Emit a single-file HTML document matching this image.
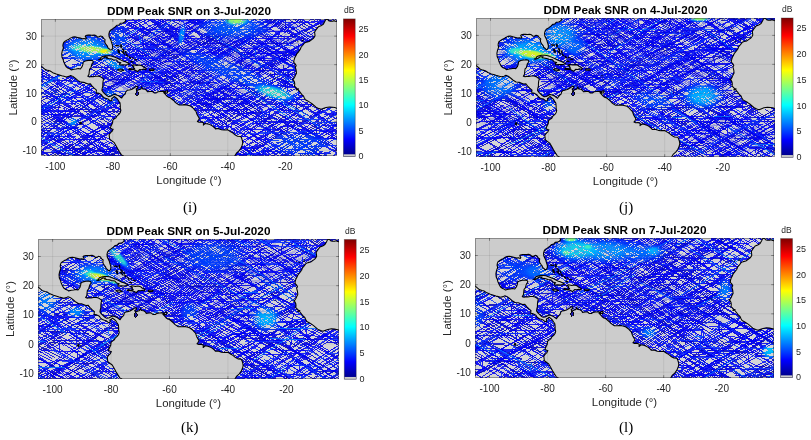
<!DOCTYPE html>
<html><head><meta charset="utf-8"><title>DDM Peak SNR</title>
<style>html,body{margin:0;padding:0;background:#fff;width:811px;height:440px;overflow:hidden}
svg{display:block;font-family:"Liberation Sans",sans-serif}</style></head>
<body><svg width="811" height="440" viewBox="0 0 811 440">
<defs><linearGradient id="jet" x1="0" y1="0" x2="0" y2="1"><stop offset="0.0000" stop-color="#800000"/><stop offset="0.0156" stop-color="#8f0000"/><stop offset="0.0312" stop-color="#9f0000"/><stop offset="0.0469" stop-color="#af0000"/><stop offset="0.0625" stop-color="#bf0000"/><stop offset="0.0781" stop-color="#cf0000"/><stop offset="0.0938" stop-color="#df0000"/><stop offset="0.1094" stop-color="#ef0000"/><stop offset="0.1250" stop-color="#ff0000"/><stop offset="0.1406" stop-color="#ff1000"/><stop offset="0.1562" stop-color="#ff2000"/><stop offset="0.1719" stop-color="#ff3000"/><stop offset="0.1875" stop-color="#ff4000"/><stop offset="0.2031" stop-color="#ff5000"/><stop offset="0.2188" stop-color="#ff6000"/><stop offset="0.2344" stop-color="#ff7000"/><stop offset="0.2500" stop-color="#ff8000"/><stop offset="0.2656" stop-color="#ff8f00"/><stop offset="0.2812" stop-color="#ff9f00"/><stop offset="0.2969" stop-color="#ffaf00"/><stop offset="0.3125" stop-color="#ffbf00"/><stop offset="0.3281" stop-color="#ffcf00"/><stop offset="0.3438" stop-color="#ffdf00"/><stop offset="0.3594" stop-color="#ffef00"/><stop offset="0.3750" stop-color="#ffff00"/><stop offset="0.3906" stop-color="#efff10"/><stop offset="0.4062" stop-color="#dfff20"/><stop offset="0.4219" stop-color="#cfff30"/><stop offset="0.4375" stop-color="#bfff40"/><stop offset="0.4531" stop-color="#afff50"/><stop offset="0.4688" stop-color="#9fff60"/><stop offset="0.4844" stop-color="#8fff70"/><stop offset="0.5000" stop-color="#80ff80"/><stop offset="0.5156" stop-color="#70ff8f"/><stop offset="0.5312" stop-color="#60ff9f"/><stop offset="0.5469" stop-color="#50ffaf"/><stop offset="0.5625" stop-color="#40ffbf"/><stop offset="0.5781" stop-color="#30ffcf"/><stop offset="0.5938" stop-color="#20ffdf"/><stop offset="0.6094" stop-color="#10ffef"/><stop offset="0.6250" stop-color="#00ffff"/><stop offset="0.6406" stop-color="#00efff"/><stop offset="0.6562" stop-color="#00dfff"/><stop offset="0.6719" stop-color="#00cfff"/><stop offset="0.6875" stop-color="#00bfff"/><stop offset="0.7031" stop-color="#00afff"/><stop offset="0.7188" stop-color="#009fff"/><stop offset="0.7344" stop-color="#008fff"/><stop offset="0.7500" stop-color="#0080ff"/><stop offset="0.7656" stop-color="#0070ff"/><stop offset="0.7812" stop-color="#0060ff"/><stop offset="0.7969" stop-color="#0050ff"/><stop offset="0.8125" stop-color="#0040ff"/><stop offset="0.8281" stop-color="#0030ff"/><stop offset="0.8438" stop-color="#0020ff"/><stop offset="0.8594" stop-color="#0010ff"/><stop offset="0.8750" stop-color="#0000ff"/><stop offset="0.8906" stop-color="#0000ef"/><stop offset="0.9062" stop-color="#0000df"/><stop offset="0.9219" stop-color="#0000cf"/><stop offset="0.9375" stop-color="#0000bf"/><stop offset="0.9531" stop-color="#0000af"/><stop offset="0.9688" stop-color="#00009f"/><stop offset="0.9844" stop-color="#00008f"/><stop offset="1.0000" stop-color="#000080"/></linearGradient></defs>
<clipPath id="cp0"><rect x="41" y="19" width="296" height="137"/></clipPath>
<defs>
<path id="p0a" d="M88.54 -8.54L104.87 1.66M98.74 -2.63L107.11 1.73M89.2 -6L102.69 1.72M103.69 2.29L124.95 14.45M81.88 -7.97L106.81 7.9M75.32 -11.37L101.87 3.12M76 -9.96L92.21 1.92M85.97 -1.34L93.2 3.88M78.94 -4.79L99.75 9.35M66.82 -11.58L101.76 7.19M61.57 -12.92L83.28 0.72M86.54 2.77L112.67 19.19M75.82 -3.32L86.43 3.37M72.34 -4.31L92.3 8.28M99.16 12.61L118.53 24.83M60.13 -11.55L88.31 6.31M101.8 14.86L124.65 29.33M74.74 3.99L95.52 17.64M78.65 6.86L88.87 12.75M87.69 16.02L121.94 37.82M35.38 -11.7L56.31 -0.81M61.01 2.21L97.72 21.88M98.88 22.51L111.95 29.51M54.37 0.54L66.56 6.51M66.53 8.64L85.88 20.14M45.7 -3.85L78.33 17.44M83.64 20.9L97.36 29.85M36.82 -8.79L53.91 2.1M51.06 2.64L70.08 12.36M37.93 -3.31L72.16 13.74M103.05 38.25L134.08 59.73M40.75 -4.35L48.45 1.04M56.08 7.89L93.29 26.17M66.51 15.35L103.34 37.91M38.11 0.61L51.43 7.69M67.23 17.81L101.85 39.26M35.23 -1.34L49.03 8.11M53.49 11.17L77.79 27.82M56.51 13.74L79.59 29.76M86.26 34.39L97.28 42.04M47.18 9.26L61.28 16.82M17.77 -5.69L37.17 4.88M64.87 19.97L77.22 26.7M42.08 8.09L49.7 12.25M79.98 28.77L95.73 37.36M90.29 35.07L105.03 43.17M90.8 41.91L104.39 51.57M31.47 -0.22L49.92 13.33M54.18 16.45L80.47 35.75M83.01 37.62L99.66 49.84M35.67 7.05L53.17 16.82M82.12 32.97L97.57 41.59M38.31 8.75L57.46 19.85M81.49 33.77L99.95 44.47M52.33 18.41L85.84 40.58M89.78 42.99L117.47 60.51M69.63 29.01L101.03 44.6M70.04 31.6L102.34 50.86M24.54 4.39L42.87 15.7M55.7 24.53L88.7 45.03M12.34 -4.07L35.12 11.98M50.55 23.63L69.83 34.2M34.76 16.81L69.11 37.3M9.25 1.48L43.77 22.55M50.21 26.48L78.15 43.53M2.62 -5.05L27.9 12.15M-16.62 -12.26L12.19 5.23M2.16 0.5L21.58 12.54M21.04 12.82L31.61 19.36M8.63 2.39L22.62 12.28M43.73 27.19L64.14 41.62M-11.1 -10.1L24.83 14.7M13.83 10.92L37.98 25.59M32.26 22.94L55.74 36.47M-3.67 2.25L24.21 19.24M43.09 30.74L67.62 45.68M24.14 20.09L43.21 31.74M9.75 12.92L27.12 23.11M-2.6 10.87L22.22 23.37M-19.17 3.37L12.06 18.93M15.09 20.44L22.92 24.35M28.14 26.95L45.01 35.35M32.02 29.58L51.07 39.36M18.5 23.05L27.97 27.95M63.59 46.4L80.86 55.34M49.7 39.89L70.02 51.56M17.87 22.58L55.48 44.44M56.59 45.08L91.32 65.25M35.53 33.6L53.14 43.94M-0.09 13.1L12.39 20.48M43.49 38.86L57.96 47.42M31.52 34.02L54.59 48.98M45.64 43.66L78.61 65.06M-27.41 3.47L3.49 20.44M27.35 33.55L55.53 49.02M1.92 15.58L11.04 21.95M17.76 26.65L49.47 48.79M35.37 41.25L73.12 60.77M-1.97 19.03L21.07 33.73M-1.95 20.17L35.89 44.34M40.73 47.43L71.36 67M-13.34 18.53L24.78 39.12M27.03 46.23L45.04 55.96M20.6 43.33L46.15 58.22M-27.71 15.8L7.49 36.88M27.6 48.93L54.15 64.83M-26.29 17.38L9.65 38.98M-5.69 27.08L22.55 47.4M2.72 41.39L34.83 58.02M-0.25 38.58L23.93 52.79M-11.86 29.81L21.38 51.26M3.97 44.98L12.69 50.61M-3.77 40.34L27.48 60.62M-36.09 28.85L0.83 47.64M-18.35 39.36L21.05 59.08M-1.46 46.09L30.25 66.47M-33.04 27.3L1 48.53M-14.86 42.88L18.5 62.21M-19.36 39.61L16.31 61.15M-8.73 3.04L14.55 -7.95M-26.59 19.85L3.5 1.89M-7.16 8.19L10.21 -1.73M-31.5 23.26L1.69 3.99M-9.34 12.89L26.31 -8.9M4.48 4.42L32.45 -9.2M-29.62 28.44L9.06 6.8M-19.92 23.49L6.78 8.65M-27.68 28.53L9.12 7.94M14.24 5.07L33.12 -5.5M0.95 12.31L11.13 6.82M16.25 4.06L37.67 -7.48M15.86 4.86L26.82 -0.57M17 7.62L30.87 0.39M-27.8 33.71L7.51 14.98M-2.72 21.05L21.32 8.37M25.82 5.99L58.72 -11.37M39.35 0.1L65.83 -15.99M-26.31 38.27L2.13 22.16M42.46 -0.68L80.65 -22.3M13.23 16.1L23.1 10.64M31.61 7.92L68.38 -14.66M-23.48 44.05L9.49 22.81M28.42 10.19L38.36 4.63M41.13 3.08L64.43 -9.96M-25.07 49.17L1.18 31.08M2.76 29.98L11.91 23.68M33.18 10.6L47.96 1.46M-4.99 30.41L5.99 24.7M-20.53 43.79L8.36 26.78M13.51 23.75L23.67 17.77M-18.45 43.38L13.75 24.61M34.01 13.17L45.48 6.61M30.25 16.64L42.48 9.94M38.44 13.81L70.81 -8.23M-0.31 41.23L35.4 16.52M-5.8 45.17L6.22 36.95M9.3 34.84L24.67 24.33M26.34 23.19L48.96 7.72M55.42 3.3L64.9 -3.18M32.46 17.63L49.42 9.64M8.65 32.71L29.39 20.96M34.37 18.13L49.14 9.76M48.99 10.32L72.18 -3.02M-22.6 51.71L9.95 33.28M49 11.17L61.76 3.94M70.09 -0.77L93.42 -13.98M41.43 15.53L73.48 0.51M40.7 16.48L76.33 -0.67M-3.62 45.77L26.1 26.98M49.23 12.36L84.41 -9.87M55.15 9.57L89.29 -12.22M1.48 43.8L27.51 28.18M68.13 6.17L83.95 -2.13M76.22 3.3L101.82 -10.24M41.28 22.87L58.29 13.29M64.67 9.7L98.77 -9.5M-14.15 60.87L22.15 36.75M24.38 35.27L47.89 19.64M53.52 15.9L66.94 6.98M61.08 12.95L78.2 3.75M20.47 35.46L51.59 18.59M19.44 39.71L55.58 16.75M-15.21 63.64L17.01 42.95M9.77 48.71L40.91 28.22M81.52 1.48L110.63 -17.68M-0.95 55.96L26.99 37.72M64.8 13.03L88.07 -2.15M-19.04 60.08L8.96 45.25M35.2 31.36L60.71 17.85M67.78 15.3L79.55 9.59M18.17 40.22L29.24 34.76M24.58 41.14L46.15 27.65M51.44 24.35L71.07 12.08M-12.96 55.13L17.31 41M76.04 12.67L103.94 -1.99M35.12 38.95L43.05 33.29M29.2 40.52L58.99 23.91M-9.7 58.58L18.52 44.89M71.11 19.79L92.56 9.23M35.27 39.8L49.76 31.74M26.68 45.41L36.55 39.79M73.25 18.87L109.49 -1.78M15.43 52.7L41.69 37.84M7.09 57.94L36.4 41.33M69.86 22.36L98.35 6.21M23.56 46.21L63.8 27.34M72.15 23.42L86.15 16.85M99.51 4.97L126.68 -12.01M63.07 30.62L89.49 16.68M56.49 37.59L80.22 22.32M82.14 22.52L117.24 0.27M94.95 14.95L110.42 5.11M50.91 43.19L87.04 21.63M94.71 17.05L130.67 -4.41M62.79 37.28L100.75 15.19M55.58 42.34L88 20.58M89.05 19.88L126 -4.92M80.73 28.67L94.7 21.12M23.64 61.8L57.8 41.77M26.93 61.24L65.75 39.16M39.73 61.2L70.82 40.27M72.75 38.97L101.85 19.38M27.4 70.15L61.22 47.28M89.36 32.84L111.9 20.88M74.21 40.84L92.87 29.11M97.3 30.9L118.02 20.4M66.56 46.95L86.16 36.79M95.87 32.62L132.58 12.61M64.6 50.41L98.55 31.83M48.98 59.59L83.73 40.43M64.79 52.08L85.04 39.39M92.59 38.84L105.17 31.51M47.57 67.68L79.48 47.8M81.81 46.34L115.06 25.62M75.13 51.25L103.65 34.05M64.25 58.5L86.68 44.32M87.77 43.63L97.84 37.25M73.94 53.46L109.23 35.23M93.67 45.47L130.95 21.16M71.03 61.17L108.59 36.4M60.68 68.52L98.32 43.91M81.73 55.36L111.91 35.65M102.83 45.03L135.64 24.99M-7.24 0.63L1.28 0.64M55.55 3.12L67.77 3.01M11.3 3.68L27.03 3.66M63.79 3.59L79.78 3.56M95.31 3.53L111.07 3.5M-3.79 4.1L1.47 4.12M17.77 4.18L28.63 4.22M40.08 4.27L55.49 4.33M25.61 6.41L31.69 6.37M58.11 6.23L62.43 6.2M92.49 6.03L99.94 5.99M-5.76 6.58L-0.57 6.6M57.59 8.74L63.37 8.72M71.72 8.69L87.52 8.64M28.36 10.83L39.53 10.7M9.79 12.84L25.06 12.54M6.15 13.4L9.55 13.33M55.26 13.93L63.42 13.93M-0.67 15.53L6.36 15.45M76.47 14.63L81.88 14.57M103.72 14.31L112.79 14.21M32.25 16.51L36.31 16.6M-2.84 16.54L3.88 16.65M17.66 16.87L27.73 17.03M58.04 17.52L67.7 17.68M66.55 18.04L81.07 18.16M4.14 17.63L17.01 18.08M34.63 20.48L47.86 20.2M-8.13 20.01L6.03 20.47M17.31 20.84L30.91 21.28M51.91 21.97L61.35 22.28M50.98 22.37L58.97 22.59M89.42 23.46L95.53 23.64M2.33 21.53L17.89 21.93M4.99 26.59L9.16 26.6M55.53 27.9L71.29 28.09M101.64 28.45L110.72 28.55M37.63 28.3L46.98 28.26M85.85 28.12L92.16 28.1M54.56 29.47L58.34 29.51M62.75 29.56L72.74 29.67M100.93 29.97L114 30.12M25.85 29.67L41.42 29.79M55.85 29.91L60.65 29.94M74.17 30.05L81.73 30.1M-3.68 30.81L7.01 30.94M9.56 31.74L19.73 31.81M28.87 31.87L35.41 31.92M53.03 32.04L68.92 32.15M87.84 32.27L90.87 32.3M15.45 32.28L29.36 32.39M71.37 32.72L76.89 32.76M77.34 34.9L82.2 35M5.06 33.89L19.45 34.33M45.69 36.28L53.19 36.22M19.46 38.2L32.74 38.08M8.72 37.83L13.31 37.89M58.59 38.47L62.7 38.53M-4.98 40.16L1.04 40.12M40.83 39.88L45.17 39.86M60.93 39.76L67.54 39.72M92.37 41.35L98.49 41.38M80.74 41.96L86.47 42.02M-6.17 46.16L1.01 45.88M10.91 45.48L17.47 45.22M98.42 41.98L102.49 41.82M24.67 45.38L35.92 44.94M81.77 43.16L92.92 42.73M18.3 45.98L28.74 45.77M20.51 46.52L25.99 46.39M-6.85 46.89L6.72 46.73M45.86 46.29L60.03 46.13M14.1 47.8L25.73 47.58M58.39 46.95L67.7 46.77M101.87 46.11L107.38 46M-1.85 48.2L2.36 48.14M45.32 47.63L49.59 47.58M89.3 47.1L100.75 46.96M5.51 47.15L13.24 47.44M53.56 48.92L64.92 49.34M6.52 31.01L6.39 27.54M5.33 -0.85L5.2 -4.3M9.55 51.1L9.4 48.54M7.21 13.17L7.05 10.47M10.76 19.74L10.86 17.33M29.46 16.76L29.34 14.21M34.57 40.05L34.62 37.69M34.86 24.43L34.9 22.25M35.64 11.18L35.72 7.79M48.05 16.71L48.12 14.57M48.88 37.8L48.8 34.57M48.95 25.09L48.91 23.43M55.2 23.14L55.4 21.34M59.81 28.61L60.21 25.1M61.52 29.74L61.57 26.04M64.92 40.35L64.58 36.59M63.84 28.39L63.53 24.96M61.84 6.25L61.49 2.37M69.46 20.15L68.97 16.42M69.65 17.05L69.41 15.12M73.95 46.71L73.65 44.39M70.05 16.54L69.54 12.6M76.8 35.29L76.63 33.49M73.99 6.12L73.7 3.1M76.22 20.74L76.06 19.04M77.37 46.82L77.35 45.14M77.11 18.51L77.09 16.41M80.11 24.6L80.45 21.34M79.4 34.68L79.78 31.41M84.49 19.12L84.36 16.12M87.43 50.34L87.31 47.44M86.25 21.23L86.14 18.46M88.86 31.75L88.88 29.72M89.71 12.62L89.78 8.67M90.26 49.2L90.45 46.84M93.44 9.57L93.66 6.87M95.77 40.86L95.72 38.33M95.19 50.26L95.26 48.57M97.12 22.24L97.19 20.17"/>
<path id="p0b" d="M74.32 -19.5L108.15 0.24M93.44 -8L124.98 10.07M86.84 -9.22L103.26 2.72M77.72 -14.15L98.24 -0.27M89.8 -4.33L126.72 18.91M66.55 -18.4L96.27 0.6M102.45 4.56L137.71 27.1M90.78 -0.1L104.22 8.44M100.07 8.83L110.79 16.56M71.37 -10.72L95.08 2.72M55.32 -17.42L85.93 -0.94M100.98 11.24L137.71 35.16M78.08 -3.02L109.48 17.73M91.16 6.35L104.12 14.52M78.02 -1.3L111.61 19.87M90.6 7.76L100.67 14.14M63.99 -8.61L85.17 4.85M91.83 9.08L113.16 22.64M41.98 -18.56L78.47 0.25M85.77 4.02L121.19 22.27M42.27 -17.67L78.73 1.44M86.63 5.58L118.86 22.47M58.67 -9.27L86.41 7.5M91.66 10.66L110.84 22.26M84.43 9.39L107.89 26.47M81.72 7.87L100.87 21.61M47.68 -13.78L73.03 2.88M97.88 19.2L120.9 34.31M66.19 -1.06L101.67 19.54M58.86 -4.55L74.47 4.45M93.96 15.69L103.66 21.28M58.3 -4.35L69.1 1.81M76.29 5.91L107.95 23.96M56.94 -4.65L66.3 1.26M71.44 4.5L99.65 22.29M102.78 24.26L111.92 30.03M75.91 8.53L95.81 22.32M61.19 -0.84L85.51 14.63M49.53 -5.56L86.34 13.08M87.91 13.88L99.8 19.9M57.63 -0.76L82.69 11.47M89.42 14.76L127.03 33.12M60.56 1.4L91.98 17.76M100.78 22.33L113.38 28.89M47.41 -5.09L56.49 -0.22M48.11 -4.03L73.08 9.25M53.16 -0.64L60.68 3.11M65.38 5.46L98.92 22.17M73.68 10L108.17 26.88M32.71 -12.69L68.68 8.83M70.24 9.76L83.73 17.83M88.78 20.85L100.65 27.95M51.12 -1.16L88.62 21.42M95.87 25.79L103.12 30.15M39.32 -7.53L63.36 6.76M91.9 23.72L105.13 31.59M83.29 20.82L114.68 40.82M56.8 4.86L81.42 18.78M103.04 31L126.63 44.34M40.69 -4.95L67.29 13.48M70.39 15.63L99.4 35.72M54.22 5.08L89.87 30M95.11 33.67L114.15 46.97M26.29 -6.74L50.94 5.37M96.78 27.89L128.05 43.25M29.02 -4.66L51.09 6.07M56.06 8.48L64.98 12.82M71.5 16L86.66 23.37M32.89 -5.24L64.71 14.25M27.04 -8.27L62.24 13.22M65.46 15.19L101.78 37.36M-3.95 -21.77L35.63 -0.72M59.31 11.88L69.84 17.48M76.49 21.02L112.96 40.43M31.87 -4.1L63.53 15.52M36.07 -1.17L51.67 8.83M54.41 10.59L63.87 16.64M66.87 18.57L81.26 27.79M12.21 -16.06L39.01 1.16M42.58 3.45L73.68 23.43M78.44 26.48L111.49 47.71M82.32 30.92L107.14 47.93M17.44 -13.38L37.44 0.5M40.2 2.42L48.98 8.51M100.4 44.21L116.53 55.4M33.99 2.19L43.04 7.04M99.79 37.48L111.56 43.78M35.05 0.57L48.81 9.7M91.19 37.84L116.69 54.76M44.23 8.73L62.54 18.7M79.7 28.06L101.92 40.17M8.86 -10.04L38.33 6.05M52.02 13.52L71.81 24.31M99.46 39.4L136.9 59.83M26.06 -0.22L61.69 19.36M65.13 21.25L88.98 34.35M25.56 -1.87L37.03 5.16M39.45 6.64L68.76 24.61M72.72 27.04L106.85 47.96M19.69 -8.59L53.94 15.73M7.19 -8.83L30.19 4M56.04 18.42L74.24 28.58M65.41 24.45L76.68 30.98M21.73 -0.21L44.47 12.93M50.4 16.36L77.33 31.92M82.56 34.94L120.53 56.88M23.88 1.8L52.87 18.38M61.27 23.19L73.34 30.09M79.06 33.37L104.11 47.7M14.39 -6.69L24.55 0.03M87.08 41.4L109.41 56.18M21.72 -0.07L50.58 18.2M56.17 21.73L87.98 41.86M16.07 2.44L56.01 22.26M57.3 22.9L68.39 28.4M44.57 16.41L63.82 27.89M6.52 -6.75L21.95 2.78M45.71 17.45L54.54 22.91M62.23 27.65L71.5 33.38M13.28 -1.82L47.25 19.28M14.1 0.65L46.31 19.48M52.89 23.32L85.45 42.35M5.49 -2.93L24.34 7.75M30.35 11.15L49.06 21.74M54.92 25.07L70.87 34.1M78.83 38.6L88.83 44.26M92.32 46.24L106.09 54.03M42.95 17.49L76.12 40.86M79.3 43.09L89.12 50.01M-10.41 -9.78L7.06 -0.21M9.38 1.07L48.5 22.51M13.91 -1.32L27.45 8.13M32.7 11.8L54.89 27.29M55.95 28.03L76.07 42.07M81.27 45.7L116.09 70.01M54.01 27.22L64.49 34.37M72.68 39.95L86.46 49.33M36.05 17.25L49.2 24.98M52.24 26.76L61.48 32.19M66.65 35.23L89.2 48.48M-10.66 -10.3L21.53 8.91M23.56 10.12L33.62 16.12M76.41 41.66L89.06 49.2M82.31 46.07L99.86 56.79M31.38 14.52L68.43 39.73M74.4 43.8L92.04 55.8M6.81 1.21L22.59 10.93M30.13 15.57L63.87 36.33M69.91 40.05L106.14 62.36M39.94 22.08L54.74 31.06M58.83 33.55L91.62 53.46M13.14 3.57L48.54 28.22M49.53 28.91L70.34 43.4M73.83 45.83L90 57.09M27.45 16.18L65.37 39.7M67.82 41.22L79.11 48.22M-17.73 -11.18L14.6 8.83M77.97 48.06L85.53 52.74M26.48 15.01L39.59 24.27M28.72 17.39L39.98 25.16M46.87 29.91L75.15 49.44M-12.39 -7.12L4.65 3.65M9.22 6.54L43.71 28.35M51.75 33.44L74.18 47.62M-20.76 -10.1L12.5 10.11M41.91 27.98L51.88 34.04M55.59 36.3L77.73 49.76M3.11 6.15L28.94 21.03M62.49 40.36L72.39 46.07M-21.85 -7.57L16.67 14.54M24.03 18.76L41.15 28.59M48.42 32.76L75.97 48.57M-22.59 -7.56L14.31 13.66M21.05 17.54L28.17 21.63M72.06 46.87L81.4 52.24M-16.64 -4.83L19.49 17.25M50.05 35.92L80.31 54.41M33.4 26.79L48.64 35.73M55.17 39.56L70.28 48.42M-24.45 0.07L7.72 15.94M9.44 16.79L44.74 34.2M45.92 34.78L71.94 47.62M66.02 45.42L103.7 64.39M47.94 36.81L71.15 48.39M-22.07 1.81L6.77 16.62M58.27 43.05L80.29 54.35M-0.63 13.15L10.1 18.7M-18.63 0.65L5.03 14.24M6.5 15.08L19.36 22.47M24.34 25.33L47.29 38.5M-20.44 0.32L16.33 21.69M-9.81 6.96L28.2 29.29M56.69 46.03L88.16 64.51M14.41 21.67L36.55 34.76M-18.03 -0.2L5.5 14.95M6.93 15.88L21.26 25.1M23.75 26.71L61.27 50.86M-25.7 2.88L0.67 17.09M7.43 20.73L41.12 38.89M-3.18 11.75L24.79 29.44M32.34 34.22L68.79 57.28M-11.25 6.29L1.14 14.33M2.91 15.47L26.4 30.7M-22.97 -0.88L1.38 14.93M4.44 16.92L41.33 40.87M6.03 21.84L20.17 29.6M49.78 46.62L85.21 66.5M-3.08 17.53L26.1 33.83M29.71 35.84L52.75 48.71M-4.34 16.88L9.39 25.03M16.71 29.37L54.72 51.93M-5.14 14.31L3.33 19.93M10.67 24.8L41.56 45.28M-8.36 11.87L5.24 21.15M10.93 25.03L38.75 44.02M43.42 47.2L58.36 57.41M25.61 36.63L59.26 58.1M7.05 24.69L33.49 42.12M32.69 43.4L42.04 48.45M-26.7 12.22L0.44 26.74M1.69 27.41L12.94 33.43M14.26 34.13L21.86 38.2M-1.52 20.88L32.18 43.92M34.91 45.79L63.15 65.09M1.89 25.07L36.47 47.52M1.29 25.42L15.04 34.27M21.71 38.57L58.93 62.53M-8.48 18.34L23.28 39.89M30.35 44.68L55.04 61.44M-30.1 10.79L0.05 28.35M8.3 33.16L33.35 47.74M-0.96 27.85L22.78 41.92M31.32 46.98L68.55 69.05M-10.75 23.06L13.36 37.07M14.41 37.68L42.35 53.92M6.67 35.22L20.58 42.74M-8.59 25.83L9.23 36.21M13.52 38.71L46.89 58.16M4.28 33.81L13.2 39.01M-4.09 29.24L24.09 45.79M-12.82 21.4L8.38 35.31M13.06 38.39L47.19 60.79M10.08 38.43L26.5 48.27M16.95 43.36L31.64 52.19M-1.14 29.47L22.26 46.27M-5.67 27.33L11.09 39.08M16.16 42.64L23.25 47.61M-5.98 29.9L26.05 51.21M4.11 36.98L32.25 55.92M-35.76 14.44L2.02 37.7M0.47 35.11L10.42 42.08M12.72 43.69L24.36 51.85M11.72 45.58L49.45 70.04M-10.17 32.32L16.27 49.62M-13.36 32.02L23.73 55.26M0.31 39.08L18.22 51.45M6.2 46.7L22.45 55.79M-22.79 31.03L6.21 47.28M-7.57 37.35L3.83 44.63M7.88 47.21L38.44 66.72M-20.54 37.6L11.7 53.82M-6.28 42.08L11.54 53.24M-33.21 25.2L2.32 47.76M-9.97 47.48L7.42 56.2M-9.41 47.55L22.88 64.45M-31.51 10.36L1.07 -5.69M-3.87 1.16L31.73 -18.19M4.04 0L25.09 -13.63M4.59 1.08L26.24 -13.48M6.97 0.93L37.3 -16.68M-15.35 16.16L14.27 -2.06M-33.55 22.97L3.33 3.48M9.52 0.2L43.03 -17.51M5.77 6.13L30.89 -10.2M-6.66 14.75L12.29 2.43M15.2 0.53L24.92 -5.79M-8.25 8.82L16.96 -2.87M-30.67 21.54L2.31 5.48M-38.65 25.32L0.36 6.97M2.3 6.06L27.18 -5.64M0 8.27L18.21 -0.45M14.56 3.72L26.82 -3.13M14.53 4.34L44.22 -12.17M-11.74 22.44L10.38 9.1M13.41 7.28L23.1 1.44M-23.74 24.47L10.07 7.73M-10.52 18.64L25.38 0.77M-1.58 14.74L24.59 2.1M26.02 1.41L35.89 -3.36M-0.38 17.14L26.47 2.53M10.06 12.48L28.39 2.68M-32.44 35.69L-0.75 18.75M2.3 17.12L39.78 -2.92M14.12 11.48L22.09 7.25M25.89 5.23L60.63 -13.19M-0.35 23.54L13.32 15.29M19.83 11.36L57.54 -11.43M7.39 19.18L36.08 2.93M30.74 6.41L69.38 -14.97M0.88 22.66L33.8 5.08M39.44 2.07L77.66 -18.33M-2.56 27.73L23.35 12.12M26.29 10.35L48.14 -2.82M-21.32 40.42L-0.67 27.75M3.25 25.34L26.56 11.03M10.48 22.17L17.6 17.58M18.85 16.78L40.84 2.61M-7.58 30.34L25.4 11.88M16.76 20.34L31.37 10.27M-23.75 45.76L7.38 26.53M8.28 25.98L31.2 11.82M51.9 -0.97L77.51 -16.8M24.69 14.96L43.86 4.98M44.84 4.47L73.69 -10.56M-14.66 39.29L9.04 25.54M14.55 22.35L41.83 6.53M47.08 3.48L67.16 -8.16M29.66 14.25L56.08 -1.3M18.7 20.91L40.05 8.69M44.41 6.2L61.43 -3.55M16.78 22.84L51.84 2.4M53.23 1.58L90.15 -19.94M-2.31 33.94L30.88 14.96M48.35 4.96L73.95 -9.68M-3.51 35.57L22.56 20.38M30.86 15.55L39.26 10.66M47.47 5.88L60.96 -1.97M21.66 20.64L48.55 6.21M54.65 2.94L91 -16.57M-25.42 47.17L5.33 30.31M7.44 29.15L26.73 18.57M46.51 7.73L79.34 -10.28M-0.94 40.62L24.7 23.16M25.58 22.56L34.47 16.51M13.94 26.16L52.45 7.65M61.46 3.32L93.11 -11.89M-9.76 37.5L1.26 32.32M8.37 28.97L25.19 21.05M-21.89 50.02L6.15 34.13M55.61 6.09L77.91 -6.55M5.35 35.44L13.1 30.98M14.86 30.5L41.62 15.35M7.74 31.32L36.73 17.73M-24.75 47.98L9.05 31.71M15 28.85L24.71 24.18M28.57 22.32L39.48 17.06M-17.28 55.8L9.34 38.81M-16.53 52.84L4.41 40.66M6.96 39.18L25.47 28.41M32.05 24.58L49.22 14.59M50.52 13.84L81.54 -4.2M-8.06 49.53L0.4 44.45M32.55 25.15L57.2 10.36M62.09 7.42L76.03 -0.94M21.54 30.63L60.93 9.95M-15.79 51.24L8.62 38.22M40.47 21.22L59.94 10.83M66.98 7.07L105.64 -13.56M19.42 33.34L43.85 20.42M45.46 19.57L69.11 7.06M-3 45.61L34.27 25.92M36.9 24.53L63.11 10.69M67.17 8.55L78.84 2.38M-19.5 57.08L2.26 44.84M3.24 44.28L12.46 39.09M14.42 37.99L38.73 24.3M0.74 45.38L10.54 40.11M29.57 29.88L41.39 23.53M49.93 18.95L57.16 15.06M79.61 2.99L87.23 -1.1M-18.08 56.36L13.44 39.27M55.25 16.61L75.91 5.41M77.69 4.44L92.91 -3.81M-12.97 60.3L14.41 42.9M58.71 14.76L81.11 0.53M-12.43 59.6L9.13 46.23M10.83 45.17L48.25 21.97M49.8 21.01L75.89 4.84M24.85 37.91L46.69 23.89M33.97 33.17L56.58 18.4M17.42 40.77L30.66 33.76M66.84 14.6L80.43 7.41M85.97 4.47L96.02 -0.85M4.75 45.91L24.09 36.52M83.99 7.43L109.84 -5.12M1.96 48.19L11.03 43.73M35.15 31.86L59.94 19.66M61.59 18.84L83.71 7.95M89.01 5.35L126.96 -13.33M-12.64 64.4L20.39 43.76M77.44 8.1L98.48 -5.05M25.45 37.2L39 30.88M85.38 9.22L93.21 5.57M94.34 5.04L115.96 -5.05M2.42 51.36L42.07 30.52M2.52 61.78L37.89 36.49M71.94 12.14L87.41 1.08M19.95 49.76L31.74 41.35M46.8 30.62L82.5 5.17M89.31 0.32L97.68 -5.65M13.65 48.17L23.25 42.93M70.39 17.16L88.96 7.01M96.08 3.12L121.51 -10.78M-9.75 62.24L27.79 41.31M61.57 22.47L97.43 2.47M26.58 40.98L47.36 30.89M91.85 9.29L127.44 -7.98M8.55 50.61L19.22 45.35M27.39 41.32L42.65 33.81M44.21 33.04L62.56 24.01M94.73 8.16L124.75 -6.62M11.84 52.1L32.87 40.55M36.08 38.79L46.19 33.23M51.45 30.34L69.6 20.37M76.23 16.73L103.44 1.78M16.97 49.97L32.75 41.2M51.44 30.81L78.64 15.69M86.46 11.35L112.52 -3.13M-6.66 64.41L20.89 48.71M40 37.82L67.26 22.29M47.7 34.45L66.26 23.94M74.84 19.09L90.77 10.07M99.47 5.15L128.85 -11.48M37.96 40.44L61.24 27.25M57.45 30.6L81.93 14.76M82.96 14.09L116.74 -7.76M29.24 48.89L65.42 26.27M69.57 23.69L76.74 19.2M80.03 17.15L93.64 8.64M30.15 49L67.99 25.28M75.49 20.58L105.45 1.8M29.38 47.23L41.94 40.85M95.74 13.49L106.86 7.84M23.88 51.31L54.63 35.08M93.67 14.48L128.2 -3.75M18.56 53.71L38.18 43.81M42.18 41.79L77.69 23.87M80.51 22.45L99.46 12.89M60.26 33.08L88.88 14.99M92.54 12.68L114.99 -1.52M63.42 32.59L96.35 15.82M35.75 47.06L48.37 40.71M50.71 39.53L74.9 27.35M79.09 25.24L99.78 14.83M88.42 17.05L109.6 3.43M46.92 44.46L60.61 35.52M62.01 34.61L96.92 11.82M20.67 61.46L44.75 46.2M53.05 40.94L76.8 25.9M40.27 49.72L62.02 35.89M65.8 33.48L93.38 15.95M20.89 61.11L48.45 44.66M41.15 49.57L64.28 35.78M69.91 32.43L99.69 14.68M41.94 49.41L58.1 40.01M102.81 14L130.01 -1.83M31.02 58.83L47.65 47.67M48.29 46.21L73.99 32.31M103.05 16.61L119.97 7.46M65.96 36.99L87.5 24.35M31.67 57.26L54.48 44.12M62.04 39.76L82.22 28.13M88.61 24.45L99.15 18.38M22.59 59.49L55.19 44.02M61.44 41.05L75.3 34.47M78.13 33.13L99.56 22.96M69.06 37.28L79.45 31.37M51.56 48.3L88.39 26.33M89.37 25.75L106.03 15.81M44.57 52.87L68.98 38.45M73.77 35.62L98.71 20.89M31.47 63.04L54.48 48.41M58.57 45.81L74.16 35.89M82.9 30.13L99.21 19.02M102.06 17.08L117.59 6.5M34.64 63.3L61.02 45.58M64.54 43.21L79.62 33.08M84.49 29.81L117.12 7.9M34.2 64.07L64.85 43.76M70.22 40.2L97.18 22.34M99.98 20.48L106.91 15.89M67.4 43.1L102.78 19.17M56.11 49.91L89.18 32.84M92.99 30.87L127.24 13.19M25.06 66.96L63.2 46.72M71.87 42.12L83.21 36.1M59.74 49.94L73.23 41.45M100.43 24.35L138.06 0.7M30.97 64.51L70.9 44.28M73.82 42.8L92.26 33.45M95.03 32.2L130.04 14.05M66.51 47.53L88.27 33.44M90.02 32.31L120.12 12.82M59.15 52.65L89.49 36.1M89.96 36.99L127.5 16.29M69.91 48.57L78.43 43.81M93.44 34.12L106.12 26.17M85.55 41.44L102.88 31.95M55.89 58.26L92.41 38.23M101.09 33.47L126.63 19.46M70.15 51.04L91.86 39.41M58.03 58.97L91.36 39.56M58.5 59.56L90.71 41.29M103.4 33.74L115.7 25.96M76.7 51.83L84.3 47.29M75.8 52.86L93.86 42.13M101.82 37.4L124.48 23.94M53.75 67.14L92.1 43.87M100.58 38.73L130.16 20.78M81.07 51.37L96.12 42.27M100.74 39.48L110.92 33.32M74.98 55.84L111.81 30.46M81.85 51.52L117.82 26.52M89.8 50.41L98.24 46.24M58.17 69.23L92.67 46.35M95.85 44.23L126.95 23.61M85.71 56.03L106.33 45.69M101.63 49.25L110.15 44.83M95.72 52.52L118.99 40.24M25.1 0.67L34.87 0.68M43.32 0.68L54.01 0.69M64.4 0.7L73.32 0.71M93.85 0.73L105.86 0.74M-7 0.86L7.52 0.93M23.56 1.02L33.61 1.07M50.48 1.16L63.87 1.23M69.83 1.27L81.01 1.33M85.32 1.35L100.22 1.43M3.08 3.55L13.19 3.47M24.45 3.37L36.67 3.27M75.41 2.95L79.98 2.91M84.58 2.87L88.59 2.84M100.58 2.74L109.3 2.67M34.15 3.64L49.76 3.61M71.66 4.39L86.36 4.45M101.61 4.51L114.65 4.56M15.5 6.46L18.85 6.44M42 6.32L53.69 6.25M78.65 6.11L88.86 6.05M11.91 6.65L15.03 6.66M23.46 6.69L29.82 6.72M46.32 6.79L57.23 6.83M71.44 6.89L86.55 6.95M100.22 7.01L110.45 7.05M-0.82 8.92L11.74 8.88M31.79 8.82L43.92 8.78M91.01 8.63L96.65 8.61M-4.33 11.36L11.46 11.02M49.12 10.59L54.55 10.52M69.17 10.35L75.06 10.28M92.19 10.08L102.64 9.95M29.77 12.44L33.41 12.37M49.24 12.05L60.35 11.83M69.52 11.65L73.75 11.57M80.67 11.43L86.64 11.31M24.43 13.04L37.24 12.78M41.94 12.69L54.98 12.43M76.69 12L89.86 11.74M98.52 11.57L108.56 11.37M14.28 14.2L27.68 13.77M68.98 12.42L84.66 11.91M94.08 11.6L102.08 11.34M-0.18 13.92L12.85 13.92M17.97 13.92L29.16 13.92M33.66 13.92L45.65 13.92M69.31 13.93L84.55 13.93M99.65 13.93L113.12 13.93M26.68 15.21L31.63 15.15M43.13 15.02L56.44 14.86M-8.52 15.67L3.81 15.93M10.75 16.07L13.82 16.13M22.93 16.32L27.4 16.41M57.09 17.03L64.86 17.19M69.07 17.27L74.53 17.39M78.98 17.48L93.84 17.78M35.58 17.16L40.05 17.23M83.23 17.93L88.68 18.02M99.43 18.19L111.94 18.39M1.33 17.52L13.57 17.62M26.68 17.72L33.22 17.78M51.13 17.92L60.83 18M84.65 18.18L94.7 18.26M31.85 18.59L41.98 18.94M63.74 19.69L70.61 19.93M90.79 20.63L105.91 21.15M65.11 19.84L75.5 19.61M79.67 19.53L92.91 19.24M99.91 19.09L104.08 19.01M40.13 21.58L43.18 21.68M75.41 22.73L78.45 22.83M98.29 23.48L110.69 23.88M13.92 21.31L19.93 21.48M70.78 22.93L84.8 23.33M103 23.85L110.6 24.07M37.15 22.43L50.31 22.78M68.29 23.24L78.81 23.52M83.84 23.65L94.39 23.92M42.7 25.07L58.38 24.64M61.56 24.55L76.96 24.13M85.85 23.89L90.82 23.75M24.3 26.63L33.43 26.65M40.44 26.67L46.32 26.68M53.58 26.7L58.14 26.71M65.93 26.72L70.25 26.73M89.33 26.78L95.09 26.79M0.39 27.25L14.6 27.42M23.14 27.52L36.34 27.67M78.28 28.17L87.97 28.28M56.66 28.23L66.8 28.19M10.59 28.99L15.2 29.04M23.32 29.13L34.59 29.25M81.89 29.77L96.7 29.93M8.3 29.54L12.06 29.57M102.94 30.27L108.6 30.31M23.13 31.14L34.57 31.28M53.22 31.51L59.72 31.59M67.52 31.69L72.08 31.75M79.09 31.83L91.05 31.98M-5.68 31.64L-0.81 31.67M-2.2 32.14L11.73 32.25M96.18 32.91L109 33.01M1.62 32.38L11.82 32.5M30.67 32.72L45.63 32.9M66.81 33.14L77.33 33.26M98.49 33.51L114.38 33.7M2.69 33.47L15.22 33.71M32.95 34.05L40.36 34.19M54.44 34.46L63.58 34.64M-4.36 33.21L10.92 33.66M16.87 33.84L26.29 34.11M35.64 34.39L39.98 34.52M52.58 34.89L60.38 35.11M82.07 35.75L89.78 35.98M99.73 36.27L103.96 36.4M27.77 34.58L40.91 34.98M49.66 35.25L52.67 35.34M79.11 36.14L93.79 36.59M102.69 36.86L110.1 37.09M23.12 36.46L28.33 36.42M73.61 36.06L83.35 35.98M8.62 37L14.4 36.96M29.8 36.84L42.5 36.74M48.89 36.69L52.08 36.67M73.53 36.5L79.72 36.45M1.61 38.37L12.74 38.26M53.43 37.89L66.56 37.77M83.06 37.61L87.98 37.57M97.64 37.48L103.29 37.43M25.22 38.05L37.09 38.2M69.41 38.61L83.92 38.8M88.5 38.86L101.51 39.03M21.45 40L29.67 39.95M96.63 39.55L108.55 39.48M29.1 40.27L39.97 40.27M46.85 40.27L51.97 40.27M88.33 40.28L97 40.28M15.29 40.98L18.62 40.99M36.92 41.08L49.17 41.14M65.99 41.22L71.68 41.25M-2.69 41.04L12.12 41.2M15.63 41.24L20.19 41.29M40.56 41.51L45.55 41.57M57.51 41.7L68.57 41.82M6.71 42.19L21.85 42.16M39.95 42.13L48.56 42.12M55.48 42.11L63.52 42.09M75.28 42.07L80.57 42.07M94.78 42.04L102.32 42.03M23.95 44.96L34.17 44.55M4.44 46.16L14.84 45.76M56.77 44.13L65.22 43.81M39.15 45.56L46.99 45.4M64.19 45.04L75.26 44.82M-9.29 47.25L2.56 46.96M36.05 46.14L49.82 45.81M66.2 45.41L76.33 45.16M93.32 44.75L98.66 44.62M14.7 46.64L23.32 46.54M31.71 46.45L37.93 46.38M76.56 45.94L81.38 45.89M85.36 45.84L96.86 45.71M103.02 45.64L117.09 45.48M38.01 47.34L47.34 47.16M75.29 46.62L88.03 46.37M22.19 47.91L36.32 47.74M64.49 47.4L76.18 47.26M22.69 48.69L34.52 48.42M39.59 48.3L53.09 47.99M64.84 47.72L79.17 47.39M90.22 47.14L100.63 46.9M-4.06 46.8L-0.72 46.92M29.43 48.03L33.24 48.17M-0.19 37.72L-0.07 34.32M0.42 21.57L0.55 17.92M6.46 42.86L6.39 40.73M6.1 32.6L6.02 30.32M5.79 23.47L5.65 19.59M7.25 50.53L7.12 47M5.68 8.6L5.59 6.15M8.51 34.11L8.29 30.66M6.42 0.36L6.31 -1.44M11.23 8.32L11.37 4.77M14.39 51.38L14.65 48.14M16.02 30.85L16.32 27.06M18.42 0.5L18.61 -1.86M23.29 24.87L23.39 23.31M29.73 33.37L29.63 30.64M28.76 5.96L28.64 2.37M30.46 38.12L30.35 35.67M35.15 8.82L35.18 6.8M35.18 29.52L35.25 26.9M35.89 1.17L35.96 -1.56M35.61 22.38L35.35 18.89M43.09 42.23L42.82 38.56M47.3 37.93L47.37 35.83M48.81 49.17L48.72 45.89M48.2 26.45L48.15 24.63M47.93 0.41L47.86 -2.63M49.22 40.38L49.17 37.27M49.08 32.53L49.05 30.73M52.87 44.18L53.3 40.24M54.45 29.86L54.71 27.57M58.49 40.26L58.8 37.49M61.34 15.05L61.62 12.63M62.1 8.37L62.54 4.51M61.74 13.49L61.79 10.24M71.8 34.79L71.48 32.17M67.87 2.41L67.67 0.76M78.03 48.11L77.71 44.71M78.31 43.47L77.95 40.23M73.87 3.87L73.55 1.08M79.1 50.71L78.8 47.55M78.17 41.55L78.07 37.88M77.44 14.52L77.39 12.88M82.55 1.37L82.9 -1.94M78.53 42.16L78.94 38.66M81 20.96L81.26 18.7M82.72 6.25L82.91 4.57M85.21 35.37L85.14 33.73M85.97 40.38L85.81 37.29M85.11 24.04L85.01 22.26M86.11 32.88L86.05 30.76M85.9 25.47L85.81 22.69M85.23 2.81L85.16 0.48M88.95 24.55L88.98 21.74M89.44 27.04L89.49 24.07M92.64 19.61L92.81 17.38M95.47 25.19L95.42 22.78M95.16 9.58L95.13 7.9M96.82 7.81L96.97 3.84M95.86 47.04L95.94 44.74M96.41 30.43L96.51 27.42M97.07 10.6L97.14 8.53M97.35 2.19L97.45 -0.63M96.37 43.2L96.46 40.62M96.64 35.55L96.76 32.31M101.33 41.75L101.28 38.21M101.12 25.97L101.07 22M101.7 28.74L101.95 25.98M103.17 12.42L103.51 8.67"/>
<path id="p0c" d="M97.85 6.06L117.16 20.21M100.77 5.94L120.39 17.06M93.47 3.12L131.32 23.51M63.95 -12.88L98.58 9.67M57.01 -10.58L79.93 6.11M55.6 -10.86L80.48 6.98M76.45 3.17L113.96 24.08M33.63 -20.78L68.14 3.14M102.57 27.01L118.8 38.26M80.46 13.17L96.03 21.45M103.97 25.67L122.21 35.36M99.38 31.17L118.69 43.76M37.86 -5.85L49.92 0.97M74.68 14.71L113.89 34.73M77.9 16.6L112.37 33.77M90.03 25.01L105.08 32.33M51.54 11.51L65.65 20.88M56.34 17.44L82.97 36.35M103.69 45.01L125.84 57.37M15.22 -4.62L30.98 4.51M28.77 2.82L50.27 17.05M73.75 34.77L111.95 58.36M92.75 46.62L131.15 69.06M75.79 37.47L102.8 52.27M13.33 -0.49L50.19 24.62M9.65 1.74L31.03 14.3M18.22 8.89L38.07 20.94M36.04 22.1L69.89 43.06M75.22 47.7L107.66 66.39M34.79 25.43L63.52 41.95M29.28 22.33L39.85 28.77M28.02 26.29L60.44 42.62M15.02 20.85L30.69 28.9M1.34 11.84L38.08 33.67M46.49 38.67L82.8 60.26M42.11 39.43L61.55 49.9M1.74 19.66L23.57 31.91M27.06 33.87L41.56 42.01M-3.53 21.13L29.6 38.26M-15.39 9.89L2.26 21.53M37.43 44.73L51.38 53.93M23.32 38.98L45.66 50.93M5.72 39.98L17.21 47.05M-28.07 19.8L6.52 42.22M-14.25 6.26L7.54 -4.06M-4.3 15.86L35.06 -3.46M-12.58 23.04L12.84 9.78M33.39 -0.92L41.42 -5.11M-31.64 34.75L3.79 15.82M-1.09 31.38L23.2 15.97M26.2 14.07L46.5 1.2M8.65 23.31L16.56 19.2M-13.5 39.52L17.59 22.83M38.8 14.16L61.66 -1.65M0.07 32.82L12.43 26.88M53.52 7.71L62.78 3.35M63.99 2.79L100.63 -14.46M17.62 28.38L42.41 14.11M-18.31 43.53L3.11 33.49M16.16 34.46L52.25 11.42M-16.85 50.78L16.42 33.31M12.21 36.3L20.98 31.62M-21.82 55.16L11.04 37.77M72.3 3.42L79.81 -1.58M11.88 39.39L21.74 34.09M81.42 1.4L104.15 -12.69M54.27 19.02L79.27 2.96M49.09 22.83L75.13 5.69M31.85 32.75L59.48 19.33M42.46 29.26L77.67 12.82M48.65 27.06L67.36 17.23M44.52 31.75L70.96 12.85M31.35 38.5L43.99 31.59M51.31 27.59L62.55 21.45M50.63 29.3L82.92 13.63M94.21 13.06L106.44 7.33M32.42 46.79L52.28 33.94M44.07 39.76L71.75 25.69M73.93 24.58L88.16 17.34M33.85 49.78L52.73 37.85M35.62 46.75L58.92 34.89M28.75 55.43L53.65 39.42M20.19 61.91L44.06 46.33M93.53 20.81L130.57 -0.91M82.2 29.81L112.94 12.33M81.88 30.99L114.49 10.25M54.45 49.5L81.37 31.17M101.7 30.1L114.52 23.08M81.51 42.09L113.52 24.18M43.28 64.57L81.17 43.83M95.62 37.4L108.45 30.53M92.99 40L101.28 35.3M85.66 46.48L119.43 26.31M101.97 47.44L111.87 42.49M69.94 65.12L100.74 46.3M81.54 58.42L114.55 37.68M80.84 61.18L103.21 48.52M92.59 58.24L116.2 46.21M12.16 0.65L20.72 0.66M4.29 6.52L8.88 6.5M33.01 10.56L46.96 10.27M52.95 10.14L66.64 9.85M73.44 9.71L87.01 9.42M91.81 11.21L107.59 10.89M32.77 13.6L42.22 13.29M60.22 12.71L65.78 12.52M-4.26 21.31L6.64 21.08M10.68 21L15.04 20.9M-9.89 26.52L5.21 26.1M15.35 25.83L29.93 25.42M-6.41 28.46L0.07 28.43M12.8 28.39L18.84 28.37M82.4 32.81L86.94 32.84M89.23 35.13L98.97 35.32M66.74 35.77L72.45 35.94M1.05 36.64L6.74 36.59M94.16 36.34L104.4 36.26M76.49 39.67L92.47 39.57M-5.78 40.27L7.54 40.27M71.3 40.28L79.19 40.28M101.48 40.28L109.96 40.28M90.64 42.06L100.25 42.17M45.45 44.1L57.86 43.6M78.5 42.78L82.93 42.6M101.25 42.41L107.22 42.18M3.35 46.29L7.32 46.21M96.31 44.39L103 44.25M9.81 43.09L9.97 39.22M30.14 31.35L30.01 28.44M40.7 8.91L40.49 5.93M48.32 15.8L48.27 13.69M73.01 47.21L72.54 43.64M77.35 34.96L77.05 32.24M75.89 21.95L75.63 19.62M77.68 47.75L77.92 45.46M89.17 6.78L89.19 4.75M96.08 27.16L96.19 24.15M102.48 20.09L102.63 18.36"/>
<path id="p0l" d="M94.79 -8.04L123.82 8.99M44.01 -14.92L75.18 2.46M57.88 4.63L77.13 16.9M85.05 20.83L96.58 27.35M84.22 29.69L96.76 37.73M69.86 21.42L92.87 33.76M69.95 23.73L87.83 35.61M11.3 -3.43L37.8 12.37M71.21 46.62L103.43 69.39M-20.37 -4.75L5.16 10.23M36.06 32.15L61.74 45.44M-7.5 37.64L14.09 49.34M-34.84 23.74L0.01 43.23M-5.89 9.59L23.56 -4.37M-3.21 25.95L34.68 2.93M-4.22 25.76L8.28 18.84M37.87 5.78L48.95 -1.85M-20.76 43.49L12.17 24.65M32.74 22.78L41.89 17M22.74 30.68L39.53 21.72M3.78 11.12L12.14 11.02M34.97 21.91L42.64 22.13M36.1 32.44L49.56 32.55M34.56 8.41L34.34 5.55M48.61 6.57L48.57 4.6M74.68 13.28L74.44 10.73"/>
<path id="p0e" d="M96.87 -4.09L122.03 13.76M96.72 -2.3L107.24 5.22M90.86 -3.05L107.66 7.57M103.39 6.31L129.28 19.63M60.93 -15.21L94.56 5.18M79.29 -3.03L107.13 12.88M80.51 -0.75L91.68 5.23M78.6 -1.4L98.87 9.26M67.59 -4.15L92.74 11.77M94.97 13.18L118.53 28.09M63.97 -5.85L78.42 3.34M101.75 18.18L134.5 39.01M64.47 -4.45L84.65 9.03M92.33 14.16L120.82 33.19M65.49 -2.66L74.56 3.4M78.16 5.8L100.9 21M84.04 10.91L93.17 17.17M65.28 -0.63L79.12 7.09M86.21 11.05L100.73 19.15M102.09 19.91L124.2 32.25M52.57 -7.75L73.9 7.22M63.43 0.94L88.09 15.54M101.11 24.96L115.72 34.04M47.66 -6.57L78.01 13.57M83.24 17.05L97.12 26.26M101.18 28.96L124.45 44.4M101.18 29.49L121.49 43M48.75 -2.13L77.1 12.35M89.47 21.78L114.39 35.96M37.57 -7.85L58.43 6.11M61.27 10.98L69.28 14.98M29.3 -4.76L40.54 0.99M12.62 -11.44L41.73 2.52M29.05 -9.59L64.03 15.16M28.68 -7.42L42.37 2.14M30.18 -6.18L54.18 10.85M88.88 35.49L105.89 47.56M18.49 -5.96L44.51 7.76M87.49 30.43L109.91 42.25M28.37 -0.19L54.73 13.66M14.88 -7.33L43.28 7.97M64 21.47L85.83 36.89M74.02 29.86L84.37 36.9M-6.56 -18.53L24.26 0.24M28.78 3L65.24 25.21M54.28 19.18L75.62 32.38M8.97 -5.26L28.04 5.31M79.85 34.02L106.56 48.82M36.21 9.03L67.96 30.38M58.16 25.38L65.4 30.47M77.56 36.77L97.34 47.17M-10.3 -17.43L24.11 6.29M29.61 10.08L41.33 18.16M24.55 7.23L61.09 32.29M63.89 34.21L71.69 39.56M27.04 11.91L36.76 17.82M29.25 13.03L63.54 36.99M8.68 0.89L43.15 24.35M36.99 20.64L47.22 27.73M13.02 10.36L33.34 23M35.43 24.3L65.25 42.87M-20.8 -0.7L10.04 14.72M12.12 15.76L44.94 32.17M51.85 37.85L70.11 49.95M-5.98 0.01L16.14 15.07M-20.08 -8.62L7.86 10.23M11.82 12.9L19.6 18.14M41.4 35.61L64.44 48.4M32.14 31.2L40.72 35.74M-20.93 4.13L1.17 15.66M11.22 20.9L24.51 27.83M50.72 43.43L64.33 50.48M17.98 24.63L30.74 33.49M4.25 16.07L19 26.6M24.15 30.28L53.58 51.29M-24.87 10.79L10.28 29.27M-24.51 2.61L7.76 25.09M10.59 27.07L33.98 43.36M34.87 43.98L70.03 68.47M0.34 20.17L11.61 28.15M-23.6 7.98L-0.86 22.55M8.9 33.5L34.69 46.89M15.88 41.43L39.76 55.51M5.57 40.34L21.37 48.8M2.84 41.26L26.06 52.53M-4.75 38.31L24.89 52.55M-23.01 18.26L11.05 42.73M1.19 38.87L29.24 57.8M4.61 43.57L19.35 53.69M-19.73 34.94L5.04 50.02M-12.4 4.22L10.04 -6.47M-37.19 21.26L2.11 0.34M-19.77 19.54L9.94 2.15M-1.45 17.33L30.73 -3.16M-15.7 21.24L19.02 3.27M1.41 21.91L32.19 1.35M8.82 17.47L38.15 -2.1M-25.95 41.43L1.53 23.68M7.73 19.67L33.56 2.99M-21.06 39.46L12.07 17.73M-9.52 32.97L21.08 17.71M26.46 15.02L50.17 3.2M39.37 9.03L48.6 4.46M-18.26 50.53L13.37 29.79M-17.89 45.13L19.24 24.59M59.26 2.45L92.91 -16.16M13.56 28.53L50.39 9.19M54.16 7.21L67.43 0.24M-17.33 49.24L16.51 29.97M17.93 29.17L45.82 13.28M-14.59 52.79L2.21 42.08M4.36 40.71L22.4 29.22M24.82 27.68L42.62 16.34M-15.11 49.4L17.31 32.15M63.25 8.44L99.78 -11.09M50.54 17.89L63.36 10.87M65.99 9.44L78.41 2.64M46.65 20.55L68.59 9.04M30.58 33.97L45.52 24.22M25.84 37.75L42.52 26.71M46.72 23.93L68.71 9.39M-12.51 55.84L5.96 45.95M-20.09 58.15L18.89 39.09M50.82 23.48L59.29 19.34M68.25 14.96L87.67 5.46M16.93 41.71L43.87 27.94M-5.97 52.01L4.52 46.98M27.17 41.12L53.15 24.25M56.16 22.29L82.35 5.27M-14.12 69.87L19.3 48.22M46.59 30.53L65.52 18.27M92.87 7.86L119.23 -4.62M65.63 20.18L99.99 -1.63M52.12 29.79L59.8 26.1M82.04 15.41L115.61 -0.73M13.27 48.97L25.01 43.36M70.32 21.92L88.1 12.99M95.11 9.46L109.02 2.48M33.02 40.95L51.66 32.35M94.36 12.67L124.44 -1.2M27.1 52.87L41.87 42.78M9.95 65.55L41.52 43.75M42.99 42.74L61.43 30.01M26.59 50.91L46.76 40.33M35.55 49.88L43.05 44.99M49.77 40.6L58.71 34.77M47.98 43.7L67.24 30.63M32.41 52.61L60.37 36.99M24.34 54.67L60.87 37.88M67.32 34.92L77.62 30.18M49.96 43.5L71.72 33.21M40.12 52.58L67.87 39.36M76.71 35.15L102.31 22.96M68.5 39.65L88.5 30.07M96.18 26.39L132.88 8.8M45.14 51.92L59.02 45.24M64.61 44.97L96.87 27.98M49.02 58.18L68.2 46.4M92.96 31.19L100.05 26.83M49.09 58.8L75.75 42.39M78.75 40.54L100.81 26.96M34.14 71.46L69.74 47.09M94.06 30.86L100.65 26.32M82.47 47.14L92.39 41.98M67.64 55.44L97.76 38.86M80.97 50.75L93.58 43.58M96.09 42.15L114.96 31.41M75.51 54.92L103.96 38.67M96.49 45.41L115.18 34.48M68.88 63.43L104.98 42.15M100.97 46.68L135.09 27.12M78.8 65.41L112.41 43.64M-0.73 2.05L14.15 1.59M70.31 1.3L82.92 1.43M99.37 1.6L115.24 1.76M-4.65 -0.17L8.98 0.23M74.96 2.13L90.57 2.59M78.55 3.93L89.51 4.14M79.71 7.48L83.84 7.55M60.9 7.65L76.27 8.11M88.01 8.46L95.71 8.68M43.4 10.9L51.4 10.7M47.67 12.6L53.83 12.56M-14.29 13.98L0.54 13.77M99.39 12.42L112.5 12.24M-10.47 15.56L2.22 15.27M31.74 14.57L45.85 14.24M97.2 13.03L111.23 12.7M67.07 14.15L79.4 13.76M5.6 16.52L17.94 16.16M41.22 15.47L46.02 15.33M62.82 14.83L73.61 14.51M94.57 13.89L109.04 13.47M45.4 15.93L55.27 15.99M72.18 16.11L87.45 16.21M59.24 17.14L68.21 17.46M86.28 18.11L99.88 18.59M33.24 16.9L42.64 17.09M79.95 17.81L87.29 17.96M30.08 17.22L44.89 17.52M40.22 19.25L44.47 19.21M103.01 18.65L115.25 18.53M-4.44 19.76L8.1 19.71M12.11 19.69L22.8 19.65M26.75 19.63L31.92 19.61M48.05 19.55L55.6 19.52M78.06 19.43L91.9 19.38M51.55 21.9L60.96 21.67M83.04 21.13L89.64 20.97M50.07 22.4L54.45 22.34M-3.37 25.11L12.6 24.5M58.83 22.72L66.58 22.42M79.38 21.93L82.41 21.81M12.45 24.71L19.66 24.48M51.85 23.48L56.35 23.34M47.33 25.07L52.79 25.06M10.67 25.62L19.88 25.6M79.8 25.42L92.41 25.38M13.71 27.14L25.85 26.78M5.21 27.63L12.83 27.45M91.76 25.5L99.53 25.31M0.35 27.94L4.9 27.85M91.89 26.2L101.71 26.01M0.25 29.78L13.5 29.92M22.02 33.41L31.95 33.14M46.71 33.88L50.23 33.79M-5.02 36.61L4.59 36.2M-1.32 36.03L13.34 36.5M38.64 37.29L49.64 37.64M103.89 39.35L116.98 39.77M12.76 40.44L19.56 40.52M50.86 44L63.43 43.64M31.12 45L46.51 44.61M56.4 46.8L66.9 46.69M13.54 40.27L13.76 36.77M14.06 31.92L14.18 29.97M15.76 4.54L15.94 1.69M30.83 7.55L31.06 4.07M41.01 48.46L41.04 46.37M61.26 48.18L61.16 46.37M60.81 39.39L60.7 37.13M59.78 5.9L59.72 4.32M63.62 19.99L63.91 16.75M62.53 43.25L62.8 40.63M65.67 13.22L65.93 10.72M68.12 38.55L67.83 35.69M67.99 31.82L67.63 28.48M71.32 18.37L71.64 15.66M79.85 46.68L79.87 44.43M80.6 15.12L80.64 11.63M87.75 20.44L87.51 18.22M89.79 34.93L89.39 31.19M86.95 8.69L86.7 6.37M96.95 -0.04L106.49 6.89M94.24 -2.43L126.6 19.3M90.13 -3.75L98.38 1.6M80.88 -8.68L113.53 12.76M87.75 -4.95L103.02 2.74M70.46 -12.22L93.58 3.76M99.72 8.01L108.27 13.92M90.65 -0.25L99.77 4.44M98.48 7.56L128.84 25.97M92.8 4.43L116.27 18.22M76.18 -3.58L105.92 12.81M93.19 6.04L104.23 11.96M72.18 -3.15L90.78 6.86M97.79 10.63L106.05 15.08M86.02 8.17L97.73 15.62M42.1 -17.85L77.44 6.38M95.59 18.83L108.68 27.81M65.74 0.15L102.2 20.18M92.21 17.98L100.92 23.13M56.2 -2.04L76.8 11.95M83.49 16.49L107.4 32.72M53.11 -2.48L74.2 11.55M76.06 12.79L99.58 28.42M80.01 13.83L90.11 18.99M94.02 20.99L119.07 33.78M26.32 -14.15L50.41 -0.45M54.58 1.93L83.16 18.19M30.22 -10.11L50.6 0.61M52.07 1.39L91.17 21.95M94.27 23.59L124.8 39.65M37.18 -7.34L50.43 1.42M52.54 2.82L85.48 24.61M92.04 28.95L117.6 45.86M43.29 -2.74L71.84 16.18M100.38 35.1L112.57 43.17M20.43 -10.26L45.55 2.45M50.98 5.19L82 20.88M87 23.42L121.22 40.73M75.02 17.85L115.14 37.91M48.91 5.26L87.42 24.95M93.32 27.96L121.12 42.17M43.84 3.53L82.63 22.12M68.97 18.65L81.42 27.46M84.72 29.79L113.82 50.38M79.65 23.07L116.48 42.91M84.77 31.73L104.95 45.82M55.85 12.04L70.11 22.16M48.19 9.7L84.73 28.97M-8.42 -19.52L27.08 -0.87M60.38 16.63L97 35.87M100.67 37.8L126.64 51.45M49.76 11.46L64.66 19.49M66.48 20.47L97.82 37.36M91.78 41.1L124.98 64.55M8.86 -12.33L36.16 4.59M42.16 8.32L68.06 24.37M70.25 25.72L77.76 30.38M79.18 31.26L99.69 43.97M6.62 -16L29.49 -0.44M63.83 22.92L73.06 29.21M91.71 41.9L126.83 65.8M26.56 -1.29L56.25 18.23M63.87 23.23L89.49 40.08M94.46 43.34L124.49 63.08M69.26 27.66L107.14 50.74M12.79 -6.5L37.38 8.72M38.45 9.38L52.54 18.1M33.53 8.35L63.03 24.7M2.51 -13.61L30.73 5.35M69.31 31.28L87.57 43.56M95.44 48.85L125.31 68.92M-11.74 -23.78L21.67 -0.29M28.85 4.76L51.71 20.84M87.05 45.69L101.95 56.17M11.98 -7.44L20.98 -0.89M23.97 1.29L40.01 12.96M42.78 14.97L65.49 31.5M67.61 33.04L96.39 53.99M-10.12 -9.34L7.08 -0.29M13.88 3.28L41.85 17.99M45.77 20.05L70.58 33.1M100.17 48.65L117.32 57.67M26.61 10.66L49.44 23.39M55.85 26.97L81.19 41.1M88.61 45.24L114.99 59.95M47.68 22.54L83.88 47.5M-8.04 -15.11L21.5 5.14M37.67 18.37L63.06 33.82M71.09 38.7L109.34 61.96M-10.78 -14.94L24.92 10.01M64.75 37.84L86.84 53.27M-11.98 -14.65L10.42 0.78M13.97 3.22L44.54 24.27M65.93 38.99L80.88 49.29M44.38 25.18L69.67 42.39M-15.52 -15.77L8.2 0.67M51.97 31.02L84.29 53.43M7.62 6.46L16.85 11.88M22.8 15.38L45.22 28.56M47.01 29.61L85.3 52.11M-14.69 -6.9L10.63 8.87M70.83 46.34L90.53 58.61M50.02 34.71L69.61 44.51M75.08 47.24L94.84 57.12M5.99 7.46L29.14 22.8M30.44 23.66L37.97 28.65M39.1 29.4L47.01 34.65M18.91 16.96L39.33 30.86M40.88 31.91L58.94 44.21M61.56 45.99L79.31 58.07M25.51 22.13L58.06 44.09M65.1 48.84L79.35 58.45M-23.64 -0.59L6.47 15.9M10.32 18.01L47.28 38.26M-10.41 6.86L1.81 13.64M0.46 14.42L29.9 30.01M49.22 40.24L68.63 50.52M26.09 28.66L64.77 48.83M-20.13 5.21L1.2 16.29M5.94 18.75L30.46 31.49M34.71 33.7L58.31 45.96M60.83 47.27L70.63 52.35M-23.42 -0.29L13.62 21.42M18.45 24.25L38.79 36.17M40.32 37.07L78.95 59.71M-14.54 9.61L1.7 18.03M8.58 21.59L44.58 40.25M-5.46 14.3L22.63 29.15M30.34 33.22L45.32 41.14M51.02 44.15L74.15 56.37M7.71 23.36L47.58 42.75M53.35 45.56L67.98 52.67M-21.06 -2.47L10.1 19.16M31.65 34.13L50.75 47.38M12.2 30.28L40.08 44.94M-11.08 18.09L6.37 27.42M8.52 28.58L39.9 45.36M44.48 47.81L65.96 59.3M-21.24 4.06L11.06 26.68M17.15 30.94L52.01 55.36M14.99 30.54L28.34 39.99M36.05 45.45L67.54 67.74M2.38 24.63L15.78 33.21M22.28 37.38L40.32 48.94M-31.68 12.43L1.59 29.7M-24.28 14.03L4.08 30.66M30.05 45.88L55.14 60.6M-31.06 7.3L5.8 31.13M11.24 34.65L37.15 51.39M-13.35 25.37L7.07 36.3M15.27 40.69L31.76 49.52M-26.23 16.59L-0.56 31.73M3.96 34.4L12.8 39.61M-28.23 19.25L10.16 40.65M-33.13 19.63L3.37 39.16M-7.88 35.61L28.22 53.05M-26.34 16.22L8.51 40.67M15.08 45.28L49.67 69.55M17 47L47.54 68.95M-8.08 33.57L25.57 55.85M-8.95 37.29L4.65 45.21M-36.19 15.57L-0.88 39.8M-11.7 33.04L0.65 41.47M6.23 45.28L38.54 67.35M-31.18 24.75L2.42 45.6M-10.26 42.48L9.54 52.86M-36.35 24.95L-0.26 46.5M1.4 47.49L15.79 56.08M-1.22 47.21L14.71 56.71M-34.77 27.11L2.62 49.68M-35.36 27.56L0.6 49.16M-8.86 44.27L11.28 56.28M-13.13 42.29L10.82 57.03M-15.75 43.36L1.59 53.41M-12.07 5.39L21.95 -15.59M-12.89 8.21L16.86 -9.52M-5 4.51L29.5 -13.7M-1.81 4.23L9.62 -1.79M-6.07 6.7L19.84 -6.79M-11.55 16.07L10.71 2.11M-10.52 14.75L22.38 -4.53M-28.47 31.36L5.63 8.62M10.84 5.14L20.4 -1.24M-37.65 28.12L-0.07 8.56M3.96 6.46L29.47 -6.81M-20.32 20.59L6.56 6.08M-6.99 18.12L12.97 5.92M20.64 2.43L29.52 -2.17M-3.26 14.94L19.8 3.26M23.64 1.31L52.28 -13.19M-2.43 17.19L18.75 5.79M23.67 3.14L37.01 -4.03M0.64 16.24L33.22 -1.4M-26.98 40.88L-0.08 22.9M-26.98 41.36L4.72 20.21M-10.01 26.11L9.52 15.02M16.53 14.8L43.17 -2.68M-25.79 42.17L2.56 24.01M7.6 20.78L23.52 10.58M27.22 8.21L40.2 -0.1M-22.84 45.91L10.91 22.18M15.9 18.67L49.63 -5.04M-26.17 47.99L7.44 24.76M12.45 21.3L34.64 5.96M39.35 2.71L58.58 -10.58M-9.65 33.87L15.13 18.99M19.73 16.23L47.34 -0.36M-15.19 33.06L7.96 21.68M-11.91 32.88L16.58 18.39M23.3 14.97L60.72 -4.06M10.52 26.4L38.61 8.62M43.35 5.62L62.64 -6.58M-7.53 32.22L32.35 12.5M54.16 1.71L71.82 -7.02M2.53 27.97L23.55 17.44M24.49 16.96L55.44 1.44M0.09 37.12L33.01 14.92M0.29 37.83L22.12 23.45M43.12 10.28L59.32 -0.35M-0.39 40.46L20.9 26.02M57.68 1.07L76.63 -11.78M23.2 22.4L32.5 17.25M39.04 13.63L53.27 5.77M-24.65 48.59L7.41 31.76M-22.55 50.68L8.46 33.27M15.83 29.14L36.44 17.57M39.3 15.96L61.73 3.37M68.06 -0.19L93.34 -14.38M-19.51 49.66L10.06 32.97M47.74 11.71L68.31 0.1M48.73 11.63L83.1 -7.94M-15.26 53.32L6.49 39.26M8.29 38.1L41.39 16.71M43.81 15.58L53.2 9.6M59.04 5.88L89.26 -13.37M-19.54 49.64L7.69 35.66M13.98 32.44L48.69 14.62M56.55 10.58L90.92 -7.06M20.55 30.42L37.84 21.22M42.94 18.51L54.26 12.48M61.29 8.74L80.56 -1.51M-18.65 52.24L7.39 38.32M16.18 33.62L42.29 19.65M49.91 15.58L60.75 9.78M-21.23 54.22L10.28 37.34M18.16 33.12L28.27 27.7M29.92 26.82L66.25 7.36M68.89 5.94L97.75 -9.51M-15.68 53.2L8.06 40.35M16.29 35.89L52.87 16.09M57.83 13.41L73.74 4.8M6 42.25L25.52 31.57M83.39 -0.08L114.12 -16.89M-8.17 49.31L17.26 35.97M21.57 33.71L42.01 22.98M70.36 8.11L94.4 -4.5M-12.69 64.8L23.52 39.37M24.51 38.67L52.71 18.86M54.63 17.52L65.21 10.09M66.83 8.95L80.63 -0.74M-16.25 64.52L8.27 48.52M52.66 19.56L79.59 1.99M72.94 6.59L109.37 -17.5M7.59 45.08L31.99 32M59.26 17.39L88.31 1.83M-2.7 51.52L17.83 40.38M23.17 37.48L56.49 19.41M64.29 15.18L100.57 -4.51M95.51 1.63L118.54 -9.63M-12.54 56.77L13.02 43.71M50.42 24.6L75.95 11.55M81.36 8.79L110.04 -5.87M67.83 16.65L105.52 -1.41M-9.59 65.01L23.34 43.61M31.82 38.98L41.93 32.27M48.39 27.98L62.44 18.65M67.68 15.17L87.31 2.14M91.59 -0.7L116.01 -16.92M13.37 51.16L44.26 31.17M45.55 30.34L52.57 25.8M57.33 22.72L66.63 16.7M67.56 16.1L89.99 1.59M20.26 47.6L30.51 40.96M32 39.99L45.72 31.1M73.05 13.39L90.27 2.24M-15.87 59.35L21.53 41.64M26.34 39.36L57.27 24.71M77.96 14.92L90.15 9.15M-8.83 66.14L21.27 47.44M23.33 46.15L47.76 30.98M49.13 30.13L84.3 8.27M87.84 6.07L112.74 -9.4M13.07 53.53L38.08 37.66M44.4 33.65L57.4 25.4M14.54 47.86L23.69 43.46M25.3 42.68L48.77 31.4M62.28 24.91L79.92 16.43M72.89 20.45L98.14 8.38M-11.84 63.17L26.3 44.02M33.9 40.2L62 26.1M-8.61 60.14L29.16 42.72M58.49 29.21L70.39 23.72M73.2 22.42L93.15 13.23M79.39 14.71L90.42 7.14M93.92 4.74L111.73 -7.47M16.83 53.5L29.36 46.67M77.43 20.48L97.56 9.52M45.99 39.97L75.7 19.67M79.7 16.94L116.68 -8.33M92.39 8.63L119.9 -10.36M102.82 10.93L112.15 6.04M18.71 56.11L48.52 40M53.07 37.54L73.89 26.29M77.84 24.15L97.75 13.39M61.32 33.07L77.13 22.76M80.43 20.61L99.85 7.94M73.96 26.07L93.87 12.55M67.83 32.82L99.65 15.04M86.49 26.1L109.38 15.59M27.46 54.15L46.76 45.01M80.19 29.19L100.79 19.45M40.04 53.41L56.96 42.44M73.72 31.56L86.08 23.54M92.97 19.07L105.42 10.99M34.67 58.85L60.18 41.45M67.45 36.49L99.62 14.54M48.27 50.55L76.25 30.79M79.79 28.29L102.05 12.58M45.57 50.64L64.8 41.42M62.02 43.8L72.19 38.9M31.2 58.7L59.12 45.7M64.41 43.23L102.97 25.28M32.21 62.04L62.01 46.34M103.07 24.71L140.67 4.91M53.17 54.58L88.61 30.43M95.04 26.05L130.42 1.94M69.14 47.08L96.76 30.01M74.09 44.11L109.5 19.87M39.6 68.41L68.48 48.5M74.9 44.07L93.1 31.52M90.43 37.15L114.08 23.84M68.09 51.66L100.9 31.88M102.84 30.71L131.65 13.34M78.64 45.79L109.22 27.35M75.7 49.74L109.19 33.4M48.53 64.09L82.41 46.64M85 45.3L120.38 27.08M99.95 38.05L109.62 33.03M81.44 48.38L99.89 36.76M87.44 48.78L101.09 41.06M65.04 63.45L94.35 46.32M99.53 43.29L116.68 33.27M70.76 62.93L104.76 42.1M102.05 46.03L127.52 30.99M90.16 56.26L111.27 41.81M26.96 1.19L38.54 0.83M55.32 0.31L69.43 -0.13M84.94 -0.61L92.75 -0.85M-7.69 0.49L-0.5 0.57M3.67 0.61L17.26 0.75M23.15 0.81L33.72 0.92M43.49 1.02L55.34 1.14M26.37 0.73L34.63 0.97M52.28 1.48L68.2 1.94M9.31 2.63L18.36 2.8M40.08 3.21L54.13 3.47M61.85 3.62L73.98 3.84M101.26 4.36L108.68 4.49M-3.87 6.01L3.63 6.14M22.15 6.47L36.13 6.71M45.19 6.87L58.25 7.1M1.85 5.9L14.63 6.28M26.58 6.63L40.27 7.04M46.22 7.21L49.84 7.32M4.51 11.87L16.06 11.58M20.35 11.48L23.57 11.39M73.22 10.15L80.46 9.96M-0.51 12.08L6.83 12.08M25.96 12.07L40.85 12.07M43.87 12.07L51.41 12.07M56.29 12.07L69.67 12.07M79.54 12.06L83.29 12.06M99.36 12.06L105.91 12.06M-3.42 12.97L2.28 12.92M18.48 12.81L34.32 12.7M61.5 12.5L67.2 12.46M8.45 13.67L23.04 13.47M48.45 13.12L52.56 13.06M63.78 12.91L67.03 12.87M75.52 12.75L85.09 12.62M8.46 15.12L12.19 15.03M52.09 14.09L57.79 13.96M71.24 13.64L78.83 13.47M87.33 13.51L101.37 13.07M24.27 15.97L29.51 15.81M54.46 15.08L58.99 14.94M1.68 15.64L14.1 15.72M30.49 15.83L39.45 15.89M93.2 16.24L100.79 16.29M14.13 16.15L22.76 16.23M35.9 16.35L48.18 16.47M67.77 16.65L78.06 16.75M91.81 16.87L106.37 17.01M44.12 16.6L50.92 16.84M24.68 16.74L27.69 16.8M93.65 18.08L107.45 18.35M7.86 16.78L21.53 17.05M58.28 17.79L65.85 17.95M74.16 18.11L86.36 18.36M103.75 18.71L113.1 18.9M-8.06 19.39L4.48 19.25M24.79 19.04L31.51 18.97M42.47 18.85L57.78 18.69M70.13 18.56L79.44 18.46M84.2 18.41L93.2 18.31M59.39 19.07L65.67 19.01M75.74 18.91L84.58 18.83M39.94 19.58L42.97 19.57M62.68 19.49L69.75 19.46M97.35 19.36L100.69 19.34M8.94 22.94L12.97 22.84M30.97 22.4L46.66 22.02M66.88 21.52L79.7 21.21M5.2 23.01L14.89 22.88M20.1 22.81L28.15 22.7M33.34 22.63L41.62 22.51M74.36 22.06L82.31 21.95M31.87 23.76L45.91 23.22M88.62 21.58L104.3 20.97M-4.02 25.23L2.52 25.02M67.54 22.99L76.41 22.71M81.66 22.54L97.41 22.05M62.71 25.05L71.22 25.05M91.03 25.03L97.31 25.02M34.32 25.55L38.12 25.54M42.12 25.53L45.8 25.52M66.51 25.46L73.41 25.44M5.91 27.37L9.26 27.27M30.77 26.63L36.8 26.45M81.23 25.13L91.59 24.83M96.75 24.67L105.05 24.43M27.27 27.09L32.96 26.95M44.79 26.66L52.35 26.47M73.33 25.95L84.9 25.67M25.83 27.46L40.9 27.17M81.94 26.39L87.4 26.28M12.35 29.32L24.79 29.48M54.96 29.88L60.59 29.96M63.96 30L77.72 30.18M97.07 30.44L101.31 30.49M41.44 30.2L55.77 30.35M71.3 30.5L75.09 30.54M88.76 30.68L97.7 30.77M5.22 30.17L19.77 30.36M31.13 30.51L44.16 30.67M52.72 30.79L60.35 30.88M75.97 31.09L87.03 31.23M3.26 33.92L18.4 33.51M49.16 32.68L53.05 32.57M71.9 32.06L86.25 31.67M102.72 31.23L117.31 30.84M8.07 34.68L20.6 34.29M48.65 33.41L55.04 33.22M65.75 32.88L68.97 32.78M85.32 32.27L99.52 31.83M6.38 34.91L16.08 34.66M29.71 34.31L34.43 34.19M65.6 33.39L78.02 33.08M38.6 34.74L53.67 34.09M64.24 33.64L76.17 33.12M93.82 32.36L100.63 32.07M67.82 38.21L74.87 38.44M82.87 38.69L93.55 39.03M38.36 40.73L46.4 40.82M84.48 41.26L94.67 41.38M5.9 45.28L21.76 44.83M35.48 44.44L40.41 44.3M68.99 43.48L81.1 43.14M93.15 42.8L99.36 42.62M-1.53 45.84L12.54 45.48M67.31 44.07L75.56 43.86M2.95 47.35L17.74 47.2M21.48 47.16L27.5 47.09M74.75 46.61L86.6 46.48M94.58 46.4L106.21 46.28M7.74 47.44L14.85 47.41M24.26 47.37L27.35 47.35M48.21 47.26L54.88 47.22M62.81 47.19L74.5 47.13M5.89 47.6L6.07 45.58M8.42 19.8L8.72 16.44M14.36 36.56L14.19 33.25M12.66 3.77L12.52 1.14M18.17 40.06L18.33 37.22M20.06 7.63L20.21 5.05M42.31 42.94L41.91 39.27M41.37 25.69L41.42 22.56M41.74 2.72L41.8 -0.78M52.2 23.83L51.76 19.87M50.29 6.55L49.91 3.04M54.81 42.05L54.52 39.69M51.96 18.49L51.75 16.73M54.24 34.94L54.04 33.1M51.77 12.43L51.59 10.74M59.41 21.01L59.31 18.9M59.3 9.24L59.13 5.99M60.77 29.39L60.66 26.75M61.55 39.51L61.68 37.83M62.38 29.24L62.64 25.95M62.14 36.34L62.38 33.69M64.74 7.53L64.92 5.52M64.43 25.03L64.79 21.59M66.44 21.68L66.29 20.12M65.61 13.31L65.4 11.2M64.71 4.27L64.32 0.31M68.99 41.12L68.73 38.72M64.51 -0.42L64.23 -3.1M70.23 48.36L69.89 45.16M67.29 20.9L66.99 18.18M67.34 47.64L67.56 45.63M69.4 28.51L69.65 26.24M71.73 6.91L71.92 5.16M68.36 42.26L68.72 38.82M70.24 24.34L70.52 21.58M72.45 3.16L72.64 1.33M68.24 44.4L68.64 41M73.04 3.82L73.5 -0.05M80.04 26.88L80.08 23.18M80.14 16.16L80.18 12.19M80.41 29.5L80.44 27.43M84.09 48.45L84.26 46.01M85.62 26.37L85.87 22.71M90.95 48.93L90.59 45.72M90.83 36.41L90.35 32.59M89.7 27.35L89.27 23.91M87.93 13.25L87.59 10.52M94.38 45.5L94.49 42.74M95.21 23.81L95.3 21.67M95.59 14.08L95.67 12.02M96.07 1.37L96.14 -0.3M95.34 33.37L95.44 30.96M95.62 26.62L95.68 25.1M96.08 15.23L96.2 12.18M96.72 -0.34L96.78 -1.98M96.46 16.82L96.52 14.65M103.64 2.92L103.54 -0.61M70.99 -21.35L105.55 3.54M60.97 -14.27L88.72 2.03M64.51 -3.88L100.99 20.68M60.95 0L96.29 21.96M98.11 32.67L130.84 54.58M74.25 17.78L94.2 31M31.34 -3.99L59.53 10.11M89.37 25.36L119.22 39.67M24.84 -6.44L60.67 12.85M61.64 13.37L77.12 21.71M44.85 3.87L77.22 26.46M76.85 26.95L85.35 32.98M30.6 -2.12L59.84 18.53M35.83 3.88L57.32 18.5M76.68 33.04L105.06 50.59M67.07 26.94L76.4 32.11M67.79 32.15L85.83 44.83M-14.29 -12.14L19.3 6.58M73.78 40.99L86.78 49.9M-11.18 -11.34L23.32 9.64M49.78 27.87L62.65 36.73M-9.46 -11.45L7.74 0.26M71.03 43.31L105.29 66.62M15.32 5.61L34.37 18.82M-14.1 -6.31L0.28 2.14M-4.33 0.62L3.19 5.6M53.59 41.71L87.76 60.43M3.04 14.33L34.39 31.72M2.26 16.23L10.1 20.32M-3.48 12.2L32.82 38.1M38.28 42L68.15 63.32M46.79 48.46L83.53 67.77M5.43 31.45L23.91 42.29M17.16 44.56L28.13 50.67M-38.47 21.19L1.13 40.42M7.46 46.85L30.33 60.18M7.86 5.38L18.43 -0.33M15.24 11.77L44.97 -5.13M0.6 30.39L24.51 13.63M31.63 8.64L47.75 -2.67M-21.54 46.68L7.81 28.11M40.07 10.16L62.32 -4.84M59.1 -0.9L88.08 -19.99M18.29 26.56L41.93 11.06M24.71 23.43L55.23 2.74M12.54 31.57L39.23 16.51M48.23 12.29L65.34 1.23M79.73 1.56L111.32 -15.54M31.1 28.52L49.61 18.4M-11.93 62.73L21.02 40.93M35.76 29.98L53.26 20.61M26.97 35.14L48.64 24.55M9.03 44.82L48.59 25.86M53.85 23.35L66.26 17.4M61.8 22.57L73.72 16.93M33.32 39.38L64.55 24.44M46.7 37.12L77.6 15.93M32.96 44.71L72.25 23.3M65.31 27.33L85.26 13.55M58.33 41.54L66.78 36.06M73.76 38.14L108.74 21.3M76.57 41.26L85.65 35.67M64.92 51.51L83.1 41.28M72.49 64.94L105.83 48.89M95.9 53.03L104.06 48.48M67.55 71.32L102.09 47M100.51 9.46L113.58 9.13M86.44 12.32L97 12.25M-3.26 16.36L0.56 16.24M10.88 15.91L19.58 15.64M33.81 15.19L49.2 14.71M12.42 15.47L27.49 16M5.14 16.36L15.1 16.55M18.37 19.46L22.94 19.42M33.02 24.07L41.36 23.8M1.75 25.11L13.45 25.1M24.32 25.09L34.78 25.08M99.31 25.36L106.63 25.34M49.33 26.08L64.54 25.63M54.4 26.91L62.02 26.77M35.41 29.62L41.01 29.7M27.62 30.06L35.27 30.14M41.1 33.65L45.41 33.52M85.98 32.87L90.98 32.75M14.39 35.78L28.37 35.18M17.23 36.62L21.96 36.77M52.58 40.89L62.97 41.01M88.6 43.53L99.21 43.26M84.31 47.09L97.26 47.03M28.96 35.63L29.18 32.35M43.35 52.49L42.95 48.86M38.98 12.42L38.71 10M53.87 39.04L53.7 37.49M60.53 46.78L60.38 43.34M58.91 9.78L58.76 6.25M60.3 18.14L60.16 14.98M64.39 4.18L64.63 1.26M94.81 46.45L94.9 44.24M95.93 34.07L96.05 30.15M81.2 12.35L108.96 31.85M61.74 8.33L89.94 27.2M-22.37 8.73L1.6 20.39M16.05 4.04L28.59 -3.63M12.51 19.44L23.26 14.15M30.4 10.64L57.62 -2.75M25.08 21.5L55.11 1.72M11.22 46.6L28.22 35.5M81.84 0.52L107.03 -15.91M83.46 4.55L98.19 -5.02M8.03 54.78L30.37 39.95M14.96 58.89L40.19 41.59M55.55 35.72L94.65 15.22M95.29 11.59L116.23 -2.63M87.35 7.62L102.88 7.89M26.87 13.41L40.73 13.22M59.06 17.41L71.19 17.64M90.94 21.84L101.73 21.69M-0.17 29.15L6.68 29.24M36.86 47L44.79 46.92M15.15 14.27L15.33 11.51M54.83 47.76L54.65 46.07"/>
<mask id="dp0" maskUnits="userSpaceOnUse" x="-5" y="-5" width="115" height="60">
<rect x="-5" y="-5" width="115" height="60" fill="#000"/>
<radialGradient id="p0d0"><stop offset="0" stop-color="#fff" stop-opacity="0.55"/><stop offset="0.5" stop-color="#fff" stop-opacity="0.44"/><stop offset="1" stop-color="#fff" stop-opacity="0"/></radialGradient>
<ellipse cx="63" cy="9" rx="40" ry="12" transform="rotate(0 63 9)" fill="url(#p0d0)"/>
<radialGradient id="p0d1"><stop offset="0" stop-color="#fff" stop-opacity="0.99"/><stop offset="0.5" stop-color="#fff" stop-opacity="0.79"/><stop offset="1" stop-color="#fff" stop-opacity="0"/></radialGradient>
<ellipse cx="17" cy="11" rx="10" ry="5" transform="rotate(0 17 11)" fill="url(#p0d1)"/>
<radialGradient id="p0d2"><stop offset="0" stop-color="#fff" stop-opacity="0.33"/><stop offset="0.5" stop-color="#fff" stop-opacity="0.26"/><stop offset="1" stop-color="#fff" stop-opacity="0"/></radialGradient>
<ellipse cx="55" cy="23" rx="30" ry="7" transform="rotate(15 55 23)" fill="url(#p0d2)"/>
<radialGradient id="p0d3"><stop offset="0" stop-color="#fff" stop-opacity="0.72"/><stop offset="0.5" stop-color="#fff" stop-opacity="0.57"/><stop offset="1" stop-color="#fff" stop-opacity="0"/></radialGradient>
<ellipse cx="33" cy="21" rx="14" ry="5" transform="rotate(0 33 21)" fill="url(#p0d3)"/>
</mask>
<mask id="mp0_0" maskUnits="userSpaceOnUse" x="-5" y="-5" width="115" height="60">
<rect x="-5" y="-5" width="115" height="60" fill="#000"/>
<radialGradient id="p0g0_0"><stop offset="0" stop-color="#fff" stop-opacity="1.00"/><stop offset="0.55" stop-color="#fff" stop-opacity="0.80"/><stop offset="1" stop-color="#fff" stop-opacity="0"/></radialGradient>
<ellipse cx="13" cy="10" rx="5" ry="1.88" transform="rotate(0 13 10)" fill="url(#p0g0_0)"/>
<radialGradient id="p0g0_1"><stop offset="0" stop-color="#fff" stop-opacity="1.00"/><stop offset="0.55" stop-color="#fff" stop-opacity="0.80"/><stop offset="1" stop-color="#fff" stop-opacity="0"/></radialGradient>
<ellipse cx="18" cy="10.7" rx="10" ry="2.25" transform="rotate(5 18 10.7)" fill="url(#p0g0_1)"/>
<radialGradient id="p0g0_2"><stop offset="0" stop-color="#fff" stop-opacity="1.00"/><stop offset="0.55" stop-color="#fff" stop-opacity="0.80"/><stop offset="1" stop-color="#fff" stop-opacity="0"/></radialGradient>
<ellipse cx="22.5" cy="11.4" rx="3.75" ry="1.75" transform="rotate(0 22.5 11.4)" fill="url(#p0g0_2)"/>
<radialGradient id="p0g0_3"><stop offset="0" stop-color="#fff" stop-opacity="1.00"/><stop offset="0.55" stop-color="#fff" stop-opacity="0.80"/><stop offset="1" stop-color="#fff" stop-opacity="0"/></radialGradient>
<ellipse cx="16" cy="10.5" rx="11.25" ry="6.25" transform="rotate(0 16 10.5)" fill="url(#p0g0_3)"/>
<radialGradient id="p0g0_4"><stop offset="0" stop-color="#fff" stop-opacity="1.00"/><stop offset="0.55" stop-color="#fff" stop-opacity="0.80"/><stop offset="1" stop-color="#fff" stop-opacity="0"/></radialGradient>
<ellipse cx="25.5" cy="16" rx="6.25" ry="1.88" transform="rotate(30 25.5 16)" fill="url(#p0g0_4)"/>
<radialGradient id="p0g0_5"><stop offset="0" stop-color="#fff" stop-opacity="0.88"/><stop offset="0.55" stop-color="#fff" stop-opacity="0.70"/><stop offset="1" stop-color="#fff" stop-opacity="0"/></radialGradient>
<ellipse cx="27" cy="8" rx="3.75" ry="6.25" transform="rotate(0 27 8)" fill="url(#p0g0_5)"/>
<radialGradient id="p0g0_6"><stop offset="0" stop-color="#fff" stop-opacity="1.00"/><stop offset="0.55" stop-color="#fff" stop-opacity="0.80"/><stop offset="1" stop-color="#fff" stop-opacity="0"/></radialGradient>
<ellipse cx="68" cy="0.5" rx="6.25" ry="2.75" transform="rotate(0 68 0.5)" fill="url(#p0g0_6)"/>
<radialGradient id="p0g0_7"><stop offset="0" stop-color="#fff" stop-opacity="1.00"/><stop offset="0.55" stop-color="#fff" stop-opacity="0.80"/><stop offset="1" stop-color="#fff" stop-opacity="0"/></radialGradient>
<ellipse cx="67" cy="3" rx="13.75" ry="5" transform="rotate(0 67 3)" fill="url(#p0g0_7)"/>
<radialGradient id="p0g0_8"><stop offset="0" stop-color="#fff" stop-opacity="1.00"/><stop offset="0.55" stop-color="#fff" stop-opacity="0.80"/><stop offset="1" stop-color="#fff" stop-opacity="0"/></radialGradient>
<ellipse cx="81" cy="25.7" rx="10" ry="3.12" transform="rotate(15 81 25.7)" fill="url(#p0g0_8)"/>
<radialGradient id="p0g0_9"><stop offset="0" stop-color="#fff" stop-opacity="0.88"/><stop offset="0.55" stop-color="#fff" stop-opacity="0.70"/><stop offset="1" stop-color="#fff" stop-opacity="0"/></radialGradient>
<ellipse cx="65" cy="18" rx="20" ry="3.75" transform="rotate(22 65 18)" fill="url(#p0g0_9)"/>
<radialGradient id="p0g0_10"><stop offset="0" stop-color="#fff" stop-opacity="1.00"/><stop offset="0.55" stop-color="#fff" stop-opacity="0.80"/><stop offset="1" stop-color="#fff" stop-opacity="0"/></radialGradient>
<ellipse cx="49" cy="5.5" rx="1.5" ry="5" transform="rotate(10 49 5.5)" fill="url(#p0g0_10)"/>
<radialGradient id="p0g0_11"><stop offset="0" stop-color="#fff" stop-opacity="1.00"/><stop offset="0.55" stop-color="#fff" stop-opacity="0.80"/><stop offset="1" stop-color="#fff" stop-opacity="0"/></radialGradient>
<ellipse cx="11" cy="36" rx="2.5" ry="1.88" transform="rotate(0 11 36)" fill="url(#p0g0_11)"/>
<radialGradient id="p0g0_12"><stop offset="0" stop-color="#fff" stop-opacity="1.00"/><stop offset="0.55" stop-color="#fff" stop-opacity="0.80"/><stop offset="1" stop-color="#fff" stop-opacity="0"/></radialGradient>
<ellipse cx="24" cy="27" rx="3.75" ry="2.5" transform="rotate(0 24 27)" fill="url(#p0g0_12)"/>
<radialGradient id="p0g0_13"><stop offset="0" stop-color="#fff" stop-opacity="0.75"/><stop offset="0.55" stop-color="#fff" stop-opacity="0.60"/><stop offset="1" stop-color="#fff" stop-opacity="0"/></radialGradient>
<ellipse cx="90" cy="44" rx="12.5" ry="5" transform="rotate(0 90 44)" fill="url(#p0g0_13)"/>
</mask>
<mask id="mp0_1" maskUnits="userSpaceOnUse" x="-5" y="-5" width="115" height="60">
<rect x="-5" y="-5" width="115" height="60" fill="#000"/>
<radialGradient id="p0g1_0"><stop offset="0" stop-color="#fff" stop-opacity="1.00"/><stop offset="0.55" stop-color="#fff" stop-opacity="0.80"/><stop offset="1" stop-color="#fff" stop-opacity="0"/></radialGradient>
<ellipse cx="13" cy="10" rx="3.75" ry="1.41" transform="rotate(0 13 10)" fill="url(#p0g1_0)"/>
<radialGradient id="p0g1_1"><stop offset="0" stop-color="#fff" stop-opacity="1.00"/><stop offset="0.55" stop-color="#fff" stop-opacity="0.80"/><stop offset="1" stop-color="#fff" stop-opacity="0"/></radialGradient>
<ellipse cx="18" cy="10.7" rx="7.63" ry="1.72" transform="rotate(5 18 10.7)" fill="url(#p0g1_1)"/>
<radialGradient id="p0g1_2"><stop offset="0" stop-color="#fff" stop-opacity="1.00"/><stop offset="0.55" stop-color="#fff" stop-opacity="0.80"/><stop offset="1" stop-color="#fff" stop-opacity="0"/></radialGradient>
<ellipse cx="22.5" cy="11.4" rx="2.88" ry="1.34" transform="rotate(0 22.5 11.4)" fill="url(#p0g1_2)"/>
<radialGradient id="p0g1_3"><stop offset="0" stop-color="#fff" stop-opacity="0.62"/><stop offset="0.55" stop-color="#fff" stop-opacity="0.50"/><stop offset="1" stop-color="#fff" stop-opacity="0"/></radialGradient>
<ellipse cx="16" cy="10.5" rx="7.89" ry="4.38" transform="rotate(0 16 10.5)" fill="url(#p0g1_3)"/>
<radialGradient id="p0g1_4"><stop offset="0" stop-color="#fff" stop-opacity="0.62"/><stop offset="0.55" stop-color="#fff" stop-opacity="0.50"/><stop offset="1" stop-color="#fff" stop-opacity="0"/></radialGradient>
<ellipse cx="25.5" cy="16" rx="4.38" ry="1.32" transform="rotate(30 25.5 16)" fill="url(#p0g1_4)"/>
<radialGradient id="p0g1_6"><stop offset="0" stop-color="#fff" stop-opacity="1.00"/><stop offset="0.55" stop-color="#fff" stop-opacity="0.80"/><stop offset="1" stop-color="#fff" stop-opacity="0"/></radialGradient>
<ellipse cx="68" cy="0.5" rx="4.75" ry="2.09" transform="rotate(0 68 0.5)" fill="url(#p0g1_6)"/>
<radialGradient id="p0g1_7"><stop offset="0" stop-color="#fff" stop-opacity="0.13"/><stop offset="0.55" stop-color="#fff" stop-opacity="0.10"/><stop offset="1" stop-color="#fff" stop-opacity="0"/></radialGradient>
<ellipse cx="67" cy="3" rx="8.05" ry="2.93" transform="rotate(0 67 3)" fill="url(#p0g1_7)"/>
<radialGradient id="p0g1_8"><stop offset="0" stop-color="#fff" stop-opacity="1.00"/><stop offset="0.55" stop-color="#fff" stop-opacity="0.80"/><stop offset="1" stop-color="#fff" stop-opacity="0"/></radialGradient>
<ellipse cx="81" cy="25.7" rx="7.47" ry="2.33" transform="rotate(15 81 25.7)" fill="url(#p0g1_8)"/>
<radialGradient id="p0g1_10"><stop offset="0" stop-color="#fff" stop-opacity="0.50"/><stop offset="0.55" stop-color="#fff" stop-opacity="0.40"/><stop offset="1" stop-color="#fff" stop-opacity="0"/></radialGradient>
<ellipse cx="49" cy="5.5" rx="1.03" ry="3.44" transform="rotate(10 49 5.5)" fill="url(#p0g1_10)"/>
<radialGradient id="p0g1_11"><stop offset="0" stop-color="#fff" stop-opacity="0.62"/><stop offset="0.55" stop-color="#fff" stop-opacity="0.50"/><stop offset="1" stop-color="#fff" stop-opacity="0"/></radialGradient>
<ellipse cx="11" cy="36" rx="1.75" ry="1.32" transform="rotate(0 11 36)" fill="url(#p0g1_11)"/>
<radialGradient id="p0g1_12"><stop offset="0" stop-color="#fff" stop-opacity="0.25"/><stop offset="0.55" stop-color="#fff" stop-opacity="0.20"/><stop offset="1" stop-color="#fff" stop-opacity="0"/></radialGradient>
<ellipse cx="24" cy="27" rx="2.39" ry="1.6" transform="rotate(0 24 27)" fill="url(#p0g1_12)"/>
</mask>
<mask id="mp0_2" maskUnits="userSpaceOnUse" x="-5" y="-5" width="115" height="60">
<rect x="-5" y="-5" width="115" height="60" fill="#000"/>
<radialGradient id="p0g2_0"><stop offset="0" stop-color="#fff" stop-opacity="0.62"/><stop offset="0.55" stop-color="#fff" stop-opacity="0.50"/><stop offset="1" stop-color="#fff" stop-opacity="0"/></radialGradient>
<ellipse cx="13" cy="10" rx="3.09" ry="1.16" transform="rotate(0 13 10)" fill="url(#p0g2_0)"/>
<radialGradient id="p0g2_1"><stop offset="0" stop-color="#fff" stop-opacity="1.00"/><stop offset="0.55" stop-color="#fff" stop-opacity="0.80"/><stop offset="1" stop-color="#fff" stop-opacity="0"/></radialGradient>
<ellipse cx="18" cy="10.7" rx="6.68" ry="1.5" transform="rotate(5 18 10.7)" fill="url(#p0g2_1)"/>
<radialGradient id="p0g2_2"><stop offset="0" stop-color="#fff" stop-opacity="1.00"/><stop offset="0.55" stop-color="#fff" stop-opacity="0.80"/><stop offset="1" stop-color="#fff" stop-opacity="0"/></radialGradient>
<ellipse cx="22.5" cy="11.4" rx="2.56" ry="1.19" transform="rotate(0 22.5 11.4)" fill="url(#p0g2_2)"/>
<radialGradient id="p0g2_6"><stop offset="0" stop-color="#fff" stop-opacity="1.00"/><stop offset="0.55" stop-color="#fff" stop-opacity="0.80"/><stop offset="1" stop-color="#fff" stop-opacity="0"/></radialGradient>
<ellipse cx="68" cy="0.5" rx="4.1" ry="1.8" transform="rotate(0 68 0.5)" fill="url(#p0g2_6)"/>
<radialGradient id="p0g2_8"><stop offset="0" stop-color="#fff" stop-opacity="0.50"/><stop offset="0.55" stop-color="#fff" stop-opacity="0.40"/><stop offset="1" stop-color="#fff" stop-opacity="0"/></radialGradient>
<ellipse cx="81" cy="25.7" rx="6.02" ry="1.88" transform="rotate(15 81 25.7)" fill="url(#p0g2_8)"/>
</mask>
<mask id="mp0_3" maskUnits="userSpaceOnUse" x="-5" y="-5" width="115" height="60">
<rect x="-5" y="-5" width="115" height="60" fill="#000"/>
<radialGradient id="p0g3_1"><stop offset="0" stop-color="#fff" stop-opacity="0.62"/><stop offset="0.55" stop-color="#fff" stop-opacity="0.50"/><stop offset="1" stop-color="#fff" stop-opacity="0"/></radialGradient>
<ellipse cx="18" cy="10.7" rx="5.62" ry="1.27" transform="rotate(5 18 10.7)" fill="url(#p0g3_1)"/>
<radialGradient id="p0g3_2"><stop offset="0" stop-color="#fff" stop-opacity="1.00"/><stop offset="0.55" stop-color="#fff" stop-opacity="0.80"/><stop offset="1" stop-color="#fff" stop-opacity="0"/></radialGradient>
<ellipse cx="22.5" cy="11.4" rx="2.23" ry="1.04" transform="rotate(0 22.5 11.4)" fill="url(#p0g3_2)"/>
<radialGradient id="p0g3_6"><stop offset="0" stop-color="#fff" stop-opacity="0.37"/><stop offset="0.55" stop-color="#fff" stop-opacity="0.30"/><stop offset="1" stop-color="#fff" stop-opacity="0"/></radialGradient>
<ellipse cx="68" cy="0.5" rx="3.29" ry="1.45" transform="rotate(0 68 0.5)" fill="url(#p0g3_6)"/>
</mask>
</defs>
<g clip-path="url(#cp0)">
<rect x="41" y="19" width="296" height="137" fill="#d5d5d5"/>
<g transform="translate(41 19) scale(2.87379 2.85417)" fill="none" stroke-width="0.296" shape-rendering="crispEdges">
<use href="#p0a" stroke="#0000c0"/><use href="#p0b" stroke="#0000f4"/><use href="#p0c" stroke="#0a30ff"/><use href="#p0l" stroke="#0070ff"/>
<use href="#p0e" stroke="#0000f0" mask="url(#dp0)"/>
<g stroke="#0050ff" mask="url(#mp0_0)"><use href="#p0a"/><use href="#p0b"/><use href="#p0c"/><use href="#p0l"/><use href="#p0e" mask="url(#dp0)"/></g>
<g stroke="#00d8ff" mask="url(#mp0_1)"><use href="#p0a"/><use href="#p0b"/><use href="#p0c"/><use href="#p0l"/><use href="#p0e" mask="url(#dp0)"/></g>
<g stroke="#70ff8f" mask="url(#mp0_2)"><use href="#p0a"/><use href="#p0b"/><use href="#p0c"/><use href="#p0l"/><use href="#p0e" mask="url(#dp0)"/></g>
<g stroke="#ffee00" mask="url(#mp0_3)"><use href="#p0a"/><use href="#p0b"/><use href="#p0c"/><use href="#p0l"/><use href="#p0e" mask="url(#dp0)"/></g>
<path d="M-5 -9 31 -9 29.1 -1 29.3 0 29.5 0.7 29 1.1 28.5 1.4 27.6 1.5 27.1 2.1 26.4 2.2 25.8 2.8 25 3.4 24.2 3.9 23.8 4.5 23.6 5.3 23.7 6.2 24.1 7 24.4 7.6 24.5 8.1 24.8 9 24.95 9.7 24.85 10.3 24.6 10.8 24.1 10.85 23.8 10.5 23.3 10.1 23.1 9.5 22.7 9 22.3 8.4 22.2 7.8 22.3 7.2 21.8 6.8 21.3 6.1 20.7 5.95 20.1 6.3 19.6 6.3 19.1 5.8 18.5 5.6 17.7 5.7 17 5.65 16.4 5.65 15.6 5.8 15.4 6.1 15.8 6.7 15.6 7 15 6.8 14.4 6.9 13.7 6.7 12.7 6.45 11.8 6.25 11 6.35 10.2 6.7 9.7 7.1 9 7.4 8.4 7.8 7.9 8.2 7.7 8.7 7.6 9.4 7.8 10.1 7.4 11.2 7.2 12.2 7.3 13.4 7.7 14.2 7.9 15 8.4 16.1 8.8 16.8 9.3 17.2 10 17.45 10.5 17.85 11.4 17.6 12.2 17.5 13 17.35 13.7 17.5 14.3 16.7 14.55 16 14.7 15.1 15.4 14.7 16.4 14.5 17.4 14.45 18 14.6 18.2 15.1 17.7 15.8 17.5 16.5 17.3 17.2 16.9 17.6 16.8 18.4 16.7 19.4 16.3 20.1 16.9 20.3 17.5 20.15 18.2 20.2 19 20.05 20 20.05 20.7 20.25 21.4 20.7 21.8 21.05 21.6 21.8 21.5 22.7 21.5 23.5 21.3 24.3 21.2 25 21.6 25.6 22.2 26.2 22.8 26.8 23.5 27.2 24.2 27.1 25 26.65 25.5 26.4 26.2 26.6 27 26.9 27.6 27.4 28.1 27.7 28.3 27.3 28.8 26.7 29.3 26.3 29.5 25.5 30 25 30.7 24.9 31.5 24.7 32.5 24.1 33.1 23.6 33.7 23.7 33.6 24.2 33.1 24.5 33.4 25.1 34 24.8 34.8 24.5 35 23.8 35.4 24.5 36.2 24.6 36.8 25.1 37 25.5 38 25.4 38.8 25.4 39.4 25.9 40.1 25.9 40.7 25.5 41.5 25.4 42.5 25.3 43 25.4 42.7 25.8 43.1 26.2 43.8 27 44.3 27.4 45 27.6 45.7 28.2 46.4 28.8 46.7 29.2 47.4 29.7 48 30.1 49 30.1 50 30 51 30.2 52 30.5 52.8 31.1 53.4 31.8 53.9 32.3 54.3 33.5 54.7 34.2 55.1 34.9 54.8 35.4 54.4 35.9 55 36.2 55.8 36.1 56.6 36.4 56.5 37.2 57.2 36.6 58.1 36.8 58.8 37 59.7 37.5 60.4 38.1 60.7 38.5 61.6 38.4 62.8 38.8 63.7 38.9 65 38.85 66 39.5 66.7 39.9 67.5 40.6 68.4 41.1 69.5 41.2 69.8 41.7 70.1 42.7 70.2 43.5 69.9 44.5 69.5 45.4 68.8 46.3 68 47 67.4 48 66.8 49 66.5 50 28.4 50 28.5 49 28.7 48 28 47.6 27.3 46.5 26.7 45.5 26 44.2 25.4 43.2 24.7 42.7 23.9 42.1 23.8 41.3 23.7 40.5 24.4 39.6 24.7 39.4 25.1 38.6 24.7 38.5 24.1 38.2 24.5 37.2 24.9 36.4 25 35.4 25.5 35 26.1 34.6 26.4 34 27.1 33.4 27.6 32.7 27.8 32 27.6 31.2 27.6 30.4 27.5 29.4 27.1 28.8 26.6 28 26.1 27.6 25.5 27.1 25 27.6 24.6 27.8 24.7 28.5 24.1 28.7 23.3 28 22.5 27.8 22 27.6 21.4 27.1 21 26.5 20.3 26.1 19.8 25.9 19.3 26 19.2 25.4 19.3 24.9 18.5 24.2 17.8 23.5 17.4 23 17.2 22.7 16.4 22.8 15.7 22.5 14.9 22.2 13.8 22.1 12.8 21.5 12 20.8 11.1 20.1 10.3 19.8 9.7 20.1 8.8 20.3 8 20.1 7.2 19.9 6.4 19.6 5.3 19.3 4.1 18.8 3.2 18.2 2.4 18 1.5 17.7 0.7 17 0 16.4 -0.6 15.6 -0.3 15 -0.7 13.6 -1.5 12.8 -5 12ZM20.05 14.15 20.6 14 21 13.3 21.8 13.05 22.7 12.85 23.6 12.85 24.4 12.95 25.3 13.25 26.2 13.6 27.1 14 27.9 14.4 28.7 14.8 29.4 15 30.1 15.35 30.85 15.75 30.3 15.95 29.5 16.1 28.5 16.05 27.5 16.15 27.3 15.7 27.8 15.35 26.9 15.1 26.3 14.4 25.1 14.25 24.4 13.95 23.6 13.85 22.8 13.7 23.1 13.35 22.2 13.35 21.5 13.8 21 14.1 20.5 14.25ZM30.55 17.65 31.6 17.75 32.5 17.8 33.3 18.2 33.6 18.4 34.3 17.7 35 17.75 35.7 17.55 36.3 17.8 36.65 17.4 36.1 17.05 35.6 16.8 35.1 16.35 34.2 16.1 33.3 16.25 32.2 16.05 31.6 16.35 32.3 16.6 32.2 17 32.6 17.35 32 17.55 30.8 17.35ZM26.65 17.75 27.4 17.5 28.1 17.6 28.8 18 28.2 18.1 27.8 18.3 27.2 18.1 26.8 17.8ZM37.75 17.6 39 17.55 39.4 17.75 39.2 18 37.8 18.05ZM110 2 104 0.9 102.8 0.9 102.1 0.7 102.05 0.55 101.5 0.8 100.7 0.8 100.1 0.6 99.7 0.1 99.1 0.2 98.7 1 98.2 1.9 97.4 2.4 96.5 2.75 96 3.4 95.7 3.8 95.2 4.6 95.3 5.4 95.35 5.9 95.1 6.4 94.7 6.9 94 7.4 93.3 7.9 92.4 8.1 91.7 8.4 91.1 9.2 90.5 9.9 90.2 10.7 89.7 11.4 89 12.2 88.7 12.9 88.3 13.6 88 14.6 87.95 15.2 88.5 15.8 88.8 16.4 88.5 16.9 88.8 18 88.9 19 88.5 19.8 88.2 20.5 87.8 21.1 87.5 21.3 87.9 21.5 88.2 22.1 88.3 22.8 88.2 23.5 88.5 23.8 88.9 24.2 89.4 24.7 89.8 25.2 90.2 25.7 90.7 26.4 91.3 26.9 91.6 27.6 92 28.3 92.8 28.7 93.6 29.2 94.3 29.7 95 30.3 95.7 30.9 96.7 31.4 97.5 31.65 98.4 31.3 99.2 31 100.4 30.8 101.5 30.9 102.2 31 103 31.25 104 31 105 30.5 110 30ZM97 -1.5 98 -1.2 98.7 -0.6 99 -0.2 99.4 0 100 -0.4 100.6 -0.7 102 -0.75 103 -0.8 105 -2 105 -4 97 -4ZM43.1 25.9 43.4 25.25 44.1 25.15 44 25.9Z" fill="#cccccc" stroke="none"/>
<path d="M33.4 25.05 33.6 25.4 34 25.7 33.9 26.4 33.5 26.9 33.1 26.7 33 26.1 33.2 25.5Z" fill="#1a1ab0" stroke="#000" stroke-width="0.313"/>
</g>
<path d="M55.37 19V156M112.84 19V156M170.32 19V156M227.8 19V156M285.27 19V156M41 36.12H337M41 64.67H337M41 93.21H337M41 121.75H337M41 150.29H337" stroke="#000" stroke-opacity="0.07" stroke-width="1" fill="none"/>
<g transform="translate(41 19) scale(2.87379 2.85417)"><path d="M-5 -9 31 -9 29.1 -1 29.3 0 29.5 0.7 29 1.1 28.5 1.4 27.6 1.5 27.1 2.1 26.4 2.2 25.8 2.8 25 3.4 24.2 3.9 23.8 4.5 23.6 5.3 23.7 6.2 24.1 7 24.4 7.6 24.5 8.1 24.8 9 24.95 9.7 24.85 10.3 24.6 10.8 24.1 10.85 23.8 10.5 23.3 10.1 23.1 9.5 22.7 9 22.3 8.4 22.2 7.8 22.3 7.2 21.8 6.8 21.3 6.1 20.7 5.95 20.1 6.3 19.6 6.3 19.1 5.8 18.5 5.6 17.7 5.7 17 5.65 16.4 5.65 15.6 5.8 15.4 6.1 15.8 6.7 15.6 7 15 6.8 14.4 6.9 13.7 6.7 12.7 6.45 11.8 6.25 11 6.35 10.2 6.7 9.7 7.1 9 7.4 8.4 7.8 7.9 8.2 7.7 8.7 7.6 9.4 7.8 10.1 7.4 11.2 7.2 12.2 7.3 13.4 7.7 14.2 7.9 15 8.4 16.1 8.8 16.8 9.3 17.2 10 17.45 10.5 17.85 11.4 17.6 12.2 17.5 13 17.35 13.7 17.5 14.3 16.7 14.55 16 14.7 15.1 15.4 14.7 16.4 14.5 17.4 14.45 18 14.6 18.2 15.1 17.7 15.8 17.5 16.5 17.3 17.2 16.9 17.6 16.8 18.4 16.7 19.4 16.3 20.1 16.9 20.3 17.5 20.15 18.2 20.2 19 20.05 20 20.05 20.7 20.25 21.4 20.7 21.8 21.05 21.6 21.8 21.5 22.7 21.5 23.5 21.3 24.3 21.2 25 21.6 25.6 22.2 26.2 22.8 26.8 23.5 27.2 24.2 27.1 25 26.65 25.5 26.4 26.2 26.6 27 26.9 27.6 27.4 28.1 27.7 28.3 27.3 28.8 26.7 29.3 26.3 29.5 25.5 30 25 30.7 24.9 31.5 24.7 32.5 24.1 33.1 23.6 33.7 23.7 33.6 24.2 33.1 24.5 33.4 25.1 34 24.8 34.8 24.5 35 23.8 35.4 24.5 36.2 24.6 36.8 25.1 37 25.5 38 25.4 38.8 25.4 39.4 25.9 40.1 25.9 40.7 25.5 41.5 25.4 42.5 25.3 43 25.4 42.7 25.8 43.1 26.2 43.8 27 44.3 27.4 45 27.6 45.7 28.2 46.4 28.8 46.7 29.2 47.4 29.7 48 30.1 49 30.1 50 30 51 30.2 52 30.5 52.8 31.1 53.4 31.8 53.9 32.3 54.3 33.5 54.7 34.2 55.1 34.9 54.8 35.4 54.4 35.9 55 36.2 55.8 36.1 56.6 36.4 56.5 37.2 57.2 36.6 58.1 36.8 58.8 37 59.7 37.5 60.4 38.1 60.7 38.5 61.6 38.4 62.8 38.8 63.7 38.9 65 38.85 66 39.5 66.7 39.9 67.5 40.6 68.4 41.1 69.5 41.2 69.8 41.7 70.1 42.7 70.2 43.5 69.9 44.5 69.5 45.4 68.8 46.3 68 47 67.4 48 66.8 49 66.5 50 28.4 50 28.5 49 28.7 48 28 47.6 27.3 46.5 26.7 45.5 26 44.2 25.4 43.2 24.7 42.7 23.9 42.1 23.8 41.3 23.7 40.5 24.4 39.6 24.7 39.4 25.1 38.6 24.7 38.5 24.1 38.2 24.5 37.2 24.9 36.4 25 35.4 25.5 35 26.1 34.6 26.4 34 27.1 33.4 27.6 32.7 27.8 32 27.6 31.2 27.6 30.4 27.5 29.4 27.1 28.8 26.6 28 26.1 27.6 25.5 27.1 25 27.6 24.6 27.8 24.7 28.5 24.1 28.7 23.3 28 22.5 27.8 22 27.6 21.4 27.1 21 26.5 20.3 26.1 19.8 25.9 19.3 26 19.2 25.4 19.3 24.9 18.5 24.2 17.8 23.5 17.4 23 17.2 22.7 16.4 22.8 15.7 22.5 14.9 22.2 13.8 22.1 12.8 21.5 12 20.8 11.1 20.1 10.3 19.8 9.7 20.1 8.8 20.3 8 20.1 7.2 19.9 6.4 19.6 5.3 19.3 4.1 18.8 3.2 18.2 2.4 18 1.5 17.7 0.7 17 0 16.4 -0.6 15.6 -0.3 15 -0.7 13.6 -1.5 12.8 -5 12ZM20.05 14.15 20.6 14 21 13.3 21.8 13.05 22.7 12.85 23.6 12.85 24.4 12.95 25.3 13.25 26.2 13.6 27.1 14 27.9 14.4 28.7 14.8 29.4 15 30.1 15.35 30.85 15.75 30.3 15.95 29.5 16.1 28.5 16.05 27.5 16.15 27.3 15.7 27.8 15.35 26.9 15.1 26.3 14.4 25.1 14.25 24.4 13.95 23.6 13.85 22.8 13.7 23.1 13.35 22.2 13.35 21.5 13.8 21 14.1 20.5 14.25ZM30.55 17.65 31.6 17.75 32.5 17.8 33.3 18.2 33.6 18.4 34.3 17.7 35 17.75 35.7 17.55 36.3 17.8 36.65 17.4 36.1 17.05 35.6 16.8 35.1 16.35 34.2 16.1 33.3 16.25 32.2 16.05 31.6 16.35 32.3 16.6 32.2 17 32.6 17.35 32 17.55 30.8 17.35ZM26.65 17.75 27.4 17.5 28.1 17.6 28.8 18 28.2 18.1 27.8 18.3 27.2 18.1 26.8 17.8ZM37.75 17.6 39 17.55 39.4 17.75 39.2 18 37.8 18.05ZM110 2 104 0.9 102.8 0.9 102.1 0.7 102.05 0.55 101.5 0.8 100.7 0.8 100.1 0.6 99.7 0.1 99.1 0.2 98.7 1 98.2 1.9 97.4 2.4 96.5 2.75 96 3.4 95.7 3.8 95.2 4.6 95.3 5.4 95.35 5.9 95.1 6.4 94.7 6.9 94 7.4 93.3 7.9 92.4 8.1 91.7 8.4 91.1 9.2 90.5 9.9 90.2 10.7 89.7 11.4 89 12.2 88.7 12.9 88.3 13.6 88 14.6 87.95 15.2 88.5 15.8 88.8 16.4 88.5 16.9 88.8 18 88.9 19 88.5 19.8 88.2 20.5 87.8 21.1 87.5 21.3 87.9 21.5 88.2 22.1 88.3 22.8 88.2 23.5 88.5 23.8 88.9 24.2 89.4 24.7 89.8 25.2 90.2 25.7 90.7 26.4 91.3 26.9 91.6 27.6 92 28.3 92.8 28.7 93.6 29.2 94.3 29.7 95 30.3 95.7 30.9 96.7 31.4 97.5 31.65 98.4 31.3 99.2 31 100.4 30.8 101.5 30.9 102.2 31 103 31.25 104 31 105 30.5 110 30ZM97 -1.5 98 -1.2 98.7 -0.6 99 -0.2 99.4 0 100 -0.4 100.6 -0.7 102 -0.75 103 -0.8 105 -2 105 -4 97 -4ZM43.1 25.9 43.4 25.25 44.1 25.15 44 25.9Z" fill="#111" fill-opacity="0" stroke="#000" stroke-width="0.365" stroke-linejoin="round"/><path d="M26.65 11.5a0.35 0.45 0 1 0 0.7 0a0.35 0.45 0 1 0 -0.7 0ZM26 9.35a0.6 0.15 0 1 0 1.2 0a0.6 0.15 0 1 0 -1.2 0ZM27.6 9.6a0.2 0.5 0 1 0 0.4 0a0.2 0.5 0 1 0 -0.4 0ZM28.55 10.9a0.15 0.45 0 1 0 0.3 0a0.15 0.45 0 1 0 -0.3 0ZM29.28 11.7a0.12 0.3 0 1 0 0.24 0a0.12 0.3 0 1 0 -0.24 0ZM29.78 12.7a0.12 0.35 0 1 0 0.24 0a0.12 0.35 0 1 0 -0.24 0ZM31.2 15a0.3 0.15 0 1 0 0.6 0a0.3 0.15 0 1 0 -0.6 0ZM32.6 14.2a0.4 0.12 0 1 0 0.8 0a0.4 0.12 0 1 0 -0.8 0ZM30.85 13.6a0.25 0.2 0 1 0 0.5 0a0.25 0.2 0 1 0 -0.5 0ZM43.15 19.8a0.25 0.2 0 1 0 0.5 0a0.25 0.2 0 1 0 -0.5 0ZM43.85 21.35a0.15 0.25 0 1 0 0.3 0a0.15 0.25 0 1 0 -0.3 0ZM45.33 22.85a0.12 0.15 0 1 0 0.24 0a0.12 0.15 0 1 0 -0.24 0ZM43.55 20.6a0.1 0.15 0 1 0 0.2 0a0.1 0.15 0 1 0 -0.2 0ZM43.7 22.75a0.1 0.15 0 1 0 0.2 0a0.1 0.15 0 1 0 -0.2 0ZM43.15 23.9a0.1 0.1 0 1 0 0.2 0a0.1 0.1 0 1 0 -0.2 0ZM42.1 18.7a0.1 0.1 0 1 0 0.2 0a0.1 0.1 0 1 0 -0.2 0ZM43.08 18.9a0.12 0.1 0 1 0 0.24 0a0.12 0.1 0 1 0 -0.24 0ZM35.8 23.8a0.2 0.1 0 1 0 0.4 0a0.2 0.1 0 1 0 -0.4 0ZM36.55 23.8a0.15 0.1 0 1 0 0.3 0a0.15 0.1 0 1 0 -0.3 0ZM34.88 23.5a0.12 0.1 0 1 0 0.24 0a0.12 0.1 0 1 0 -0.24 0ZM40.18 17.7a0.12 0.06 0 1 0 0.24 0a0.12 0.06 0 1 0 -0.24 0ZM23.55 16.7a0.15 0.08 0 1 0 0.3 0a0.15 0.08 0 1 0 -0.3 0ZM13.35 36.5a0.45 0.5 0 1 0 0.9 0a0.45 0.5 0 1 0 -0.9 0ZM14.4 36.7a0.2 0.2 0 1 0 0.4 0a0.2 0.2 0 1 0 -0.4 0ZM15.35 36.85a0.15 0.1 0 1 0 0.3 0a0.15 0.1 0 1 0 -0.3 0ZM88.25 7.7a0.25 0.15 0 1 0 0.5 0a0.25 0.15 0 1 0 -0.5 0ZM89.15 8a0.25 0.2 0 1 0 0.5 0a0.25 0.2 0 1 0 -0.5 0ZM90.6 7.6a0.4 0.2 0 1 0 0.8 0a0.4 0.2 0 1 0 -0.8 0ZM91 7a0.3 0.15 0 1 0 0.6 0a0.3 0.15 0 1 0 -0.6 0ZM87 7.3a0.1 0.15 0 1 0 0.2 0a0.1 0.15 0 1 0 -0.2 0ZM87.68 7.9a0.12 0.1 0 1 0 0.24 0a0.12 0.1 0 1 0 -0.24 0ZM87.85 3.25a0.25 0.1 0 1 0 0.5 0a0.25 0.1 0 1 0 -0.5 0ZM80.35 21.05a0.15 0.12 0 1 0 0.3 0a0.15 0.12 0 1 0 -0.3 0ZM81.2 20.9a0.2 0.25 0 1 0 0.4 0a0.2 0.25 0 1 0 -0.4 0ZM82.05 19.9a0.15 0.15 0 1 0 0.3 0a0.15 0.15 0 1 0 -0.3 0ZM82 19.3a0.1 0.1 0 1 0 0.2 0a0.1 0.1 0 1 0 -0.2 0ZM79.65 19a0.25 0.15 0 1 0 0.5 0a0.25 0.15 0 1 0 -0.5 0ZM80.55 19.4a0.15 0.1 0 1 0 0.3 0a0.15 0.1 0 1 0 -0.3 0ZM72.52 39.85a0.08 0.06 0 1 0 0.16 0a0.08 0.06 0 1 0 -0.16 0ZM17.87 30.45a0.08 0.06 0 1 0 0.16 0a0.08 0.06 0 1 0 -0.16 0ZM23.25 23.45a0.05 0.05 0 1 0 0.1 0a0.05 0.05 0 1 0 -0.1 0ZM88.6 24.8a0.4 0.25 0 1 0 0.8 0a0.4 0.25 0 1 0 -0.8 0ZM89.2 24.5a0.3 0.2 0 1 0 0.6 0a0.3 0.2 0 1 0 -0.6 0Z" fill="#000"/><path d="M26 9.3 27.1 9.4M27.8 9 28 9.6 27.9 10M26.7 10.9 27.1 11.4 27.3 12M27 10.8 27.3 11.7M28.3 10.5 28.8 11 28.8 11.4M28.2 11.4 29.1 12.4M29.4 11.4 29.6 11.9M29.7 12.4 30.1 13M30.7 13.2 31.1 13.8M31.8 13.6 32.1 13.7M31.3 14.9 32 15M32.6 14.2 33.3 14.3" fill="none" stroke="#000" stroke-width="0.452" stroke-linecap="round"/></g>
</g>
<rect x="41.5" y="19.5" width="295" height="136" fill="none" stroke="#262626" stroke-opacity="0.4" stroke-width="1"/>
<path d="M55.37 19v2.8M55.37 156v-2.8M112.84 19v2.8M112.84 156v-2.8M170.32 19v2.8M170.32 156v-2.8M227.8 19v2.8M227.8 156v-2.8M285.27 19v2.8M285.27 156v-2.8M41 36.12h2.8M337 36.12h-2.8M41 64.67h2.8M337 64.67h-2.8M41 93.21h2.8M337 93.21h-2.8M41 121.75h2.8M337 121.75h-2.8M41 150.29h2.8M337 150.29h-2.8" stroke="#262626" stroke-opacity="0.45" stroke-width="1" fill="none"/>
<g opacity="0.999">
<text x="189" y="14.9" text-anchor="middle" font-weight="bold" font-size="11.75" fill="#000">DDM Peak SNR on 3-Jul-2020</text>
<text x="36.9" y="39.73" text-anchor="end" font-size="10" fill="#262626">30</text>
<text x="36.9" y="68.27" text-anchor="end" font-size="10" fill="#262626">20</text>
<text x="36.9" y="96.81" text-anchor="end" font-size="10" fill="#262626">10</text>
<text x="36.9" y="125.35" text-anchor="end" font-size="10" fill="#262626">0</text>
<text x="36.9" y="153.89" text-anchor="end" font-size="10" fill="#262626">-10</text>
<text x="55.37" y="169.7" text-anchor="middle" font-size="10" fill="#262626">-100</text>
<text x="112.84" y="169.7" text-anchor="middle" font-size="10" fill="#262626">-80</text>
<text x="170.32" y="169.7" text-anchor="middle" font-size="10" fill="#262626">-60</text>
<text x="227.8" y="169.7" text-anchor="middle" font-size="10" fill="#262626">-40</text>
<text x="285.27" y="169.7" text-anchor="middle" font-size="10" fill="#262626">-20</text>
<text x="189" y="184" text-anchor="middle" font-size="11.4" fill="#262626">Longitude (°)</text>
<text x="0" y="0" transform="translate(13.4 87.5) rotate(-90)" text-anchor="middle" font-size="11.4" dominant-baseline="central" fill="#262626">Latitude (°)</text>
<rect x="343.4" y="18.9" width="11.8" height="137.6" fill="url(#jet)"/>
<rect x="343.4" y="154.3" width="11.8" height="2.2" fill="#cccccc"/>
<rect x="343.4" y="18.9" width="11.8" height="137.6" fill="none" stroke="#262626" stroke-opacity="0.45" stroke-width="0.8"/>
<text x="358.6" y="159.2" font-size="9" fill="#262626">0</text>
<text x="358.6" y="133.81" font-size="9" fill="#262626">5</text>
<text x="358.6" y="108.43" font-size="9" fill="#262626">10</text>
<text x="358.6" y="83.04" font-size="9" fill="#262626">15</text>
<text x="358.6" y="57.65" font-size="9" fill="#262626">20</text>
<text x="358.6" y="32.26" font-size="9" fill="#262626">25</text>
<text x="349.3" y="13.3" text-anchor="middle" font-size="8.5" fill="#262626">dB</text>
<text x="190" y="212.2" text-anchor="middle" font-family="Liberation Serif" font-size="15" fill="#000">(i)</text>
</g>
<clipPath id="cp1"><rect x="476" y="18" width="299" height="139"/></clipPath>
<defs>
<path id="p1a" d="M83.83 -11.36L111.62 6.27M100.05 -0.7L131.82 19.12M90.4 -3.66L124.39 17.35M62.58 -18.33L96.63 -0.28M84.49 -5.98L100.73 2.69M103.51 4.17L140.8 24.05M82.81 -3.4L120.01 17.77M81.77 -3.49L94.5 3.76M58.79 -14.6L86.22 -0.85M93.49 2.79L109.99 11.05M101.93 7.16L133.46 22.59M45.69 -23.16L80.55 -0.32M97.15 10.55L132.68 33.83M70.15 -6.72L81.26 0.11M86.05 3.05L102.99 13.46M79.85 -0.14L111.67 19.95M97.67 13.47L112.29 23.71M101.99 15.59L116.04 24.62M95.23 11.03L120.26 25.86M64.34 -6.3L77.25 0.76M79.79 2.15L103.77 15.26M81.05 5.85L104.48 22.06M61.54 -6.87L91.44 12.48M64.5 -4.43L88.41 11.47M33.73 -19.78L69.42 0.36M83.15 10.61L114.83 26.9M51.56 -5.06L66.66 2.75M56.83 -1.33L93.99 17.05M44.56 -7.23L59.67 0.55M84.39 13.6L101.37 22.15M99.8 28.26L108.96 34.24M83.29 19.7L93.17 26.85M99.71 31.59L115.04 42.69M99.48 29.55L115.71 40.04M63.86 8.46L77.12 15.76M61.92 8.4L98.06 27.71M9.4 -18.65L47.61 1.89M53.21 4.9L71.86 14.92M73.8 15.96L93.25 26.42M65.95 12.76L100.42 34.49M50.18 3.26L76.66 20.15M82.31 23.75L90.75 29.13M93.66 30.99L110.06 41.44M45.07 2.58L69.9 20.23M75.68 24.34L111.1 49.51M35.62 -4.11L66.06 18.26M23.97 -7.38L51.2 10.22M54.9 13.46L70.16 22.79M9.38 -14.23L31.87 -0.24M36.47 2.62L48.73 10.24M99.95 43.19L124.26 58.55M96.62 44.78L108.99 53.49M44.85 8.64L58.49 18.59M63.82 22.49L89.72 41.38M96.63 46.42L110.65 56.66M13.95 -6.12L23.68 -0.68M61.5 21L86.75 34.93M87.83 35.52L116.67 51.43M14.17 -4.15L38 8.78M70.74 26.54L107.77 46.63M13.57 -6.19L35.02 6.63M-12.85 -18.21L23.16 1.72M98.37 43.34L136.32 64.35M40.79 12.01L67.71 27.08M69.76 28.23L76.82 32.18M80.19 34.07L106.38 48.73M25.98 4.81L33.92 9.68M66.42 29.59L84.11 40.44M28.98 7.84L62.3 27.73M68.17 31.23L76.6 36.26M82.75 40.2L94.24 46.81M77.19 37.26L106.1 53.52M44.78 20.04L61.98 28.48M-11.08 -19.51L20.88 2.75M66 33.42L84.47 43.19M30.38 14.98L44.53 22.52M30.4 12.23L54.7 29.32M81.67 48.29L101.08 61.95M5.75 -3.63L42.13 21.2M-1.68 1.07L34.09 19.49M-13.3 -9.29L6.58 2.73M-14.27 -11.67L6.89 1.93M12.2 5.34L48.03 28.38M55.41 33.12L88.89 54.64M10.16 2.93L41.11 24.15M10.98 6.05L35.3 21.49M42 25.75L49.77 30.68M68.7 42.71L89.56 55.96M25.62 18.39L33.89 22.86M37.61 24.87L60.54 37.28M37 24.82L60.73 38.01M67.73 41.9L102.18 61.04M17.07 11.4L44.49 29.64M70.33 46.84L90.87 60.5M20.16 13.95L44.49 30.23M-16.51 -13.48L15.66 10.02M15.46 10.64L41.97 29.81M16.98 12.45L48.5 35.06M23.28 17.73L48.98 35.9M23.08 19.6L50.27 37.57M41.23 32.17L54.85 41.62M0.63 4.46L10.71 11.48M67.5 47.48L83.75 55.64M12.99 19.18L25.89 26.62M54.72 43.25L81.09 58.47M-5.39 9.33L13.37 20.08M19.7 24.86L43.33 38.13M43.38 39.28L59.67 50.27M-11.58 14.05L27.28 34.6M2.3 24.98L32.12 39.57M43.05 45.82L53.31 50.86M-23 6.72L5.57 24.39M43.5 47.84L68.73 63.44M7.01 26.15L30.78 40.56M-2.83 18.14L22.38 34.9M26.65 37.74L53.86 55.84M-7.98 14.92L20.28 34.4M-1.37 26.42L35.27 46.99M-0.08 24.43L30.7 44.78M28.23 43.42L44.75 55.45M-4.95 26.07L32.93 48.17M10.87 33.86L27.31 45.11M29.38 46.52L47.66 59.02M-6.01 23.66L11.13 35.22M-2.29 28.5L9.81 36.49M12.72 38.41L31.2 50.6M7.74 35.67L40.9 57.58M15 41.87L29.56 51.39M-28.2 11.92L3.29 34.57M5.71 36.31L13.61 42M-14.28 22.56L15.93 44.26M-17.83 29.82L1.43 41.11M3.5 42.33L19.36 52.06M5.83 44.51L21.81 54.22M-35.6 24.12L0.44 46.12M2.67 47.83L34.25 67.38M-9.39 39.99L27.34 63.98M-6.03 42.39L7.04 51.07M-13.69 7.13L19.72 -11.95M-6.93 8.29L21.38 -10.84M-7.74 7.63L22.32 -10.13M0.76 3.88L21.34 -7.56M-37.88 22.58L1.37 3.09M-13.21 18.48L11.45 2.17M15.03 -0.2L44.73 -19.86M-33.03 32.53L1.34 9.58M0.86 10.7L14.14 1.72M8.05 6.1L26.63 -6.27M3.03 6.2L41.14 -14.33M-1.06 9.11L6.8 4.82M-28.98 27.85L2.41 9.4M0.69 14.73L22.73 -0.17M-5.84 14.62L29.31 -2.8M-29.24 27.21L7.14 8.93M12.6 6.18L29.15 -2.13M-1.07 21.35L17.96 8.43M9.39 12.9L21.12 6.42M23.45 7.68L34.89 0.49M20.91 10.41L37.62 -0.62M33.39 2.75L59.4 -14.08M-27.08 42.67L7.92 19.86M11.05 17.82L33.88 2.93M-12.66 36.41L21.48 12.33M10.85 18.1L43.47 -1.38M19.55 13.72L41.26 0.98M22.94 13.22L59.98 -9.94M-28.32 41.58L10.12 20.22M-25.55 49.84L5.09 28.88M5.1 28.84L13.97 22.94M-24.79 48.74L7.55 27.74M12.28 25.25L40.95 6.57M-11.44 41.05L11.18 26.38M-6.43 31.25L5.17 25.51M20.25 20.48L51.92 2.75M57.93 -0.61L82.25 -14.23M30.96 15.09L54.54 3.79M-9.25 35.07L2.38 29.45M10.95 25.32L50.79 6.08M4.78 36.13L15.04 29.5M53.24 4.8L86.46 -16.67M13.47 28.06L27.84 20.41M36.04 16.04L63.35 1.51M-13.8 54.49L-0.44 45.37M20.06 31.37L42.14 16.29M-0.04 38.72L9.76 33.59M18.45 32.19L44.44 17.9M-10.47 57.18L14.33 40.1M22.79 30.55L45.94 18.67M-16.19 50.14L16.56 33.81M23.49 30.36L56.62 13.83M21.13 32.34L36.7 24.37M80.78 1.82L116.33 -16.36M57.31 14.23L93.09 -4.27M-19.5 51.2L15.15 34.9M40.98 22.75L78.31 5.19M-9.82 60.03L9.09 47.07M32.26 31.19L57.01 14.23M64.93 8.81L74.65 2.14M21.79 38.39L29.67 33.13M34.79 29.71L55.53 15.87M88.58 1.6L112.6 -10.01M81.38 5.97L93.63 0.14M-20.36 54.84L17.35 36.89M38.38 30.08L57.47 20.94M-12.89 54.72L27.16 35.71M93.41 4.28L106.05 -1.72M-12.63 55.92L25.82 37.5M34.52 33.34L63.79 19.31M90.34 1.32L104.11 -7.38M-5.96 68.53L26.31 46.3M45.78 32.88L63.73 20.51M67.34 18.02L94.6 -0.76M64.88 22.64L103.63 4.14M83.73 13.91L109.78 1.3M19.63 51.79L30.46 44.7M81.6 13.58L114.1 -8.16M68.96 22.54L78.76 16.01M53.06 33.19L80.97 19.78M42.63 40.56L56.96 32.56M85.43 16.68L104.11 6.26M45.12 39.87L55.59 33.91M44.32 40.85L62.63 30.22M63.75 29.57L73.41 23.97M36.18 45.9L62.04 31.14M-8.22 67.04L30.67 48.3M45.83 42.83L72.14 28.4M21.84 55.84L44.91 44.07M87.77 22.2L98.88 16.53M48.16 44.47L61.93 36.57M64.47 35.11L93.16 18.66M72.23 31.3L105.09 12.66M62.22 37.69L78.6 28.73M100.16 16.93L110.14 11.47M47.92 48.37L55.65 43.14M63.59 37.76L82.9 24.69M97 15.14L103.99 10.41M95.04 19.47L131.15 -2.36M25.57 60.35L62.54 40.11M65.7 38.38L97.46 21M96.99 21.83L126.89 5.46M67.32 38.98L100.74 21.76M51.32 48.9L75.5 33.9M80.6 30.73L92.77 23.19M99.94 18.74L128.53 1M28.9 61.2L61.78 44.05M92.59 29.81L116.76 15.49M44.64 59.81L65.1 46.62M71.93 42.22L101.07 23.45M102.26 30.08L128.32 17.2M60.23 52.15L69.14 47.22M54.07 58.04L87.1 37.29M93.06 33.56L105.1 25.99M57.88 55.35L79.55 44.03M96.93 34.96L127.78 18.85M77.58 46.83L92.22 37.99M97 35.11L110.71 26.83M78.72 46.75L112.23 26.98M41.68 67.06L78.58 48.02M70.07 53.94L104.88 34.36M74.83 52.53L104.29 37.57M79.75 55.13L93.15 48.32M91.97 49.26L118.28 35.44M78.88 57.36L114.36 39.17M103.35 45.45L129.06 32.28M96.18 56.66L130.99 39.32M81.57 -0.76L97.23 -0.6M9.75 -0.86L20.01 -0.79M34.29 -0.68L37.91 -0.65M72.53 -0.39L85.75 -0.29M84.24 0.74L90.63 0.62M-4.86 3.96L4.24 3.92M17.73 3.86L27.9 3.82M72.17 4.41L75.94 4.38M82.86 4.33L89.24 4.28M20.12 5.44L30.47 5.32M61.35 4.97L69.99 4.88M78.77 4.78L85.68 4.7M36.4 5.68L44.58 5.61M88.59 6.66L101.93 6.55M77.28 10.18L92.29 10.83M7.33 8.31L22.23 8.73M40.42 9.24L49.27 9.48M1.04 10.71L16.48 10.75M30.11 10.79L33.31 10.8M96.24 10.97L100.75 10.89M67.38 11.97L73.41 11.84M83.99 11.61L87.6 11.53M31.81 15.53L45.67 14.96M73.67 13.82L83.92 13.4M31.15 16.1L35.68 16.07M29.01 16.67L38.43 16.55M53.07 16.36L59.53 16.28M0.11 21.63L7.8 21.28M16.25 20.9L24.85 20.52M89.72 17.61L104.12 16.96M100.04 20.82L112.06 20.85M-2.36 21.54L8.29 21.48M-0.17 24.6L10.67 24.32M82.76 22.48L92.32 22.23M39.06 25.23L50.19 25.22M20.93 28.07L26.87 27.9M88.87 26.21L99.47 25.92M6.54 28.53L12.82 28.45M-1.16 28.4L14.02 28.76M29.74 31.81L36.4 31.66M58.48 31.17L74.29 30.82M82.86 30.63L96.03 30.34M55.7 31.74L70.75 31.35M76.43 31.2L91.88 30.8M32.82 33.55L36.56 33.59M18.4 34.19L32.93 34.23M79.68 34.33L88.61 34.35M92.56 34.36L100.99 34.38M-10.33 34.26L4.22 34.39M19.93 34.52L31.65 34.62M36.03 34.66L49.06 34.77M99.08 35.2L106.73 35.27M45.47 35.32L56.09 35.15M61.46 35.06L67.35 34.97M41.93 35.73L46.68 35.73M5.87 36.35L21.47 36.27M40.2 36.17L49.31 36.12M101.56 35.85L113.18 35.79M101.15 39.37L106.38 39.49M19.81 38.74L27.58 38.88M12.65 38.37L27.24 38.88M93.97 41.21L108.67 41.73M8.05 41.42L23.27 41.49M27.47 41.5L36.12 41.54M63.55 41.65L70 41.68M88.91 41.76L97.47 41.79M28.92 42.14L35.09 42.27M67.26 42.93L80.44 43.2M93.87 44.71L106.31 45.2M69.94 44.25L78.59 43.93M96.45 43.28L101.65 43.09M19.88 45.97L28.8 45.79M52.27 46.98L62.32 47.06M84.32 48.39L92.71 48.61M31.39 47.66L47.14 47.98M83.85 48.73L87.16 48.8M3.8 47.64L18.02 47.92M2.08 11.62L1.73 8.14M8.87 28.82L8.85 26.89M12.23 12.5L12.17 9.99M19.08 23.78L19.07 21.59M27.21 2.98L27.32 1.4M30.73 33.95L30.59 31.01M39.27 29.5L38.87 25.61M45.1 40.26L45.13 38.69M45.72 -0.68L45.76 -3.26M49.17 39.04L49.61 35.16M64.05 36.15L63.67 32.8M61.13 10.34L60.7 6.55M64.36 34.03L63.94 30.46M65.37 38.17L65.1 35.92M68.09 27.3L67.96 23.69M67.2 2.63L67.11 0.14M69.36 36.78L69.26 33.29M69.06 26.73L68.98 24.21M73.86 28.31L74.18 24.63M81.03 41.43L80.86 39.73M86.08 36.23L85.84 33.03M90.21 9.08L90.65 5.41M92.42 8.54L92.03 4.93M91.5 -0.09L91.2 -2.9M102.49 16.14L102.46 12.6"/>
<path id="p1b" d="M78.05 -17.45L113.7 7.49M86.36 -10.31L121.9 12.5M75.3 -14.86L111.79 7.67M77.42 -12.82L98.59 1.19M100.99 2.77L130.34 22.19M83.62 -7.8L122.53 12.47M76.29 -8.89L98.36 6.08M99.7 6.99L117.98 19.39M90.85 -0.14L127.38 20.49M80.08 -4.58L104.62 11.76M102.08 8.09L112.98 14.31M70.38 -8.27L98.54 5.51M77.33 -4.25L114.15 14.38M91.86 7.13L113.23 21.6M58.21 -14.17L90.51 8.45M71.52 -4L93.59 10.19M76.78 -0.31L100.96 14.18M56.92 -11.66L86.98 6.14M64.71 -5.46L76.9 2.97M96.28 15.61L117.79 29.53M101.42 20.12L121 33.14M41.06 -15.32L74.07 1.58M78.96 4.09L110.4 20.19M69.78 -0.05L80.21 5.77M84.43 8.12L105.29 19.75M77.87 5.13L100.39 17.84M102.18 18.85L121.91 29.99M53.39 -8.87L79.64 7.76M86.82 12.31L120.38 33.58M57.92 -5.34L89.81 14.13M91 14.86L118.21 31.47M31.82 -21.52L64.76 -0.32M66.94 1.08L97.06 20.47M42.28 -11.18L78.7 7.79M83.81 10.45L97.64 17.65M49.02 -6.95L78.52 8.22M70.77 4.86L98.95 19.42M24.85 -16.36L56.21 -0.58M58.87 0.76L66.77 4.73M70.26 6.49L81.97 12.39M102.31 22.63L116.1 29.57M35.95 -13.8L72.63 9.9M41.64 -9.74L67.49 7.15M69.44 8.43L92.69 23.62M49.31 -4.89L63.17 5.14M65.42 6.77L76.65 14.9M32.64 -13.65L55.54 1.15M61.97 5.31L97.77 28.45M62.37 6.21L83.6 19.67M88.97 23.07L124.7 45.72M37.73 -7L64.74 8.45M72.03 12.62L81.67 18.13M87.57 21.51L101.98 29.75M45.32 -1.75L62.51 7.72M82.07 18.49L117.56 38.03M35.91 -6.89L71.95 13.74M79.18 17.89L90.09 24.14M96.36 27.72L129.56 46.74M32.02 -7.57L58.16 6.39M35.49 -5.36L63.19 9.69M91.23 24.93L126.55 44.12M96.44 28.14L119.64 40.6M34.75 -6.91L61.43 9.91M16.31 -18.33L45.64 0.37M33.92 -6.62L67.79 15.13M71.85 17.73L107.49 40.62M39.27 -2.62L52.03 5.59M83.07 25.59L111.4 43.84M51.8 6.24L72.6 20.13M43.89 1.19L71.84 20.42M74.1 21.98L83.21 28.24M87.05 30.88L111.96 48.02M37.16 -3.04L43.89 1.74M73.63 23.82L106.83 48.22M31.68 -6.27L40.25 -0.03M80.44 29.25L108.77 49.89M74.89 23.72L99.95 38.44M59.03 15.28L77.76 27.38M18.14 -12.88L38.07 1.1M41.03 3.18L61.52 17.54M88.57 36.51L124.41 61.64M34.38 0.91L47.78 9.1M74.5 25.44L101.35 41.87M67.77 22.09L93.36 38M95.95 39.61L132.75 62.49M33.95 1.47L68.72 23.45M74.11 26.85L96.19 40.81M28.17 -3.44L55.08 15.52M25.44 -5.53L36.83 2.79M27.07 1.21L52.26 15.28M54.01 16.26L66.38 23.17M72.54 26.61L89.6 36.14M-7.32 -16.97L26.77 1.84M34.2 5.93L54.66 17.22M39.53 9.61L66.51 24.25M75.76 30.98L83.22 35.43M31.06 6.09L54.64 19.14M62.35 23.41L80.23 33.3M84.93 35.91L92.32 39.99M8.92 -5.83L35.28 8.92M-5.52 -21.52L28.49 2.23M73.97 33.99L108.36 58.01M13.55 -8L33.94 6.44M38.02 9.32L62.41 26.58M68.84 31.13L99.35 52.73M11.69 -8.45L45.05 14.93M8.03 -6.19L21.25 1.91M39.53 13.11L59.17 25.15M86.01 41.6L118.37 61.43M-13.14 -17.3L24.89 5.4M77.96 37.07L108.43 55.26M3.16 -4.38L17.83 3.87M19.9 5.03L39.05 15.81M45.22 19.28L70.87 33.71M-14.68 -9.1L6.66 1.36M8.06 2.04L37.88 16.66M67.02 30.95L88.58 41.52M92.88 43.62L103.18 48.67M50.08 23.08L85.47 47.73M14.02 -1.06L21.63 4.16M52.3 25.21L78.69 43.32M81.81 45.47L114.2 67.7M-14.61 -19.85L18.41 2.67M20.82 4.32L31.07 11.31M75.04 41.31L97.93 56.93M-12.07 -7.9L7.86 2.65M14.23 6.02L34.14 16.56M36.67 17.89L46.34 23.01M87.31 44.7L95.53 49.05M-11.75 -7.49L3.51 0.65M46.73 23.69L59.98 30.76M63.58 32.68L77.86 40.29M80.56 41.73L113.99 59.56M3.2 -6.91L27.45 10.15M61.18 33.88L73.91 42.84M48.75 25.72L77.82 45.56M-14.39 -6.13L4.12 3.43M12.1 7.55L48.52 26.35M76.47 40.79L87.77 46.62M89.31 47.41L100.9 53.4M35.09 20L46.53 25.89M82.89 44.61L96.88 51.82M-16.63 -6.42L13.24 9.08M14.56 9.76L34.91 20.33M42.37 24.2L63.85 35.35M67.9 37.45L99.18 53.68M12.38 6.23L45.52 26.27M52.06 30.22L62.28 36.4M63.14 36.93L77.84 45.81M78.99 46.51L115.3 68.47M44.12 26.22L51.93 31.58M57.68 35.52L94.44 60.73M-13.1 -9.25L5.42 2.51M52.27 32.27L63.56 39.45M-16.07 -4.94L1.8 4.82M4.03 6.04L20.43 15M27 18.59L45.32 28.6M-2.31 3.28L22.91 16.92M68.58 41.63L82.46 49.14M-15.76 -4.49L17 13.71M17.78 11.15L25.57 16.37M28.89 18.58L53.58 35.12M60.54 39.78L95.95 63.49M48.43 32.27L65.85 43.86M1.97 1.78L17.17 11.95M-1.71 -1.78L13.12 8.95M46.3 32.95L82.12 58.86M2.22 1.86L12.49 9.23M52.63 38.02L64.38 46.46M66.13 47.71L98.54 70.96M-18.23 -7.7L17.32 15.8M57.31 42.22L93.55 66.17M6.75 8.26L35.11 27.93M61.81 46.45L97.5 71.19M-19.6 -9.62L-0.5 3.68M13.2 13.21L35.2 28.53M36.27 29.27L62.9 47.82M-8.92 9.11L18.19 22.72M24.55 25.91L64.25 45.84M-18.34 4.13L2.45 14.84M11.31 19.4L48.21 38.41M51.97 40.35L89.1 59.48M-25.38 -2.97L11.2 18.14M19.93 23.84L58.45 45.9M59.98 46.77L83.13 60.03M44.63 38.86L58.68 46.74M-19.46 0.62L18.98 23.94M57.83 47.51L88.16 65.91M-16.62 -1.24L6.67 14.49M-21.34 -0.6L2.42 14.26M7.6 17.5L14.88 22.05M16.32 22.96L25.5 28.7M32.15 32.86L45.48 41.2M50.47 44.32L68.09 55.34M0.82 15.63L19.98 26.85M37.12 36.9L57.53 48.86M-29.4 5.62L4.11 22.05M52.63 45.85L87.84 63.13M21.85 31.07L58.57 49.41M-22.94 -5.01L-0.19 11.41M5.08 15.22L16.19 23.24M18.92 25.21L41.14 41.26M47.98 46.19L74.91 65.64M34.2 38.26L49.95 46.6M-5 12.88L10.35 22.87M11.74 23.78L34.58 38.64M41.86 43.38L68.8 60.92M-5.5 19.71L13.98 29.61M15.11 30.18L41.6 43.64M44.99 45.36L80.89 63.61M-10.7 18.62L-0.03 23.84M33.05 40.02L66.77 56.52M12.78 26.62L48.57 49.37M-7.6 20.95L12.29 30.71M20.35 34.68L39.13 43.9M4.48 23.77L25.16 36.22M28.86 38.45L61.48 58.11M7.7 25.71L35.16 42.68M37.53 44.66L71.99 65.55M-5.74 14.64L9.85 25.83M12.04 27.41L37.79 45.9M25.56 38.03L61.03 62.47M13.1 31.32L25.71 39.4M32.48 43.74L49.33 54.55M-0.73 25.71L9.05 31.34M13.15 33.71L36.59 47.2M37.76 47.88L75.57 69.65M-27.47 10.97L10.3 32.95M14.58 35.44L48.65 55.27M-21.31 7.35L8.01 28.7M-3.45 28.16L13.8 37.94M21.44 42.27L52.01 59.6M-28.18 7.17L8.71 32.39M20.47 41.04L48.95 60.07M15.52 38.18L47.11 59.49M-7.52 23.18L16.61 39.48M23.86 44.38L48.23 60.84M3.96 31.94L26.47 46.87M-6.63 26.18L1.2 31.35M-25.56 14.69L0.61 31.7M8.98 37.14L25.13 47.64M-9.68 25.72L12.75 40.39M-27.43 15.67L2.21 34.59M9.93 39.51L30.83 52.85M-7.51 27.56L1.97 33.99M17.02 44.45L42.72 62.93M21.11 47.98L41.89 62.91M-5.06 29.7L25.49 51.7M4.22 37.93L31.11 56.37M-7.28 33.65L29.36 56.02M-32.15 23.35L2.36 42.13M8.33 45.38L29.53 56.92M8.49 45.24L32.58 59.35M-13.08 37.21L25.17 57.4M-1.83 43.53L21.61 55.94M-2.2 38.47L10.34 47.36M-34.22 29.26L-0.07 46.7M3.02 48.28L11.72 52.72M-8.25 42.87L23 59.02M2.41 47.32L19.33 57.65M-9.12 41.33L-0.56 46.92M1.14 48.03L21.17 61.1M-11.98 43.06L12.25 57.22M-33.35 17.63L3.64 -2.77M-32.39 26.54L1.75 3.15M7.35 -0.69L25.69 -13.26M-22.91 10.82L14.87 -7.92M-2.82 5.21L30.41 -14.28M-34.29 24.79L2.3 3.27M4.33 2.08L15.95 -4.76M-11.73 9.35L1.89 2.5M6.37 0.25L42.18 -17.77M8.12 -0.26L27.31 -9.79M2.33 8.92L14.52 0.78M-27.25 29.59L2.89 9.53M10.23 2.95L20.79 -2.82M10.26 4.79L26.97 -5.03M1.52 10.72L25.82 -3.75M-14.95 20.95L20.14 0.03M4.1 8.79L14.94 3.11M18.89 1.04L29.98 -4.78M-1.95 13.04L21.34 0.69M23.92 -0.68L43.99 -11.33M3.4 10.43L23.5 -0.03M13.05 6.45L49.3 -11.66M3.16 18.52L28.83 0.7M18.91 7.79L49.56 -13.01M-10.84 25.66L27.01 2.28M-25.58 32.63L1.5 17.28M4.63 15.51L39 -3.98M-30.68 35.04L7.64 13.87M25.45 4.03L56.83 -13.3M14.28 13.35L23.02 7.66M27.36 4.84L49.39 -9.49M-12.69 30.41L21.98 8.61M-3.1 26.37L25.02 8.17M24.56 10.16L61.31 -15.75M-11.42 30.52L25.18 8.91M31.32 5.29L61.8 -12.71M-21.45 37.77L11.4 18.5M-27.86 44.96L4.78 24.57M5.77 23.94L15.24 18.03M16.94 16.43L30.04 9.15M-8.38 30.75L24.98 12.36M32.88 8.01L42.9 2.49M44.89 1.39L59.05 -6.42M7.66 27.13L38.14 6.29M45.61 1.18L82.13 -23.8M-19.77 46.17L2.02 31.61M6.3 28.75L12.97 24.29M17.7 21.13L36.44 8.6M41.77 5.04L55.21 -3.94M15.35 22.68L44.29 3.89M0.56 32.89L8.92 27.44M46.38 3.02L63.02 -7.82M17.19 22.49L49 1.86M-11.71 39.1L22.77 18.36M25.36 16.8L40.98 7.39M47.77 3.31L84.67 -18.9M8.81 23.71L46.81 4.91M49.32 3.66L59.82 -1.53M-18.54 45.19L8.33 29.08M13.48 25.99L38.02 11.28M-27.66 43.17L7.53 26.31M8.86 25.67L28.58 16.22M57.3 2.47L65.51 -1.47M54.42 4.33L90.72 -13.2M10.71 25.94L20 21.46M21.96 20.51L49.04 7.45M54.74 4.7L86.39 -10.56M22.76 24.5L48.81 7.67M-25.44 48.77L9.5 30.17M-0.31 36.64L33.54 18.09M36.11 16.68L50.51 8.79M51.47 8.26L75.97 -5.16M1.18 40.5L37.44 17.31M-20.13 54.04L7.84 36.52M14.48 32.37L45.34 13.05M48.44 11.11L74.18 -5.01M1.94 43.74L17.67 33M43.16 15.59L64.02 1.35M-15.68 55.31L17.51 33.12M21.52 30.43L58.61 5.63M64.09 1.97L93.15 -17.46M17.37 29.61L51.51 11.75M59.28 7.68L94.32 -10.65M-22.68 50.09L3.51 36.73M5.19 35.88L31.03 22.7M37.31 19.49L71.7 1.96M-18.68 48.56L14.58 31.57M20.86 28.35L29.5 23.94M31.07 23.14L60.5 8.09M68.58 3.96L99.95 -12.07M16.4 31.77L52.09 12.88M58.97 9.24L94.02 -9.32M-19.45 53.02L0.17 42.24M49.23 15.27L64.15 7.07M68.35 4.76L101.68 -13.56M-3.49 46.32L14.99 35.54M20.57 32.29L46.83 16.98M53.61 13.03L76.04 -0.05M44.03 19.67L70.94 1.15M-21.07 53.06L14 35.06M79.37 1.52L97.87 -7.98M57.58 13.35L84.13 0.11M43.26 21.02L52.25 16.41M56.45 14.27L79.53 2.46M11.12 38.12L23.89 31.52M26.78 30.02L38.1 24.17M39.3 23.55L55.57 15.13M23.33 31.05L36.61 24.81M84.43 2.31L101.28 -5.61M14.46 43.4L30.35 32.5M77.17 0.42L100.86 -15.82M-13.98 62.27L17.3 41.39M61.02 12.2L95.34 -10.71M-15.15 51.74L7.6 40.75M10.75 39.22L39.04 25.55M41.87 24.18L56.01 17.34M62.75 14.08L80.46 5.52M5.97 41.89L33.26 28.89M19.58 35.83L44.21 24.11M49.79 21.45L60.91 16.16M-15.15 56.13L-0.25 48.39M8.3 43.94L32.23 31.49M75.68 8.9L107.5 -7.65M-14.71 61.26L6.86 48.45M43.35 26.79L68.22 12.03M75.25 7.85L84.66 2.26M4.07 50.76L27.66 36.68M32.87 33.57L54.75 20.51M55.98 19.78L83.79 3.18M84.79 2.59L96.7 -4.52M-18.3 56.34L6 44.84M13.56 41.27L34.49 31.37M37.43 29.97L60.74 18.95M86.01 6.99L100.68 0.06M-16.55 56.36L6.67 45.25M13.2 42.12L35.51 31.45M62.84 18.37L76.37 11.89M81.09 9.63L110.28 -4.34M32.22 33.31L41.97 28.69M44.89 27.3L85 8.27M53.29 23.83L93.9 4.55M95.51 3.78L124.46 -9.97M68.55 17.03L95.83 3.97M103.06 0.51L133.34 -14M-14.26 67.36L15.48 48.59M19.82 45.85L48.49 27.74M55.89 23.07L83.65 5.55M39.84 33.91L49.62 27.65M54.12 24.76L80.33 7.96M86.08 4.28L107.09 -9.19M-11.46 58.51L14.65 45.46M21.19 42.19L52.2 26.7M56.28 24.66L71.64 16.99M74.66 15.48L105.58 0.03M-11.19 61.71L25.42 41.92M32.69 37.99L44.55 31.59M51.27 27.95L59.77 23.36M66.75 19.59L83.4 10.59M85.01 9.72L115.42 -6.72M34.41 40.71L43.44 34.49M4.72 51.37L29.94 39.33M31.95 38.36L52.06 28.76M6.66 51.24L33.86 38.07M42.54 33.86L78.63 16.39M33.59 42.66L70.1 18.78M78.33 13.4L112.37 -8.87M-6.21 70.83L27.41 47.99M32.58 44.48L62.67 24.04M64.86 22.55L99.13 -0.73M9.46 53.63L44.5 35.56M47.84 33.84L73.39 20.67M76.19 19.22L100.04 6.93M17.32 55.99L28.54 48.52M30.58 47.16L42.01 39.55M44.41 37.95L54.47 31.24M62.74 25.73L89.29 8.05M90.77 7.06L118.93 -11.7M52.03 33.36L60.12 27.95M62.47 26.37L73.59 18.94M36.32 44.3L65.82 24.63M86.36 10.95L105.84 -2.04M31.56 43.52L47.76 35.74M84.59 18.04L100.44 10.43M20.47 49.21L36.03 41.78M84.26 18.74L97.73 12.3M24.35 48.13L44.49 38.31M46.06 37.55L63.23 29.17M71.64 25.07L87.61 17.28M89.49 16.37L110.19 6.27M24.29 50.79L41.62 41.12M65.28 27.92L80.61 19.37M57.32 32.93L71.43 24.9M80.05 19.99L105.97 5.25M70.28 26.43L81.47 20.04M85.24 17.88L104.84 6.69M27.95 49.13L57.53 34.39M65.57 30.38L92.98 16.72M97.1 14.67L117.6 4.45M33.65 46.86L56.78 35.72M62.9 32.77L89.22 20.09M96.47 16.59L130.2 0.34M23.54 55.05L41.88 45M29.73 52.08L53.19 39.3M56.8 37.33L94.64 16.73M96.3 15.83L109.07 8.87M51.34 40.79L79.44 26.45M45.97 45.38L82.44 23.88M31.3 54.13L44.35 46.65M42.88 47.95L65.1 35.34M32.05 54.21L54.5 41.92M87.22 24.02L98.16 18.02M79.13 26.74L108.33 7.14M31.19 58.07L64.8 37.75M52.42 46.24L89.3 26.04M42.32 51.87L61.25 42.12M84.74 31.16L109.29 18.67M41.63 53.87L56.03 46.42M59.59 44.58L81.85 33.06M65.64 42.04L105.51 21.24M28.51 63L66.4 42.58M69.76 40.78L96.12 26.57M101 23.94L112.57 17.71M51.87 51.16L77.2 37.4M80.74 35.48L100.74 24.61M103.81 22.95L122.92 12.56M54.61 50.41L85.29 33.25M92.11 29.43L109.9 19.49M52.3 52.59L69.98 42.04M76.59 38.09L89.59 30.32M91.5 29.19L111.87 17.02M33.24 64.22L66.1 44.95M74.42 40.07L84.79 33.98M92.06 29.72L104.66 22.33M64.43 46.49L84.74 34.46M102.94 22.24L118.28 12.36M59.99 50.55L82.04 37.85M85.91 35.63L122.99 14.29M36.22 62.72L64.29 48.85M71.63 45.22L97.06 32.65M74.53 44.24L89.57 35.92M90.91 35.18L112.11 23.46M64.03 50.69L86 36.95M92.97 32.6L113.14 19.99M59.99 53.79L73.53 45.25M80.54 40.83L110.82 21.72M68.29 51.06L89.5 40M81.22 46.65L117.32 28.02M67.07 54.5L87.77 44.42M91.76 42.48L112.63 32.32M70.03 55.56L109.24 35.72M49.81 68.86L87.53 45.86M95.32 41.11L113.81 29.84M84.57 48.03L114.2 29.51M73.12 55.79L99.01 40M102.16 38.08L132.45 19.6M73.34 56.86L99.29 40.26M65.15 62.59L97.69 42.08M96.73 46.5L125.5 31.88M81.02 54.84L113.98 34.58M64.76 65.22L101.87 46.21M87.43 55.59L111.7 44.27M93.8 52.94L124.89 38.26M75.39 62.84L98.56 48.28M66.39 69.16L102.02 46.09M84.84 59.11L109.5 46.7M103.3 48.66L121.98 37.78M81.79 61.28L114.95 38.79M46.39 -1.13L60.51 -0.98M97.35 -0.2L105.78 -0.14M5.95 2.26L17.36 2.04M62.67 1.16L66.31 1.09M26.67 2.47L35.35 2.23M71.63 1.23L77.34 1.08M96.35 0.56L100.65 0.44M38.67 3.77L51.51 3.72M99 3.52L105.46 3.5M5.79 4.11L20.1 4.1M96.8 4.06L100.85 4.06M7.08 4.93L16.23 4.86M55.39 4.55L64.9 4.47M-10.44 5.78L5.31 5.6M12.24 5.52L15.54 5.49M33.8 5.28L40.3 5.21M100.99 4.53L115.83 4.36M3.08 5.94L11.08 5.88M20.98 5.8L25.78 5.76M2.48 7.34L17.86 7.22M27.3 7.15L33.32 7.1M53.14 6.94L62.93 6.86M67.72 6.82L73.71 6.77M26.57 7.93L41.7 8.34M62.39 8.89L71.52 9.13M79.12 9.34L93.68 9.73M26.1 7.98L39.45 8.55M49.37 8.98L62.39 9.54M60.76 9.8L72.1 10.12M78.54 10.3L90.74 10.64M41.42 10.82L53.82 10.85M75.65 10.91L88.56 10.94M103.36 10.98L117.83 11.01M3.88 12.71L15.89 12.49M29.79 12.23L36.21 12.1M56.03 11.73L59.8 11.66M68.76 11.49L83.01 11.22M1.34 13.38L9.15 13.21M23.71 12.9L36.43 12.63M45.74 12.43L51.02 12.32M102.62 11.21L116.99 10.91M-7.07 15.14L-0.11 14.96M15.21 14.56L26.84 14.26M35.21 14.04L48.72 13.69M75.34 13L78.62 12.92M95.96 12.47L102.59 12.29M10.39 16.4L15.69 16.19M-3.92 16.32L9.5 16.24M65.99 15.88L70.03 15.85M77.53 15.8L88.05 15.74M6.86 16.96L22.22 16.76M77.44 16.05L87.39 15.92M2.98 17L17.74 17.19M28.11 17.32L40.46 17.48M47.4 17.57L52.83 17.64M74.1 17.9L86.71 18.06M101.57 18.25L112.52 18.39M-8.42 17.48L6.63 17.61M20.27 17.73L35.48 17.86M51.61 18L62.01 18.09M77.2 18.22L80.36 18.25M101.19 18.43L116.75 18.57M38.03 19.93L51.27 19.33M61.96 18.85L74.89 18.27M-4.62 20.55L0.84 20.57M13.84 20.6L24.2 20.63M38 20.66L52.05 20.7M79.03 20.77L87.23 20.79M17.81 21.42L24.33 21.38M86.75 21L93.86 20.96M100.73 20.91L111.75 20.85M-2.85 21.96L3.84 21.94M22.25 21.86L35.35 21.8M49.63 21.74L64.51 21.67M80.04 21.6L88.4 21.57M28.66 23.86L32.59 23.76M50.89 23.29L66.75 22.89M102.68 21.97L111.78 21.73M-7.08 24.98L-0.31 24.88M15.43 24.67L19.95 24.61M54.21 24.13L67.68 23.95M73.18 23.87L84.96 23.71M-2.8 25.46L1.12 25.4M12.09 25.25L20.43 25.13M41.9 24.83L55.28 24.64M72.67 24.4L82.74 24.25M93.44 24.1L104.46 23.95M-7.68 25.29L1.67 25.28M17.84 25.26L31.44 25.24M70.4 25.2L76.26 25.19M83.09 25.18L88.02 25.17M-9.3 24.32L5.95 24.7M12.2 24.86L28.01 25.26M47.05 25.74L61.25 26.1M77.08 26.5L86.28 26.73M99.28 27.06L107.72 27.27M-5.53 28.79L0.75 28.62M40.65 27.53L56.11 27.1M102.93 25.82L113.86 25.52M64.73 27.77L72.03 27.68M91.91 27.42L101.08 27.3M16.09 29.44L29.32 29.04M33.36 28.91L45.5 28.55M84.43 27.37L95.26 27.04M18.99 28.88L25.14 29.03M37.73 29.33L47.23 29.55M59.83 29.85L74.66 30.2M78.71 30.3L90.31 30.57M102.57 30.86L106.08 30.95M-3.81 32.55L9.83 32.25M39.66 31.59L50.68 31.34M103.41 30.17L119.12 29.83M-4.72 33.3L10.65 32.91M29.45 32.42L42.07 32.09M5.96 33.28L14.29 33.37M18.4 33.41L29.55 33.52M68.35 33.92L78.59 34.02M-2.33 34.15L9.02 34.17M36.71 34.24L50.87 34.27M57.79 34.28L62.56 34.29M56.81 34.84L72 34.97M82.4 35.06L94.7 35.16M-5.08 36.12L1.49 36.02M74.75 34.85L86.29 34.67M96.65 34.51L112.01 34.26M1.19 35.75L10.58 35.75M14.68 35.74L24.08 35.74M66.42 35.71L81.01 35.7M87.63 35.7L102.86 35.69M78.34 35.97L94.11 35.89M38.28 36.44L42.69 36.46M65.38 36.56L69.55 36.58M88.88 36.66L98.91 36.7M8.44 37.17L12.92 37.28M70.42 38.64L83.32 38.94M-7.36 38.26L6.98 38.52M43.94 39.17L48.83 39.26M67.07 39.59L80.15 39.82M97.06 40.12L109.51 40.34M31.02 39.01L45.73 39.53M67.05 40.27L76.01 40.59M45 41.58L55.95 41.62M-3.14 41.48L8.77 41.73M41.92 42.41L56.97 42.72M0.75 41.04L13.36 41.54M23.5 41.94L26.71 42.06M54.17 43.14L61.78 43.44M69.2 43.74L75.43 43.98M0.57 46.8L12.07 46.38M32.77 45.62L40.17 45.34M49.06 45.02L55.87 44.77M3.42 46.29L12.56 46.11M45.16 45.47L53.87 45.3M59.64 45.19L71.17 44.97M42 45.94L50.4 45.79M94 45.03L100.63 44.92M15.89 46.66L30.72 46.79M78.87 47.21L91.53 47.32M0.09 46.23L14.03 46.59M28.87 46.97L42.57 47.32M62.06 47.82L67.59 47.96M61.18 48.26L71.46 48.47M26.78 48.09L31.59 48.19M70.85 48.97L84.98 49.25M6.03 50.3L5.68 46.9M2.76 18.3L2.54 16.12M4.6 32.72L4.45 31.05M7.99 34.04L7.85 32.51M12.96 41.94L12.86 38.12M18.53 34.46L18.16 31.17M17.52 25.57L17.33 23.85M19.19 40.53L19.17 37.48M20.09 34.52L20.03 31.23M19.94 26.59L19.92 25.06M25.06 33.54L25.21 31.5M26.11 18.71L26.24 16.87M28.11 13.75L27.85 11.08M31.42 48.62L31.32 46.43M29.79 13.98L29.64 10.93M36.49 43.09L36.17 39.64M33.65 11.76L33.31 7.99M39.61 42.97L39.17 39.18M35.79 10.08L35.39 6.63M39.65 41.46L39.39 38.97M37.68 21.97L37.39 19.1M36.21 -0.53L35.94 -3.14M41.08 42.22L40.76 39.12M39.92 30.93L39.53 27.16M36.92 1.73L36.59 -1.52M40.16 23.08L40.22 21.55M40.93 5.59L41.1 1.82M44.22 48.85L44.32 45.09M44.44 40.31L44.51 37.43M45.25 8.06L45.33 4.86M45.42 19.22L45.46 16.71M46.88 52.15L47.28 48.93M50.43 23.84L50.66 21.99M58.45 44.06L58.32 41.74M57.01 18.44L56.92 16.82M56.2 4.11L56.01 0.71M62.77 20.62L62.31 16.73M63.75 24.7L63.46 22.26M66.88 4.35L66.77 0.71M68.47 7.49L68.42 5.74M70.05 40.36L69.99 38.85M69.32 20.69L69.23 18.35M73.62 24.98L73.98 21.17M72.85 40.01L73.1 37.2M75.21 12.58L75.43 9.96M80.04 39.2L79.87 37.61M77.17 11.74L76.9 9.21M76.12 1.69L75.75 -1.84M81.51 48.37L81.27 46.16M80.56 39.59L80.32 37.38M77.85 14.6L77.61 12.45M81.85 49.7L81.62 47.43M80.15 32.64L79.91 30.19M79.46 25.7L79.21 23.24M77.03 1.31L76.74 -1.6M83.93 42.23L83.68 38.6M82.14 16.64L81.93 13.76M84 8.74L83.84 6.62M86.25 30.02L86 27.26M84.17 7.34L83.85 3.87M86.53 40.44L86.93 37.03M91.84 31.65L91.94 28.49M92.67 4.43L92.73 2.59M95.46 40.45L95.13 37.56M92.61 15.3L92.35 12.98M96.58 47.65L96.23 44.41M95.77 40.02L95.48 37.29M94.86 31.45L94.46 27.76M97.43 37.57L97.53 35.29M98.87 6.06L98.94 4.52M97.18 50.55L97.28 48.57M98.68 20.1L98.79 17.92M102.74 39.95L102.7 36.37M102.33 0.26L102.3 -2.09"/>
<path id="p1c" d="M79.99 -9.9L106.45 9.2M98.29 0.61L111.19 7.45M68.14 -15.01L91 1.21M98.26 6.36L116.09 19.01M93.24 0.58L120.52 15.89M72.73 -7.81L108.19 15.19M62.46 -12.78L89.23 5.34M82.89 1.21L94.41 8.75M42.61 -21.58L75.25 1.44M90.98 13.18L98.3 18.05M95.3 17.69L125.61 32.68M64.14 2.85L76.44 9.18M78.37 10.17L95.74 19.11M79.25 14.18L106.15 31.56M48.31 -2.7L55.58 1.91M65.32 10.84L83.86 20.92M54.69 7.31L77.08 21.73M42.23 -0.15L48.9 4.31M73.53 20.75L100.4 38.69M43.09 2.04L73.54 24.22M35.47 0.56L71.49 21.72M80.74 29.31L108.19 47.05M66.6 21.11L82.73 32.42M50.44 11.31L61.95 18.47M61.01 19.69L93.18 42.35M91.57 37.25L104.79 44.63M39.78 9.47L74.79 30.4M48.24 17.17L60.48 25.75M61.83 26.69L90.7 46.93M-9.94 -13.07L24.93 6.97M27.6 8.5L65.46 30.26M28.72 8.21L48.4 21.92M23.63 5.54L50.09 23.69M37.76 15.88L69.01 37.2M50.32 25.12L63.42 32.05M55.83 30.13L74.53 39.78M54.13 29.81L78 42.1M-11.78 -12.12L6.38 0.33M23.72 17.45L33.8 23.04M-18.96 -12.58L12.34 8.25M47.53 32.27L66.2 44.76M44.75 31.26L79.95 56.98M-12.52 -7.57L3.85 4M7.41 6.52L19.33 14.95M51.55 37.72L82.8 59.81M-20.53 -10.65L2.61 5.4M28.55 28.16L52.89 42.2M-25.79 -0.67L12.1 20.6M22.11 25.84L53.76 45.04M13.43 19.05L39.6 36.73M24.54 29.53L33.18 34.59M11.37 25.62L44.4 41.82M-11.37 14.48L18.64 29.47M-20.56 5.43L5.04 21.7M-27.63 5.15L3.07 23.76M-6.65 22.93L14.05 36.75M7.6 37.81L24.24 49.11M-20.95 36.94L1.38 48.45M-6.94 44.36L17.36 60.07M-14.31 9.2L3.63 -2.07M-2.15 1.25L12.73 -6.25M-10.42 18.18L7.12 9.42M18.61 7.95L40.65 -5.58M-25.58 39.28L9.01 16.78M-8.44 29.76L18.79 11.8M-13.88 39.95L20.66 16.23M21.51 15.64L58.05 -9.46M33.04 7.48L63.18 -9.27M21.54 17.91L44.16 2.85M-24.88 43.11L5.61 28.4M-22.94 52.6L8.42 36M7.14 38.41L17.3 32.82M18.08 37.53L25.08 32.71M27.83 30.82L37.78 23.97M47.28 17.98L74.41 4.06M-16.31 51.49L15.16 35.39M-4.3 46.1L6.85 40.33M40.48 25.45L79.14 7.04M66.11 13.69L106.22 -5.4M35.21 29.94L67.93 12.93M31.15 34.03L39.52 29.06M89.31 -0.5L110.39 -13.01M62.88 17.94L82.92 8.46M101.89 -0.52L134.19 -15.8M10.3 52.85L33.1 38.24M52.99 28.32L62 24.02M41.01 39.4L76.83 22.29M28.69 49.22L41.03 42.2M16.83 56.8L41.38 42.55M80.61 19.79L104.39 5.99M73.51 27.65L111.29 6.93M89.07 19.97L123.83 -0.53M100.95 14.2L125.73 -0.01M47.88 47.72L76.15 28.74M84.05 23.91L94.47 16.85M73.33 32.6L90.03 22.5M42.69 52.55L54.11 46.74M60.78 43.35L80.03 33.55M89.71 28.99L102.58 22.33M80.51 43.53L95.88 35.5M68.21 50.53L106.17 30.92M92.83 38.27L114.07 27.2M68.47 51.87L98.3 34.03M77.92 53.84L95.87 43.38M99 41.56L117 31.07M72.6 64.09L106.83 42.23M93.9 55.16L119.25 42.62M90.5 57.65L107.41 47.78M33.96 1.72L44.06 1.52M8.18 2.97L15.52 2.77M44.7 1.97L51.97 1.77M70.28 3.64L79.03 3.61M37.68 4.09L40.7 4.09M71.32 4.07L84.76 4.06M31.4 4.74L45.34 4.63M59.97 5.49L75.46 5.37M1.17 7.25L14.68 7.61M63.41 13.31L70.69 13.12M51.06 14.74L55.81 14.55M59.19 14.41L70.62 13.94M98.94 12.78L108.82 12.38M46.08 16L60.07 15.91M99.67 15.66L106.68 15.62M62.24 20.73L70.43 20.75M39.99 21.28L51.99 21.21M68.5 21.11L79.48 21.04M23.24 24.56L33.06 24.42M102.01 23.48L113.74 23.31M62.53 26.93L75.51 26.57M32.3 28.19L46.82 28.01M48.66 33.72L62.83 33.86M17.01 35.77L31.87 35.53M62.73 36.05L68.86 36.02M4.9 36.3L18.26 36.36M47.53 36.48L55.51 36.52M34.02 37.78L49.45 38.14M43.64 42.73L50.1 42.98M81.01 44.77L84.68 44.7M91.8 44.56L102.36 44.36M21.85 46.29L31.67 46.12M62.84 45.58L76.29 45.34M-0.19 46.52L7.36 46.59M11.01 47.24L25.88 47.54M50.18 48.56L53.41 48.62M3.83 24.12L3.48 20.22M5.76 9.92L5.61 8.29M19.49 27.04L19.49 25.48M24.01 48.43L24.13 46.73M31.18 45.64L30.98 43.56M38.9 51.49L39.04 48.27M52.96 5.97L53.27 3.33M84.87 20.25L84.72 18.32"/>
<path id="p1l" d="M92.46 -4.74L115.67 9.8M94.66 -2.3L124.45 13.63M78.51 3.74L107.38 24.11M46.06 -13.26L68.54 -0.73M87.03 37.71L113.31 53.42M35.36 7.03L68.18 29.95M67.67 31.53L76.03 36.34M10.16 4.19L22.18 10.6M53.95 33.31L78.77 46.87M-17.74 -12.63L16.61 10.36M21.3 14.14L37.22 25.77M-26.91 5.66L7.26 27.57M32.13 45.72L64.53 67.15M11.11 30.95L22.4 39.18M-20.08 36.81L10.05 56.1M-9.15 24.99L16.02 9.54M-9.43 30.22L9.98 18.63M45.87 1.71L61.6 -8.76M-20.92 43.53L12.28 24.94M46.11 6.42L58.47 -0.99M45.27 12.3L76.93 -7.95M15.33 43.42L24.23 38.14M-13.75 55.67L6.47 46.06M11.43 43.71L48.85 25.94M7.02 63.47L29.75 48.26M35.91 44.14L50.45 34.41M-13.56 65.2L25.48 46.44M26.5 51.43L33.77 47.28M43.5 -0.61L53.16 -0.54M49.4 4.08L62.5 4.08M94.76 5.21L110.19 5.09M13.9 7.45L18.35 7.64M91.72 15.86L101.52 15.73M-4.45 28.67L2.58 28.58M57.43 28.18L63.49 28M82.14 34.06L87.61 34.11M67.74 34.3L71.03 34.31M94.34 43.49L108.38 43.78M-0.84 46.68L2.23 46.63M19.55 5.4L19.51 3.3M67.55 27.69L67.48 25.23"/>
<path id="p1e" d="M89.55 -12.26L124.43 5.24M79.35 -14.77L99.6 -0.26M102.5 1.82L109.39 6.75M98.52 -0.25L108.35 6.5M102.99 -0.28L119.27 8.48M98.63 2.12L115.64 14.07M74.23 -12.15L103.01 6.1M76.76 -8.6L115.62 11.62M79.92 -4.66L112.66 14.24M80.06 -1.47L92.73 7.01M81.55 0.81L116.91 24.1M71.87 -5.09L100.94 14.21M68.17 -2.8L90.64 12.67M94.25 15.16L122.83 34.84M97.44 19.97L115.82 31.98M102.42 23.69L134.38 44.57M72.11 6.52L106.48 25.56M75.97 10.18L85.07 15.29M88.29 17.1L119.4 34.56M74.78 13.77L103.5 31.48M26.81 -14.91L56.31 2.98M66.24 9.49L89.7 23.48M91.29 24.43L109.02 35M48.81 -1.43L60.46 6.36M50.06 0.61L65.42 10.63M44.21 -0.62L57.27 7.3M60.27 9.12L81.5 22.01M32.66 -6.54L46.25 1.4M49.92 3.54L79.73 20.94M63.99 12.21L93.48 29.51M31.69 -2.85L65.03 14M33.43 -1.08L47.94 6.09M49.07 6.65L78.03 20.96M75.2 22.81L89.1 31.72M95.03 35.52L106.22 42.69M67.2 18.1L89.15 32.19M93.98 35.29L123.83 54.45M97.54 38.76L104.62 43.32M52.6 11.66L76.01 23.9M28.3 -3.58L48.91 9.78M70.87 24.03L97.49 41.29M31.39 1.69L62.51 19.38M63.6 20L84.95 32.13M11.27 -11.06L32.42 2.23M96.92 41.13L105.47 46.06M21.39 -1.45L51.59 15.55M-9.06 -17.41L21.38 -0.58M27.82 2.98L63.93 22.95M65.96 24.07L86.47 35.42M9.23 -7.92L35.54 8.72M42.06 12.85L58.46 23.22M-7.5 -15.89L21.44 1.77M67.85 30.49L92.05 45.04M1.81 -3.76L36.63 14.47M42.65 17.62L80.69 37.53M85.43 40L118.87 57.5M-16.69 -11.79L6.62 0.26M11.22 -3.25L26.92 7.62M85.41 48.15L103.75 59.92M86.89 44.4L110.28 56.01M20.31 11.38L40.53 22.16M2.21 2.13L40.92 22.86M47.51 26.39L65.87 36.22M14.46 10.99L44.56 27.94M36.04 23.56L57.96 36.29M-16.11 -0.2L8.27 13.34M22.56 21.28L37.13 29.37M63.61 44.07L97.41 62.85M-15.4 -2.47L-0.13 6.98M58.71 43.6L96.12 65.86M12.26 14.03L45.91 38.11M50.51 41.4L74.04 58.23M-20.47 -7.53L2.54 8.45M-15.85 -1.07L17.77 21.54M35.76 35.52L59.07 49.91M9.75 19.11L19.64 25.48M37.31 41.29L65.81 57.99M-27.64 4.82L5.7 23.82M-21.03 5.47L11.76 28.09M15.44 30.63L27.92 39.23M34.68 43.89L50.76 54.98M21.71 39.49L33.24 45.34M-29.44 11.59L6.25 31.9M-19.72 15.43L1.1 28.66M19.23 40.19L37.27 51.66M0.85 29.17L27.29 45.91M-17.84 27.33L1.36 36.78M21.21 46.55L35 53.34M-3.47 33.46L25.84 49.39M-15.13 23.85L0.96 33.84M6.48 37.28L36.25 55.77M-30.02 18.1L7.51 40.51M-9.63 30.54L10.18 42.46M19.58 48.05L41.18 61.87M8.97 42.33L25.29 53.63M-17.52 25L-0.6 37.5M-28.46 32.56L0.92 47.27M-14.26 2.66L19.27 -13.85M-16.86 10.32L0.57 0.31M-20.53 15.27L12.47 -3.08M13.79 -0.57L43.05 -16.69M-5.82 17.63L14.46 4.28M17.6 2.22L50.22 -19.26M-17.75 26.53L3.51 12.31M-30.69 31.54L6.22 11.59M-3.48 19.27L24.26 4M28.32 1.77L53.9 -12.32M-26.82 45.07L8.23 21.57M-22.93 45.21L-0.73 29.98M37.96 3.42L66.45 -16.14M1.2 28.73L25.15 12.88M45.12 -0.33L56.23 -7.68M15.97 19.42L33.67 7.79M6.88 21.45L18.71 15.61M30.15 10.64L60 -4.48M-25.55 39.11L13.81 19.34M-3 34.01L6.77 27.85M-21.99 46.82L-0.77 33.35M40.16 7.37L64.02 -7.77M51.19 0.92L70.82 -11.54M-10.47 45.21L4.83 34.88M27.77 19.38L58.1 -1.1M4.84 35.83L23.82 23.91M28.76 20.8L54.2 4.83M55.97 4.47L79.73 -11.94M11.37 29.73L51.94 10.51M7.35 32.42L29.89 21.54M-19.42 60.63L4.34 46.34M29.32 34.22L45.59 23.6M4.98 51.28L34.47 32.05M19.79 38.2L37.97 29.61M62.31 18.12L75.79 11.76M77.47 10.96L106.74 -2.86M49.83 25.79L72.04 13.05M94.43 -0.51L118.47 -15.01M-13.22 60.95L19.1 43.77M43.91 33L65.02 19.31M48.27 29.92L68.66 20.44M2.38 57.32L22.7 46.04M39.74 36.58L59.75 25.47M18.31 51.7L27.52 46.13M62.69 26.37L91.07 7.75M45.81 39.05L75.14 19.52M99.05 3.6L115.4 -7.29M29.03 52.75L54.37 35.14M89.88 10.46L109.27 -3.01M5.77 69.07L35.48 48.64M59.94 31.82L85.2 14.45M88.15 12.43L117.58 -7.81M63.75 29.78L97.87 6.53M102.03 3.7L110.5 -2.07M35.46 47.37L60.66 33.53M38.65 50.03L70.92 30.67M41.6 48.93L56.43 39.92M98.16 14.56L108.44 8.31M61.04 38.6L70.63 33.34M73.72 31.65L94.06 20.51M42.66 51.62L82.5 31.71M88.19 28.87L102.75 21.6M41.72 57.68L76.8 36.88M90.51 29L127.28 6.73M53.06 52.81L69.28 44.08M66.14 46.13L74.65 40.88M63.25 48.95L88.58 33.2M64.21 49.76L96.05 30.36M90.55 32.07L103.74 22.72M98.68 27.52L105.39 22.92M38.25 65.5L72.75 47.36M74.81 46.28L91.5 37.51M56.12 58.2L85.77 43.34M79.34 48.25L117.31 29.35M64.52 56.44L89.45 44.51M72.22 53.02L95.08 40.11M95.02 38.9L112.92 27.61M88.36 48.26L108.14 38.56M88.78 47.91L103.53 38.33M92.68 50.14L130.14 30.84M88.08 53.04L117.59 37.96M98.77 47.22L108.01 40.94M99.41 54.2L119.35 43.67M-5.65 0.1L9.61 -0.08M24.72 -0.27L35.95 -0.4M70.18 0.55L85 0.35M78.43 3.15L90.23 3.09M4.27 4.76L13.96 5M23.26 5.24L31.02 5.43M40.02 5.65L46.57 5.81M65.48 6.28L78.67 6.61M29.04 7.81L43.83 8.19M71.13 8.91L83.46 9.23M50.92 11.79L56.04 11.91M16.48 11.56L28.91 11.82M56.83 12.39L65.2 12.56M55.81 13.06L70.16 12.96M81.75 12.87L93.3 12.79M61.95 16.09L76.16 15.77M84.68 15.58L90.74 15.45M-6.19 18.4L-0.39 18.49M38.74 19.09L45.38 19.2M15.48 22.21L23.72 22.25M47.46 22.34L59.73 22.39M34.79 22.85L46.62 22.82M64.5 22.77L71.03 22.75M25.41 23.32L35.91 23.29M93.49 25.14L97.66 25.14M1.66 28.84L5.29 28.74M-2.3 31.22L10.9 30.83M24.25 30.44L39.94 29.98M5.05 31.85L8.69 31.72M88.64 28.87L96.11 28.6M60.21 30.36L63.64 30.27M79.33 30.28L92.79 29.95M13.98 34.05L23.65 33.85M34.99 33.62L47.5 33.37M85.03 32.6L97.34 32.35M55 34.03L63.35 33.9M11.67 36.48L23.4 36.59M30.15 36.65L39.34 36.74M78.52 37.1L88.18 37.19M-0.24 40.35L14.88 40.25M65.79 39.93L79.76 39.84M14.31 40.41L23.43 40.41M54.11 40.42L61.9 40.42M81.81 40.42L96.63 40.42M13.3 43.07L16.72 42.97M82.86 41.05L96.02 40.67M8.88 43.27L24.51 42.98M75.34 42.64L86.93 42.21M11.15 47.39L23.82 47.11M102.55 45.41L116.24 45.11M0.26 48.77L5.71 48.58M39 47.42L50.22 47.03M41.24 47.93L54.55 48.36M62.4 48.61L75.37 49.02M14.22 38.34L14.09 34.91M12.9 5.19L12.79 2.2M22.26 6.44L22.6 2.57M20.12 45.26L20.54 41.58M23.17 22.27L23.53 18.8M24.15 12.73L24.35 10.86M42.25 5.1L42.31 3.51M42.26 20.07L42.42 16.29M50.46 32.18L50.73 29.6M51.11 29.96L51.45 26.99M52.87 14.58L53.13 12.32M56.37 33.94L56.35 31.59M65.57 45.5L65.77 43.49M69.68 4.72L69.88 2.7M76.56 47.02L76.66 44.97M79.29 18.17L79.17 15.89M85.79 28.33L85.78 26.81M88.51 20.33L88.68 18.71M93.95 -5.14L120.6 13.44M81.59 -12.61L102.34 1.34M95.08 -0.59L106.28 7.44M83.66 -7.6L107.05 8.54M85.72 -4.62L101.81 5.16M84.93 -3.7L98.43 3.39M82.65 -2.62L92.55 2.81M97.12 5.32L112.42 13.72M95.43 8.81L105.5 15.56M71.98 -4.52L86.06 4.96M88.1 6.33L112.7 22.89M44.64 -21.91L78.89 1.8M85.87 6.64L102.24 17.97M87.35 6.53L117.96 22.92M101.11 20.6L110.57 26.78M50.6 -11.17L79.72 8M86.15 12.24L107.41 26.23M82.75 10.38L90.97 15.75M60.06 -3.98L95.04 18.87M54.75 -6.46L87.44 15.82M95.43 21.27L128.48 43.79M62.65 0.81L88.77 15.03M92.31 16.96L125.47 35.02M42.52 -9.87L65 2.58M28.67 -16.36L67.58 5.48M46.34 -5.79L61.68 3.28M70 8.2L98.77 25.22M71.02 9.98L107.67 29.81M37.38 -9.28L70.3 11.01M59.96 5.2L75.8 14.8M79.25 16.89L106.38 33.35M36.5 -8.24L61.16 6.47M68.72 11.88L78.57 18.46M80.11 19.5L99.66 32.56M102.26 34.3L132.75 54.68M41.59 -5.44L54.77 3.17M60.46 6.89L82.38 21.21M88.43 25.17L118.08 44.55M32.8 -10.66L47.71 -0.93M68.39 12.58L103.58 35.55M88.41 26.21L122.58 46.95M40.94 -1.31L57.78 8.56M99.14 32.83L128.28 49.93M66.46 14.72L85.29 24.24M92.25 27.75L119.62 41.58M82.57 23.2L105.32 34.45M41.83 1.11L52.85 8.07M57.47 10.99L67.97 17.62M75.36 22.29L96.89 35.89M103.45 40.03L124.32 53.22M31.87 -4.96L47.54 5.08M26.84 -7.8L58.82 12.72M48.47 6.59L71.41 21.44M77.39 25.3L109.89 46.33M25.46 -7.61L43.74 4.15M47.57 6.62L57.14 12.77M61.8 15.77L95.7 37.58M22.41 -4.12L47.13 8.8M76.93 24.38L111.98 42.71M53.44 12.72L69.83 23.35M102.1 44.28L128.88 61.65M91.71 35.97L108.33 45.41M38.29 5.92L71.48 26.78M21.5 -2.42L29.76 2.35M34.14 4.88L44.73 10.99M74.65 28.27L93.47 39.14M67.7 24.62L105.94 46.16M88.9 36.76L114.7 51.03M-7.65 -17.46L26.54 2.74M31.96 5.94L43.88 12.98M92.35 41.62L110.96 52.62M66.75 28.46L93.49 45.38M16.65 -3.07L32.4 7.03M36.62 9.74L43.98 14.45M25.96 4.53L36.99 11.27M42.54 14.66L57.18 23.59M64.55 28.09L73.27 33.41M15.5 -0.98L32.25 9.09M33.87 10.06L62.22 27.11M18.77 1.14L31.57 8.97M38.83 13.41L71.56 33.45M75.13 35.63L93.09 46.62M96.25 48.55L122.17 64.41M7.64 0.78L46.45 20.84M52.54 23.99L80.84 38.62M27.79 8.23L58.86 29.75M62.25 32.09L90.92 51.95M30.7 13.01L48.11 24.19M49.48 25.07L59.92 31.77M67.9 36.9L79.3 44.22M3.53 3.04L26.64 14.51M53.67 27.92L81.65 41.8M-12.8 -6.25L14.64 8.37M54.81 29.76L88.56 47.74M71.73 39.36L95.43 52.06M-15.86 -10.43L18.07 10.18M26.57 15.34L39.15 22.98M45.17 26.64L82.15 49.1M-20.37 -8.62L6.29 6.39M52.48 32.4L81.63 48.82M-5.94 -0.82L30.51 20.35M63.06 39.26L87.53 53.47M-20.98 -4.11L-0.59 6.67M3.72 8.94L31.79 23.79M37.79 26.96L63.13 40.36M64.28 40.96L100.21 59.96M-18.09 -2.23L14.74 15.23M39.1 28.18L46.53 32.13M53.92 36.06L72.46 45.92M76.25 47.93L86.83 53.56M-2.49 1.29L9.66 9.19M12.02 10.72L33.31 24.55M39.21 28.38L70.91 48.97M-5.25 -0.5L32.33 24.25M33.33 24.91L58.51 41.48M61.63 43.54L82.46 57.26M11.97 11.75L49.23 35.79M13.89 16.46L21.37 20.61M41.33 31.7L59.54 41.81M1.23 7.82L36.18 29.43M42.9 33.59L74.13 52.9M38.5 31.58L55.49 41.69M-19.94 -9.36L4.21 7.86M30.2 26.39L40.65 33.84M48.04 39.11L67.56 53.02M-15 -5.48L6.58 9.96M5.42 10.46L16.43 18.1M22.64 22.41L32.19 29.05M37.88 32.99L65.79 52.38M21.16 23.82L38.51 35.49M46.13 40.62L70.36 56.91M-1.47 12.52L33.19 33.93M-17.25 1.71L6.53 17.03M23.34 27.86L44.67 41.6M47.96 43.72L55.08 48.3M-19.78 -1.46L16.9 23.98M22.89 28.14L48.87 46.16M-5.1 9.9L26.85 31.59M29.06 33.09L54.83 50.57M-21.44 3.97L13.29 25.56M20.38 29.97L48.34 47.36M-0.87 18.92L30.17 37.11M10.66 26.65L42.75 44.94M2.52 21.04L12.59 27.17M19.87 31.61L43.88 46.23M-21.29 8.36L11.17 27.44M12.66 28.31L22.67 34.2M31.16 39.19L45.6 47.67M36.72 44.05L68.42 66.75M-30.91 12.42L3.47 29.8M7.73 31.95L31.19 43.8M34.41 45.43L52.95 54.8M-0.43 28.24L17.52 37.36M16.1 36.5L41.35 51.37M11.97 35.15L41.19 51.77M-9.16 25.17L10.16 35.46M18.53 39.92L30.03 46.05M2.67 29.3L10.99 34.53M18.72 39.39L46.41 56.82M2.26 29.4L11.61 35.35M31.92 48.85L61.61 67.65M-27.63 20.05L4.4 36.44M-12.03 29.01L1.69 35.91M8.67 39.42L18.65 44.45M22.99 46.63L51.9 61.17M8.68 40.38L18.58 45.26M-7.09 31.53L18.95 45.34M20.28 46.05L44.32 58.8M16.06 43.03L37.39 58.59M12.45 43.46L50.35 66.08M-16.84 24.75L16.31 45.96M-21.41 21.33L2.96 38.18M1.06 38.29L15.15 48.62M2.92 40.11L15.46 49.37M4.27 48.95L35.89 64.79M-24.65 34.94L5.13 49.89M2.34 45.46L36.22 67.63M-16.43 34.33L7.65 49.8M-13.32 35.99L9.49 51.18M-36.07 31.21L0.81 50.59M-8.84 48.74L1.9 54.3M-22.04 12.6L7.18 -4.09M-0.38 1.16L25.64 -13.58M-6.55 4.68L27.77 -14.13M-9.91 6.41L14.74 -6.71M-11.95 6.18L21.03 -9.95M7.14 -0.61L38.81 -18.27M-13.48 12.68L0.53 4.63M-4.1 11.49L12.36 0.63M-34.62 25.92L3.96 4.42M9.71 1.22L47.92 -20.07M-16.75 16.25L12.86 -0.06M-29.5 28.88L3.99 7.73M8.06 5.16L42.87 -16.83M-2.62 12.08L16.25 0.34M8.94 8.67L44.8 -15.31M-6.96 19.19L28.05 -3.55M-7.47 15.48L14.28 3.79M-7.73 16.35L14.33 4.39M17.66 2.59L47.9 -13.81M-10.52 19.94L22.61 1.69M11.9 8.53L46.17 -10M-10.47 22.69L25.43 2.81M10.77 11.94L46.71 -5.93M0.9 20.78L33.66 1.62M-3.59 23.73L8.66 16.64M10.33 20.15L35.99 2.95M38.98 0.94L64.27 -16.01M3.97 26.74L33.47 6.5M27.01 11.65L37.2 4.91M0.32 29.71L13.05 21.34M41.68 2.53L65.6 -13.19M-5.43 27.52L1.97 23.86M26.79 11.62L64.86 -7.15M-8.3 30.11L23.46 14.03M21.72 15.36L38.73 6.82M43.24 4.55L69.05 -8.41M13.19 23.8L24.88 16.43M4.32 30.12L26.53 16.02M-0.68 33.87L13.49 24.87M19.04 21.34L46.54 3.88M-20.61 48.69L6.62 31.11M14.95 25.73L51.82 1.92M11.9 30.1L21.73 23.47M-9.5 44.84L9.26 32.24M11.96 30.43L39.95 11.62M41.76 12.2L68.87 -4.92M-20.02 56.98L13.33 33.93M-26.05 47.46L10.16 30.31M59.85 6.77L90.35 -7.69M35.84 18.67L72.36 1.03M-16.9 59.68L18.12 35.26M21.2 33.11L54.95 9.58M60.74 5.54L96.9 -19.67M-16.63 53.07L7.03 39.27M46.75 16.09L66.9 4.34M4.19 38.87L43.59 18.57M47.43 16.58L85.2 -2.88M-16.36 56.97L12.43 39.68M19.1 35.68L50.23 16.99M56.97 12.94L82.91 -2.63M39.26 25.34L64.74 10.02M48.32 21.82L63.33 12.02M67.07 9.58L104.62 -14.93M42.7 26.69L78.11 3.61M80.65 1.95L103.98 -13.26M-15.13 61.94L11.3 46.12M59.26 17.41L88.13 0.13M-16.26 55.22L14.34 40.77M-20.72 57.94L-0.91 48.57M6.37 45.12L29.18 34.33M37.26 30.5L56.39 21.45M80.52 10.03L107.68 -2.83M1.79 53.33L20.85 42.4M23.81 40.7L41.29 30.68M76.55 10.46L98.14 -1.91M11.47 49.53L36.99 34.14M63 18.45L91.62 1.19M68.36 17.59L106.12 -2.48M23.79 46.05L41.34 34.67M67.04 18L77.9 10.95M82.08 8.24L95.87 -0.71M4.16 50.45L42.34 32.68M96.4 7.53L109.08 1.63M62.57 23.9L90.38 8.45M34.1 42.15L63.9 24.14M69.79 20.59L101.39 1.49M25.34 50.86L55.74 30.93M97.66 3.43L134.45 -20.7M17.93 57.61L44.29 40.06M77.25 18.11L97.92 4.35M41.63 44.41L56.43 34.23M22.98 57.55L59.67 32.55M64.91 31.19L84.55 20.41M91.36 16.67L117.13 2.51M16.69 63.38L49.79 42.06M51.66 40.86L88.29 17.27M34.98 49.35L72.19 29.58M80.48 25.18L101.61 13.96M72.55 30.12L95.78 16.01M38.17 51.13L57.14 40.73M100.26 17.11L116.94 7.97M76.89 29.32L106.63 9.44M25.19 59L57.38 43.03M61.75 40.86L80.57 31.53M86.21 28.74L109.92 16.98M31.62 56.74L66.78 38.92M74.23 35.15L90.48 26.91M40.36 53.98L55.11 46.96M60.96 44.17L89.97 30.35M98.51 26.28L105.88 22.77M84.29 32.44L115.39 13.99M51.1 52.86L61.36 46.65M69.52 41.7L85.12 32.26M76.6 40.14L88.68 33.64M97.01 29.16L108.77 22.83M82.52 36.02L91.45 30.51M95.84 27.8L123.69 10.6M63.35 48.37L97.97 26.94M93.97 29.85L129.74 7.63M62.5 51.94L84.42 36.41M71.64 46.07L91.07 32.74M94.78 35.78L127.52 18.57M66.58 51.6L106.46 33.03M65.84 52.98L100.5 33.23M92.25 40.1L115.12 28.64M56.86 59.89L87.58 44.58M95.53 40.62L115.55 30.65M94.65 42.02L120.33 29.74M96.45 39.34L131.6 19.5M83.48 46.56L116.38 25.46M76.64 53.68L89.83 44.39M68.26 59.99L98.19 40.75M99.45 39.94L127.32 22.02M66.09 62.03L95.94 42.65M98.92 40.71L124.67 23.99M95.74 49.39L120.64 36.3M82.52 56.96L107.01 44.16M73.05 62.51L105.6 45.12M83.05 57.91L96.85 48.53M92.66 55.8L127.01 37.88M91.94 57.43L117.3 43.91M52.93 -0.61L68 -0.79M81.24 -0.95L97.11 -1.14M20.97 1.24L25.14 1.18M50.93 0.82L63.24 0.65M103.82 0.08L114.12 -0.06M3.7 3.51L18.14 3.44M56.25 3.25L63.36 3.22M85.63 6.78L95.74 7.04M12.97 7.38L24.49 7.69M52.5 8.42L62.99 8.7M86.48 9.31L91.78 9.45M30.34 11.31L35.32 11.43M94.4 12.81L109.68 13.17M33.26 11.91L46.89 12.19M84.08 12.95L95.02 13.17M8.15 13.41L14.05 13.37M34.82 13.22L41.42 13.17M-7.75 17.65L5.56 17.35M14.38 17.16L28.26 16.85M49.4 16.37L58.34 16.17M6.09 18.59L20.04 18.8M24.05 18.87L33.62 19.01M61.28 19.44L72.83 19.62M31.94 22.28L35.54 22.3M102.44 22.57L107.19 22.59M10.4 22.91L17.21 22.9M87.88 22.71L94.07 22.69M100.59 22.68L110.7 22.65M51.73 23.25L62.4 23.22M75.89 23.19L86.33 23.16M-0.3 25.27L13.85 25.25M23.29 25.24L36.65 25.22M103.7 25.13L109.45 25.12M19.28 26.08L35.24 25.88M57.13 25.6L64.63 25.51M79.33 25.32L90.43 25.18M45.1 27.68L53.41 27.46M91.21 26.46L105.35 26.09M48.28 29.73L58.43 29.43M79.67 28.81L83.27 28.7M95.14 28.35L108.8 27.95M58.4 29.95L69.64 29.55M-10.34 32.15L5.54 31.75M19.79 31.39L35.75 30.98M77.69 29.92L89.09 29.63M99.75 29.36L107.72 29.15M0.61 32.23L14.81 31.88M60.66 33.1L70.89 32.89M3.77 34.83L14.26 34.67M31.58 34.4L35.3 34.34M80.86 33.63L93.37 33.43M97.22 33.37L107.9 33.21M50.18 36.84L65.18 36.98M98.36 37.29L106.11 37.36M87.25 39.79L93.94 39.75M-6.26 40.41L7.59 40.41M42.93 40.41L49.35 40.41M59.47 41.73L65.04 41.57M33.57 42.81L47.16 42.55M62.99 42.25L67.53 42.16M75.12 42.02L85.13 41.83M14.8 44.91L29.9 44.34M60.37 43.2L68.15 42.91M39.08 46.78L48.15 46.59M67.57 46.17L76.95 45.96M9.44 48.45L18.72 48.13M63.49 46.57L76.88 46.1M4.52 46.77L13.05 47.04M18.48 47.21L27.03 47.48M3.25 48.58L16.1 48.88M2.77 20.61L2.74 18.5M2.61 4.64L2.6 3.1M3.22 41L3.22 39.12M3.29 13.55L3.29 11.85M12.18 31.07L12.03 28.83M11.02 13.51L10.85 10.97M12.77 33.94L12.57 30.59M11.27 7.85L11.1 4.94M14.84 51.22L14.73 47.31M14.08 23.51L13.97 19.53M15.53 50.37L15.46 48.71M14.9 33.74L14.79 30.78M14.59 25.41L14.47 22.25M14.17 14.04L14.07 11.4M19.34 34.64L19.66 30.8M21.2 11.87L21.37 9.76M18.91 44.5L19.07 42.68M19.54 37.28L19.68 35.73M22.87 21.1L23.26 17.69M20.2 51.12L20.52 48M29.55 40.21L29.41 38.02M28.63 25.98L28.52 24.29M27.97 15.73L27.8 13.01M27.06 1.56L26.81 -2.22M31.9 41.66L31.8 40.1M30.26 14.39L30.11 11.75M40.74 46.32L40.83 43.75M41.32 30.34L41.38 28.73M41.92 27.88L41.98 26.36M42.58 25L42.69 22.27M42.88 17.34L43.01 13.78M51.61 21.33L51.88 18.75M52.33 14.47L52.57 12.29M49.28 46.01L49.57 43.47M56.26 21.04L56.24 18.17M56.2 12.31L56.18 10.35M67.48 26.53L67.73 24.02M68.27 18.71L68.42 17.18M71.36 28.84L71.77 25.11M73.77 7.21L74.02 4.97M76.97 32.39L77.08 29.45M77.78 11.92L77.89 9.06M77.92 19.73L78.01 18.01M80.8 47.91L80.68 45.53M80.41 40.23L80.28 37.65M80.99 42.41L80.86 40.14M85.98 51.05L85.95 47.87M85.69 15.95L85.67 13.32M86.04 44.77L86.24 42.75M89.11 14.44L89.41 11.42M99.61 25.71L99.46 23.89M98.62 13.54L98.44 11.32M100.83 34.44L100.52 30.92M98.87 12.39L98.72 10.77M102.38 0.74L111.41 7.22M99.54 3.97L136.87 23.59M73.55 -8.02L109.29 11.41M60.77 -7.7L79.16 2.15M69.71 0.08L92.86 15.21M67.08 -0.78L104.37 21.33M45.83 -13.74L77.87 7.19M42.27 -5.57L68.17 8.45M49.22 6.15L66.97 17.53M33.51 -3.09L46.1 5.06M8.53 -11.3L29.07 0.37M78.92 31.45L102.84 46.48M46.45 11.99L71.36 26.37M54.03 16.92L62.54 21.72M49.95 16.57L84.24 36.83M78.45 36.58L95.1 46.74M94.21 46.33L113.81 58.11M84.03 40.27L92.39 44.59M-11.06 -13.82L23.29 8.25M28.46 15.41L50.98 26.58M45.46 24.78L53.89 29.27M20.77 18.43L35.64 26.34M-17.62 -7.35L6.76 8.39M52.56 37.94L77.03 53.73M0.55 9L34.55 29.23M6.7 9.63L28.12 24.91M49.53 48.09L81.6 68.03M-13.23 8.28L13.26 27.25M14.37 28.04L28.71 38.31M-24.01 12.88L9.88 32.84M-4.63 27.93L11.19 39.47M16.35 46.17L33.29 56.37M0.04 34.51L19.23 48.08M1.84 41.93L28.25 56.74M3.33 3.02L20.51 -6.84M-3.2 9.26L34.82 -9.3M19.84 0.79L50.6 -15.75M-14.69 24.6L9.43 12.61M12.73 14.28L44.86 -4.34M45.04 8.2L64.87 -5.12M-1.86 39.75L34.21 16.97M-17.61 49.92L0.01 38.86M19.93 29.38L48.89 9.37M-11.87 41.69L0.39 35.78M70.58 2.19L90.86 -9.65M70.71 6.42L84.01 -1.57M7.26 48.62L26.47 36.08M18.12 42.04L51.76 21.9M42.4 27.52L56.61 20.81M59.77 19.85L78.58 10.95M43.56 30.18L60.69 19.85M23.35 41.51L59.86 22.11M69.59 20.01L93.94 8.68M25.83 44.3L33.97 39.78M97.26 4.64L107.12 -0.84M58.11 32.54L87.23 12.3M92.27 14.71L100.82 9.2M103.66 12.87L133.57 -3.02M78.74 25.98L100.9 12.69M61.8 36.65L68.96 32.3M99.26 22.46L131.01 6.36M54.55 64.42L92.56 40.45M93.48 41.82L103.82 34.53M-8.26 1.65L0.16 1.53M38.81 0.99L46.16 0.89M28.02 3.39L34.84 3.36M-3 10.53L12.02 10.88M61.68 12.04L76.53 12.39M94.57 19.96L101.55 20.07M74.86 22.46L89.36 22.52M1.25 23.38L14.82 23.34M89.67 23.15L105.64 23.11M45.97 25.21L57.56 25.19M19.3 28.37L25.39 28.21M74.97 26.89L87.02 26.57M26.77 31.08L39.52 30.62M39.25 30.89L52.1 30.57M31.64 31.46L35.35 31.37M52.32 30.95L66.47 30.6M34.3 40.13L49.16 40.03M32.98 42.5L48.7 42.04M35.66 44.13L41.71 43.9M91.77 42.02L97.32 41.82M82.95 45.83L98.37 45.5M13.59 5.56L13.51 2.62M24.45 7.26L24.78 4.41M31.12 28.61L31.01 26.88M78.38 10.58L78.47 8.8M82.49 22.55L104.98 35.67M45.65 15.53L66.92 29.16M75.08 34.39L98.35 49.31M99.15 48.09L124.96 61.43M9.46 39.04L29.94 49.53M-2.39 33.3L23.67 51.78M29.64 13.44L66.84 -10.01M27.61 15.34L37.26 9.21M58.01 2.44L67.99 -3.83M11.06 36.91L43.48 18M5.42 45.69L33.43 28.85M44.38 51.05L72.68 32.13M0.84 22.15L6.87 22.18M72.69 25.17L79.98 25.16M96.71 45.41L107.65 45.03M40.95 49.97L41.12 46.08M80.07 25.58L79.94 23.16"/>
<mask id="dp1" maskUnits="userSpaceOnUse" x="-5" y="-5" width="115" height="60">
<rect x="-5" y="-5" width="115" height="60" fill="#000"/>
<radialGradient id="p1d0"><stop offset="0" stop-color="#fff" stop-opacity="0.55"/><stop offset="0.5" stop-color="#fff" stop-opacity="0.44"/><stop offset="1" stop-color="#fff" stop-opacity="0"/></radialGradient>
<ellipse cx="60" cy="14" rx="40" ry="16" transform="rotate(15 60 14)" fill="url(#p1d0)"/>
<radialGradient id="p1d1"><stop offset="0" stop-color="#fff" stop-opacity="0.99"/><stop offset="0.5" stop-color="#fff" stop-opacity="0.79"/><stop offset="1" stop-color="#fff" stop-opacity="0"/></radialGradient>
<ellipse cx="17" cy="12" rx="10" ry="5" transform="rotate(0 17 12)" fill="url(#p1d1)"/>
<radialGradient id="p1d2"><stop offset="0" stop-color="#fff" stop-opacity="0.55"/><stop offset="0.5" stop-color="#fff" stop-opacity="0.44"/><stop offset="1" stop-color="#fff" stop-opacity="0"/></radialGradient>
<ellipse cx="55" cy="3" rx="40" ry="6" transform="rotate(0 55 3)" fill="url(#p1d2)"/>
<radialGradient id="p1d3"><stop offset="0" stop-color="#fff" stop-opacity="0.39"/><stop offset="0.5" stop-color="#fff" stop-opacity="0.31"/><stop offset="1" stop-color="#fff" stop-opacity="0"/></radialGradient>
<ellipse cx="10" cy="31" rx="12" ry="10" transform="rotate(0 10 31)" fill="url(#p1d3)"/>
<radialGradient id="p1d4"><stop offset="0" stop-color="#fff" stop-opacity="0.72"/><stop offset="0.5" stop-color="#fff" stop-opacity="0.57"/><stop offset="1" stop-color="#fff" stop-opacity="0"/></radialGradient>
<ellipse cx="33" cy="21" rx="12" ry="5" transform="rotate(0 33 21)" fill="url(#p1d4)"/>
<radialGradient id="p1d5"><stop offset="0" stop-color="#fff" stop-opacity="0.44"/><stop offset="0.5" stop-color="#fff" stop-opacity="0.35"/><stop offset="1" stop-color="#fff" stop-opacity="0"/></radialGradient>
<ellipse cx="87" cy="41" rx="20" ry="8" transform="rotate(0 87 41)" fill="url(#p1d5)"/>
</mask>
<mask id="mp1_0" maskUnits="userSpaceOnUse" x="-5" y="-5" width="115" height="60">
<rect x="-5" y="-5" width="115" height="60" fill="#000"/>
<radialGradient id="p1g0_0"><stop offset="0" stop-color="#fff" stop-opacity="1.00"/><stop offset="0.55" stop-color="#fff" stop-opacity="0.80"/><stop offset="1" stop-color="#fff" stop-opacity="0"/></radialGradient>
<ellipse cx="14" cy="11.4" rx="5" ry="2" transform="rotate(0 14 11.4)" fill="url(#p1g0_0)"/>
<radialGradient id="p1g0_1"><stop offset="0" stop-color="#fff" stop-opacity="1.00"/><stop offset="0.55" stop-color="#fff" stop-opacity="0.80"/><stop offset="1" stop-color="#fff" stop-opacity="0"/></radialGradient>
<ellipse cx="19.5" cy="12.5" rx="10" ry="2.5" transform="rotate(8 19.5 12.5)" fill="url(#p1g0_1)"/>
<radialGradient id="p1g0_2"><stop offset="0" stop-color="#fff" stop-opacity="1.00"/><stop offset="0.55" stop-color="#fff" stop-opacity="0.80"/><stop offset="1" stop-color="#fff" stop-opacity="0"/></radialGradient>
<ellipse cx="25" cy="13.2" rx="4.38" ry="1.75" transform="rotate(10 25 13.2)" fill="url(#p1g0_2)"/>
<radialGradient id="p1g0_3"><stop offset="0" stop-color="#fff" stop-opacity="1.00"/><stop offset="0.55" stop-color="#fff" stop-opacity="0.80"/><stop offset="1" stop-color="#fff" stop-opacity="0"/></radialGradient>
<ellipse cx="18" cy="11.5" rx="12.5" ry="6.25" transform="rotate(0 18 11.5)" fill="url(#p1g0_3)"/>
<radialGradient id="p1g0_4"><stop offset="0" stop-color="#fff" stop-opacity="1.00"/><stop offset="0.55" stop-color="#fff" stop-opacity="0.80"/><stop offset="1" stop-color="#fff" stop-opacity="0"/></radialGradient>
<ellipse cx="29" cy="6" rx="8.75" ry="6.25" transform="rotate(0 29 6)" fill="url(#p1g0_4)"/>
<radialGradient id="p1g0_5"><stop offset="0" stop-color="#fff" stop-opacity="1.00"/><stop offset="0.55" stop-color="#fff" stop-opacity="0.80"/><stop offset="1" stop-color="#fff" stop-opacity="0"/></radialGradient>
<ellipse cx="34" cy="10" rx="5" ry="3.75" transform="rotate(0 34 10)" fill="url(#p1g0_5)"/>
<radialGradient id="p1g0_6"><stop offset="0" stop-color="#fff" stop-opacity="1.00"/><stop offset="0.55" stop-color="#fff" stop-opacity="0.80"/><stop offset="1" stop-color="#fff" stop-opacity="0"/></radialGradient>
<ellipse cx="77" cy="0" rx="5" ry="1.88" transform="rotate(0 77 0)" fill="url(#p1g0_6)"/>
<radialGradient id="p1g0_7"><stop offset="0" stop-color="#fff" stop-opacity="1.00"/><stop offset="0.55" stop-color="#fff" stop-opacity="0.80"/><stop offset="1" stop-color="#fff" stop-opacity="0"/></radialGradient>
<ellipse cx="78" cy="26.9" rx="8.75" ry="5.62" transform="rotate(0 78 26.9)" fill="url(#p1g0_7)"/>
<radialGradient id="p1g0_8"><stop offset="0" stop-color="#fff" stop-opacity="1.00"/><stop offset="0.55" stop-color="#fff" stop-opacity="0.80"/><stop offset="1" stop-color="#fff" stop-opacity="0"/></radialGradient>
<ellipse cx="8" cy="23" rx="8.75" ry="6.25" transform="rotate(0 8 23)" fill="url(#p1g0_8)"/>
<radialGradient id="p1g0_9"><stop offset="0" stop-color="#fff" stop-opacity="0.88"/><stop offset="0.55" stop-color="#fff" stop-opacity="0.70"/><stop offset="1" stop-color="#fff" stop-opacity="0"/></radialGradient>
<ellipse cx="61" cy="28.5" rx="7.5" ry="3.12" transform="rotate(15 61 28.5)" fill="url(#p1g0_9)"/>
<radialGradient id="p1g0_10"><stop offset="0" stop-color="#fff" stop-opacity="1.00"/><stop offset="0.55" stop-color="#fff" stop-opacity="0.80"/><stop offset="1" stop-color="#fff" stop-opacity="0"/></radialGradient>
<ellipse cx="25" cy="30" rx="2.5" ry="2.5" transform="rotate(0 25 30)" fill="url(#p1g0_10)"/>
</mask>
<mask id="mp1_1" maskUnits="userSpaceOnUse" x="-5" y="-5" width="115" height="60">
<rect x="-5" y="-5" width="115" height="60" fill="#000"/>
<radialGradient id="p1g1_0"><stop offset="0" stop-color="#fff" stop-opacity="1.00"/><stop offset="0.55" stop-color="#fff" stop-opacity="0.80"/><stop offset="1" stop-color="#fff" stop-opacity="0"/></radialGradient>
<ellipse cx="14" cy="11.4" rx="3.75" ry="1.5" transform="rotate(0 14 11.4)" fill="url(#p1g1_0)"/>
<radialGradient id="p1g1_1"><stop offset="0" stop-color="#fff" stop-opacity="1.00"/><stop offset="0.55" stop-color="#fff" stop-opacity="0.80"/><stop offset="1" stop-color="#fff" stop-opacity="0"/></radialGradient>
<ellipse cx="19.5" cy="12.5" rx="7.66" ry="1.92" transform="rotate(8 19.5 12.5)" fill="url(#p1g1_1)"/>
<radialGradient id="p1g1_2"><stop offset="0" stop-color="#fff" stop-opacity="1.00"/><stop offset="0.55" stop-color="#fff" stop-opacity="0.80"/><stop offset="1" stop-color="#fff" stop-opacity="0"/></radialGradient>
<ellipse cx="25" cy="13.2" rx="3.32" ry="1.33" transform="rotate(10 25 13.2)" fill="url(#p1g1_2)"/>
<radialGradient id="p1g1_3"><stop offset="0" stop-color="#fff" stop-opacity="0.75"/><stop offset="0.55" stop-color="#fff" stop-opacity="0.60"/><stop offset="1" stop-color="#fff" stop-opacity="0"/></radialGradient>
<ellipse cx="18" cy="11.5" rx="8.9" ry="4.45" transform="rotate(0 18 11.5)" fill="url(#p1g1_3)"/>
<radialGradient id="p1g1_4"><stop offset="0" stop-color="#fff" stop-opacity="0.62"/><stop offset="0.55" stop-color="#fff" stop-opacity="0.50"/><stop offset="1" stop-color="#fff" stop-opacity="0"/></radialGradient>
<ellipse cx="29" cy="6" rx="6.14" ry="4.38" transform="rotate(0 29 6)" fill="url(#p1g1_4)"/>
<radialGradient id="p1g1_5"><stop offset="0" stop-color="#fff" stop-opacity="0.25"/><stop offset="0.55" stop-color="#fff" stop-opacity="0.20"/><stop offset="1" stop-color="#fff" stop-opacity="0"/></radialGradient>
<ellipse cx="34" cy="10" rx="3.19" ry="2.39" transform="rotate(0 34 10)" fill="url(#p1g1_5)"/>
<radialGradient id="p1g1_6"><stop offset="0" stop-color="#fff" stop-opacity="1.00"/><stop offset="0.55" stop-color="#fff" stop-opacity="0.80"/><stop offset="1" stop-color="#fff" stop-opacity="0"/></radialGradient>
<ellipse cx="77" cy="0" rx="3.8" ry="1.42" transform="rotate(0 77 0)" fill="url(#p1g1_6)"/>
<radialGradient id="p1g1_7"><stop offset="0" stop-color="#fff" stop-opacity="0.83"/><stop offset="0.55" stop-color="#fff" stop-opacity="0.66"/><stop offset="1" stop-color="#fff" stop-opacity="0"/></radialGradient>
<ellipse cx="78" cy="26.9" rx="6.28" ry="4.04" transform="rotate(0 78 26.9)" fill="url(#p1g1_7)"/>
<radialGradient id="p1g1_8"><stop offset="0" stop-color="#fff" stop-opacity="0.38"/><stop offset="0.55" stop-color="#fff" stop-opacity="0.30"/><stop offset="1" stop-color="#fff" stop-opacity="0"/></radialGradient>
<ellipse cx="8" cy="23" rx="5.84" ry="4.17" transform="rotate(0 8 23)" fill="url(#p1g1_8)"/>
<radialGradient id="p1g1_10"><stop offset="0" stop-color="#fff" stop-opacity="0.13"/><stop offset="0.55" stop-color="#fff" stop-opacity="0.10"/><stop offset="1" stop-color="#fff" stop-opacity="0"/></radialGradient>
<ellipse cx="25" cy="30" rx="1.46" ry="1.46" transform="rotate(0 25 30)" fill="url(#p1g1_10)"/>
</mask>
<mask id="mp1_2" maskUnits="userSpaceOnUse" x="-5" y="-5" width="115" height="60">
<rect x="-5" y="-5" width="115" height="60" fill="#000"/>
<radialGradient id="p1g2_0"><stop offset="0" stop-color="#fff" stop-opacity="0.62"/><stop offset="0.55" stop-color="#fff" stop-opacity="0.50"/><stop offset="1" stop-color="#fff" stop-opacity="0"/></radialGradient>
<ellipse cx="14" cy="11.4" rx="3.09" ry="1.23" transform="rotate(0 14 11.4)" fill="url(#p1g2_0)"/>
<radialGradient id="p1g2_1"><stop offset="0" stop-color="#fff" stop-opacity="1.00"/><stop offset="0.55" stop-color="#fff" stop-opacity="0.80"/><stop offset="1" stop-color="#fff" stop-opacity="0"/></radialGradient>
<ellipse cx="19.5" cy="12.5" rx="6.77" ry="1.69" transform="rotate(8 19.5 12.5)" fill="url(#p1g2_1)"/>
<radialGradient id="p1g2_2"><stop offset="0" stop-color="#fff" stop-opacity="1.00"/><stop offset="0.55" stop-color="#fff" stop-opacity="0.80"/><stop offset="1" stop-color="#fff" stop-opacity="0"/></radialGradient>
<ellipse cx="25" cy="13.2" rx="2.87" ry="1.15" transform="rotate(10 25 13.2)" fill="url(#p1g2_2)"/>
<radialGradient id="p1g2_6"><stop offset="0" stop-color="#fff" stop-opacity="1.00"/><stop offset="0.55" stop-color="#fff" stop-opacity="0.80"/><stop offset="1" stop-color="#fff" stop-opacity="0"/></radialGradient>
<ellipse cx="77" cy="0" rx="3.28" ry="1.23" transform="rotate(0 77 0)" fill="url(#p1g2_6)"/>
</mask>
<mask id="mp1_3" maskUnits="userSpaceOnUse" x="-5" y="-5" width="115" height="60">
<rect x="-5" y="-5" width="115" height="60" fill="#000"/>
<radialGradient id="p1g3_1"><stop offset="0" stop-color="#fff" stop-opacity="0.87"/><stop offset="0.55" stop-color="#fff" stop-opacity="0.70"/><stop offset="1" stop-color="#fff" stop-opacity="0"/></radialGradient>
<ellipse cx="19.5" cy="12.5" rx="5.85" ry="1.46" transform="rotate(8 19.5 12.5)" fill="url(#p1g3_1)"/>
<radialGradient id="p1g3_2"><stop offset="0" stop-color="#fff" stop-opacity="0.37"/><stop offset="0.55" stop-color="#fff" stop-opacity="0.30"/><stop offset="1" stop-color="#fff" stop-opacity="0"/></radialGradient>
<ellipse cx="25" cy="13.2" rx="2.31" ry="0.92" transform="rotate(10 25 13.2)" fill="url(#p1g3_2)"/>
<radialGradient id="p1g3_6"><stop offset="0" stop-color="#fff" stop-opacity="0.37"/><stop offset="0.55" stop-color="#fff" stop-opacity="0.30"/><stop offset="1" stop-color="#fff" stop-opacity="0"/></radialGradient>
<ellipse cx="77" cy="0" rx="2.64" ry="0.99" transform="rotate(0 77 0)" fill="url(#p1g3_6)"/>
</mask>
</defs>
<g clip-path="url(#cp1)">
<rect x="476" y="18" width="299" height="139" fill="#d5d5d5"/>
<g transform="translate(476 18) scale(2.90291 2.89583)" fill="none" stroke-width="0.293" shape-rendering="crispEdges">
<use href="#p1a" stroke="#0000c0"/><use href="#p1b" stroke="#0000f4"/><use href="#p1c" stroke="#0a30ff"/><use href="#p1l" stroke="#0070ff"/>
<use href="#p1e" stroke="#0000f0" mask="url(#dp1)"/>
<g stroke="#0050ff" mask="url(#mp1_0)"><use href="#p1a"/><use href="#p1b"/><use href="#p1c"/><use href="#p1l"/><use href="#p1e" mask="url(#dp1)"/></g>
<g stroke="#00d8ff" mask="url(#mp1_1)"><use href="#p1a"/><use href="#p1b"/><use href="#p1c"/><use href="#p1l"/><use href="#p1e" mask="url(#dp1)"/></g>
<g stroke="#70ff8f" mask="url(#mp1_2)"><use href="#p1a"/><use href="#p1b"/><use href="#p1c"/><use href="#p1l"/><use href="#p1e" mask="url(#dp1)"/></g>
<g stroke="#ffee00" mask="url(#mp1_3)"><use href="#p1a"/><use href="#p1b"/><use href="#p1c"/><use href="#p1l"/><use href="#p1e" mask="url(#dp1)"/></g>
<path d="M-5 -9 31 -9 29.1 -1 29.3 0 29.5 0.7 29 1.1 28.5 1.4 27.6 1.5 27.1 2.1 26.4 2.2 25.8 2.8 25 3.4 24.2 3.9 23.8 4.5 23.6 5.3 23.7 6.2 24.1 7 24.4 7.6 24.5 8.1 24.8 9 24.95 9.7 24.85 10.3 24.6 10.8 24.1 10.85 23.8 10.5 23.3 10.1 23.1 9.5 22.7 9 22.3 8.4 22.2 7.8 22.3 7.2 21.8 6.8 21.3 6.1 20.7 5.95 20.1 6.3 19.6 6.3 19.1 5.8 18.5 5.6 17.7 5.7 17 5.65 16.4 5.65 15.6 5.8 15.4 6.1 15.8 6.7 15.6 7 15 6.8 14.4 6.9 13.7 6.7 12.7 6.45 11.8 6.25 11 6.35 10.2 6.7 9.7 7.1 9 7.4 8.4 7.8 7.9 8.2 7.7 8.7 7.6 9.4 7.8 10.1 7.4 11.2 7.2 12.2 7.3 13.4 7.7 14.2 7.9 15 8.4 16.1 8.8 16.8 9.3 17.2 10 17.45 10.5 17.85 11.4 17.6 12.2 17.5 13 17.35 13.7 17.5 14.3 16.7 14.55 16 14.7 15.1 15.4 14.7 16.4 14.5 17.4 14.45 18 14.6 18.2 15.1 17.7 15.8 17.5 16.5 17.3 17.2 16.9 17.6 16.8 18.4 16.7 19.4 16.3 20.1 16.9 20.3 17.5 20.15 18.2 20.2 19 20.05 20 20.05 20.7 20.25 21.4 20.7 21.8 21.05 21.6 21.8 21.5 22.7 21.5 23.5 21.3 24.3 21.2 25 21.6 25.6 22.2 26.2 22.8 26.8 23.5 27.2 24.2 27.1 25 26.65 25.5 26.4 26.2 26.6 27 26.9 27.6 27.4 28.1 27.7 28.3 27.3 28.8 26.7 29.3 26.3 29.5 25.5 30 25 30.7 24.9 31.5 24.7 32.5 24.1 33.1 23.6 33.7 23.7 33.6 24.2 33.1 24.5 33.4 25.1 34 24.8 34.8 24.5 35 23.8 35.4 24.5 36.2 24.6 36.8 25.1 37 25.5 38 25.4 38.8 25.4 39.4 25.9 40.1 25.9 40.7 25.5 41.5 25.4 42.5 25.3 43 25.4 42.7 25.8 43.1 26.2 43.8 27 44.3 27.4 45 27.6 45.7 28.2 46.4 28.8 46.7 29.2 47.4 29.7 48 30.1 49 30.1 50 30 51 30.2 52 30.5 52.8 31.1 53.4 31.8 53.9 32.3 54.3 33.5 54.7 34.2 55.1 34.9 54.8 35.4 54.4 35.9 55 36.2 55.8 36.1 56.6 36.4 56.5 37.2 57.2 36.6 58.1 36.8 58.8 37 59.7 37.5 60.4 38.1 60.7 38.5 61.6 38.4 62.8 38.8 63.7 38.9 65 38.85 66 39.5 66.7 39.9 67.5 40.6 68.4 41.1 69.5 41.2 69.8 41.7 70.1 42.7 70.2 43.5 69.9 44.5 69.5 45.4 68.8 46.3 68 47 67.4 48 66.8 49 66.5 50 28.4 50 28.5 49 28.7 48 28 47.6 27.3 46.5 26.7 45.5 26 44.2 25.4 43.2 24.7 42.7 23.9 42.1 23.8 41.3 23.7 40.5 24.4 39.6 24.7 39.4 25.1 38.6 24.7 38.5 24.1 38.2 24.5 37.2 24.9 36.4 25 35.4 25.5 35 26.1 34.6 26.4 34 27.1 33.4 27.6 32.7 27.8 32 27.6 31.2 27.6 30.4 27.5 29.4 27.1 28.8 26.6 28 26.1 27.6 25.5 27.1 25 27.6 24.6 27.8 24.7 28.5 24.1 28.7 23.3 28 22.5 27.8 22 27.6 21.4 27.1 21 26.5 20.3 26.1 19.8 25.9 19.3 26 19.2 25.4 19.3 24.9 18.5 24.2 17.8 23.5 17.4 23 17.2 22.7 16.4 22.8 15.7 22.5 14.9 22.2 13.8 22.1 12.8 21.5 12 20.8 11.1 20.1 10.3 19.8 9.7 20.1 8.8 20.3 8 20.1 7.2 19.9 6.4 19.6 5.3 19.3 4.1 18.8 3.2 18.2 2.4 18 1.5 17.7 0.7 17 0 16.4 -0.6 15.6 -0.3 15 -0.7 13.6 -1.5 12.8 -5 12ZM20.05 14.15 20.6 14 21 13.3 21.8 13.05 22.7 12.85 23.6 12.85 24.4 12.95 25.3 13.25 26.2 13.6 27.1 14 27.9 14.4 28.7 14.8 29.4 15 30.1 15.35 30.85 15.75 30.3 15.95 29.5 16.1 28.5 16.05 27.5 16.15 27.3 15.7 27.8 15.35 26.9 15.1 26.3 14.4 25.1 14.25 24.4 13.95 23.6 13.85 22.8 13.7 23.1 13.35 22.2 13.35 21.5 13.8 21 14.1 20.5 14.25ZM30.55 17.65 31.6 17.75 32.5 17.8 33.3 18.2 33.6 18.4 34.3 17.7 35 17.75 35.7 17.55 36.3 17.8 36.65 17.4 36.1 17.05 35.6 16.8 35.1 16.35 34.2 16.1 33.3 16.25 32.2 16.05 31.6 16.35 32.3 16.6 32.2 17 32.6 17.35 32 17.55 30.8 17.35ZM26.65 17.75 27.4 17.5 28.1 17.6 28.8 18 28.2 18.1 27.8 18.3 27.2 18.1 26.8 17.8ZM37.75 17.6 39 17.55 39.4 17.75 39.2 18 37.8 18.05ZM110 2 104 0.9 102.8 0.9 102.1 0.7 102.05 0.55 101.5 0.8 100.7 0.8 100.1 0.6 99.7 0.1 99.1 0.2 98.7 1 98.2 1.9 97.4 2.4 96.5 2.75 96 3.4 95.7 3.8 95.2 4.6 95.3 5.4 95.35 5.9 95.1 6.4 94.7 6.9 94 7.4 93.3 7.9 92.4 8.1 91.7 8.4 91.1 9.2 90.5 9.9 90.2 10.7 89.7 11.4 89 12.2 88.7 12.9 88.3 13.6 88 14.6 87.95 15.2 88.5 15.8 88.8 16.4 88.5 16.9 88.8 18 88.9 19 88.5 19.8 88.2 20.5 87.8 21.1 87.5 21.3 87.9 21.5 88.2 22.1 88.3 22.8 88.2 23.5 88.5 23.8 88.9 24.2 89.4 24.7 89.8 25.2 90.2 25.7 90.7 26.4 91.3 26.9 91.6 27.6 92 28.3 92.8 28.7 93.6 29.2 94.3 29.7 95 30.3 95.7 30.9 96.7 31.4 97.5 31.65 98.4 31.3 99.2 31 100.4 30.8 101.5 30.9 102.2 31 103 31.25 104 31 105 30.5 110 30ZM97 -1.5 98 -1.2 98.7 -0.6 99 -0.2 99.4 0 100 -0.4 100.6 -0.7 102 -0.75 103 -0.8 105 -2 105 -4 97 -4ZM43.1 25.9 43.4 25.25 44.1 25.15 44 25.9Z" fill="#cccccc" stroke="none"/>
<path d="M33.4 25.05 33.6 25.4 34 25.7 33.9 26.4 33.5 26.9 33.1 26.7 33 26.1 33.2 25.5Z" fill="#1a1ab0" stroke="#000" stroke-width="0.310"/>
</g>
<path d="M490.51 18V157M548.57 18V157M606.63 18V157M664.69 18V157M722.75 18V157M476 35.38H775M476 64.33H775M476 93.29H775M476 122.25H775M476 151.21H775" stroke="#000" stroke-opacity="0.07" stroke-width="1" fill="none"/>
<g transform="translate(476 18) scale(2.90291 2.89583)"><path d="M-5 -9 31 -9 29.1 -1 29.3 0 29.5 0.7 29 1.1 28.5 1.4 27.6 1.5 27.1 2.1 26.4 2.2 25.8 2.8 25 3.4 24.2 3.9 23.8 4.5 23.6 5.3 23.7 6.2 24.1 7 24.4 7.6 24.5 8.1 24.8 9 24.95 9.7 24.85 10.3 24.6 10.8 24.1 10.85 23.8 10.5 23.3 10.1 23.1 9.5 22.7 9 22.3 8.4 22.2 7.8 22.3 7.2 21.8 6.8 21.3 6.1 20.7 5.95 20.1 6.3 19.6 6.3 19.1 5.8 18.5 5.6 17.7 5.7 17 5.65 16.4 5.65 15.6 5.8 15.4 6.1 15.8 6.7 15.6 7 15 6.8 14.4 6.9 13.7 6.7 12.7 6.45 11.8 6.25 11 6.35 10.2 6.7 9.7 7.1 9 7.4 8.4 7.8 7.9 8.2 7.7 8.7 7.6 9.4 7.8 10.1 7.4 11.2 7.2 12.2 7.3 13.4 7.7 14.2 7.9 15 8.4 16.1 8.8 16.8 9.3 17.2 10 17.45 10.5 17.85 11.4 17.6 12.2 17.5 13 17.35 13.7 17.5 14.3 16.7 14.55 16 14.7 15.1 15.4 14.7 16.4 14.5 17.4 14.45 18 14.6 18.2 15.1 17.7 15.8 17.5 16.5 17.3 17.2 16.9 17.6 16.8 18.4 16.7 19.4 16.3 20.1 16.9 20.3 17.5 20.15 18.2 20.2 19 20.05 20 20.05 20.7 20.25 21.4 20.7 21.8 21.05 21.6 21.8 21.5 22.7 21.5 23.5 21.3 24.3 21.2 25 21.6 25.6 22.2 26.2 22.8 26.8 23.5 27.2 24.2 27.1 25 26.65 25.5 26.4 26.2 26.6 27 26.9 27.6 27.4 28.1 27.7 28.3 27.3 28.8 26.7 29.3 26.3 29.5 25.5 30 25 30.7 24.9 31.5 24.7 32.5 24.1 33.1 23.6 33.7 23.7 33.6 24.2 33.1 24.5 33.4 25.1 34 24.8 34.8 24.5 35 23.8 35.4 24.5 36.2 24.6 36.8 25.1 37 25.5 38 25.4 38.8 25.4 39.4 25.9 40.1 25.9 40.7 25.5 41.5 25.4 42.5 25.3 43 25.4 42.7 25.8 43.1 26.2 43.8 27 44.3 27.4 45 27.6 45.7 28.2 46.4 28.8 46.7 29.2 47.4 29.7 48 30.1 49 30.1 50 30 51 30.2 52 30.5 52.8 31.1 53.4 31.8 53.9 32.3 54.3 33.5 54.7 34.2 55.1 34.9 54.8 35.4 54.4 35.9 55 36.2 55.8 36.1 56.6 36.4 56.5 37.2 57.2 36.6 58.1 36.8 58.8 37 59.7 37.5 60.4 38.1 60.7 38.5 61.6 38.4 62.8 38.8 63.7 38.9 65 38.85 66 39.5 66.7 39.9 67.5 40.6 68.4 41.1 69.5 41.2 69.8 41.7 70.1 42.7 70.2 43.5 69.9 44.5 69.5 45.4 68.8 46.3 68 47 67.4 48 66.8 49 66.5 50 28.4 50 28.5 49 28.7 48 28 47.6 27.3 46.5 26.7 45.5 26 44.2 25.4 43.2 24.7 42.7 23.9 42.1 23.8 41.3 23.7 40.5 24.4 39.6 24.7 39.4 25.1 38.6 24.7 38.5 24.1 38.2 24.5 37.2 24.9 36.4 25 35.4 25.5 35 26.1 34.6 26.4 34 27.1 33.4 27.6 32.7 27.8 32 27.6 31.2 27.6 30.4 27.5 29.4 27.1 28.8 26.6 28 26.1 27.6 25.5 27.1 25 27.6 24.6 27.8 24.7 28.5 24.1 28.7 23.3 28 22.5 27.8 22 27.6 21.4 27.1 21 26.5 20.3 26.1 19.8 25.9 19.3 26 19.2 25.4 19.3 24.9 18.5 24.2 17.8 23.5 17.4 23 17.2 22.7 16.4 22.8 15.7 22.5 14.9 22.2 13.8 22.1 12.8 21.5 12 20.8 11.1 20.1 10.3 19.8 9.7 20.1 8.8 20.3 8 20.1 7.2 19.9 6.4 19.6 5.3 19.3 4.1 18.8 3.2 18.2 2.4 18 1.5 17.7 0.7 17 0 16.4 -0.6 15.6 -0.3 15 -0.7 13.6 -1.5 12.8 -5 12ZM20.05 14.15 20.6 14 21 13.3 21.8 13.05 22.7 12.85 23.6 12.85 24.4 12.95 25.3 13.25 26.2 13.6 27.1 14 27.9 14.4 28.7 14.8 29.4 15 30.1 15.35 30.85 15.75 30.3 15.95 29.5 16.1 28.5 16.05 27.5 16.15 27.3 15.7 27.8 15.35 26.9 15.1 26.3 14.4 25.1 14.25 24.4 13.95 23.6 13.85 22.8 13.7 23.1 13.35 22.2 13.35 21.5 13.8 21 14.1 20.5 14.25ZM30.55 17.65 31.6 17.75 32.5 17.8 33.3 18.2 33.6 18.4 34.3 17.7 35 17.75 35.7 17.55 36.3 17.8 36.65 17.4 36.1 17.05 35.6 16.8 35.1 16.35 34.2 16.1 33.3 16.25 32.2 16.05 31.6 16.35 32.3 16.6 32.2 17 32.6 17.35 32 17.55 30.8 17.35ZM26.65 17.75 27.4 17.5 28.1 17.6 28.8 18 28.2 18.1 27.8 18.3 27.2 18.1 26.8 17.8ZM37.75 17.6 39 17.55 39.4 17.75 39.2 18 37.8 18.05ZM110 2 104 0.9 102.8 0.9 102.1 0.7 102.05 0.55 101.5 0.8 100.7 0.8 100.1 0.6 99.7 0.1 99.1 0.2 98.7 1 98.2 1.9 97.4 2.4 96.5 2.75 96 3.4 95.7 3.8 95.2 4.6 95.3 5.4 95.35 5.9 95.1 6.4 94.7 6.9 94 7.4 93.3 7.9 92.4 8.1 91.7 8.4 91.1 9.2 90.5 9.9 90.2 10.7 89.7 11.4 89 12.2 88.7 12.9 88.3 13.6 88 14.6 87.95 15.2 88.5 15.8 88.8 16.4 88.5 16.9 88.8 18 88.9 19 88.5 19.8 88.2 20.5 87.8 21.1 87.5 21.3 87.9 21.5 88.2 22.1 88.3 22.8 88.2 23.5 88.5 23.8 88.9 24.2 89.4 24.7 89.8 25.2 90.2 25.7 90.7 26.4 91.3 26.9 91.6 27.6 92 28.3 92.8 28.7 93.6 29.2 94.3 29.7 95 30.3 95.7 30.9 96.7 31.4 97.5 31.65 98.4 31.3 99.2 31 100.4 30.8 101.5 30.9 102.2 31 103 31.25 104 31 105 30.5 110 30ZM97 -1.5 98 -1.2 98.7 -0.6 99 -0.2 99.4 0 100 -0.4 100.6 -0.7 102 -0.75 103 -0.8 105 -2 105 -4 97 -4ZM43.1 25.9 43.4 25.25 44.1 25.15 44 25.9Z" fill="#111" fill-opacity="0" stroke="#000" stroke-width="0.362" stroke-linejoin="round"/><path d="M26.65 11.5a0.35 0.45 0 1 0 0.7 0a0.35 0.45 0 1 0 -0.7 0ZM26 9.35a0.6 0.15 0 1 0 1.2 0a0.6 0.15 0 1 0 -1.2 0ZM27.6 9.6a0.2 0.5 0 1 0 0.4 0a0.2 0.5 0 1 0 -0.4 0ZM28.55 10.9a0.15 0.45 0 1 0 0.3 0a0.15 0.45 0 1 0 -0.3 0ZM29.28 11.7a0.12 0.3 0 1 0 0.24 0a0.12 0.3 0 1 0 -0.24 0ZM29.78 12.7a0.12 0.35 0 1 0 0.24 0a0.12 0.35 0 1 0 -0.24 0ZM31.2 15a0.3 0.15 0 1 0 0.6 0a0.3 0.15 0 1 0 -0.6 0ZM32.6 14.2a0.4 0.12 0 1 0 0.8 0a0.4 0.12 0 1 0 -0.8 0ZM30.85 13.6a0.25 0.2 0 1 0 0.5 0a0.25 0.2 0 1 0 -0.5 0ZM43.15 19.8a0.25 0.2 0 1 0 0.5 0a0.25 0.2 0 1 0 -0.5 0ZM43.85 21.35a0.15 0.25 0 1 0 0.3 0a0.15 0.25 0 1 0 -0.3 0ZM45.33 22.85a0.12 0.15 0 1 0 0.24 0a0.12 0.15 0 1 0 -0.24 0ZM43.55 20.6a0.1 0.15 0 1 0 0.2 0a0.1 0.15 0 1 0 -0.2 0ZM43.7 22.75a0.1 0.15 0 1 0 0.2 0a0.1 0.15 0 1 0 -0.2 0ZM43.15 23.9a0.1 0.1 0 1 0 0.2 0a0.1 0.1 0 1 0 -0.2 0ZM42.1 18.7a0.1 0.1 0 1 0 0.2 0a0.1 0.1 0 1 0 -0.2 0ZM43.08 18.9a0.12 0.1 0 1 0 0.24 0a0.12 0.1 0 1 0 -0.24 0ZM35.8 23.8a0.2 0.1 0 1 0 0.4 0a0.2 0.1 0 1 0 -0.4 0ZM36.55 23.8a0.15 0.1 0 1 0 0.3 0a0.15 0.1 0 1 0 -0.3 0ZM34.88 23.5a0.12 0.1 0 1 0 0.24 0a0.12 0.1 0 1 0 -0.24 0ZM40.18 17.7a0.12 0.06 0 1 0 0.24 0a0.12 0.06 0 1 0 -0.24 0ZM23.55 16.7a0.15 0.08 0 1 0 0.3 0a0.15 0.08 0 1 0 -0.3 0ZM13.35 36.5a0.45 0.5 0 1 0 0.9 0a0.45 0.5 0 1 0 -0.9 0ZM14.4 36.7a0.2 0.2 0 1 0 0.4 0a0.2 0.2 0 1 0 -0.4 0ZM15.35 36.85a0.15 0.1 0 1 0 0.3 0a0.15 0.1 0 1 0 -0.3 0ZM88.25 7.7a0.25 0.15 0 1 0 0.5 0a0.25 0.15 0 1 0 -0.5 0ZM89.15 8a0.25 0.2 0 1 0 0.5 0a0.25 0.2 0 1 0 -0.5 0ZM90.6 7.6a0.4 0.2 0 1 0 0.8 0a0.4 0.2 0 1 0 -0.8 0ZM91 7a0.3 0.15 0 1 0 0.6 0a0.3 0.15 0 1 0 -0.6 0ZM87 7.3a0.1 0.15 0 1 0 0.2 0a0.1 0.15 0 1 0 -0.2 0ZM87.68 7.9a0.12 0.1 0 1 0 0.24 0a0.12 0.1 0 1 0 -0.24 0ZM87.85 3.25a0.25 0.1 0 1 0 0.5 0a0.25 0.1 0 1 0 -0.5 0ZM80.35 21.05a0.15 0.12 0 1 0 0.3 0a0.15 0.12 0 1 0 -0.3 0ZM81.2 20.9a0.2 0.25 0 1 0 0.4 0a0.2 0.25 0 1 0 -0.4 0ZM82.05 19.9a0.15 0.15 0 1 0 0.3 0a0.15 0.15 0 1 0 -0.3 0ZM82 19.3a0.1 0.1 0 1 0 0.2 0a0.1 0.1 0 1 0 -0.2 0ZM79.65 19a0.25 0.15 0 1 0 0.5 0a0.25 0.15 0 1 0 -0.5 0ZM80.55 19.4a0.15 0.1 0 1 0 0.3 0a0.15 0.1 0 1 0 -0.3 0ZM72.52 39.85a0.08 0.06 0 1 0 0.16 0a0.08 0.06 0 1 0 -0.16 0ZM17.87 30.45a0.08 0.06 0 1 0 0.16 0a0.08 0.06 0 1 0 -0.16 0ZM23.25 23.45a0.05 0.05 0 1 0 0.1 0a0.05 0.05 0 1 0 -0.1 0ZM88.6 24.8a0.4 0.25 0 1 0 0.8 0a0.4 0.25 0 1 0 -0.8 0ZM89.2 24.5a0.3 0.2 0 1 0 0.6 0a0.3 0.2 0 1 0 -0.6 0Z" fill="#000"/><path d="M26 9.3 27.1 9.4M27.8 9 28 9.6 27.9 10M26.7 10.9 27.1 11.4 27.3 12M27 10.8 27.3 11.7M28.3 10.5 28.8 11 28.8 11.4M28.2 11.4 29.1 12.4M29.4 11.4 29.6 11.9M29.7 12.4 30.1 13M30.7 13.2 31.1 13.8M31.8 13.6 32.1 13.7M31.3 14.9 32 15M32.6 14.2 33.3 14.3" fill="none" stroke="#000" stroke-width="0.448" stroke-linecap="round"/></g>
</g>
<rect x="476.5" y="18.5" width="298" height="138" fill="none" stroke="#262626" stroke-opacity="0.4" stroke-width="1"/>
<path d="M490.51 18v2.8M490.51 157v-2.8M548.57 18v2.8M548.57 157v-2.8M606.63 18v2.8M606.63 157v-2.8M664.69 18v2.8M664.69 157v-2.8M722.75 18v2.8M722.75 157v-2.8M476 35.38h2.8M775 35.38h-2.8M476 64.33h2.8M775 64.33h-2.8M476 93.29h2.8M775 93.29h-2.8M476 122.25h2.8M775 122.25h-2.8M476 151.21h2.8M775 151.21h-2.8" stroke="#262626" stroke-opacity="0.45" stroke-width="1" fill="none"/>
<g opacity="0.999">
<text x="625.5" y="13.9" text-anchor="middle" font-weight="bold" font-size="11.75" fill="#000">DDM Peak SNR on 4-Jul-2020</text>
<text x="471.9" y="38.98" text-anchor="end" font-size="10" fill="#262626">30</text>
<text x="471.9" y="67.93" text-anchor="end" font-size="10" fill="#262626">20</text>
<text x="471.9" y="96.89" text-anchor="end" font-size="10" fill="#262626">10</text>
<text x="471.9" y="125.85" text-anchor="end" font-size="10" fill="#262626">0</text>
<text x="471.9" y="154.81" text-anchor="end" font-size="10" fill="#262626">-10</text>
<text x="490.51" y="170.7" text-anchor="middle" font-size="10" fill="#262626">-100</text>
<text x="548.57" y="170.7" text-anchor="middle" font-size="10" fill="#262626">-80</text>
<text x="606.63" y="170.7" text-anchor="middle" font-size="10" fill="#262626">-60</text>
<text x="664.69" y="170.7" text-anchor="middle" font-size="10" fill="#262626">-40</text>
<text x="722.75" y="170.7" text-anchor="middle" font-size="10" fill="#262626">-20</text>
<text x="625.5" y="185" text-anchor="middle" font-size="11.4" fill="#262626">Longitude (°)</text>
<text x="0" y="0" transform="translate(448.4 87.5) rotate(-90)" text-anchor="middle" font-size="11.4" dominant-baseline="central" fill="#262626">Latitude (°)</text>
<rect x="781.3" y="18" width="11.8" height="139.3" fill="url(#jet)"/>
<rect x="781.3" y="155.07" width="11.8" height="2.23" fill="#cccccc"/>
<rect x="781.3" y="18" width="11.8" height="139.3" fill="none" stroke="#262626" stroke-opacity="0.45" stroke-width="0.8"/>
<text x="796.5" y="160" font-size="9" fill="#262626">0</text>
<text x="796.5" y="134.3" font-size="9" fill="#262626">5</text>
<text x="796.5" y="108.6" font-size="9" fill="#262626">10</text>
<text x="796.5" y="82.9" font-size="9" fill="#262626">15</text>
<text x="796.5" y="57.2" font-size="9" fill="#262626">20</text>
<text x="796.5" y="31.49" font-size="9" fill="#262626">25</text>
<text x="787.2" y="12.4" text-anchor="middle" font-size="8.5" fill="#262626">dB</text>
<text x="626.1" y="211.9" text-anchor="middle" font-family="Liberation Serif" font-size="15" fill="#000">(j)</text>
</g>
<clipPath id="cp2"><rect x="38" y="239" width="301" height="140"/></clipPath>
<defs>
<path id="p2a" d="M83.94 -11.32L109.89 2.07M84.34 -7.61L93.81 -0.72M89.2 -3.88L102.47 5.59M103.59 6.39L139.57 32.07M75.06 -12.58L96.41 -0.71M100.43 1.52L132.27 19.22M84.37 -5.56L120.05 16.37M89.99 -1.17L110.81 12.05M100.79 6.89L118.45 18.23M86.6 -3.07L117.48 14.08M77.13 -5.38L102.2 7.99M74.9 -5.94L94.14 4.67M68.8 -7.19L97.46 7.38M100.83 9.1L134.29 26.11M89.84 3.92L125.95 21.95M70.83 -1.4L106.69 21.68M60.39 -8.08L97.06 17.48M56.11 -8.98L68.95 -0.44M78 5.9L104.55 22.97M84.26 10.18L116.56 27.33M40.92 -16.7L69.06 3.06M76.28 8.13L100.18 24.91M83.42 11.69L120.82 33.44M100.11 21.79L112.45 28.94M62.11 3.84L87.47 19.35M91.09 21.57L122.13 40.56M21.42 -21.63L58.71 2.49M89.76 22.58L104.56 32.16M60.43 4.29L72.24 11.58M85.12 19.53L122 42.29M74.37 14.73L83.67 21.15M45.38 -4.17L73.24 14.56M46.65 -2.53L68.45 11.87M68.33 12.5L88.31 26M96.12 31.27L125.69 51.23M46.89 0.85L58.19 6.93M81.65 19.56L101.43 30.21M86.28 22.04L112.97 34.82M101.34 33.08L119.95 42.72M35.3 -3.76L63.3 14.6M90.16 35.6L101.48 43.96M35.16 -0.45L67.91 20.5M33.26 -0.88L52.55 11.73M54.92 13.28L71.92 24.39M31.94 1.75L47.7 10.43M92.1 34.9L108.4 43.88M13.79 -10.21L43.4 8.37M84.76 34.33L95.42 41.03M31.25 -0.05L64.53 22.52M68.21 25.02L91.15 40.58M81.67 34.54L102.68 48.71M3.55 -7.54L26.82 3.84M32.21 6.48L55.96 18.1M82.53 36.94L103.04 51.02M66.6 26.67L83.94 38.72M27.84 1.04L54.57 18.89M73.42 32.35L99.89 49.09M-15.65 -16.2L23.04 4.18M2.53 -5.28L27.18 7.35M-1.76 -6.38L22.33 5.75M81.1 35.34L104.15 46.95M75.73 34.41L83.99 38.94M-10.77 -11.19L14.87 2.62M19.11 4.9L46.92 19.88M18.02 3.17L38.68 15.33M78.11 38.54L97.88 50.17M10.91 -0.34L27.82 9.76M4.69 -5.83L35.08 13.86M-10.79 -14.85L23.35 7.23M74.16 41.02L106.21 62.22M-13.05 -19.76L19.03 3.38M-11.2 -17.97L15.23 1.13M54.44 29.45L85.35 51.79M84.51 47.76L121.77 69.92M52.79 29.44L85.82 48.38M32.64 18.73L43.07 25.09M47.03 27.51L75.24 44.72M9.14 10.06L31.67 20.97M34.74 22.46L55.1 32.32M66.55 41.04L102.03 63.04M54.9 34.21L79.82 47.51M-19.12 -3.35L15.82 14.5M23.38 18.36L57.45 35.77M64.63 39.44L101.69 58.37M54.93 35.36L67.99 42.05M27.17 21.19L59.55 38.53M-23.22 -5.1L3.65 9.47M7.2 11.4L27.69 22.51M72.79 46.96L112.17 68.32M-2.18 7.45L5.93 12.02M12.15 19.25L25.21 25.7M29.28 28.1L50.6 38.82M54.43 42.65L78.56 58.42M1.92 9.61L9.08 14.18M27.42 26.21L44.87 37.61M46.4 38.61L78.69 59.71M59.03 47.43L74.64 57.63M-3.66 5.91L31.39 29.94M38.16 35.7L52.78 44.09M16.37 23.33L37.06 35.52M43.54 39.34L60.65 49.42M45.46 41.23L73.7 59.89M20.28 25.9L56.29 49.6M50.59 47.33L81.41 69.17M12.86 28.76L44.95 44.91M30.07 36.47L55.9 54.08M46.39 48.09L63.29 59.48M45.45 48.22L58.93 55.18M29.78 40.44L67.79 61.33M5.47 25.65L33.44 42.56M-21.96 8.24L10.47 28.5M14.91 31.28L32.84 42.48M37.06 45.11L62.05 60.73M-27.82 6.98L5.14 26.7M-10.26 26.44L5.9 35.14M-1.82 35.52L29.91 52.41M16.08 44.31L44.08 62.08M17.33 48.2L53.82 66.83M-19.53 26.96L1.46 39.22M9.74 44.05L38.58 60.88M-6.58 37.29L7.52 45.01M5.62 46.33L20.11 54.14M-12.79 38.37L15.5 58.33M-32.79 26.16L1.57 3.43M4.05 1.78L16.61 -6.53M-33.66 21.27L4.19 1.49M3.45 9.5L29.39 -4.95M21.42 -0.15L34.52 -7.36M-5.94 20.79L9.48 10.4M6.47 12.61L40.14 -9.17M5.44 11.07L31.37 -2.83M23.37 1.94L32.51 -3M-30.71 38.94L1.89 17.98M27.08 1.79L60.92 -19.97M-27.86 35.31L4.26 15.92M10.87 13.45L46.25 -8.84M-21.53 26.06L13.32 9.52M-26.76 37.42L4.1 20.01M-4.87 27.97L12.59 18.03M16.02 16.08L41.89 1.35M-5.17 28.45L7.77 21.15M-24.46 48.76L10.55 25.32M17.33 20.79L25.04 15.62M31.87 11.05L52.18 -2.55M-0.69 32.39L35.28 9.83M21.95 16.68L50.28 2.59M56.06 0.09L94.84 -21.03M44.98 7.59L56.33 1.64M15.92 23.92L25.89 18.55M49.5 7.4L76.11 -6.11M40.52 12.92L63.47 0.7M-1.43 39.2L33.81 17.81M31.28 19.28L51.31 8.35M53.06 7.39L74.22 -4.16M-21.44 48.44L10.38 31.15M16.09 28.05L36.78 16.8M42.02 13.95L71.85 -2.25M6.29 32.27L18.5 26.2M25.58 22.68L36.8 17.11M-3.77 37.05L28.21 21.61M-18.36 48.86L7.68 34.86M26.48 24.75L58.55 7.5M59.54 6.96L87.42 -8.03M37.49 20.74L73.65 -3.22M-2.73 48.22L7.68 41.26M13.59 37.32L42.39 18.07M-17.01 57.72L6.42 42.5M13.88 37.65L43.88 18.16M-16.7 47.67L-0.5 39.85M33.98 23.19L43.93 18.39M46.16 17.31L54.53 13.27M57.07 11.06L71.17 1.42M-10.31 57.11L5.84 46.25M13.56 41.06L40.83 22.73M-17.02 61.27L18.06 38.11M42.16 23.39L68.12 6.57M-12.92 56.98L17.04 39.04M49.56 19.56L66.62 9.35M68.34 8.32L76.96 3.16M10.39 46.51L45.71 23.67M6.86 44.88L43.7 24.94M51.43 20.76L90.81 -0.54M-19.14 58.03L20.55 37.4M9.72 44.49L36.6 30.22M45.58 25.96L77.99 10.78M16.97 40.06L40.56 28.91M20.96 44.18L36.01 34.33M85.34 2.04L94.26 -3.79M9.58 46.66L31.44 36.2M52.96 26.93L77.78 13.91M4.91 53.61L22.77 44.34M97.14 5.75L117.65 -4.9M97.31 3.66L124.74 -12.92M57.28 28.33L78.69 15.17M60.63 26.79L84.58 12.21M91.49 7.99L129.36 -15.06M13.06 55.79L47.4 35.58M87.49 11.99L124.47 -9.78M11.83 54.48L41 39.05M46.33 36.53L72.04 23.31M74.44 22.08L99.63 9.13M29.45 48.03L44.01 39.39M45.59 39.51L81.87 16.41M85.95 13.81L95.71 7.59M72.94 24.36L110.82 3.65M30.87 52.09L67.19 29.17M31.76 47.98L57.22 36.05M16.04 55.46L41.78 43.68M34.51 47.6L57.53 37.05M71.14 30.81L88.8 22.72M97.23 18.86L119.82 8.51M82.26 26.28L102.57 16.39M30.19 53.64L61.24 36.78M80.62 26.26L113.56 8.38M44.28 47.58L69.02 34.07M70.66 33.78L78.1 29.71M83.71 26.65L107.23 13.81M86.25 21.53L93.02 16.75M99.37 12.26L121.24 -3.2M39 55.51L73.05 32.28M26.41 57.4L48.62 46.88M74.85 34.45L111.11 17.28M78.6 33.12L108.63 17.71M78.43 34.89L114.33 14.78M62.65 45.17L80.7 35.57M89.12 31.09L126.68 11.1M92.42 30.03L111.56 20M54.8 51.56L68.8 42.62M72.29 40.4L96.62 24.87M103.88 20.24L134.32 0.82M29.09 68.63L65.04 45.54M51.89 54.35L67.76 44.37M70.44 42.68L79.32 37.1M96 25.76L112.11 14.75M97.95 26.47L105.17 21.73M89.72 36.71L119.12 22.17M81.52 40.61L112.94 20.34M98.22 40.23L106.85 35.43M94.82 45.35L123.26 26.73M91.65 49.27L111.45 37.16M81.05 56.92L114.98 37.51M84.39 57.43L116.45 37.77M44.85 -1.09L51.22 -0.99M99.19 -0.22L115.03 0.03M27.73 -1.03L32.65 -0.93M72.8 -0.19L88.37 0.1M6.42 -1.13L14.23 -0.96M50.63 -0.21L60.29 -0.01M97.11 1.36L110.91 1.68M34.05 1.9L40.05 1.94M62.95 2.47L75.19 2.47M46.02 4.12L53.48 4.22M56.3 5.6L70.27 5.47M24.41 7.83L32.89 7.65M96.91 9.1L103.92 9.18M-1.58 11.46L7.19 11.18M59.36 9.49L71.87 9.08M2.28 10.96L14.88 10.89M60.46 10.65L69.57 10.6M83.68 10.52L99.11 10.44M-4.02 15.3L7.29 14.9M69.14 12.72L77.35 12.42M-2.15 16.07L12.36 15.88M75.6 15.04L87.38 14.89M91.97 14.83L95.75 14.78M25.4 17.15L40.29 16.76M51.6 16.47L62.68 16.18M88.12 15.52L92.75 15.4M89.73 18.54L103.64 18.49M80.35 18.49L85.81 18.35M1.17 21.9L11.43 21.69M25.39 21.41L38.1 21.15M6.95 22.74L18.7 22.36M67.61 20.77L70.65 20.67M6.29 25.4L16.94 25.1M76.29 23.43L83.81 23.22M87.72 23.37L90.77 23.27M13.18 26.16L25.7 26.13M42.77 26.09L51 26.07M90.17 28.88L99.6 29.14M-8.68 29.62L4.25 29.45M98.23 28.26L102.57 28.21M68.63 30.69L79.13 30.65M1.44 31.6L8.6 31.56M75.97 31.13L89.87 31.04M22.75 30.65L33.16 31.02M98.81 34.02L112.42 34.54M41.91 32.42L45.21 32.55M87.35 34.13L98.73 34.55M4.33 32.03L17.52 32.41M68.75 33.88L75.94 34.09M6.3 34.93L20.22 34.88M25.96 34.86L34.4 34.83M98.56 35.37L104.05 35.39M3.78 35.56L15.32 35.93M35.2 38.64L40.95 38.69M12.39 42.72L19 42.79M65.61 43.26L80.29 43.41M56.07 44.64L67.39 44.78M75.87 44.88L84.86 44.99M-9.2 45.46L0.64 45.45M95.02 45.35L103.57 45.34M9.05 48.02L19.78 47.81M30.2 47.61L41.34 47.4M37.84 48.37L43.61 48.22M16.49 48.47L21.85 48.67M1.42 50.17L1.07 46.34M2.62 17.16L2.58 15.07M7.7 49.13L7.62 46.85M4.93 51.71L5.22 48.22M6.41 33.77L6.73 29.99M13.53 8.37L13.59 4.89M13.38 41.45L13.45 38.41M13.79 22.67L13.82 21.16M22.83 17.53L22.49 14.05M28.65 0.34L28.48 -1.69M33.2 21.36L33.35 19.86M31.03 45.8L31.47 41.84M32.87 29.09L33.09 27.13M38.81 34.25L38.56 30.86M57.56 38.92L57.11 35.41M53.33 5.94L53.07 3.89M66.03 20.84L65.66 16.95M64.07 -0.14L63.87 -2.35M67.08 28.32L66.85 25.55M71.88 38.59L71.93 35.76M76.47 48.78L76.48 45.27M83.26 5L83.55 1.74M87.07 28.44L87.39 25.45M89.77 32.24L89.87 28.81M91.87 4.23L91.9 1.44M97.91 3.28L98.15 1.18M95.91 24.74L96.14 22.93M99.01 20.44L98.87 16.63"/>
<path id="p2b" d="M87.32 -12.56L110.5 0.55M80.59 -15.87L114.81 3.5M97.31 -3.76L113.54 6.86M79.2 -14.42L110.24 4.09M71 -17.94L106.4 7.89M97.64 2.06L128.06 24.16M74.26 -12.51L110.26 8.01M64.99 -16.11L97.47 4.75M65.91 -14.44L91.06 1.52M94.27 3.56L103.01 9.11M59.35 -18.71L85.16 -0.81M87.4 0.74L115.96 20.55M65.46 -13.8L100.18 9.45M99.11 7.42L112.61 14.87M69.58 -8.25L83.9 -0.61M99.34 7.64L124.27 20.95M49.27 -16.34L83.63 0.82M102.14 10.53L109.51 14.19M71.27 -3.41L98.93 16.23M63.65 -7.85L101.75 15.38M84.26 5.51L120.26 28.18M64.81 -6.22L95.96 13M100.38 15.72L121.12 28.51M44.12 -16.95L82.17 4.28M88.57 7.85L113.71 21.87M38.21 -23.28L73.13 1.51M80.96 7.07L111.19 28.52M66.04 -2.93L76.8 4.7M81.97 8.37L100.72 21.66M103.61 23.72L121.13 36.14M74.52 3.27L106.66 24.66M98.27 20.13L109.88 27.82M78.95 6.47L93.34 14.13M101.45 18.45L114.77 25.54M47.44 -9.39L77.48 6.57M54.1 -4.89L75.58 7.57M83.85 12.36L94.24 18.38M55.99 -4.36L81.96 14.47M82.98 15.21L94.5 23.57M98.34 26.35L131.7 50.54M63.84 2.17L81.81 11.96M84.66 13.52L118.58 32M55.8 -3.21L86.26 18.84M91.96 22.96L115.34 39.89M48.84 -6.58L65.98 5.04M30.27 -17.52L60.27 1.86M88.72 20.24L119.89 40.38M35.64 -12.36L56.8 0.59M25.92 -17L52.39 -0.67M75.07 13.33L84.05 18.87M43.62 -6.52L70.83 12.28M91.17 26.34L115.64 43.24M80.27 19.29L115.28 42.83M32.19 -11.9L60.43 7.17M65.99 11.13L73.16 14.99M30.11 -7.52L58.07 7.38M65.1 11.13L89.7 24.25M96.95 28.12L111.47 35.86M66.7 12.3L96.01 26.94M103.31 30.58L125.68 41.76M41.4 0.56L80.22 19.14M39.82 -4.05L72.13 19M76.2 21.9L97.85 37.35M29.7 -10.71L46.18 1.08M47.1 1.74L79.46 24.9M81.33 26.23L106.71 44.4M20.1 -9L51.64 7.33M54.04 8.58L82.54 23.34M85.43 24.84L96.84 30.75M66.91 16.97L85.87 29.4M88.26 30.96L99.98 38.65M35.98 -4.39L62.08 14.87M63.13 15.65L83.04 30.34M33.85 -5.04L68.68 20.06M72.93 23.12L94.37 38.58M97.37 40.73L115.59 53.87M12.05 -9.54L49.56 8.99M54.07 11.22L61.44 14.86M64.1 16.17L91.29 29.6M93.44 30.67L126.67 47.08M30.72 -0.21L38.71 3.85M86.34 28.1L105.79 38.01M71.47 22.77L106.8 45.38M67.39 20.77L93.89 37.84M98.52 40.82L131.88 62.31M52.79 13.24L63.34 19.05M23.14 -8.26L47.88 9.48M50.44 11.31L72.94 27.44M76.69 30.13L111.94 55.39M51.83 13.66L77.42 29.73M101.49 44.83L113.46 52.34M92.22 41.3L126.82 64.76M33.96 2.37L56.9 17.84M62.69 21.74L78.37 32.32M61.12 20.63L89.96 34.74M91.85 35.67L105.42 42.31M37.92 6.31L46.33 12.09M49.7 14.4L75.55 32.15M28.17 -0.02L59.41 21.68M86.79 40.7L95.64 46.84M61.19 23.32L68.89 28.46M71.33 30.1L91.66 43.67M11.26 -8.71L29.31 3.02M34.4 6.33L58.35 21.89M66.71 27.32L75.75 33.2M-8.99 -20.51L21.72 -0.97M25.86 1.67L44.23 13.35M47.64 15.52L68.35 28.7M71.97 31L90.69 42.92M94.03 45.04L118.36 60.52M35.93 8.64L71.7 31.26M28.52 7.07L59.35 23.3M64.96 26.26L100.87 45.17M103.65 46.64L132.4 61.78M29.66 8.62L51.27 19.69M58.69 23.5L92.51 40.83M101.08 45.22L117.26 53.51M49.81 19.59L72.93 31.23M17.28 2.4L51.34 21.05M53.48 22.22L70.77 31.7M86.65 40.4L120.76 59.08M12.05 -0.1L50.2 21.01M57.1 24.83L83.84 39.63M48.21 20.57L81.9 38.71M86.98 41.45L99.71 48.3M-10.92 -13.86L15.04 1.42M40.16 16.2L72.15 35.03M-0.32 -6.5L10.13 -0.49M43.8 18.9L60.19 28.34M61.98 29.37L91.31 46.27M93.97 47.8L124.02 65.1M30.48 11.35L65.02 31.98M41.9 18.28L74 39.08M25.55 7.91L58.74 29.85M65.08 34.04L81.6 44.96M85.55 47.57L101.49 58.11M30.19 11.65L67.13 35.54M68.22 36.24L87.64 48.8M15.37 2.13L51.02 25.71M57.05 29.71L72.3 39.79M24.3 7.19L50.95 26.42M53.44 28.21L67.68 38.49M72.42 41.9L89.6 54.3M19.37 4.11L25.94 8.86M33.86 14.58L51.99 27.69M6.23 1.61L26.48 13.18M32.24 16.47L68.87 37.4M-18.68 -13.61L3.92 -0.17M5.79 0.94L39.87 21.21M43.14 23.15L80.12 45.15M2.17 0.4L30.09 16.42M33.73 18.5L49.83 27.74M-15.95 -7.43L14.63 9.37M16.91 10.62L50 28.8M53.22 30.57L68.86 39.16M71.1 40.39L86.28 48.74M1.71 -0.14L29.52 16.83M79.85 47.53L107.1 64.15M-18.18 -3.18L3.02 7.1M61.09 35.22L99.31 53.74M-16.52 -10.47L8.63 5.12M50.54 31.11L63.37 39.07M3.47 1.49L34.52 21.46M41.48 25.94L64.94 41.03M68.94 43.6L81.56 51.72M-15.99 -3.6L19.23 15.19M26.57 19.1L52.56 32.97M38.95 26.9L73.43 43.91M82.16 48.21L106.52 60.23M-22.48 -4.31L9.52 12.09M10.52 12.6L48.46 32.05M72.64 44.44L95.3 56.05M-14.91 -1.34L18.68 16.65M-2.28 5.71L26.05 21.07M32.23 24.43L47.96 32.95M51.43 34.84L89.02 55.23M32.22 24.96L70.91 45.94M-17.22 -0.81L19.92 19.18M37.23 28.49L64.82 43.33M67.55 44.8L96.54 60.4M-1.91 8.3L15.6 17.62M56.38 39.32L89.12 56.74M44.76 33.88L51.91 37.9M-2.09 11.72L29.76 27.16M34.66 29.54L72.07 47.68M-18.98 2.46L8.75 16.56M14.22 19.34L39.19 32.03M55.75 40.45L70.95 48.18M-26.99 -0.06L10.55 18.46M27.72 26.93L64.02 44.84M70.79 48.18L108.68 66.88M11.88 19.34L24.15 25.52M54.35 40.71L68.84 48M19.78 20L53.01 41.72M12.12 16.12L31.24 28.32M-18.07 -3.52L1.48 9.26M7.85 13.42L21.76 22.51M-22.07 -5.53L12.42 17M15.31 18.88L51.07 42.24M54.44 45.74L63.54 51.98M-18.32 2.91L10.29 19.76M-19.66 -1.81L4.89 14.41M12.11 19.19L37.17 35.75M-18.55 -0.85L2.48 13.19M9.26 17.72L41.35 39.13M48 43.57L76.86 62.83M-23.3 -2.78L13.57 21.48M-23.43 -5.12L4.54 14.7M8.96 17.83L44.41 42.96M-24.04 -0.94L8.22 19.83M10.89 21.55L22.08 28.76M25.25 30.8L47.9 45.38M52.64 48.43L65.44 56.68M-19.26 2.85L6.02 19.06M31.33 36.89L56.95 50.69M51.75 48.33L76.39 60.74M-12.91 15.7L22.55 33.93M24.45 34.9L59.75 53.04M-3.5 13.59L3.98 18.69M11.46 23.79L27.16 34.49M-25.84 4.44L10.34 26.53M14.14 28.85L43.65 46.87M-11.23 18.99L5.11 27.42M25.45 37.91L40.19 45.51M-3.34 22.23L24.61 37.59M-29.46 4.53L0.93 22.9M36.93 44.68L54.73 55.44M6.05 27.24L17.11 33.86M20.47 35.87L47.04 51.76M-24.27 9.63L6.46 28.01M11.27 30.89L25.16 39.2M-5.67 21.93L11.09 31.71M14.21 33.52L49.28 53.98M-2 24.56L24.18 40.04M-11.22 23.84L22.19 40.99M30.56 45.28L64.67 62.78M3.79 27.58L41.25 52.21M29.99 45.37L57.73 65.47M-22.8 7.21L7.59 29.44M10.19 31.34L23.68 41.22M30.4 46.13L45.99 57.54M11.25 33.39L24.39 42.68M27.63 44.97L42.3 55.34M11.63 38.23L31.16 48.75M-26.37 8.79L5.8 31.13M-1.18 28.54L32.48 50.31M-14.34 21.38L13.8 39.17M20.95 43.69L35.22 52.71M-3.34 28.67L9.02 36.59M14.1 39.84L46.08 60.32M-10.23 27.8L28.77 49.98M-33.56 16.55L4.32 37.29M-30.01 18.96L0.77 35.87M-5.36 30.7L12.37 41.95M-13.04 24.1L3.32 35.41M-0.87 38.92L15.08 47.05M-21.09 24.45L5.69 40.67M12.89 45.03L26.19 53.08M-19.82 26.15L4.65 40.95M11.63 45.18L25.94 53.83M-11.03 34.73L19.96 51.45M9.85 46.29L36.48 60.89M-24.04 31.44L12.63 49.47M-24.7 30.99L13.79 50.35M-35.05 26.58L2.15 45.73M4.53 46.96L36.46 63.39M-30.51 18.52L2.93 42.03M8.27 45.78L22.78 55.99M-5.45 36.75L4.89 44M5.98 44.77L23.38 56.98M-19.58 36.05L3.31 48.15M2.14 45.04L30.16 63.14M3.46 45.92L39.75 70.05M-0.88 42.62L15.55 54.36M-12.64 41L6.59 52.1M-3.77 48.15L13.61 58.8M-24.04 9.73L5.25 -5.92M-2.89 -0.61L28.06 -17.61M-10.01 10.66L11.05 -3.65M-30.39 24.65L4.14 1.43M-39.13 21.34L0.45 0.95M2.46 2.49L19.11 -7.09M-4.37 10.19L24.65 -9.37M-1.36 8.55L16.18 -3.13M-34.61 22.47L1.65 3.44M2.85 2.81L15.21 -3.68M-2.56 7.34L18.68 -4.6M4.02 5.7L11.09 1.32M-21.72 22.75L4.69 6.11M11.68 1.71L39.78 -15.99M-19.67 17.31L1.68 6.19M4.85 4.54L24.45 -5.68M2.46 6.14L40.53 -13.55M-8.46 12.54L15.89 -0.22M0.05 11.71L23.78 -2.61M-12.87 19.5L7.21 7.63M9.51 6.27L40.93 -12.29M-6.54 15.23L13.03 4.47M16.14 5.92L29.43 -3.03M-29.71 29.93L3.92 11.89M0.28 14.39L18.18 4.74M5.61 15.1L36.88 -3.78M-13.87 29.04L9.46 14.33M-24.02 36.39L3.82 18.7M-14.02 32.27L22.91 8.17M-27.83 40.97L0.83 22.62M4.4 20.34L37.48 -0.84M12.13 15.17L47.15 -6.2M11.3 14.69L38.9 -0.02M10.36 16.48L39.56 0.01M-0.82 29.06L18.26 15.79M21.15 13.78L40.86 0.07M-29.2 34.74L8.93 16.55M-2.71 27.71L34.81 6.47M48.84 -0.77L74.67 -16.1M-20.06 44.57L16.79 21.15M18.31 20.19L42.81 4.62M50.21 -0.09L67.86 -11.31M37.91 8.19L66.54 -9.77M-11.44 33.29L13.56 20.85M53.03 1.23L91.24 -17.78M-5.18 32.06L14.21 21.87M17.54 20.12L50.33 2.9M51.72 2.17L83.8 -14.68M-25.24 44.37L2.4 29.32M-13.15 37.17L15.14 22.53M20.48 19.76L41.65 8.81M42.64 8.29L60.14 -0.76M22.71 19.27L43.72 8.25M29.74 16.48L59.83 0.28M-22.94 44.23L15.76 24.29M32.58 15.63L45.78 8.83M51.35 5.96L87.85 -12.84M-23.51 44.47L-0.41 32.74M2.22 31.41L28.07 18.28M0.81 34.07L34.39 16.19M40.32 13.85L67.94 -2.92M-18.34 46.37L7.97 32.01M12.94 29.29L25.98 22.17M-21.68 46.16L4.92 32.95M40 15.52L60.13 5.53M66.11 2.56L100.04 -14.29M31.72 19.92L62.33 5.15M67.94 2.44L79.17 -2.97M34.52 18.97L67.83 3.14M76.42 -0.95L84.04 -4.57M10.77 33.2L24.35 25.89M-15.16 55.62L21.28 31.48M24.04 29.65L35.73 21.9M44.61 16.59L55.68 9.19M63.79 3.77L84.67 -10.18M-17.58 58.15L-0.54 46.91M5.53 42.91L35.39 23.21M37.28 21.97L62.24 5.5M65.38 3.42L95.87 -16.68M51.44 13.25L88.59 -10.89M2.42 38.43L28.99 25.6M55.48 12.81L92.45 -5.05M-10.92 57.52L1.99 48.7M9.5 43.57L22.9 34.41M25.32 32.75L50.2 15.75M74.01 -0.53L110.55 -25.5M24.62 33.78L56.23 12.91M57.5 12.07L86.34 -6.97M-14.66 59.84L22.4 35.67M24.02 34.62L50.6 17.28M54.41 14.8L73.33 2.46M-14.39 60.04L10.62 43.84M70.94 4.74L84.28 -3.9M80.43 1.08L91.9 -5.79M-11.38 59.7L24.07 36.94M64.5 10.97L71.36 6.57M-13.73 62.1L7.73 48.22M48.1 22.13L77.63 3.04M78.55 2.45L100.62 -11.83M-14.27 56.31L-0.72 48.98M24.46 35.37L53.84 20.1M61.21 16.27L100.01 -3.89M-15.51 57.87L3.91 47.57M39.99 28.43L71.12 11.92M75.51 9.58L89.06 2.4M-16.83 55.2L13.58 40.95M14.69 40.44L40.26 28.45M83.79 8.06L105.12 -1.93M-16.15 55.72L14.54 41.21M45.1 26.76L68.15 15.86M74.52 12.85L109.93 -3.9M-14.61 67.46L17.48 46.46M37.52 33.34L50.04 25.15M57.45 20.3L80.83 4.99M9.89 52.79L20.45 45.68M43.55 30.13L77.83 7.04M83.52 3.21L100.07 -7.94M14.27 49.03L28.28 40.11M66.19 15.99L101.65 -6.58M-13.91 63.65L23.77 41.97M30.26 38.24L49.87 26.96M57.92 22.33L91.32 3.11M36.62 33.71L71.25 17.13M74.38 15.64L107.87 -0.4M-13.71 59.2L14.15 46.15M15.57 45.48L38.83 34.58M42.17 33.01L59.2 25.03M57.88 26.12L67.65 21.05M75.09 17.19L95.14 6.79M-8.7 61.78L23.56 44.88M30.91 41.03L63.95 23.72M71.12 19.97L102.72 3.42M45.23 35.13L65.6 22.82M85.01 11.29L99.77 2.22M102.91 0.28L111.14 -4.78M28.12 46.58L52.85 31.52M55.02 31.1L79.5 16.69M79.08 18.9L115.72 -0.48M23.54 48.24L44.91 37.26M90.41 11.9L125.67 -8.99M101.04 4.2L119.5 -7.56M25.75 50.15L41.44 41.58M28.43 51.46L63.05 30.49M64.27 29.75L98.16 9.24M100.93 7.56L129 -9.43M37 47L63.4 30.76M67.17 28.44L102.52 6.71M64.49 32.64L104.95 13.68M91.75 20.81L122.78 6.6M60.13 35.86L67.59 32.44M36.31 51.59L53.12 40.99M59.02 37.26L94.45 14.92M99.1 11.98L136.65 -11.69M63.66 35.34L76.9 28.89M62.19 36.27L72.72 30.55M22.22 59.1L47.11 45.25M49.15 44.11L77.83 28.14M80.93 26.42L95.44 18.34M98.56 16.6L129.86 -0.82M72.89 31.96L111.58 10.83M73.95 30.22L80.57 25.54M27.74 62.15L59.26 41.03M67.51 35.49L100.28 13.54M76.69 29.8L109.38 7.49M55.28 43.73L67.63 37.87M35.76 53.09L58.64 42.55M60.06 41.89L81.46 32.03M85.24 30.28L100.79 23.11M22.14 62.1L47.72 48.97M51.4 47.08L75.12 34.91M47.97 52.31L59.77 44.1M63.3 41.65L99.49 16.46M50.05 50.19L64.1 42.43M65.85 41.47L81.36 32.91M83.73 31.6L107.39 18.54M36.75 58.24L64.24 42.84M66.39 41.63L75 36.81M51.73 51.72L87.49 27.6M93.24 23.72L116.91 7.75M24.74 65.35L60.7 46.21M27.37 64.12L66.43 43.65M71.2 41.16L84.35 34.26M68.26 43.47L98.52 24.04M102.41 21.54L137.2 -0.81M64.61 47.23L87.75 31.41M48.64 58.34L68.04 45.48M102.26 22.79L136.81 -0.11M59.02 52.03L76.96 40.24M83.4 36.02L93.7 29.26M39.64 61.5L66.18 48.36M61.95 51.25L99.58 32.3M70.89 46.75L79.99 40.84M87.77 35.79L116.52 17.13M50.45 60.65L73.5 45.78M74.55 45.67L85.1 38.75M87.3 37.31L94.7 32.45M100.77 28.47L124.47 12.91M53.84 59.33L89.35 38.04M96.83 33.55L114.42 23M78.34 45.12L114.02 23.63M73.7 48.38L106.47 28.4M56.94 58.03L93.96 39.85M101.84 35.97L132.59 20.86M70.65 51.99L89.9 39.66M97.85 34.57L126.14 16.45M72.53 51.94L92.88 39.08M88.6 41.58L120.4 20.03M70.42 54.86L107.42 29.46M74.95 53.17L93.94 42.61M81.53 49.54L108.07 33.07M71.05 57.71L102.12 36.93M69.62 59.69L86.52 48.99M87.93 48.1L122.52 26.19M61.52 65.28L95.87 44.05M100.89 40.95L111.81 34.2M73.95 58.56L106.06 37.55M84.76 56.3L100.1 48.09M89.86 51.28L109.8 37.36M87.4 54.34L123.88 29.95M84.87 57.58L106.54 44.17M96.7 50.74L123.51 34.13M74.54 65.11L108.73 46.44M89.17 56.47L107.44 45.11M101.69 52.62L114.82 45.9M100.86 53.68L114.6 46.11M67.82 -0.72L77.61 -0.57M80.76 -0.52L96.19 -0.27M45.04 -0.7L59.5 -0.44M95.47 0.23L105.22 0.41M28.39 -0.67L31.46 -0.61M4.18 -0.83L9.71 -0.7M40.33 0.02L48.51 0.22M54.21 0.35L70.04 0.72M1.73 2.1L10.7 2.01M31.77 1.78L40.63 1.69M48.31 1.61L55.3 1.53M12.03 1.75L18.53 1.79M47.83 1.99L60.48 2.08M77.89 2.2L82.33 2.23M86.53 2.26L101.83 2.36M-6.34 2.42L7.57 2.43M14.43 2.44L29.73 2.45M50.61 2.46L56.84 2.46M0.76 3.49L8 3.59M70.38 4.46L79.22 4.58M94.32 4.79L100.25 4.87M-7.6 6.2L2.8 6.11M6.11 6.07L11.81 6.02M17.97 5.96L31.04 5.84M45.02 5.71L50.11 5.66M84.7 5.34L90.01 5.29M2.63 8.3L14.61 8.04M52.71 7.22L62.58 7.01M69.31 6.86L76.71 6.7M57.99 8.11L71.08 8.27M98.49 8.6L112.14 8.76M-5.78 7.88L0.8 7.95M19.04 8.17L33.02 8.34M67.64 8.75L78.18 8.88M23.98 10.64L28.61 10.49M48.31 9.85L51.65 9.74M28.43 10.82L38.77 10.76M-5.41 11.57L8.5 11.47M28.56 11.34L36.56 11.28M56.11 11.15L64.98 11.09M74.66 11.02L87.2 10.94M-2.29 12.24L12.99 12.07M77.26 11.39L92.81 11.22M21.37 14.41L26.74 14.22M38.97 13.78L50.67 13.37M99.04 11.66L105 11.45M20.85 15.77L35.83 15.57M54.98 15.32L70.24 15.12M1.18 17.78L13.72 17.45M67.68 16.05L73.55 15.9M100.59 15.2L108.05 15.01M32.81 17.88L42.05 18.01M54.98 18.19L64.07 18.32M92.71 18.71L99.86 18.81M8.1 18.81L21.76 18.77M38.26 18.71L51.72 18.66M65.56 18.62L72.86 18.59M5.05 20.37L17.76 20.05M46.73 19.33L52.79 19.18M62.03 18.95L76 18.6M95.9 18.1L106.05 17.85M58.01 20.75L63.95 20.63M70.62 20.49L82.71 20.25M87.92 20.14L92.55 20.05M22.33 22.24L34.58 21.84M50.47 21.33L59.03 21.05M90.5 20.03L100.47 19.7M11.11 22.85L15.91 22.72M24.88 22.46L32.87 22.24M45.27 21.88L56.18 21.58M62.63 21.39L77.21 20.98M23.3 24.58L36.95 24.17M64.77 23.33L76.77 22.97M35.77 24.57L42.83 24.38M59.01 23.92L65.53 23.74M89 23.08L100.53 22.75M-2.55 26.28L2.33 26.12M47.19 24.67L53.23 24.48M-2.06 26.2L3.8 26.18M0.99 27.12L16.58 26.92M35.3 26.68L51.14 26.48M67.42 26.27L80.05 26.11M88.13 26.01L100.27 25.86M4.27 26.55L19.03 26.95M40.86 27.54L52.54 27.86M67.65 28.27L73.37 28.43M76.53 28.51L86.9 28.79M12.88 29.05L23.93 28.84M41.67 28.51L53.71 28.29M65.8 28.06L70.51 27.97M25.62 29.18L30.19 29.13M36.8 29.04L43.67 28.96M78.7 28.51L92.83 28.33M30.86 30.81L36 30.79M53.78 30.74L58.76 30.72M19.71 31.49L33.33 31.4M48.09 31.31L58.81 31.24M-7.11 29.57L5.58 30.03M47.62 31.55L61.22 32.04M67.39 32.26L83.3 32.84M89.39 33.06L105.24 33.64M32.54 31.52L45.72 32.02M65.34 32.76L78.55 33.26M13.99 31.37L17.37 31.5M25.74 31.82L38.44 32.29M55.98 32.95L60.36 33.11M67.18 33.37L70.61 33.5M60.09 33.63L65.29 33.78M101.31 34.82L114.29 35.2M53.71 34.76L64.53 34.72M73.76 34.69L84.59 34.65M88.74 34.64L92.57 34.62M16.6 35.07L26.83 35.11M39.88 35.15L54.08 35.2M79.37 37.95L92.49 38.37M1.25 38.36L14.5 38.47M51.39 38.77L59.3 38.84M67.65 38.91L79.52 39.01M-5.39 42.58L5 42.22M40.08 41.02L44.22 40.87M51.68 40.62L63.52 40.21M76.55 39.77L91.95 39.24M102.34 38.88L105.74 38.77M-13.73 41.11L1.63 41.46M5.88 41.55L12.49 41.7M23.16 41.95L33.81 42.19M66.39 42.94L73.79 43.1M84.55 43.35L90.16 43.48M24.4 44.27L28.04 44.31M44.72 44.51L48.89 44.56M98.2 45.15L110.16 45.29M20.93 45.42L28.31 45.42M46.51 45.4L61.65 45.38M68.09 45.38L74.42 45.37M54.38 47.15L60.83 47.03M71.8 46.82L76.09 46.74M80.8 46.65L93.63 46.41M101.88 46.25L112.77 46.04M5.12 49.22L15.86 48.94M28.25 48.62L32.67 48.51M63 47.72L74.53 47.42M78.32 47.32L86.5 47.11M38.61 48.95L50.61 48.47M55.43 48.28L63.79 47.94M67.3 47.8L82.4 47.2M85.69 47.07L90.73 46.87M-13.63 47.35L1.63 47.92M-0.83 25.65L-1.13 22.49M3.26 49.54L3.2 46.43M7.42 46.03L7.28 42.83M6.74 30.22L6.63 27.76M5.47 1.01L5.34 -2.18M7.36 38.94L7.27 36.13M6.34 7.58L6.29 5.87M8.27 11.43L8.45 9.2M13.01 35.66L13.07 32.74M14.03 11.36L14.09 8.74M19 46.34L19.15 43.79M19.72 33.94L19.87 31.44M21.41 5.16L21.56 2.48M23.98 24.2L23.7 21.24M23.08 14.91L22.8 11.95M30.36 26.65L30.17 24.02M29.86 19.82L29.75 18.29M29.21 10.77L29.02 8.08M32.56 48.61L32.28 45.16M31.17 41.56L31.51 38.18M35.72 3.18L36.05 0.24M40.06 51.8L39.79 47.95M37.49 15.91L37.3 13.21M38.37 21.76L38.37 19.94M38.36 6.82L38.36 3.5M43.79 33.36L43.86 31.39M44.71 4.09L44.82 0.51M52.57 49.7L52.38 47.1M51.47 34.71L51.21 31.08M49.1 2.24L48.9 -0.58M55.33 30.45L55.12 28.44M53.35 11.1L52.97 7.39M62.57 45.86L62.49 43.66M61.68 19.93L61.55 16.2M68.49 47.36L68.22 44.39M65.43 8.24L65.28 6.47M72.07 28.14L72.14 24.44M76.22 51.02L76.2 48.27M76.15 39.43L76.15 37.85M76.1 30.03L76.09 26.55M75.98 7.12L75.97 4.01M76.57 10.11L76.58 6.4M80.87 26.03L81.08 23.63M81.49 18.98L81.64 17.24M82.08 18.27L82.3 15.84M80.33 43.91L80.66 40.27M85.21 45.65L85.42 43.75M86.14 37.09L86.31 35.46M87.91 20.61L88.18 18.13M89.83 2.85L90.05 0.81M86.5 37.13L86.83 34.26M89.13 14.25L89.35 12.32M89.39 45.33L89.49 41.7M90.47 7.88L90.53 6.01M91.55 31.72L91.58 28.56M91.85 33.61L91.91 30.61M92.09 22.01L92.14 19.32M92.26 13.39L92.3 11.82M92.5 1.72L92.58 -2.09M93.11 46.08L93.38 43.67M96.45 16.26L96.77 13.48M96.72 18.23L97.07 15.48M97.74 10.12L98.17 6.67M96.33 24.74L96.77 21.08M99.42 31.71L99.3 28.6M98.47 5.66L98.37 3"/>
<path id="p2c" d="M76.13 -14.82L114.28 4.45M99.59 0.63L112.67 7.93M60.46 -14.83L96.21 4.26M85.69 0.35L98.27 7.07M72.53 -4.15L93.84 6.42M43.55 -16.24L73.7 3.14M63.11 -3.17L95.28 18.14M46.02 -10.06L79.38 9.34M68.9 7.01L82.52 16.25M83.97 17.23L108.2 33.66M73.24 15.03L108.71 38.46M17.19 -15.14L45.28 -0.01M30.67 -2.89L62.58 17.67M76.53 27.4L105.65 46.43M64.85 19.88L86.48 31.81M21.87 -4.7L34.48 3.95M93.01 44.57L118.95 61.9M83.46 38.21L114.03 58.07M14.17 -5.12L31.28 5.71M29.01 9.12L43.14 16.23M88.78 42.36L110.14 54.18M16.28 3.06L40.13 16.79M72.58 36.49L110.88 59.37M77.23 41.17L102.28 57.4M-7.55 -13.97L18.14 3.01M77.34 42.24L106.15 58.71M10.25 6.13L42.63 26.21M-6.17 4.64L31.5 23.22M66.95 42.49L86.72 53.08M19.16 19.51L53.72 37.9M7.54 12.93L16.74 18.1M17.72 18.66L39.92 31.15M58.15 41.42L87.92 58.18M41.82 33.37L51.85 38.47M-25.34 0.62L7.84 17.31M-9.19 1.06L14.73 16.7M37.62 32.39L61.64 47.72M-3.22 11.95L34.79 33.77M58.39 47.31L78.7 58.97M13.69 23.98L24.77 31.09M28.33 33.37L65.77 57.38M-6.34 16.59L29.06 35.67M-28.36 8.02L4.44 24.53M6.11 20.96L22.41 31.94M26.61 34.77L38.94 43.08M10.3 30.1L22.87 36.58M28.37 41.12L59.93 60M26.34 41.32L63.56 63.34M-2.46 21.85L25.41 42.05M-21.8 10.03L9.77 32.35M11.38 35L39.42 54.47M5.25 37.8L31.48 52.17M4.33 37.83L11.7 41.88M16.78 44.67L52.17 64.11M11.08 40.78L29.77 53.7M-33.17 25.44L3.08 44.96M-14.79 33.48L21.06 58.92M-8.64 7.18L5.77 -2.33M-12.65 15.9L18.18 -2.08M-4.89 17.26L9.22 9.78M7.94 14.09L19.1 6.92M7.41 16.42L41.59 -5.3M19.05 6.8L53.96 -9.77M28.39 4.59L44.37 -5.83M-30.78 37.11L6.35 17.33M15.29 13.52L40.39 1.54M15.28 16.91L48.37 -1.74M36.13 5.72L48.21 -1.12M-20.46 40.34L4.6 25.47M7.25 23.9L41.27 3.72M9.22 25.6L48.4 4.27M-2.73 32.62L16.04 22.77M-8.8 37.23L10.34 26.93M19.86 22.18L28.4 17.78M35.54 14.49L48.47 7.93M-5.21 37.85L29.11 21.54M46.95 18.62L74.23 0.28M32.33 31.63L62.21 12.44M77.55 2.59L90.64 -5.81M24.89 42.69L41.52 31.49M35.8 35.33L52.5 24.7M95.07 0.96L114.62 -10.29M11.81 48.51L31.73 38.06M36.8 35.4L51.61 27.64M85.64 9.78L103.66 0.33M61.66 23.88L98.53 6.6M25.95 42.69L53.63 28.33M14.8 53.53L42.28 36.92M68.32 21.18L91.05 7.44M47 35.87L76.38 20.33M19.86 55.9L43.97 40.55M75.43 23.97L99.34 8.88M50.2 39.83L88.91 22.11M37.58 48.04L61.91 36.19M27.49 57.36L64.84 36.96M51.57 46.04L67.5 34.78M84.92 33.57L100.87 23.54M69.2 46.87L85.66 38.72M45.31 64.86L73.22 46.55M72.08 51.58L106.58 29.35M100.25 34.43L118.45 22.93M89.31 48L120.35 33.07M86.96 47.75L109.51 32.86M67.76 64.84L103.49 45.56M77.68 0.36L93.63 0.69M27.56 -0.28L30.99 -0.2M76.04 0.86L91.61 1.23M69.95 1.38L84.39 1.22M2.14 1.68L6.51 1.71M78.66 2.48L92.18 2.49M21.61 3.78L24.78 3.83M2.02 7.44L17.07 7.62M36.81 7.86L49.94 8.02M75.56 8.32L82.23 8.4M49.32 8.53L61.63 8.68M78.36 8.87L85.07 8.66M20.82 11.99L31.45 11.88M34.72 11.84L44.28 11.74M57.54 11.6L70.3 11.46M9.88 17.56L19.05 17.69M38.53 19.53L43.59 19.41M91.92 20.56L107.2 20.13M10.64 24.96L19.56 24.69M55.9 23.6L59.71 23.48M92.36 22.5L107.28 22.05M13.22 25.77L16.95 25.65M31.81 25.17L36.23 25.03M65.52 26.04L80.57 26M101.14 25.95L108.24 25.94M86.88 27.67L96.68 27.48M50.9 28.86L66.25 28.67M3.56 30.9L12.79 30.87M7.86 30.59L14.83 30.85M30.75 32.79L38.34 33.01M100.14 34.6L103.59 34.58M70.9 35.27L85.16 35.32M29.17 36.37L43.61 36.82M98.44 39.16L113.77 39.29M8.16 42.11L21.37 41.66M49.28 42.54L55.01 42.68M102.42 43.76L114.36 44.03M35.12 42.95L48.88 43.09M86.58 43.47L96.73 43.58M-9.19 48.36L5.5 48.08M30.11 18.43L29.98 16.77M57.55 52.12L57.15 48.18M60.98 -0.36L60.86 -3.98M68.53 45.8L68.32 43.3M76.51 32.3L76.51 30.75M81.16 28.6L81.46 25.27M82.93 14.58L83.14 12.17"/>
<path id="p2l" d="M87.66 1.81L120.25 18.87M58.93 -10.45L79.92 2.78M42.43 -12.96L73.25 3.44M61.15 2.43L87.47 19.43M65.27 6.74L87.77 21.3M41.33 -0.36L59.04 8.48M102.52 40.68L132.66 62.19M42.89 5.98L82.69 26.25M22.84 20.75L33.17 26.31M34.99 32.41L52.59 44.47M-14.93 16.83L9.44 32.34M16.27 36.69L30.37 45.66M-16.71 39.48L16.19 58.21M-4.96 43.09L17.8 59.28M14.53 6.96L53.29 -13.6M-28.34 39.87L3.78 20.26M64.54 0.13L85.56 -11.07M18.97 38.42L37.16 26.64M21.09 36.61L46.29 21.52M54.71 23.29L62.68 18.22M16.62 53.33L49.84 32.91M51.71 34.83L83.81 15.81M46.28 38.93L65.1 28.65M73.55 41.82L94.1 28.2M50.41 67.46L84.42 44.41M101.94 2.49L105.62 2.49M96.88 6.27L104.94 6.09M70.24 18.4L75.42 18.47M65.81 24.07L73.78 23.82M82.22 30.64L97.83 30.59M79.34 34.19L91.41 34.54M40.29 34.81L43.72 34.8M-10.56 34.97L2.64 35.02M61.56 37.39L69.95 37.66M-5.23 43.91L9.37 44.09M24.3 32.51L24.1 30.51M38.39 40.32L38.38 37.55M98.96 3.21L99.25 0.83"/>
<path id="p2e" d="M96.5 -3.86L128.42 18.02M76.04 -14.48L113.26 4.93M72.25 -13.74L109.96 8.08M65.05 -10.37L102.68 12.24M46.1 -13.21L81.46 8.7M85.41 11.15L116.96 30.7M48.8 -9.28L72.13 7.32M73.92 8.59L86.12 17.27M100.12 20.8L133.56 37.95M50.11 -3.93L57.32 0.79M63.63 4.91L91.45 23.1M38.76 -6.36L60.56 4.63M72.66 14.08L106.31 34.38M59.54 6.62L81.71 20.02M54.46 4.12L92.4 26.38M98.62 30.03L131.95 49.59M84.89 24.52L115.2 44.91M79.07 21.74L114.18 45.59M30.32 -8.93L55.8 8.15M59.97 10.94L88.57 30.12M30.1 -4.33L40.82 2.51M57.18 12.95L86.73 31.82M9.27 -19.7L36.29 -0.59M89.98 37.58L115.23 55.13M27.77 -0.3L62.45 19.65M68.46 23.1L102.82 42.86M94.07 42.74L115.11 56.53M-10.05 -15.32L23.14 2.83M83.34 39.96L116.49 60.15M24.9 7.33L62.41 27.74M92.66 44.2L124.36 61.44M-10.38 -19.24L18.65 0.56M23.78 4.06L50.29 22.14M78.32 41.26L113.7 65.39M-8.54 -14.4L12.95 -0.35M27.59 9.22L42.69 19.09M46.67 21.7L74.83 40.1M82.63 44.49L90.02 48.96M-17.68 -10.42L10.97 5.33M44.07 24.36L56.9 31.33M3 6.03L27.17 17.92M34.62 20.18L66.64 41.88M46.04 28.36L60.69 38.33M60.05 38.23L96.1 62.25M-13.84 -7.67L15.17 10.91M15.57 15.34L41.78 29.29M77.52 48.3L113.56 67.48M-19.34 -2.75L4.26 10.52M10.67 14.12L21 19.93M-10.1 3.65L8.22 13.75M19.09 18.64L52.6 39.7M57.84 42.99L77.26 55.2M5.65 13.96L22.05 23.55M38.9 33.41L71.23 52.31M18.06 20.75L53.37 43.13M0.37 9.38L23.94 24.71M39.41 36.87L67.87 53.99M17.59 27.81L36.19 39.5M43.13 43.86L50.94 48.77M13.34 25.44L20.75 30.19M25.09 32.97L40.33 42.74M48.39 47.43L58.63 52.85M0.71 21.17L22.19 33.45M-23.35 4.76L7.85 24.14M28.37 36.88L37.51 42.56M14.07 28.77L31.93 39.73M40.61 45.96L50.6 52.34M1.7 25.41L36.83 46.27M36.9 48.7L55.48 61.97M15.18 33.54L43.42 54.06M13.79 35.22L27.8 44.12M29.72 45.35L50.94 58.84M-8.53 18.47L6.05 29.15M11.1 32.85L26.02 43.78M-3.66 23.78L10.22 33.55M1.76 28.61L24.57 44.91M1.96 36.14L38.27 56.89M13.74 40.43L49.19 65.8M-1.71 30.26L14.74 41.85M17.99 47.96L47.23 64.42M3.75 43.43L14.87 50.72M-32.32 19.8L1.02 42M-12.81 41.05L25.11 61.32M-2.93 43.79L29.67 66.88M-4.79 48.66L22.14 63.24M-6.1 48.61L27.88 67.61M-18.22 19L-0.5 7.03M5.99 1.37L33.99 -15.52M5.82 5.37L40.25 -15.06M-20.09 21.46L7.76 8.31M-15.4 19.81L20.18 2.92M25.91 1.31L40.48 -6.7M8.34 10.88L21.13 4.4M28.34 4.44L46.25 -7.72M-11.27 28.22L9.93 16.51M36.7 5L51.7 -1.96M-24.34 38.76L1.63 24.65M-5.99 36.82L14.51 23.03M33.71 9.58L69.8 -7.91M-5.57 29.09L19.84 16.77M26.44 13.57L61.46 -3.42M-22.2 37.81L12.49 20.88M29.34 15.75L66.09 -7.47M37.23 13.17L65.05 -6.02M-9.15 36.82L26.06 18.99M-11.58 39.08L19.15 24.34M56.8 6.28L76.69 -3.26M-17.01 52.71L-0.32 41.92M6.29 37.65L18.13 30M59.61 5.99L96.07 -12.75M-17.67 57.27L5.19 41.97M61.1 7.94L92.55 -10.12M-16.79 52.61L13.19 35.63M-15.88 55.56L14.65 37.22M21.54 33.09L47.34 17.59M53.79 13.72L72.63 2.41M-18.06 58.48L13.37 39.29M15.29 38.11L42.73 21.36M19.28 35.6L55 15.91M20.52 35.47L52.37 18.68M-15.76 58.13L9.44 44.2M31.89 31.79L61.88 15.22M63.89 14.1L73.11 9.01M75.16 7.88L88.32 0.6M48.98 23.9L70.79 12.84M55.71 21.88L71.92 12.81M-17.7 63.35L14.98 45.11M-8.35 65.09L16.63 48.52M60.02 19.73L95.74 -3.96M-2.21 53.89L28.94 37.94M61.82 21.1L94.07 4.57M75.09 14.62L104.07 -1.09M88.34 7.74L99.97 1.35M11.88 50.61L30.76 41.5M55.64 29.5L88.25 13.76M58.01 28.97L95.71 10.88M19.84 48.2L46.86 34.99M51.66 34.2L80 15.66M28.95 49.83L41.72 42.69M48.79 41.29L80.79 25.42M86.7 22.48L102.72 14.53M20.71 63.89L55.89 41.64M102.33 13.71L126.28 -0.84M34.06 57.35L64.71 38.64M85.92 25.7L118.54 5.79M48.43 52.45L60.29 44.2M98.23 17.81L109.51 9.96M30.51 62.53L57.65 47.39M63 44.4L94.18 26.99M62.75 45.13L83.56 33.65M85.69 32.26L120.37 10.62M101.46 26.43L113.29 19.71M63.9 50.27L87.25 37.06M91.62 34.59L123.55 16.55M45.51 62.48L74.84 45.96M36.71 65.61L71.55 48.76M76.14 46.54L115.94 27.3M56.17 56.62L95.36 37.77M103.56 33.82L134.53 18.93M71.03 57.51L101.54 37.18M72.46 57.4L93.21 44.02M96.99 41.58L126.55 22.53M98.18 45.93L117.28 35.8M71.27 64.22L101.69 43.44M96.22 49.81L113.96 37.37M97.84 52.82L111.14 44.79M-6.65 2.02L8.01 1.66M14.62 1.45L28.27 1.29M72 2.14L78.1 2.22M87.13 2.35L92.27 2.42M30.13 1.74L42.54 2.04M78.12 2.89L87.56 3.12M-0.39 4.25L7.06 4.38M66.15 6.29L80.86 6.32M7.79 6.82L21.46 6.84M48.13 6.89L61.57 6.91M52.46 7.42L61.56 7.41M72.04 7.39L83.43 7.37M4.4 9.17L16.29 8.98M27.56 8.63L34.02 8.66M41.92 8.69L48.38 8.71M-5.36 14.27L0.86 14.27M9.64 14.28L20.66 14.28M37.82 14.29L51.18 14.29M14.65 15.14L22.92 15.06M59.32 14.67L66.89 14.59M83.78 14.41L94.4 14.29M-7.79 17.39L-0.1 17.56M25 18.14L36.96 18.41M1.11 20.44L12.48 20.63M60.51 21.44L74.18 21.66M90.75 24.22L96.46 24.16M100.73 24.11L115.07 23.96M83.8 24.86L99.4 24.81M25.96 27.78L32.03 27.54M53.65 26.66L68.28 26.07M15.17 28.39L19.89 28.23M48.16 27.27L62.47 26.78M1.78 31.61L16.55 31.43M0.48 33.45L14.41 33.42M49.26 33.35L53.48 33.35M99.17 33.26L114.52 33.23M4.61 37.4L19.46 37.23M29.78 37.11L37.27 37.03M103 36.28L114.66 36.15M54.63 37.57L64.67 37.24M67.75 37.14L81.82 36.69M96.86 36.2L112.41 35.69M14.95 38.98L26.59 39.05M32.71 41.99L44.19 42.17M74.81 42.64L81.03 42.74M12.22 45.25L17.64 45.21M27.34 47.5L38.5 47.2M2.64 51.81L2.81 47.83M3.98 29.33L4.09 27.16M5.12 7.5L5.28 4.44M16.62 34.97L16.39 33.01M15.85 23.85L15.36 19.92M20.15 39.11L20.14 35.14M20.59 25.58L20.56 21.84M20.49 12.02L20.46 8.21M32.95 17.28L33.13 14.97M34.26 0.9L34.57 -3.07M31.18 45.97L31.47 42.21M33.13 26.55L33.21 24.62M33.65 26.14L33.71 23.6M33.07 50.2L33.22 46.51M40.25 16.01L40.35 14.31M48.67 20.27L48.61 17.82M54.76 43.93L54.52 40.76M52.75 17.2L52.6 15.16M72.68 8.72L72.53 5.77M96.2 37.87L96.4 35.39M99.76 4.13L99.98 1.8M96.1 49.33L96.42 45.9M80.7 -13.92L116.31 7.32M98.51 -2.58L111.33 4.92M96.48 1.23L121 18.48M101.36 2.36L136.15 22.33M79.61 -6.44L92.32 2.21M94.75 3.86L125.05 24.47M90.6 -0.46L119.95 14.78M94.23 3.06L126.88 21.4M85.22 -1.24L100.67 6.51M80.66 -2.05L112.32 16.9M81.58 -1.09L113.9 18.08M57.76 -14.44L79.77 0.83M81.3 1.89L93.91 10.64M65.16 -7.87L82.84 3.46M89.61 7.8L120 27.27M76.02 -1.02L106.38 16.01M84.5 6.76L100.08 17.6M51.59 -11.26L89.77 8.24M92.92 9.85L126.85 27.18M54.37 -10.48L86.01 8.87M67.72 -1.82L90 12.35M96.02 16.18L128.96 37.13M87.48 9.45L102.65 17.56M38.97 -18.17L74.24 6.63M75.19 7.3L106.28 29.16M43.5 -13.56L75.32 8.83M76.48 9.65L97.7 24.58M102.36 27.86L111.58 34.35M91.3 20.94L114.36 37.35M53.02 -3.36L68.25 4.45M98.07 24.74L128.93 43.66M54.29 -1.75L84.33 17.8M91.9 22.73L119.64 40.78M94.02 24.78L122 43.07M68.62 8.69L82.07 15.47M89.29 19.11L109.72 29.41M47.77 -1.36L66.17 7.98M69.34 9.59L93.23 21.72M98.5 24.39L115.04 32.79M37.74 -6.31L49.11 -0.37M56.61 3.55L93.31 22.75M100.27 26.39L133.89 43.97M34.44 -8.97L68.42 11.52M15.18 -20.2L51.32 1.65M83.56 21.15L104.28 33.67M29.23 -10.68L47.62 0.11M32.12 -10.97L56.62 5.51M61.2 8.58L76.72 19.03M27.22 -13.36L50.89 2.28M91.02 28.78L123.32 50.11M40.55 -4.42L74.25 18.47M33.93 -5.78L49.33 3.28M51.99 4.84L87.47 25.7M89.5 26.9L112.78 40.58M94.99 34.42L128.24 56.72M30.36 -3.19L43.66 3.32M44.78 3.87L57.27 9.97M64.08 13.3L101.14 31.42M60.86 13.84L90.93 32.23M99.39 37.4L116.87 48.1M42.06 3.3L53.12 10.36M94.55 36.81L110.45 46.96M43.21 4.31L61.18 17.01M81.15 31.13L116.73 56.3M32.75 -2.2L61.78 17.97M65.31 20.43L85.11 34.2M21.9 -4.56L41.39 8.22M28.96 0.64L44.87 11.09M63.06 23.04L99.66 47.09M101.24 48.13L116.19 57.95M23.27 -0.51L57.63 19.84M60.48 21.53L77.82 31.8M86.13 36.72L117.78 55.47M-10.22 -19.48L27.13 2.4M28.68 3.31L65.94 25.14M69.08 26.98L92.63 40.78M96.39 42.99L105.9 48.56M27.98 5.48L65.26 25.87M101.91 45.91L135.97 64.54M-7.67 -16.36L25.18 3.79M32.01 7.99L41.97 14.1M46.72 17.01L77.57 35.95M82.81 39.16L115.18 59.02M18 0.17L37.74 12.19M58.17 27.52L74.44 38.61M17.76 2.79L25.59 7.91M81.69 44.59L105.81 60.35M31.75 13.68L61.44 31.66M63.04 32.63L78.88 42.22M10.94 6.34L37.24 19.18M76.87 38.53L99.8 49.72M16.96 8.62L31.46 16.59M37.43 19.87L58.69 31.56M66.88 36.06L76.19 41.18M81.97 44.36L114.66 62.33M-17.28 -8.97L4.2 2.7M5.83 3.58L36.79 20.4M64.36 35.39L74.85 41.08M75.77 41.58L113.82 62.26M29.5 19.06L51.29 29.78M52.34 30.29L78.38 43.09M82.62 45.18L95.5 51.51M5.72 0.59L30.96 17.7M-10.17 -9.86L3.77 -0.38M7.91 2.44L44.14 27.07M67.69 43.08L93.67 60.75M-13.95 -11.07L9.15 4.32M12.69 6.68L32.06 19.58M37.24 23.03L54.21 34.34M-1.82 0.93L9.47 7.8M15.98 11.75L34.93 23.28M39.82 26.25L72.98 46.42M75.67 48.06L93.8 59.09M17.16 12.19L45.89 30.59M47.88 31.86L57.62 38.1M-21.8 -4.54L13.03 13.99M48.54 32.88L62.54 40.33M63.91 41.06L73.25 46.03M-5.72 1.75L29.47 23.02M36.23 27.1L57.68 40.07M61.27 42.24L86.94 57.75M62.7 43.38L101.91 65.43M19.65 20.05L49.04 36.25M55.93 40.04L90.18 58.92M-17.97 -4.64L15.72 16.52M-19.54 -4.88L5.58 10.84M13.66 15.91L29.82 26.03M-6.87 6.85L21.5 23.02M-19 -0.46L3.68 12.81M-23.66 -5.7L10.87 16.19M59.18 46.82L69.26 53.21M28.26 27.52L57.89 46.79M3.65 15.37L37.96 36M-22.24 0.88L14.15 22.46M21.97 27.1L35.33 35.02M41.41 38.63L67.97 54.38M-20.16 1.05L3.58 16.26M6.46 18.1L18.15 25.59M22.73 28.53L47.63 44.48M52.63 47.68L89.23 71.13M-19.72 1.26L10.84 21.17M16.43 24.81L44.15 42.87M46.6 44.46L74.27 62.48M-21.12 3.47L9.73 22.86M-20.13 3.99L6.4 20.99M-22.35 10L1.57 22.66M7.33 25.71L46.27 46.31M29.09 37.4L36.68 41.74M44.08 45.98L68.31 59.84M9.92 25.43L21.42 32.57M41.52 45.06L69.07 62.16M-14.86 11.01L7.7 24.86M26.55 39.92L48.76 51.82M-0.37 23.8L37.71 46.29M19.76 36.77L46.92 52.7M0.85 22.96L30.45 44.1M5.52 26.52L12.15 31.34M-2.93 24.59L11.26 33.62M3.24 29.39L17.48 38.29M20.56 40.21L49.49 58.28M-29.49 4.39L-0.31 25.75M2.21 27.59L34.18 51M26.72 46.45L44.41 59.09M-30.08 7.2L1.02 29.09M-2.95 27.45L33.48 52.93M-1.55 29.49L5.75 34.72M-6.61 34.11L16.61 47.18M-4.34 36.32L25.61 53.48M-35.03 18.99L0.37 39.45M7.88 43.79L33.47 58.58M1.62 40.82L32.04 58.34M-15.26 34.12L11.43 48.52M0.57 42.97L24.31 56.22M-3.19 39.86L7.81 47.18M-6.78 43.63L30.71 63.85M-4.37 42.62L31.51 66.4M-8.58 46.32L16.31 61.27M-35.85 28.34L-0.28 3.84M2.54 1.9L19.21 -9.59M-4.32 1.28L30.98 -16.01M-25.06 14.54L1.83 0.19M6.86 2.05L20.03 -6.84M-10.54 11.34L4.2 2.45M-3.17 8.88L9.69 1.15M-8.38 11.96L14.86 -0.34M-3.29 10.42L28.07 -6.79M-0.35 12.05L13.88 3.06M16.6 1.34L48.62 -18.89M-16.14 25.06L16.31 3.27M18.72 2.2L37.53 -10.37M2.71 8.79L34.95 -7.32M-17.41 19.73L1 10.4M4.23 8.76L31.05 -4.83M12.17 6.08L42.05 -8.41M14.89 4.94L48.72 -11.03M21.28 2.4L35.1 -4.16M-1.87 16.57L22.33 3.28M25.59 2.14L50.39 -10.43M-10.77 27.36L25.4 4.58M33.73 -0.67L70.44 -23.8M-2.28 25.25L24.91 6.78M6.81 16.93L41.21 -1.84M0.4 21.28L32.14 3.71M40.43 -0.89L70.59 -17.58M36.96 1.59L75.24 -19.55M8.06 18.11L25.86 8.62M33.06 4.78L68.22 -13.96M-4.65 25.37L33.89 4.86M41.33 0.9L48.86 -3.1M-9.79 28.67L10.6 17.8M15.8 15.03L54.48 -5.58M-25.13 33.7L13.53 15.76M16.66 14.3L34.16 6.18M9.71 20.25L23.73 12.64M27.27 10.71L54.43 -4.05M-6.55 35.6L15.95 20.98M41.95 4.58L76.26 -18.49M5.41 23.3L29.9 11.43M19.39 17.51L54.23 0.51M4.98 31.13L27.84 16.69M-1.34 39.77L32.42 16.49M-17.88 44.79L20.72 22.73M26.54 19.4L50.32 5.8M52.54 4.53L81.64 -12.1M27.83 18.09L58.88 2.36M-15.69 48.8L14.8 29.24M15.84 28.58L45.4 9.62M53.7 4.3L71.21 -6.94M28.01 20.09L55.81 6.76M21.65 27.72L50.5 9.07M55.5 5.84L62.53 1.3M-25.08 49.5L12.68 30.1M18.6 27.06L57.39 7.13M9.94 38.79L41.71 17.51M47.74 13.47L61.68 4.13M66.87 0.66L85.57 -11.87M-20.61 54.87L16 33.84M23.69 29.43L57.17 10.2M35.67 22.9L72.28 2.17M76.28 0.21L101.72 -15.07M46.89 18.83L82.96 -3.19M-17.52 55.89L16.13 37.34M62.21 11.93L99.01 -8.36M-18.98 56.29L15.92 37.89M59.71 14.81L67.83 10.53M72.08 8.29L95.73 -4.18M14.41 41.45L23.5 36.43M-12.51 55.09L20.44 38.38M72.59 11.93L93.2 1.48M95.98 0.07L133.02 -18.72M20.14 41.79L51.1 24.46M80.54 7.98L113.62 -10.53M17.49 43.71L49.23 25.99M54.09 23.28L71.13 13.77M77.19 10.39L91.36 2.48M93.91 1.06L111.16 -8.57M22 44.96L56.58 22.01M34.49 35.09L56.33 23.9M99.3 1.9L120.84 -9.14M9.84 49.67L17.91 45.25M22.89 42.53L57.11 23.79M61.84 21.21L74.9 14.06M77.19 12.8L99.82 0.42M40.85 33.19L55.88 25.04M59.11 23.29L71.25 16.71M-15.53 64.83L17.78 46.53M25.68 42.18L50.12 28.75M54.21 26.5L84.55 9.83M102.74 -0.17L136.57 -18.77M19.88 49.16L50.83 30.25M52.41 29.29L71.2 17.81M76.48 14.59L84.52 9.67M86.14 8.68L105.44 -3.1M14.82 52.76L49.75 31.5M50.66 30.95L67.74 20.56M75.83 15.63L102.11 -0.36M36.67 38.64L47.82 33.27M96.24 9.91L111.11 2.74M13.49 50.32L24 45.28M32.66 41.13L52.4 31.66M51.04 32.95L76.09 20.71M79.8 18.9L107.26 5.48M25.68 51.13L62.27 26.6M66.61 23.7L102.29 -0.23M22.29 53.42L46.57 37.53M85.94 11.78L100.36 2.34M8.31 61.36L42.8 40.12M50.72 35.24L67.07 25.17M29.61 50.18L60.91 29.28M64.37 26.97L84.52 13.51M86.71 12.05L119.29 -9.71M20.37 53.92L37.68 44.29M45.33 40.03L56.6 33.76M59.74 32.02L98.09 10.68M45.53 40.56L75.03 24.08M6.1 64.91L35.82 47.96M40.81 45.11L48.16 40.92M97.64 12.7L133.44 -7.72M16.74 60.95L55.22 39.84M63.56 35.27L96.36 17.28M101.76 14.31L138.78 -5.99M75.63 29.15L96.93 15.68M100.15 13.64L131.02 -5.89M32.05 56.4L52.22 44.15M59.58 39.68L94.81 18.27M50.14 46.06L65.39 36.64M71.61 32.8L98.56 16.16M33.09 57.07L59.63 40.79M92.28 20.77L109.27 10.34M39.79 53.76L65.07 37.87M71.25 33.99L81.02 27.85M84.25 25.82L98.13 17.1M99.21 16.42L122.57 1.75M68.54 36.31L82.43 27.83M51.4 48.77L86.9 24.81M90.18 22.6L102.33 14.39M37.9 57.39L52.6 48.01M55.43 46.21L92.89 22.29M95.59 20.57L102.44 16.19M61.83 43.13L82.74 28.58M101.83 22.72L118.74 13.27M86.53 32.02L107.88 20.24M36.27 62.16L62.57 46.16M71.03 41.01L88.03 30.66M90.04 29.43L107.89 18.57M53.73 52.19L66.44 44.26M69.8 42.17L81.95 34.59M52.95 53.35L80.76 37.65M59.73 50.15L94.33 30.48M61.25 51.11L74.78 42.61M78.58 40.22L90.76 32.56M95.03 29.88L108.21 21.59M62.54 54.03L92.43 39.44M95.69 37.85L121.22 25.39M92.15 35.43L103.05 27.7M73.73 49.1L102.61 29.02M73.97 50.17L84.04 43.21M87.92 40.53L109.62 25.53M77.95 48.3L110.25 26.13M74.26 51.44L95.96 36.37M102.61 31.75L124.31 16.68M71.39 54.25L90.48 42.47M92.67 41.11L114.46 27.67M76.09 53.25L87.97 47.7M93.92 44.91L120.81 32.32M80.25 50.15L98.12 38.16M71.98 56.31L88.13 45.76M95 46.74L113.86 36.53M63.88 64.1L92.46 48.95M98.48 46.96L123.93 33.46M90.67 52.32L121.02 37.67M89.61 51.73L99.46 45.89M59.49 72.72L95.85 48.3M103.88 42.91L121.13 31.33M94.22 51.15L105.86 43.24M19.68 1.37L25.69 1.22M34.91 0.99L44.75 0.75M60.36 0.36L70.89 0.1M87.07 -0.3L97.06 -0.55M33.7 1.23L38.03 1.18M23.34 1.47L36.63 1.66M54.14 1.89L67.6 2.08M98.75 2.5L111.81 2.68M9.98 1.26L19.05 1.48M42.82 4.97L50.93 5.11M58.23 5.23L65.61 5.35M22.69 6.18L31.78 6.2M101.01 6.37L106.02 6.38M24.82 6.85L29.2 6.86M72.9 6.93L84.17 6.94M88.69 6.95L98.85 6.97M0.75 7.52L7.69 7.5M17.62 7.49L31.41 7.46M79.71 7.97L95.7 7.72M98.99 7.67L108.11 7.52M2.54 8.53L5.95 8.55M61.23 8.77L71.77 8.81M79.05 8.84L91.73 8.89M2.7 9.55L9.52 9.78M27.7 10.39L30.84 10.5M52.29 11.22L58.18 11.41M98.45 12.76L107.52 13.07M97.58 14.3L110.63 14.31M29.23 14.99L39.65 14.88M-12.15 17.11L3.04 17.39M14.99 17.6L26.97 17.82M45.78 18.16L54.88 18.33M74.38 18.68L86.43 18.9M100.27 19.15L105.88 19.25M4.15 17.66L14.31 17.89M52.24 18.76L61.49 18.97M82.52 19.45L94.99 19.73M23.06 20.81L33.67 20.99M42.7 21.14L54.81 21.34M92.73 21.97L102.33 22.14M-10.98 19.75L-0.14 20.08M3.42 20.19L14.05 20.52M57.57 21.87L66.94 22.16M72.79 22.34L79.84 22.56M84.9 22.72L99.17 23.16M-3.66 20.89L9.81 21.18M19.3 21.39L31.28 21.64M48.85 22.02L53.58 22.13M71.13 22.51L76.44 22.62M84.47 22.8L98.37 23.1M17.23 25L20.85 24.96M73.4 24.4L76.44 24.37M16.44 25.06L30.32 25.02M74.11 24.89L80.32 24.87M-4.44 29.01L7.04 28.55M76.74 25.72L90.16 25.18M-4.47 29.06L1.03 28.87M34.24 27.74L44.24 27.4M71.68 26.47L84.76 26.03M100 25.51L108.42 25.22M8.98 28.32L21.84 28.51M58.27 29.07L67.04 29.21M88.39 29.54L93.68 29.62M101.74 29.74L106.51 29.82M-3.57 30.74L7.13 30.69M22.7 30.6L28.52 30.57M46.34 30.47L55.3 30.43M67.63 30.36L80.36 30.29M96.06 30.21L111.09 30.13M23.47 31.34L36.9 31.18M54.73 30.95L68.43 30.78M80.74 30.63L95.26 30.45M103.45 30.34L107.03 30.3M28.68 33.39L36.37 33.38M67.35 33.32L81.01 33.29M-6.43 37.53L0.06 37.45M51.54 36.87L66.45 36.7M78.82 36.56L84.71 36.49M-2.62 39.43L4.33 39.21M31.88 39.08L35.74 39.1M56.99 39.23L68.67 39.3M86.61 39.41L101.73 39.5M-3.87 41.43L5.31 41.57M62.05 42.45L71.71 42.6M99.24 43.02L104.63 43.1M6.11 41.96L18.77 42.18M32.41 42.41L40.19 42.55M56.97 42.84L72.29 43.11M88.68 43.39L101.81 43.62M36 45.08L40.35 45.04M52.13 44.96L61.2 44.89M77.4 44.77L85.63 44.71M97.63 44.62L105.41 44.56M-6.42 48.43L5.78 48.09M57.36 46.68L72.73 46.26M79.75 46.07L89.17 45.81M3.79 25.18L3.9 22.57M4.28 13.73L4.42 10.61M3.31 42.05L3.48 38.73M5.1 42.05L5.17 39.6M5.53 25.1L5.61 21.92M5.86 12.07L5.94 8.79M7.01 47.93L7.06 46.29M18.45 50.4L18.18 48.19M15.15 22.51L14.74 19.11M20.02 6.3L20.01 3.67M21.16 51.13L21.15 48.43M21.04 20.21L21.03 17.49M20.99 6.54L20.97 2.67M31.42 36.46L31.64 33.72M33.41 17.02L33.62 14.35M33.15 46.42L33.19 44.7M33.6 37.55L33.74 34.24M34.59 14.2L34.68 12.19M38.42 45.5L38.58 43.01M40.84 6.4L41.03 3.32M38.58 50.7L38.72 48.43M39.17 41.01L39.37 37.77M40.07 26.34L40.25 23.36M48.26 22.55L48.21 20.01M49.35 48.6L49.3 46.66M53.25 36.34L53.04 33.63M50.9 5.68L50.71 3.28M51.68 11.32L51.46 8.75M63.49 44.11L63.5 42.6M63.57 32.82L63.59 30.48M63.73 13.5L63.75 10.37M64.12 21.52L64.15 18.43M64.2 13.52L64.23 9.69M64.29 3.74L64.33 -0.04M74.21 37.04L74.01 33.4M73.73 28.1L73.56 25M84.74 42.96L84.74 40.53M84.75 23.2L84.75 20.93M84.77 -0.55L84.77 -4.5M96.94 48.05L96.67 44.29M96.25 38.29L95.97 34.31M95.2 23.47L94.97 20.32M93.75 3.09L93.51 -0.24M96.48 35.09L96.29 32.61M95.01 16.28L94.89 14.76M94.34 7.65L94.15 5.3M98.58 9.46L98.8 6.85M97.03 33.35L97.25 30.99M99.14 16.49L99.45 13.13M101.06 39.99L100.93 36.55M100.25 17.54L100.13 14.1M80.74 -11.77L111.72 8.92M89.14 -4.37L109.06 9.9M84.6 -5.94L112.93 10.58M52.79 -15.32L82.97 5.69M94.22 13.89L130.17 35.87M70.84 0.55L82.84 6.97M54.94 4.95L88.89 27.37M18.54 -12.05L56.89 11.41M53.19 16.56L59.94 20.99M67.61 27.15L98.98 44.31M45.27 16.78L74.91 34.83M-13.92 -13.78L17.38 3.25M-2.82 -7.26L30.34 12.83M-5.86 -1.86L9.15 5.47M42.54 21.77L75.35 37.78M71.14 44.92L101.15 65.26M59.79 39.5L89.1 58.27M26.38 22.96L58.11 40.8M9.3 14.35L16.43 18.28M34.89 29.2L65.01 48.07M29.26 27.43L67.69 49.33M27.42 26.69L35.85 31.62M44.69 45.53L59.28 54.89M0.76 20.52L20.61 33.19M-1.02 25.15L21.96 37.47M5.12 28.19L17.37 35.38M11.37 34.36L33.93 50.23M20.87 46.16L37.29 57.72M-15.6 27.56L22.86 49.9M4.39 44.25L14.99 51.3M-8.32 8.97L21 -11.42M-2.96 8.57L14.32 -3.33M-5.73 18.54L15.04 4.66M-33.52 28.26L5.37 9.38M-32.38 31.52L4.53 12.81M15.95 13.19L30.29 5.27M-29.43 38.09L3.22 20.69M23.31 16.2L30.66 11.42M14.5 34.89L27.5 27.52M23.24 36.96L44.04 26.41M1.22 52.38L14.22 45.1M13.98 47.77L39.25 34.06M100.02 9.6L108.3 5M83.43 19.4L121.31 -1.77M54.43 37.34L89.9 17.11M32.18 49.54L43.4 43.97M63.49 36.83L72.99 30.82M84.79 27.16L95.7 19.57M87.44 33.88L107.94 22.3M78.1 44.12L99.5 32.06M103.33 29.91L125.73 17.29M73.33 48.78L88.83 37.79M95.73 40.79L120.34 24.7M74.9 65.11L108.79 48.33M100.98 53.86L121.96 42.62M43.47 1.12L48.41 1.07M56.32 0.98L69.17 0.84M74.35 0.78L89.25 0.61M2.6 1.19L6.47 1.24M59.34 2.44L64.52 2.57M25.88 4.69L38.75 4.9M78.66 5.57L83.99 5.66M-1.94 6.12L3.36 6.13M37.71 6.21L44.74 6.23M91.6 7.35L95.48 7.35M35.24 8.68L44.89 8.53M57.16 8.33L64.88 8.21M19.07 8.6L22.37 8.61M76.03 12.01L87.69 12.4M62.36 14.29L77.18 14.3M70.23 14.55L74.3 14.51M27.35 20.94L35.69 21.19M41.71 24.74L56.38 24.58M50.61 24.96L61.73 24.92M38.5 27.27L46.35 26.96M36.17 28.73L44.22 28.86M20.49 38.68L35.86 38.18M10.25 41.64L23.33 41.85M7.88 22.94L8 19.5M39.65 25.61L39.76 23.94M41.39 4.63L41.55 1.97M48.65 42.23L48.58 38.69M48.89 29.36L48.84 27.13M53.71 29.98L53.54 27.76M63.89 44.76L63.92 42.35M97.66 50.19L97.36 46.25M100.11 14.94L109.61 21.53M70.22 5.47L97.04 19.22M57.67 -0.03L92.63 21.4M62.03 17.62L77.45 28.52M49.75 13.7L85.77 37.3M69.74 31.73L91.22 43.41M37.91 43.4L69.36 62.7M26.64 37.04L36.87 43.57M3.42 30.78L39.28 56.01M38.57 6.28L66.82 -12.08M21.46 18.36L35.37 9M62.51 0.52L86.48 -11.62M70.99 22.76L101.25 4.13M65.91 36.94L85.65 24.83M-4.12 1.65L3.77 1.57M101.05 7.34L115.53 7.31M0 25.19L13.87 25.04M32.35 47.85L32.43 45.64M54.1 39.18L53.84 36.19"/>
<mask id="dp2" maskUnits="userSpaceOnUse" x="-5" y="-5" width="115" height="60">
<rect x="-5" y="-5" width="115" height="60" fill="#000"/>
<radialGradient id="p2d0"><stop offset="0" stop-color="#fff" stop-opacity="0.55"/><stop offset="0.5" stop-color="#fff" stop-opacity="0.44"/><stop offset="1" stop-color="#fff" stop-opacity="0"/></radialGradient>
<ellipse cx="60" cy="8" rx="40" ry="10" transform="rotate(0 60 8)" fill="url(#p2d0)"/>
<radialGradient id="p2d1"><stop offset="0" stop-color="#fff" stop-opacity="0.99"/><stop offset="0.5" stop-color="#fff" stop-opacity="0.79"/><stop offset="1" stop-color="#fff" stop-opacity="0"/></radialGradient>
<ellipse cx="20" cy="12" rx="9" ry="5" transform="rotate(0 20 12)" fill="url(#p2d1)"/>
<radialGradient id="p2d2"><stop offset="0" stop-color="#fff" stop-opacity="0.72"/><stop offset="0.5" stop-color="#fff" stop-opacity="0.57"/><stop offset="1" stop-color="#fff" stop-opacity="0"/></radialGradient>
<ellipse cx="30" cy="6" rx="7" ry="7" transform="rotate(0 30 6)" fill="url(#p2d2)"/>
<radialGradient id="p2d3"><stop offset="0" stop-color="#fff" stop-opacity="0.33"/><stop offset="0.5" stop-color="#fff" stop-opacity="0.26"/><stop offset="1" stop-color="#fff" stop-opacity="0"/></radialGradient>
<ellipse cx="60" cy="21" rx="25" ry="8" transform="rotate(15 60 21)" fill="url(#p2d3)"/>
<radialGradient id="p2d4"><stop offset="0" stop-color="#fff" stop-opacity="0.66"/><stop offset="0.5" stop-color="#fff" stop-opacity="0.53"/><stop offset="1" stop-color="#fff" stop-opacity="0"/></radialGradient>
<ellipse cx="33" cy="21" rx="12" ry="5" transform="rotate(0 33 21)" fill="url(#p2d4)"/>
</mask>
<mask id="mp2_0" maskUnits="userSpaceOnUse" x="-5" y="-5" width="115" height="60">
<rect x="-5" y="-5" width="115" height="60" fill="#000"/>
<radialGradient id="p2g0_0"><stop offset="0" stop-color="#fff" stop-opacity="1.00"/><stop offset="0.55" stop-color="#fff" stop-opacity="0.80"/><stop offset="1" stop-color="#fff" stop-opacity="0"/></radialGradient>
<ellipse cx="17" cy="11.5" rx="3.75" ry="1.62" transform="rotate(0 17 11.5)" fill="url(#p2g0_0)"/>
<radialGradient id="p2g0_1"><stop offset="0" stop-color="#fff" stop-opacity="1.00"/><stop offset="0.55" stop-color="#fff" stop-opacity="0.80"/><stop offset="1" stop-color="#fff" stop-opacity="0"/></radialGradient>
<ellipse cx="21" cy="13" rx="7.5" ry="2.12" transform="rotate(12 21 13)" fill="url(#p2g0_1)"/>
<radialGradient id="p2g0_2"><stop offset="0" stop-color="#fff" stop-opacity="1.00"/><stop offset="0.55" stop-color="#fff" stop-opacity="0.80"/><stop offset="1" stop-color="#fff" stop-opacity="0"/></radialGradient>
<ellipse cx="25.5" cy="14.2" rx="4.38" ry="1.5" transform="rotate(20 25.5 14.2)" fill="url(#p2g0_2)"/>
<radialGradient id="p2g0_3"><stop offset="0" stop-color="#fff" stop-opacity="1.00"/><stop offset="0.55" stop-color="#fff" stop-opacity="0.80"/><stop offset="1" stop-color="#fff" stop-opacity="0"/></radialGradient>
<ellipse cx="19" cy="12" rx="10" ry="5" transform="rotate(0 19 12)" fill="url(#p2g0_3)"/>
<radialGradient id="p2g0_4"><stop offset="0" stop-color="#fff" stop-opacity="1.00"/><stop offset="0.55" stop-color="#fff" stop-opacity="0.80"/><stop offset="1" stop-color="#fff" stop-opacity="0"/></radialGradient>
<ellipse cx="27.5" cy="6.2" rx="6.88" ry="1.88" transform="rotate(45 27.5 6.2)" fill="url(#p2g0_4)"/>
<radialGradient id="p2g0_5"><stop offset="0" stop-color="#fff" stop-opacity="1.00"/><stop offset="0.55" stop-color="#fff" stop-opacity="0.80"/><stop offset="1" stop-color="#fff" stop-opacity="0"/></radialGradient>
<ellipse cx="13" cy="25" rx="3.75" ry="2.5" transform="rotate(0 13 25)" fill="url(#p2g0_5)"/>
<radialGradient id="p2g0_6"><stop offset="0" stop-color="#fff" stop-opacity="1.00"/><stop offset="0.55" stop-color="#fff" stop-opacity="0.80"/><stop offset="1" stop-color="#fff" stop-opacity="0"/></radialGradient>
<ellipse cx="3" cy="21" rx="5" ry="6.25" transform="rotate(0 3 21)" fill="url(#p2g0_6)"/>
<radialGradient id="p2g0_7"><stop offset="0" stop-color="#fff" stop-opacity="1.00"/><stop offset="0.55" stop-color="#fff" stop-opacity="0.80"/><stop offset="1" stop-color="#fff" stop-opacity="0"/></radialGradient>
<ellipse cx="78" cy="27.3" rx="6.25" ry="5.38" transform="rotate(0 78 27.3)" fill="url(#p2g0_7)"/>
<radialGradient id="p2g0_8"><stop offset="0" stop-color="#fff" stop-opacity="0.88"/><stop offset="0.55" stop-color="#fff" stop-opacity="0.70"/><stop offset="1" stop-color="#fff" stop-opacity="0"/></radialGradient>
<ellipse cx="60" cy="6" rx="12.5" ry="6.25" transform="rotate(0 60 6)" fill="url(#p2g0_8)"/>
<radialGradient id="p2g0_9"><stop offset="0" stop-color="#fff" stop-opacity="0.88"/><stop offset="0.55" stop-color="#fff" stop-opacity="0.70"/><stop offset="1" stop-color="#fff" stop-opacity="0"/></radialGradient>
<ellipse cx="52" cy="25" rx="3.75" ry="3.75" transform="rotate(0 52 25)" fill="url(#p2g0_9)"/>
</mask>
<mask id="mp2_1" maskUnits="userSpaceOnUse" x="-5" y="-5" width="115" height="60">
<rect x="-5" y="-5" width="115" height="60" fill="#000"/>
<radialGradient id="p2g1_0"><stop offset="0" stop-color="#fff" stop-opacity="1.00"/><stop offset="0.55" stop-color="#fff" stop-opacity="0.80"/><stop offset="1" stop-color="#fff" stop-opacity="0"/></radialGradient>
<ellipse cx="17" cy="11.5" rx="2.79" ry="1.21" transform="rotate(0 17 11.5)" fill="url(#p2g1_0)"/>
<radialGradient id="p2g1_1"><stop offset="0" stop-color="#fff" stop-opacity="1.00"/><stop offset="0.55" stop-color="#fff" stop-opacity="0.80"/><stop offset="1" stop-color="#fff" stop-opacity="0"/></radialGradient>
<ellipse cx="21" cy="13" rx="5.76" ry="1.63" transform="rotate(12 21 13)" fill="url(#p2g1_1)"/>
<radialGradient id="p2g1_2"><stop offset="0" stop-color="#fff" stop-opacity="1.00"/><stop offset="0.55" stop-color="#fff" stop-opacity="0.80"/><stop offset="1" stop-color="#fff" stop-opacity="0"/></radialGradient>
<ellipse cx="25.5" cy="14.2" rx="3.31" ry="1.14" transform="rotate(20 25.5 14.2)" fill="url(#p2g1_2)"/>
<radialGradient id="p2g1_3"><stop offset="0" stop-color="#fff" stop-opacity="0.50"/><stop offset="0.55" stop-color="#fff" stop-opacity="0.40"/><stop offset="1" stop-color="#fff" stop-opacity="0"/></radialGradient>
<ellipse cx="19" cy="12" rx="6.87" ry="3.44" transform="rotate(0 19 12)" fill="url(#p2g1_3)"/>
<radialGradient id="p2g1_4"><stop offset="0" stop-color="#fff" stop-opacity="1.00"/><stop offset="0.55" stop-color="#fff" stop-opacity="0.80"/><stop offset="1" stop-color="#fff" stop-opacity="0"/></radialGradient>
<ellipse cx="27.5" cy="6.2" rx="5.16" ry="1.41" transform="rotate(45 27.5 6.2)" fill="url(#p2g1_4)"/>
<radialGradient id="p2g1_5"><stop offset="0" stop-color="#fff" stop-opacity="0.50"/><stop offset="0.55" stop-color="#fff" stop-opacity="0.40"/><stop offset="1" stop-color="#fff" stop-opacity="0"/></radialGradient>
<ellipse cx="13" cy="25" rx="2.58" ry="1.72" transform="rotate(0 13 25)" fill="url(#p2g1_5)"/>
<radialGradient id="p2g1_6"><stop offset="0" stop-color="#fff" stop-opacity="0.38"/><stop offset="0.55" stop-color="#fff" stop-opacity="0.30"/><stop offset="1" stop-color="#fff" stop-opacity="0"/></radialGradient>
<ellipse cx="3" cy="21" rx="3.34" ry="4.17" transform="rotate(0 3 21)" fill="url(#p2g1_6)"/>
<radialGradient id="p2g1_7"><stop offset="0" stop-color="#fff" stop-opacity="0.83"/><stop offset="0.55" stop-color="#fff" stop-opacity="0.66"/><stop offset="1" stop-color="#fff" stop-opacity="0"/></radialGradient>
<ellipse cx="78" cy="27.3" rx="4.49" ry="3.86" transform="rotate(0 78 27.3)" fill="url(#p2g1_7)"/>
</mask>
<mask id="mp2_2" maskUnits="userSpaceOnUse" x="-5" y="-5" width="115" height="60">
<rect x="-5" y="-5" width="115" height="60" fill="#000"/>
<radialGradient id="p2g2_0"><stop offset="0" stop-color="#fff" stop-opacity="0.38"/><stop offset="0.55" stop-color="#fff" stop-opacity="0.30"/><stop offset="1" stop-color="#fff" stop-opacity="0"/></radialGradient>
<ellipse cx="17" cy="11.5" rx="2.18" ry="0.94" transform="rotate(0 17 11.5)" fill="url(#p2g2_0)"/>
<radialGradient id="p2g2_1"><stop offset="0" stop-color="#fff" stop-opacity="1.00"/><stop offset="0.55" stop-color="#fff" stop-opacity="0.80"/><stop offset="1" stop-color="#fff" stop-opacity="0"/></radialGradient>
<ellipse cx="21" cy="13" rx="5.11" ry="1.45" transform="rotate(12 21 13)" fill="url(#p2g2_1)"/>
<radialGradient id="p2g2_2"><stop offset="0" stop-color="#fff" stop-opacity="1.00"/><stop offset="0.55" stop-color="#fff" stop-opacity="0.80"/><stop offset="1" stop-color="#fff" stop-opacity="0"/></radialGradient>
<ellipse cx="25.5" cy="14.2" rx="2.84" ry="0.97" transform="rotate(20 25.5 14.2)" fill="url(#p2g2_2)"/>
<radialGradient id="p2g2_4"><stop offset="0" stop-color="#fff" stop-opacity="0.62"/><stop offset="0.55" stop-color="#fff" stop-opacity="0.50"/><stop offset="1" stop-color="#fff" stop-opacity="0"/></radialGradient>
<ellipse cx="27.5" cy="6.2" rx="4.24" ry="1.16" transform="rotate(45 27.5 6.2)" fill="url(#p2g2_4)"/>
</mask>
<mask id="mp2_3" maskUnits="userSpaceOnUse" x="-5" y="-5" width="115" height="60">
<rect x="-5" y="-5" width="115" height="60" fill="#000"/>
<radialGradient id="p2g3_1"><stop offset="0" stop-color="#fff" stop-opacity="1.00"/><stop offset="0.55" stop-color="#fff" stop-opacity="0.80"/><stop offset="1" stop-color="#fff" stop-opacity="0"/></radialGradient>
<ellipse cx="21" cy="13" rx="4.45" ry="1.26" transform="rotate(12 21 13)" fill="url(#p2g3_1)"/>
<radialGradient id="p2g3_2"><stop offset="0" stop-color="#fff" stop-opacity="0.25"/><stop offset="0.55" stop-color="#fff" stop-opacity="0.20"/><stop offset="1" stop-color="#fff" stop-opacity="0"/></radialGradient>
<ellipse cx="25.5" cy="14.2" rx="2.18" ry="0.75" transform="rotate(20 25.5 14.2)" fill="url(#p2g3_2)"/>
</mask>
</defs>
<g clip-path="url(#cp2)">
<rect x="38" y="239" width="301" height="140" fill="#d5d5d5"/>
<g transform="translate(38 239) scale(2.92233 2.91667)" fill="none" stroke-width="0.291" shape-rendering="crispEdges">
<use href="#p2a" stroke="#0000c0"/><use href="#p2b" stroke="#0000f4"/><use href="#p2c" stroke="#0a30ff"/><use href="#p2l" stroke="#0070ff"/>
<use href="#p2e" stroke="#0000f0" mask="url(#dp2)"/>
<g stroke="#0050ff" mask="url(#mp2_0)"><use href="#p2a"/><use href="#p2b"/><use href="#p2c"/><use href="#p2l"/><use href="#p2e" mask="url(#dp2)"/></g>
<g stroke="#00d8ff" mask="url(#mp2_1)"><use href="#p2a"/><use href="#p2b"/><use href="#p2c"/><use href="#p2l"/><use href="#p2e" mask="url(#dp2)"/></g>
<g stroke="#70ff8f" mask="url(#mp2_2)"><use href="#p2a"/><use href="#p2b"/><use href="#p2c"/><use href="#p2l"/><use href="#p2e" mask="url(#dp2)"/></g>
<g stroke="#ffee00" mask="url(#mp2_3)"><use href="#p2a"/><use href="#p2b"/><use href="#p2c"/><use href="#p2l"/><use href="#p2e" mask="url(#dp2)"/></g>
<path d="M-5 -9 31 -9 29.1 -1 29.3 0 29.5 0.7 29 1.1 28.5 1.4 27.6 1.5 27.1 2.1 26.4 2.2 25.8 2.8 25 3.4 24.2 3.9 23.8 4.5 23.6 5.3 23.7 6.2 24.1 7 24.4 7.6 24.5 8.1 24.8 9 24.95 9.7 24.85 10.3 24.6 10.8 24.1 10.85 23.8 10.5 23.3 10.1 23.1 9.5 22.7 9 22.3 8.4 22.2 7.8 22.3 7.2 21.8 6.8 21.3 6.1 20.7 5.95 20.1 6.3 19.6 6.3 19.1 5.8 18.5 5.6 17.7 5.7 17 5.65 16.4 5.65 15.6 5.8 15.4 6.1 15.8 6.7 15.6 7 15 6.8 14.4 6.9 13.7 6.7 12.7 6.45 11.8 6.25 11 6.35 10.2 6.7 9.7 7.1 9 7.4 8.4 7.8 7.9 8.2 7.7 8.7 7.6 9.4 7.8 10.1 7.4 11.2 7.2 12.2 7.3 13.4 7.7 14.2 7.9 15 8.4 16.1 8.8 16.8 9.3 17.2 10 17.45 10.5 17.85 11.4 17.6 12.2 17.5 13 17.35 13.7 17.5 14.3 16.7 14.55 16 14.7 15.1 15.4 14.7 16.4 14.5 17.4 14.45 18 14.6 18.2 15.1 17.7 15.8 17.5 16.5 17.3 17.2 16.9 17.6 16.8 18.4 16.7 19.4 16.3 20.1 16.9 20.3 17.5 20.15 18.2 20.2 19 20.05 20 20.05 20.7 20.25 21.4 20.7 21.8 21.05 21.6 21.8 21.5 22.7 21.5 23.5 21.3 24.3 21.2 25 21.6 25.6 22.2 26.2 22.8 26.8 23.5 27.2 24.2 27.1 25 26.65 25.5 26.4 26.2 26.6 27 26.9 27.6 27.4 28.1 27.7 28.3 27.3 28.8 26.7 29.3 26.3 29.5 25.5 30 25 30.7 24.9 31.5 24.7 32.5 24.1 33.1 23.6 33.7 23.7 33.6 24.2 33.1 24.5 33.4 25.1 34 24.8 34.8 24.5 35 23.8 35.4 24.5 36.2 24.6 36.8 25.1 37 25.5 38 25.4 38.8 25.4 39.4 25.9 40.1 25.9 40.7 25.5 41.5 25.4 42.5 25.3 43 25.4 42.7 25.8 43.1 26.2 43.8 27 44.3 27.4 45 27.6 45.7 28.2 46.4 28.8 46.7 29.2 47.4 29.7 48 30.1 49 30.1 50 30 51 30.2 52 30.5 52.8 31.1 53.4 31.8 53.9 32.3 54.3 33.5 54.7 34.2 55.1 34.9 54.8 35.4 54.4 35.9 55 36.2 55.8 36.1 56.6 36.4 56.5 37.2 57.2 36.6 58.1 36.8 58.8 37 59.7 37.5 60.4 38.1 60.7 38.5 61.6 38.4 62.8 38.8 63.7 38.9 65 38.85 66 39.5 66.7 39.9 67.5 40.6 68.4 41.1 69.5 41.2 69.8 41.7 70.1 42.7 70.2 43.5 69.9 44.5 69.5 45.4 68.8 46.3 68 47 67.4 48 66.8 49 66.5 50 28.4 50 28.5 49 28.7 48 28 47.6 27.3 46.5 26.7 45.5 26 44.2 25.4 43.2 24.7 42.7 23.9 42.1 23.8 41.3 23.7 40.5 24.4 39.6 24.7 39.4 25.1 38.6 24.7 38.5 24.1 38.2 24.5 37.2 24.9 36.4 25 35.4 25.5 35 26.1 34.6 26.4 34 27.1 33.4 27.6 32.7 27.8 32 27.6 31.2 27.6 30.4 27.5 29.4 27.1 28.8 26.6 28 26.1 27.6 25.5 27.1 25 27.6 24.6 27.8 24.7 28.5 24.1 28.7 23.3 28 22.5 27.8 22 27.6 21.4 27.1 21 26.5 20.3 26.1 19.8 25.9 19.3 26 19.2 25.4 19.3 24.9 18.5 24.2 17.8 23.5 17.4 23 17.2 22.7 16.4 22.8 15.7 22.5 14.9 22.2 13.8 22.1 12.8 21.5 12 20.8 11.1 20.1 10.3 19.8 9.7 20.1 8.8 20.3 8 20.1 7.2 19.9 6.4 19.6 5.3 19.3 4.1 18.8 3.2 18.2 2.4 18 1.5 17.7 0.7 17 0 16.4 -0.6 15.6 -0.3 15 -0.7 13.6 -1.5 12.8 -5 12ZM20.05 14.15 20.6 14 21 13.3 21.8 13.05 22.7 12.85 23.6 12.85 24.4 12.95 25.3 13.25 26.2 13.6 27.1 14 27.9 14.4 28.7 14.8 29.4 15 30.1 15.35 30.85 15.75 30.3 15.95 29.5 16.1 28.5 16.05 27.5 16.15 27.3 15.7 27.8 15.35 26.9 15.1 26.3 14.4 25.1 14.25 24.4 13.95 23.6 13.85 22.8 13.7 23.1 13.35 22.2 13.35 21.5 13.8 21 14.1 20.5 14.25ZM30.55 17.65 31.6 17.75 32.5 17.8 33.3 18.2 33.6 18.4 34.3 17.7 35 17.75 35.7 17.55 36.3 17.8 36.65 17.4 36.1 17.05 35.6 16.8 35.1 16.35 34.2 16.1 33.3 16.25 32.2 16.05 31.6 16.35 32.3 16.6 32.2 17 32.6 17.35 32 17.55 30.8 17.35ZM26.65 17.75 27.4 17.5 28.1 17.6 28.8 18 28.2 18.1 27.8 18.3 27.2 18.1 26.8 17.8ZM37.75 17.6 39 17.55 39.4 17.75 39.2 18 37.8 18.05ZM110 2 104 0.9 102.8 0.9 102.1 0.7 102.05 0.55 101.5 0.8 100.7 0.8 100.1 0.6 99.7 0.1 99.1 0.2 98.7 1 98.2 1.9 97.4 2.4 96.5 2.75 96 3.4 95.7 3.8 95.2 4.6 95.3 5.4 95.35 5.9 95.1 6.4 94.7 6.9 94 7.4 93.3 7.9 92.4 8.1 91.7 8.4 91.1 9.2 90.5 9.9 90.2 10.7 89.7 11.4 89 12.2 88.7 12.9 88.3 13.6 88 14.6 87.95 15.2 88.5 15.8 88.8 16.4 88.5 16.9 88.8 18 88.9 19 88.5 19.8 88.2 20.5 87.8 21.1 87.5 21.3 87.9 21.5 88.2 22.1 88.3 22.8 88.2 23.5 88.5 23.8 88.9 24.2 89.4 24.7 89.8 25.2 90.2 25.7 90.7 26.4 91.3 26.9 91.6 27.6 92 28.3 92.8 28.7 93.6 29.2 94.3 29.7 95 30.3 95.7 30.9 96.7 31.4 97.5 31.65 98.4 31.3 99.2 31 100.4 30.8 101.5 30.9 102.2 31 103 31.25 104 31 105 30.5 110 30ZM97 -1.5 98 -1.2 98.7 -0.6 99 -0.2 99.4 0 100 -0.4 100.6 -0.7 102 -0.75 103 -0.8 105 -2 105 -4 97 -4ZM43.1 25.9 43.4 25.25 44.1 25.15 44 25.9Z" fill="#cccccc" stroke="none"/>
<path d="M33.4 25.05 33.6 25.4 34 25.7 33.9 26.4 33.5 26.9 33.1 26.7 33 26.1 33.2 25.5Z" fill="#1a1ab0" stroke="#000" stroke-width="0.308"/>
</g>
<path d="M52.61 239V379M111.06 239V379M169.5 239V379M227.95 239V379M286.4 239V379M38 256.5H339M38 285.67H339M38 314.83H339M38 344H339M38 373.17H339" stroke="#000" stroke-opacity="0.07" stroke-width="1" fill="none"/>
<g transform="translate(38 239) scale(2.92233 2.91667)"><path d="M-5 -9 31 -9 29.1 -1 29.3 0 29.5 0.7 29 1.1 28.5 1.4 27.6 1.5 27.1 2.1 26.4 2.2 25.8 2.8 25 3.4 24.2 3.9 23.8 4.5 23.6 5.3 23.7 6.2 24.1 7 24.4 7.6 24.5 8.1 24.8 9 24.95 9.7 24.85 10.3 24.6 10.8 24.1 10.85 23.8 10.5 23.3 10.1 23.1 9.5 22.7 9 22.3 8.4 22.2 7.8 22.3 7.2 21.8 6.8 21.3 6.1 20.7 5.95 20.1 6.3 19.6 6.3 19.1 5.8 18.5 5.6 17.7 5.7 17 5.65 16.4 5.65 15.6 5.8 15.4 6.1 15.8 6.7 15.6 7 15 6.8 14.4 6.9 13.7 6.7 12.7 6.45 11.8 6.25 11 6.35 10.2 6.7 9.7 7.1 9 7.4 8.4 7.8 7.9 8.2 7.7 8.7 7.6 9.4 7.8 10.1 7.4 11.2 7.2 12.2 7.3 13.4 7.7 14.2 7.9 15 8.4 16.1 8.8 16.8 9.3 17.2 10 17.45 10.5 17.85 11.4 17.6 12.2 17.5 13 17.35 13.7 17.5 14.3 16.7 14.55 16 14.7 15.1 15.4 14.7 16.4 14.5 17.4 14.45 18 14.6 18.2 15.1 17.7 15.8 17.5 16.5 17.3 17.2 16.9 17.6 16.8 18.4 16.7 19.4 16.3 20.1 16.9 20.3 17.5 20.15 18.2 20.2 19 20.05 20 20.05 20.7 20.25 21.4 20.7 21.8 21.05 21.6 21.8 21.5 22.7 21.5 23.5 21.3 24.3 21.2 25 21.6 25.6 22.2 26.2 22.8 26.8 23.5 27.2 24.2 27.1 25 26.65 25.5 26.4 26.2 26.6 27 26.9 27.6 27.4 28.1 27.7 28.3 27.3 28.8 26.7 29.3 26.3 29.5 25.5 30 25 30.7 24.9 31.5 24.7 32.5 24.1 33.1 23.6 33.7 23.7 33.6 24.2 33.1 24.5 33.4 25.1 34 24.8 34.8 24.5 35 23.8 35.4 24.5 36.2 24.6 36.8 25.1 37 25.5 38 25.4 38.8 25.4 39.4 25.9 40.1 25.9 40.7 25.5 41.5 25.4 42.5 25.3 43 25.4 42.7 25.8 43.1 26.2 43.8 27 44.3 27.4 45 27.6 45.7 28.2 46.4 28.8 46.7 29.2 47.4 29.7 48 30.1 49 30.1 50 30 51 30.2 52 30.5 52.8 31.1 53.4 31.8 53.9 32.3 54.3 33.5 54.7 34.2 55.1 34.9 54.8 35.4 54.4 35.9 55 36.2 55.8 36.1 56.6 36.4 56.5 37.2 57.2 36.6 58.1 36.8 58.8 37 59.7 37.5 60.4 38.1 60.7 38.5 61.6 38.4 62.8 38.8 63.7 38.9 65 38.85 66 39.5 66.7 39.9 67.5 40.6 68.4 41.1 69.5 41.2 69.8 41.7 70.1 42.7 70.2 43.5 69.9 44.5 69.5 45.4 68.8 46.3 68 47 67.4 48 66.8 49 66.5 50 28.4 50 28.5 49 28.7 48 28 47.6 27.3 46.5 26.7 45.5 26 44.2 25.4 43.2 24.7 42.7 23.9 42.1 23.8 41.3 23.7 40.5 24.4 39.6 24.7 39.4 25.1 38.6 24.7 38.5 24.1 38.2 24.5 37.2 24.9 36.4 25 35.4 25.5 35 26.1 34.6 26.4 34 27.1 33.4 27.6 32.7 27.8 32 27.6 31.2 27.6 30.4 27.5 29.4 27.1 28.8 26.6 28 26.1 27.6 25.5 27.1 25 27.6 24.6 27.8 24.7 28.5 24.1 28.7 23.3 28 22.5 27.8 22 27.6 21.4 27.1 21 26.5 20.3 26.1 19.8 25.9 19.3 26 19.2 25.4 19.3 24.9 18.5 24.2 17.8 23.5 17.4 23 17.2 22.7 16.4 22.8 15.7 22.5 14.9 22.2 13.8 22.1 12.8 21.5 12 20.8 11.1 20.1 10.3 19.8 9.7 20.1 8.8 20.3 8 20.1 7.2 19.9 6.4 19.6 5.3 19.3 4.1 18.8 3.2 18.2 2.4 18 1.5 17.7 0.7 17 0 16.4 -0.6 15.6 -0.3 15 -0.7 13.6 -1.5 12.8 -5 12ZM20.05 14.15 20.6 14 21 13.3 21.8 13.05 22.7 12.85 23.6 12.85 24.4 12.95 25.3 13.25 26.2 13.6 27.1 14 27.9 14.4 28.7 14.8 29.4 15 30.1 15.35 30.85 15.75 30.3 15.95 29.5 16.1 28.5 16.05 27.5 16.15 27.3 15.7 27.8 15.35 26.9 15.1 26.3 14.4 25.1 14.25 24.4 13.95 23.6 13.85 22.8 13.7 23.1 13.35 22.2 13.35 21.5 13.8 21 14.1 20.5 14.25ZM30.55 17.65 31.6 17.75 32.5 17.8 33.3 18.2 33.6 18.4 34.3 17.7 35 17.75 35.7 17.55 36.3 17.8 36.65 17.4 36.1 17.05 35.6 16.8 35.1 16.35 34.2 16.1 33.3 16.25 32.2 16.05 31.6 16.35 32.3 16.6 32.2 17 32.6 17.35 32 17.55 30.8 17.35ZM26.65 17.75 27.4 17.5 28.1 17.6 28.8 18 28.2 18.1 27.8 18.3 27.2 18.1 26.8 17.8ZM37.75 17.6 39 17.55 39.4 17.75 39.2 18 37.8 18.05ZM110 2 104 0.9 102.8 0.9 102.1 0.7 102.05 0.55 101.5 0.8 100.7 0.8 100.1 0.6 99.7 0.1 99.1 0.2 98.7 1 98.2 1.9 97.4 2.4 96.5 2.75 96 3.4 95.7 3.8 95.2 4.6 95.3 5.4 95.35 5.9 95.1 6.4 94.7 6.9 94 7.4 93.3 7.9 92.4 8.1 91.7 8.4 91.1 9.2 90.5 9.9 90.2 10.7 89.7 11.4 89 12.2 88.7 12.9 88.3 13.6 88 14.6 87.95 15.2 88.5 15.8 88.8 16.4 88.5 16.9 88.8 18 88.9 19 88.5 19.8 88.2 20.5 87.8 21.1 87.5 21.3 87.9 21.5 88.2 22.1 88.3 22.8 88.2 23.5 88.5 23.8 88.9 24.2 89.4 24.7 89.8 25.2 90.2 25.7 90.7 26.4 91.3 26.9 91.6 27.6 92 28.3 92.8 28.7 93.6 29.2 94.3 29.7 95 30.3 95.7 30.9 96.7 31.4 97.5 31.65 98.4 31.3 99.2 31 100.4 30.8 101.5 30.9 102.2 31 103 31.25 104 31 105 30.5 110 30ZM97 -1.5 98 -1.2 98.7 -0.6 99 -0.2 99.4 0 100 -0.4 100.6 -0.7 102 -0.75 103 -0.8 105 -2 105 -4 97 -4ZM43.1 25.9 43.4 25.25 44.1 25.15 44 25.9Z" fill="#111" fill-opacity="0" stroke="#000" stroke-width="0.359" stroke-linejoin="round"/><path d="M26.65 11.5a0.35 0.45 0 1 0 0.7 0a0.35 0.45 0 1 0 -0.7 0ZM26 9.35a0.6 0.15 0 1 0 1.2 0a0.6 0.15 0 1 0 -1.2 0ZM27.6 9.6a0.2 0.5 0 1 0 0.4 0a0.2 0.5 0 1 0 -0.4 0ZM28.55 10.9a0.15 0.45 0 1 0 0.3 0a0.15 0.45 0 1 0 -0.3 0ZM29.28 11.7a0.12 0.3 0 1 0 0.24 0a0.12 0.3 0 1 0 -0.24 0ZM29.78 12.7a0.12 0.35 0 1 0 0.24 0a0.12 0.35 0 1 0 -0.24 0ZM31.2 15a0.3 0.15 0 1 0 0.6 0a0.3 0.15 0 1 0 -0.6 0ZM32.6 14.2a0.4 0.12 0 1 0 0.8 0a0.4 0.12 0 1 0 -0.8 0ZM30.85 13.6a0.25 0.2 0 1 0 0.5 0a0.25 0.2 0 1 0 -0.5 0ZM43.15 19.8a0.25 0.2 0 1 0 0.5 0a0.25 0.2 0 1 0 -0.5 0ZM43.85 21.35a0.15 0.25 0 1 0 0.3 0a0.15 0.25 0 1 0 -0.3 0ZM45.33 22.85a0.12 0.15 0 1 0 0.24 0a0.12 0.15 0 1 0 -0.24 0ZM43.55 20.6a0.1 0.15 0 1 0 0.2 0a0.1 0.15 0 1 0 -0.2 0ZM43.7 22.75a0.1 0.15 0 1 0 0.2 0a0.1 0.15 0 1 0 -0.2 0ZM43.15 23.9a0.1 0.1 0 1 0 0.2 0a0.1 0.1 0 1 0 -0.2 0ZM42.1 18.7a0.1 0.1 0 1 0 0.2 0a0.1 0.1 0 1 0 -0.2 0ZM43.08 18.9a0.12 0.1 0 1 0 0.24 0a0.12 0.1 0 1 0 -0.24 0ZM35.8 23.8a0.2 0.1 0 1 0 0.4 0a0.2 0.1 0 1 0 -0.4 0ZM36.55 23.8a0.15 0.1 0 1 0 0.3 0a0.15 0.1 0 1 0 -0.3 0ZM34.88 23.5a0.12 0.1 0 1 0 0.24 0a0.12 0.1 0 1 0 -0.24 0ZM40.18 17.7a0.12 0.06 0 1 0 0.24 0a0.12 0.06 0 1 0 -0.24 0ZM23.55 16.7a0.15 0.08 0 1 0 0.3 0a0.15 0.08 0 1 0 -0.3 0ZM13.35 36.5a0.45 0.5 0 1 0 0.9 0a0.45 0.5 0 1 0 -0.9 0ZM14.4 36.7a0.2 0.2 0 1 0 0.4 0a0.2 0.2 0 1 0 -0.4 0ZM15.35 36.85a0.15 0.1 0 1 0 0.3 0a0.15 0.1 0 1 0 -0.3 0ZM88.25 7.7a0.25 0.15 0 1 0 0.5 0a0.25 0.15 0 1 0 -0.5 0ZM89.15 8a0.25 0.2 0 1 0 0.5 0a0.25 0.2 0 1 0 -0.5 0ZM90.6 7.6a0.4 0.2 0 1 0 0.8 0a0.4 0.2 0 1 0 -0.8 0ZM91 7a0.3 0.15 0 1 0 0.6 0a0.3 0.15 0 1 0 -0.6 0ZM87 7.3a0.1 0.15 0 1 0 0.2 0a0.1 0.15 0 1 0 -0.2 0ZM87.68 7.9a0.12 0.1 0 1 0 0.24 0a0.12 0.1 0 1 0 -0.24 0ZM87.85 3.25a0.25 0.1 0 1 0 0.5 0a0.25 0.1 0 1 0 -0.5 0ZM80.35 21.05a0.15 0.12 0 1 0 0.3 0a0.15 0.12 0 1 0 -0.3 0ZM81.2 20.9a0.2 0.25 0 1 0 0.4 0a0.2 0.25 0 1 0 -0.4 0ZM82.05 19.9a0.15 0.15 0 1 0 0.3 0a0.15 0.15 0 1 0 -0.3 0ZM82 19.3a0.1 0.1 0 1 0 0.2 0a0.1 0.1 0 1 0 -0.2 0ZM79.65 19a0.25 0.15 0 1 0 0.5 0a0.25 0.15 0 1 0 -0.5 0ZM80.55 19.4a0.15 0.1 0 1 0 0.3 0a0.15 0.1 0 1 0 -0.3 0ZM72.52 39.85a0.08 0.06 0 1 0 0.16 0a0.08 0.06 0 1 0 -0.16 0ZM17.87 30.45a0.08 0.06 0 1 0 0.16 0a0.08 0.06 0 1 0 -0.16 0ZM23.25 23.45a0.05 0.05 0 1 0 0.1 0a0.05 0.05 0 1 0 -0.1 0ZM88.6 24.8a0.4 0.25 0 1 0 0.8 0a0.4 0.25 0 1 0 -0.8 0ZM89.2 24.5a0.3 0.2 0 1 0 0.6 0a0.3 0.2 0 1 0 -0.6 0Z" fill="#000"/><path d="M26 9.3 27.1 9.4M27.8 9 28 9.6 27.9 10M26.7 10.9 27.1 11.4 27.3 12M27 10.8 27.3 11.7M28.3 10.5 28.8 11 28.8 11.4M28.2 11.4 29.1 12.4M29.4 11.4 29.6 11.9M29.7 12.4 30.1 13M30.7 13.2 31.1 13.8M31.8 13.6 32.1 13.7M31.3 14.9 32 15M32.6 14.2 33.3 14.3" fill="none" stroke="#000" stroke-width="0.445" stroke-linecap="round"/></g>
</g>
<rect x="38.5" y="239.5" width="300" height="139" fill="none" stroke="#262626" stroke-opacity="0.4" stroke-width="1"/>
<path d="M52.61 239v2.8M52.61 379v-2.8M111.06 239v2.8M111.06 379v-2.8M169.5 239v2.8M169.5 379v-2.8M227.95 239v2.8M227.95 379v-2.8M286.4 239v2.8M286.4 379v-2.8M38 256.5h2.8M339 256.5h-2.8M38 285.67h2.8M339 285.67h-2.8M38 314.83h2.8M339 314.83h-2.8M38 344h2.8M339 344h-2.8M38 373.17h2.8M339 373.17h-2.8" stroke="#262626" stroke-opacity="0.45" stroke-width="1" fill="none"/>
<g opacity="0.999">
<text x="188.5" y="234.9" text-anchor="middle" font-weight="bold" font-size="11.75" fill="#000">DDM Peak SNR on 5-Jul-2020</text>
<text x="33.9" y="260.1" text-anchor="end" font-size="10" fill="#262626">30</text>
<text x="33.9" y="289.27" text-anchor="end" font-size="10" fill="#262626">20</text>
<text x="33.9" y="318.43" text-anchor="end" font-size="10" fill="#262626">10</text>
<text x="33.9" y="347.6" text-anchor="end" font-size="10" fill="#262626">0</text>
<text x="33.9" y="376.77" text-anchor="end" font-size="10" fill="#262626">-10</text>
<text x="52.61" y="392.7" text-anchor="middle" font-size="10" fill="#262626">-100</text>
<text x="111.06" y="392.7" text-anchor="middle" font-size="10" fill="#262626">-80</text>
<text x="169.5" y="392.7" text-anchor="middle" font-size="10" fill="#262626">-60</text>
<text x="227.95" y="392.7" text-anchor="middle" font-size="10" fill="#262626">-40</text>
<text x="286.4" y="392.7" text-anchor="middle" font-size="10" fill="#262626">-20</text>
<text x="188.5" y="407" text-anchor="middle" font-size="11.4" fill="#262626">Longitude (°)</text>
<text x="0" y="0" transform="translate(10.4 309) rotate(-90)" text-anchor="middle" font-size="11.4" dominant-baseline="central" fill="#262626">Latitude (°)</text>
<rect x="344.3" y="239.5" width="11.9" height="139.7" fill="url(#jet)"/>
<rect x="344.3" y="376.97" width="11.9" height="2.23" fill="#cccccc"/>
<rect x="344.3" y="239.5" width="11.9" height="139.7" fill="none" stroke="#262626" stroke-opacity="0.45" stroke-width="0.8"/>
<text x="359.6" y="381.9" font-size="9" fill="#262626">0</text>
<text x="359.6" y="356.13" font-size="9" fill="#262626">5</text>
<text x="359.6" y="330.35" font-size="9" fill="#262626">10</text>
<text x="359.6" y="304.58" font-size="9" fill="#262626">15</text>
<text x="359.6" y="278.8" font-size="9" fill="#262626">20</text>
<text x="359.6" y="253.03" font-size="9" fill="#262626">25</text>
<text x="350.25" y="233.9" text-anchor="middle" font-size="8.5" fill="#262626">dB</text>
<text x="189.8" y="432.2" text-anchor="middle" font-family="Liberation Serif" font-size="15" fill="#000">(k)</text>
</g>
<clipPath id="cp3"><rect x="475" y="238" width="299" height="140"/></clipPath>
<defs>
<path id="p3a" d="M77.09 -14.55L115.03 5.53M80.96 -8.33L99.95 1.19M102.76 10.17L119.61 21.04M101.96 11.96L124.85 26.35M58.86 -11.72L90.41 4.68M92.96 6L125.68 23.01M99.37 15.21L135.71 40.27M92.17 10.48L128 30.13M84.02 6.9L108.34 18.99M92.95 19.67L124.72 42.6M29.15 -23.98L64.59 -0.33M99.98 23.29L126.49 40.98M92.74 20.2L117.19 36.04M48.68 -5.6L77.61 11.44M72.2 9.75L99.8 28.04M91.04 19.62L100.98 24.95M58.86 2.56L75.32 14.47M56.32 1.28L88.05 23.88M66.58 8.66L104.58 27.47M49.26 1.15L83.25 19.9M85.87 21.35L106.93 32.97M62.85 9.54L90.75 26.66M71.31 15.19L98.93 31.94M48.29 2.06L55.2 6.34M81.44 23.08L109.71 40.54M54.09 6.94L73.43 18.61M76.54 20.49L107.79 39.35M67.03 15.13L104.46 36.83M62.86 14.19L71.18 19.94M64.48 16.16L101.4 40.58M31.7 -0.74L70.37 19.11M61.76 15.72L68.76 19.73M73.78 22.6L96.48 35.6M97.44 36.15L122.68 50.61M50.73 9.9L80.32 26.77M9.49 -12.07L43.59 6.62M32.44 -1.35L57.86 14.87M56.31 14.33L77.31 25.39M21.32 -8.77L56.6 15.74M62.86 20.08L94.89 42.33M29.86 -2.66L48.69 10.75M94.35 43.24L121.49 62.56M98.81 46.73L132.78 70.65M9.76 -8.26L48.75 13.21M53.41 15.78L64.99 22.16M27.72 1.54L51.01 14.82M87.62 40.74L115.13 60.33M-12.62 -15.38L24 2.79M66.26 23.75L81.85 31.49M21.76 -5.15L34.26 3.87M45.08 13.51L70.96 29.98M97.28 46.73L113.14 56.83M20.22 2.82L58.1 23.06M42.86 13.76L79.57 38.77M48 17.79L71.21 33.52M89.29 45.77L103.65 55.5M45.73 17L78.26 38.23M70.56 33.5L82.37 41.03M14.93 -1.74L29.86 7.91M-11.2 -9.29L5.82 -0.64M43.85 17.49L72.27 37.59M22.88 9.17L41.53 18.9M69.12 33.96L87.06 43.53M93.05 46.73L116.02 58.98M65.47 34L81.11 43.9M84.96 46.34L94.79 52.56M70.81 38.14L89.55 50.17M20.36 6.42L51.35 26.23M65.93 36.96L90.18 52.97M-11.07 -14.42L8.78 -0.74M81.79 44.61L107.06 57.84M13.93 9.06L28.8 17.25M36.22 21.34L58.17 33.42M10.46 8.25L27.76 17.44M22.74 13.77L59.94 35.62M-11.76 -6.79L20.65 12.66M-14.71 -7.13L22.89 15.18M10.57 7.78L36.05 23.29M41.76 26.77L51.43 32.65M67.5 44.86L85.85 57.75M-3.71 -1.12L11.71 8.61M70.14 45.52L102.24 65.79M24.38 17.04L53.44 36.45M28.88 19.68L49.88 35.11M51.31 36.16L63.94 45.44M29.89 21.19L50.58 36.13M57.7 41.27L77.1 55.28M10.66 14.07L23.54 21.68M-22.54 -0.7L12.97 18.25M54.82 41.29L91.98 60.27M55.57 42.88L70.67 50.82M30.6 29.36L44.19 38.55M14.73 18.67L49.04 42.4M30.06 30.16L58.33 49.51M47.97 43.14L71.48 58.4M-24.38 1.37L9.87 21.21M34.51 35.49L41.82 39.73M43.65 40.79L54.55 47.1M32.31 34.09L40.13 39.55M34.98 37.52L66.32 59.2M-12.47 6.73L18.83 27.46M-8.67 14.32L1.32 20.17M-7.79 15.91L0.57 20.72M6.23 23.98L34.14 40.02M39.14 42.89L46.33 47.03M14.48 27.2L21.75 32.03M32.64 40.93L63.47 58.59M-12.17 18.43L12.48 31.39M15.75 33.11L38.4 45.03M43.22 47.56L66.22 59.65M-12.93 16.73L16.81 33.64M-0.08 20.32L12.14 28.68M15.33 31.12L45.15 52.02M-26.74 12L2.28 28.05M3.17 28.54L29.14 42.91M31.66 44.31L47.77 53.22M-17.17 18.59L6.78 31.47M-6.59 18.92L22.57 39M28.23 42.9L43.63 53.5M-22.53 10.09L10.45 31.91M1.49 30.47L26.63 44.3M33.36 48L47.31 55.68M3.57 35.44L16.3 41.96M-28.83 19.09L1.29 34.66M-7.07 30.31L1.46 34.84M-12.72 30.06L7.92 40.88M-4.77 29.88L12.19 41.89M7.82 42.14L42.27 63.36M-0.65 36.77L19.84 49.88M-19.1 29.93L2.06 41.9M-31.74 18.6L2.76 41.58M-38.02 23.76L0.18 45.18M5.06 47.92L27.84 60.69M-18.26 39.17L15.82 58.27M-13.38 44.16L7.38 56.69M-8 5.07L7.15 -4.12M-29.51 23.53L1.71 2.68M-34.8 19.82L-0.54 1.56M1.59 0.42L23.95 -11.5M-1.58 6.06L11.12 -0.84M-7.31 16.15L14.43 1.23M6.3 2.89L19.43 -3.46M-14.04 20.7L23.88 -2.39M-28.14 33.09L9.86 8.99M7.85 13.7L22.55 4.43M5.25 15.73L40.45 -6.37M-28.95 36.61L4.69 15.99M9.94 12.77L43.44 -7.78M-1.55 22.47L15.26 11.31M16.12 11.87L25.02 6.07M-3.15 22.27L30.2 2.95M-8.56 26.88L1.89 20.6M6.82 17.65L15.49 12.44M-26.23 33.78L11.07 14.57M19.89 10.03L57.78 -9.48M-3.86 23.6L22.94 9.22M26.01 7.57L65.21 -13.46M48.09 0.43L69.61 -12.78M11.68 25.14L29.11 13.92M45.83 3.16L67.52 -10.81M-22.5 48.93L0.45 33.73M-23.57 38.64L0.6 26.85M4.91 24.74L43.81 5.77M46.11 5.06L81.32 -12.53M-20.69 45.65L8.95 28.67M-8.01 43.44L26.63 21.33M36.65 14.72L45.69 10.37M56.18 6.28L83.66 -8.99M-22.75 49.7L10.86 31.46M13.45 30.06L25.26 23.64M12.93 32.06L48.74 12.04M-23.29 50.45L15.09 30.54M44.27 15.42L62.34 6.05M70 2.07L86.51 -6.49M15 34.77L35.38 22.54M40.15 19.68L70.08 1.72M58 10.32L67.96 4.67M70.27 3.36L101.28 -14.22M25.99 29.9L53.99 12.82M60.86 8.63L97.99 -14.01M6.29 42.64L36.49 24.07M59.92 9.68L91.94 -10M54.43 13.59L80.34 -2.28M54.62 14.51L66.3 8.47M78.12 -0.22L95.32 -11.07M-14.03 55.13L10.25 41.34M36.52 26.42L69.89 7.48M75.68 4.19L108.94 -14.7M25.99 34.37L44.14 23.33M51.65 18.75L77.18 3.21M-7.94 51.3L7.22 43.43M14.91 39.44L33.12 30M73.26 9.17L97.14 -3.22M5.67 50.45L20.88 40.83M27.86 36.42L61.73 15.01M73.84 7.9L97.29 -7.05M4.62 52.47L35.26 33.03M67.83 12.37L90.55 -2.04M-9.13 62.16L22.39 41.96M45.32 27.27L76.26 7.46M33.12 36.36L62.16 18.56M54.84 23.75L74.87 11.26M94.2 -0.8L121.05 -17.55M34.76 37.03L43.24 31.61M72.5 13.28L88.74 2.83M-12.37 61.35L17.82 45.18M85.55 8.89L98.4 2M19.58 44.25L54.09 26.21M-9.58 58.74L15.84 46.62M52.55 29.58L86.57 13.14M88.64 13.02L126.84 -4.95M98.28 11.99L115.21 3.98M56.37 32.34L81.84 20.24M62.39 29.96L74.33 24.28M22.66 54.95L41.76 42.72M76.2 22.81L113.45 1.04M32.44 49.13L67.29 28.44M42.61 42.19L72.34 27.5M90.46 18.56L117.64 5.13M17.7 64.85L48.41 43.42M54.39 39.25L83.61 18.87M46.7 45.03L56.49 38.29M57.83 37.38L78.94 22.84M86.18 17.86L111.49 0.44M91.54 16.67L121.36 -2.7M35.22 53.81L54.32 41.35M56.54 41.01L83.37 23.08M91.36 17.74L113.66 2.83M100.97 12.27L111.79 5.14M70.38 32.65L82.07 24.69M42.62 52.6L62.26 39.11M70.73 34.54L94.47 18.17M94.62 25.15L131.62 4.75M97.55 27.32L119.38 16.85M69.31 44.02L104.12 27.51M68.75 44.61L80.73 36.72M74.53 41.22L106.07 20.18M57.41 52.56L96.6 31.76M85.23 38.79L115.72 21.98M51.08 58.26L74.86 46.26M77.15 45.1L88.95 39.15M61.52 54.78L76.02 46.83M79.52 44.91L92.28 37.92M73.49 50.69L111.31 28.01M95.17 37.59L128.94 15.89M58.55 62.41L82.13 46.8M83.06 46.18L100.7 34.51M102.2 33.52L135.35 11.58M96.68 45.07L104.98 40.89M72.4 57.89L100.79 43.36M81.29 54.28L106.87 41.24M97.27 47.68L134.04 29.47M70.2 62.37L103.74 45.14M93.09 53.7L121.79 36.66M22.78 0.69L28.75 0.51M-4.94 1.69L8.83 1.36M29.52 0.86L32.54 0.79M4.13 2.65L11.86 2.35M41.81 1.2L56.15 0.65M61.59 0.44L75.48 -0.09M-1.65 0.53L6.52 0.69M24.81 1.06L40.14 1.37M34.63 2.36L43.91 2.27M54.63 2.16L59.55 2.11M66.24 2.04L73.41 1.97M95.38 4.58L102.66 4.7M77.23 3.8L89.97 3.33M100.35 2.95L107.27 2.7M17.15 4.82L26.65 5.11M-1.83 5.41L9.89 5.6M14.38 5.68L26.5 5.87M64.41 6.5L73.99 6.65M56.19 7.03L64.94 7.08M71.23 7.12L84.87 7.2M23.21 8.47L33.28 8.65M43.44 10.18L54.8 10.43M62.37 10.92L76 11.1M14.39 12.5L29.93 12.54M51.16 12.58L54.39 12.59M78.09 12.65L87.91 12.67M-7.18 12.06L1.12 12.19M20.03 12.49L35.37 12.73M41.62 12.83L50.26 12.96M57.87 13.08L73.45 13.32M72.16 13.9L78.49 14.02M90.94 13.73L104.54 13.41M24.83 16.47L35.19 16.15M-6.51 18.56L2.31 18.26M18.67 17.7L28.53 17.36M103.47 18.71L111.23 18.86M39.87 19.1L46.48 19.29M93.48 20.61L105.9 20.96M14.91 18.68L27.94 19.09M42.71 19.57L51.2 19.84M-10.71 22.67L2.36 22.36M67.19 20.81L80.16 20.5M1.46 23.16L15.6 22.71M67.87 21.07L77.63 20.76M4.71 22.87L13.4 22.83M37.15 24.26L45.06 24.07M12.51 25.97L27.93 25.35M101.14 25.55L108.24 25.43M0.76 26.02L3.91 26.13M34.13 27.1L49.36 27.59M77.7 29.05L85.02 29.18M6.22 28.32L12.85 28.42M40.14 30.1L43.89 30.2M51.72 32.02L56.64 31.93M-1.57 33.27L12.52 33.37M5.61 32.43L14.68 32.8M20.21 36.09L31.87 35.97M47.94 35.81L57.03 35.71M71.09 35.57L83.3 35.44M6.09 36.64L11.59 36.71M-0.87 37.61L2.51 37.62M14.02 37.64L29.2 37.66M79.76 38.44L91.28 38.5M83.47 38.92L94.47 38.98M100.54 39.02L105.45 39.05M89.8 39.39L101.96 39.47M100.27 39.31L104.11 39.22M7.12 41.41L16.08 41.3M96.36 40.29L100.54 40.23M10.01 42.36L25.71 42.69M82.35 43.86L92.16 44.07M96.94 44.17L109.31 44.43M3.49 42.21L15.65 42.58M86.17 44.75L101.7 45.22M4.36 43.08L10.68 43.29M61.66 45.49L65.94 45.41M80.76 45.12L89.15 44.96M-7.84 45.03L3.39 45.27M6.36 48.14L14.51 48.04M51.73 47.56L65.66 47.39M89.57 47.08L103.16 46.91M-0.43 6.64L-0.24 2.79M11.3 51.33L11.05 48.91M12.54 25.52L12.73 23.81M15.02 27.46L15.27 24.81M23.9 41.57L24.19 38.84M25.22 29.15L25.53 26.27M26.4 18.1L26.76 14.69M26.26 37.09L26.37 33.42M31.88 50.33L31.86 47.31M36.89 3.75L36.82 1.02M38.91 27.14L39.09 25.45M41.72 -0.69L42.08 -4.27M40.22 31.45L40.08 27.9M43.42 4.36L43.69 1.82M46.51 30.19L46.53 28.38M51.45 46.08L51.58 44.2M53.7 14.5L53.83 12.6M68.24 7.63L68.4 5.83M67.55 27.25L67.78 24.36M72.51 36.42L72.69 34.79M76.79 11.41L76.66 8.18M77.46 15.98L77.34 13.2M84.26 32.67L84.37 29.33M102.92 47.79L102.86 44.58M103.85 18.4L103.5 14.82"/>
<path id="p3b" d="M101.74 -2.75L129.36 13.77M76.09 -17.39L106.02 2.38M76.6 -16.55L108.57 5.64M103.89 1.95L137.19 24.11M96.97 -2.13L105.94 3.81M92.66 -3.54L129.14 20.38M96.06 0.36L131.84 23.94M81.08 -8.92L115.33 13.52M84.78 -6.01L104.93 6.82M96.53 -0.67L122.96 13.27M100.6 1.86L128.75 15.65M80.36 -6.54L94.8 1.64M102.03 5.73L111.75 11.23M69.42 -12.17L96.56 3.75M101.59 6.7L113.57 13.73M80.54 -4.16L94.7 4.97M68.44 -11.46L90.23 2.63M98.01 7.65L109.21 14.89M56.58 -16.29L95.81 4.83M87.96 2.51L95.41 7.12M98.66 9.13L114.71 19.06M47.15 -22.49L81.39 -0.97M83.57 0.4L94.05 6.99M79.65 -1.04L87.29 4.29M70.83 -6.37L92.31 5.26M99.79 9.32L131.3 26.37M77.49 -2.36L110.46 15.29M58.34 -12.74L86.55 7.19M87.79 8.07L115.42 27.6M96.01 9.93L127.1 26.49M74.97 -0.74L83.92 3.98M91.78 8.12L114.8 20.26M70.59 -1.75L79.6 3.18M86.05 6.73L120.49 25.62M41.08 -17.54L74.82 0.96M78.02 2.72L88.61 8.53M47.84 -14.23L78.1 4.51M84.54 8.49L111.05 24.91M44.22 -12.9L69.26 -0.44M53.39 -8.96L91.8 14.2M39 -16.63L68.89 0.84M62.09 -2.68L75.34 5.26M79.72 7.88L89.1 13.5M62.83 -2.08L89.2 16.96M68.7 2.41L92.62 18.38M45.36 -12.69L70.25 3.99M76.7 8.31L100.71 24.41M34.97 -13.79L70.86 3.76M54.31 -4.53L67.81 3.11M74.49 6.89L96.38 19.28M103.99 23.59L112.26 28.27M55.48 -3.95L88.93 17.72M82.53 14.31L101.44 26.77M44.32 -8.8L82.62 14.04M82.47 14.3L119.28 35.97M57.88 0.26L69.97 8.27M58.44 2.12L72.79 9.82M75.83 11.45L89.49 18.79M45.16 -7.35L56.96 1.18M80.48 18.2L104.34 35.47M96.19 29.68L128.54 52.71M56.55 1.89L68.95 10.83M70.58 12.01L85.24 22.57M42.54 -2.83L81.84 16.67M87.74 19.6L126.69 38.92M52.51 0.72L89.14 25.83M91.65 27.55L111.12 40.9M35.66 -6.78L49.29 0.73M50.65 1.48L87.26 21.66M88.92 22.58L103.55 30.65M24.01 -12.79L47.11 -0.04M17.84 -18.07L56.04 5.36M94 28.65L125.91 48.23M48.46 1.33L64.74 11.21M58.78 8.55L87.86 26.56M90.26 28.04L123.39 48.54M24.01 -12.41L51.12 4.35M58.36 8.82L78.11 21.02M37.95 -1.73L62.41 12.45M19.4 -12.05L52.31 7.13M55.03 8.71L65.74 14.95M67.79 16.15L98.25 33.89M78.47 24.97L103.33 42.12M39.89 -0.11L60.71 13.66M71.84 19.86L99.17 33.88M101.55 35.1L133.29 51.39M33.31 -0.58L56.23 12.55M12.87 -11.68L47.65 8.14M85.91 29.96L99.04 37.45M52.02 11.24L60.94 16.13M84.06 31.59L116.99 52.61M32.54 1.81L54.01 13.12M81.89 27.8L102.63 38.72M25.28 -1.35L33.94 3.18M40.66 6.71L54.74 14.09M69.82 22L100.91 38.31M103.05 48L127.75 65.15M53.43 14.12L88.54 39.11M15.13 -12.19L37.54 3.58M65.92 22.68L97.9 40.29M99.64 41.25L132.67 59.44M54.14 16.61L72.49 27.07M28.65 -1.26L37.21 4.84M44.59 10.09L80.42 35.61M83.92 32.52L96.85 38.93M102.29 41.63L125.93 53.36M35.42 4.7L49.22 14.67M52.3 16.89L83.29 39.26M86.97 41.91L101.75 52.58M29.4 3.54L39.77 10.13M23.97 0.59L46.83 15.18M50.32 17.4L75.4 33.41M23.96 1.08L43.65 13.79M46.02 15.33L67.62 29.27M70.51 31.14L78.17 36.08M79.03 36.64L112.35 58.15M-12.62 -14.73L16.6 0.89M62.29 25.3L87.64 38.84M93.22 41.83L132.37 62.75M10.82 -8.06L39.64 11.57M80.98 39.73L105.05 56.12M23.9 1.46L44.99 15.75M73.59 35.13L81.5 40.49M23.95 2.78L41.75 14.4M84.04 42.01L100.61 52.83M5.89 -7.74L22.93 3.13M26.98 5.71L34.93 10.78M36.16 11.56L45.92 17.78M31.55 9L64.45 30.27M66.19 31.39L96.77 51.15M12.26 2.64L48.9 21.25M52.05 22.85L86.8 40.51M94.24 44.29L106.86 50.7M4.69 -10.21L36 11.93M77.32 41.15L91.44 51.15M-8.57 -18.79L21.39 2.24M25.29 4.98L61.23 30.21M67.53 34.64L75.54 40.26M80.18 43.52L108.03 63.07M-13.9 -10.01L19.25 7.28M50.21 23.42L70.42 33.96M26.92 11.45L45.78 21.51M51.97 24.82L67.66 33.19M23.71 7.58L60.41 30.8M13.95 1.65L25.43 9.02M28.77 11.16L65.2 34.54M-10.42 -13.25L13.54 2.06M55.41 28.82L82.86 46.37M24.69 9.24L52.45 27.6M59.27 32.1L93.8 54.94M18.92 5.92L30.16 13.35M32.39 14.81L59.28 32.57M31.33 16.69L61.98 33.82M68.72 37.59L101.01 55.64M33.66 16.41L60.06 34.61M61.73 35.76L88.63 54.3M32.97 19.05L45.7 25.72M-17.98 -8.51L9.58 6.67M62.06 35.57L83.32 47.27M-20.48 -8.18L6.95 6.39M74.08 42.04L112.7 62.56M-13.01 -7.23L17.73 10.82M63.92 37.95L76.23 45.18M77.67 46.03L101.47 60.01M28.83 17.57L57.54 34.8M61.89 37.41L91.22 55.01M26.13 17.09L58.41 36.25M60.84 37.69L90.95 55.56M53.25 33.76L63.26 39.85M66.24 41.67L97.21 60.52M-16.97 -14.48L2.24 -0.98M8.39 3.34L38.57 24.54M43.07 27.7L66.24 43.97M52.71 34.51L62.73 40.83M3.08 3.4L10.99 8.49M36.15 24.68L47.3 31.85M54.75 37.32L83.25 56.35M-13.89 -11.74L21.31 14.12M68.49 48.78L85.1 60.98M3.68 2.25L25.62 18.1M11.06 12.82L39.33 29.79M45.61 33.56L55.84 39.7M62.42 43.64L98.49 65.29M19.13 18.09L55.24 39.97M-20.22 -4.17L8.41 12.74M53.29 39.25L90.02 60.95M21.1 22.59L37.6 31.39M45.23 35.46L64.44 45.7M20.03 23.51L51.18 39.43M2.09 14.32L23.62 25.61M25.94 26.82L60 44.67M-19.58 3.42L6.21 16.96M3.47 16.19L28.65 29.52M61.45 46.87L96.97 65.67M50.12 42.56L77.35 60.97M-1.76 7.27L7.32 13.55M56.15 47.33L79.79 63.67M-3.98 6.87L22.82 25.21M-9.05 6.12L7.28 16.72M15.01 24.19L29.47 32.57M-19.43 4.22L3.92 17.92M11 22.08L18.22 26.31M23.8 29.59L61.27 51.58M-7.53 6.25L7.63 16.84M11.11 19.28L31.29 33.38M45.3 43.17L68.28 59.23M1.26 13.64L28.61 32.27M-6.51 8.82L10.76 20.77M20.57 28.62L39.35 41.06M-22.25 0.7L6.77 19.94M9.58 21.8L36.96 39.95M42.06 43.33L56.98 53.22M8.22 24.21L35.73 40.32M26.1 34.92L34.74 40.67M39.85 44.06L57.82 56M-24.84 6.52L6.78 25.07M14.36 29.52L37.28 42.97M44.25 47.06L57.39 54.77M-3.77 20.08L25.64 36.93M17.92 34.27L26.28 39.02M31.06 41.73L56.63 56.27M13.78 29.81L43.2 49.94M-20.27 6.17L12.69 29.27M8.45 32.37L42.49 50.67M-2.93 25.91L29.13 43.78M37.16 48.25L73.09 68.28M11.7 32.74L20.2 38.36M-26.46 12.25L0.06 28.44M2.69 30.05L9.65 34.31M15.21 37.7L22.4 42.09M26.26 44.44L58.12 63.9M-11.52 19.06L12.11 35.13M16.62 38.2L44.6 57.23M-29.51 18.5L-0.26 33.48M25.19 46.52L33.21 50.63M23.97 46.78L53.36 62.36M-22.29 26.29L1.77 37.97M4.45 39.27L36.42 54.79M16.06 45.15L33.3 54.19M-7.89 32.42L13.43 43.95M19.04 47L38.81 57.69M-13.5 24.33L23.54 49.01M-5.86 28.3L2.6 34.35M18.95 46.67L38.91 60.8M8.18 39.27L42.13 63.73M-9.07 31.73L3.42 39.42M-9.68 32.92L12.82 46.69M13.84 47.32L25.03 54.16M6.5 44.4L24.24 54.44M4.19 43.53L20.78 53M9.17 45.84L38.74 65.54M-1.7 41.29L13.45 50.52M-11.66 35.44L4.34 45.33M-15.86 36.88L1.39 46.51M3.93 47.93L22.51 58.31M-14.3 38.8L7.91 50.98M-6.73 42.56L26.25 61.67M-15.33 40.27L20.73 60.2M-8.41 45.98L12.2 57.32M-36.76 30.84L2.55 52.52M-12.95 43.94L-0.16 51.65M-17.18 9.3L18.28 -10.48M-35.09 19.87L1.87 -0.83M5.67 0.04L20.11 -9.61M-29.9 24.42L1.05 3.69M1.99 3.06L33.1 -17.79M-1.77 4.68L26.09 -11.44M-10.78 10.6L7.06 0.19M8.71 -0.76L45.56 -22.25M-0.4 5.34L24.92 -9.48M-5.26 13.26L25.61 -7.16M16.37 -0.1L24.79 -5.88M-13.28 19.93L22.46 -3.9M-25.45 30.95L8.22 7.74M11.31 5.61L39.24 -13.64M-15.48 24.4L21.29 -0.84M4.47 10.23L18.89 1.36M20.22 0.54L40.31 -11.82M-1.59 9.36L30.11 -5.36M15.76 5.25L40.54 -10.47M-27.08 33.02L10.87 9.22M17.72 4.93L55.71 -18.9M0.35 11.96L27.36 -1.56M-12.37 19.44L26.36 -0.32M-0.04 12.97L13.48 6.34M19.92 3.18L33.32 -3.39M-10.34 25.18L0.12 18.58M-25.79 35.23L1.86 17.86M19.42 8.55L46.65 -9.53M6.46 18.02L38.11 -3.03M-23.53 37.7L12.75 14.07M29.72 3.01L53.28 -12.34M17.12 11.47L53.88 -10.6M-29.33 40.07L1.69 21.36M6.1 18.69L21.64 9.32M23.86 7.98L48.26 -6.73M-5.25 24.54L26.09 7.9M8.38 18.45L43.38 -0.01M-0.18 23.52L8.04 19.19M15.9 15.04L51.92 -3.95M-4.46 25.8L28.87 8.64M30.15 7.98L46.49 -0.43M-2.56 29.19L34.86 6.49M43.12 1.48L58.12 -7.61M22.43 14.53L49.25 -0.61M-5.79 33.48L2.28 28.53M34.73 8.62L42.25 4.01M-25.18 46.18L12.78 22.77M15.52 21.08L45.8 2.41M-18.82 44.78L10.17 26.12M37.48 8.53L44.59 3.96M31.16 13.38L52.79 -0.95M48.65 3.4L58.78 -1.54M-22.4 39.27L13.47 21.36M16.44 19.87L41.82 7.2M-28.08 42.94L3.78 27.08M11.92 23.02L24.43 16.8M31.57 13.25L45.38 6.37M48.01 5.06L77.63 -9.68M-5.92 39.45L22.43 21.42M29.31 17.04L63.01 -4.4M10.64 27.7L32.01 15.46M39.42 11.22L70.36 -6.51M-19.92 49.44L16.14 26.99M21.28 23.79L57.04 1.53M32.85 17.35L64.48 -2.83M12.2 31.18L32.32 18.31M39.02 14.02L50.93 6.4M57.1 2.45L70.76 -6.29M3.84 30.54L15.27 25.03M17.07 24.16L32.5 16.72M50.16 8.21L65.63 0.76M67.36 -0.08L97.13 -14.42M-23.9 43.32L1.86 31.3M7.57 28.63L17.37 24.06M32.24 17.12L53.95 6.98M16.83 26.24L24.48 22.4M28.3 20.48L68.04 0.53M69.06 0.02L103.27 -17.15M26.79 22.61L50.87 9.23M30.47 20.82L45.5 12.66M-1.14 39.47L20.88 27.02M10.97 31.24L34.66 19.53M18.09 28.99L39.68 17.8M13.55 30.41L23.94 25.56M-21.86 56.89L10.42 37.52M-5.26 46.18L31.97 25.08M-13.18 54.6L3.15 44.57M-18.22 58.11L3.15 45.01M9.99 40.82L47.25 17.99M-6.6 46.17L28.99 27.76M37.42 23.41L53.58 15.05M73.61 4.68L92.9 -5.29M-13.96 57.9L15.68 39.19M17.14 38.27L26.36 32.45M29.3 30.6L53.19 15.51M59.69 11.42L71.46 3.99M-1.73 47.49L35.36 26.55M39.54 24.19L69.58 7.23M76.43 3.36L113.81 -17.74M13.08 39.74L33.02 28.41M-14.82 54.48L3.37 44.6M9.35 41.35L33.25 28.37M39.67 24.89L69.59 8.64M73.46 6.54L111.45 -14.09M-13.98 58.71L21.76 36.95M-14.75 53.77L21.25 35.34M29.8 30.97L37.96 26.79M45.98 22.68L78.93 5.82M85.49 2.46L109.03 -9.59M40.68 26.07L69.16 11.3M1.09 52.59L34.62 31.51M36.3 30.46L46.93 23.77M52.3 20.4L69.11 9.83M73.56 7.04L110.3 -16.06M64.7 13.13L86.84 -0.87M25.59 38.66L52.25 21.66M57.9 18.06L68.5 11.3M40.84 29.49L66.53 13.2M23.92 40.98L43.63 28.36M79.86 5.15L110.49 -14.47M15.24 49.22L41.6 30.94M57.64 19.81L81.04 3.58M84.07 1.48L91.45 -3.64M-12.59 64.37L25.5 41.02M65.72 16.38L92.57 -0.07M-14.34 66.91L20.33 45.29M21.83 44.35L47.91 28.08M78.62 8.92L86.58 3.95M17.18 48.27L29.03 40.7M44.98 30.5L74.76 11.45M82.96 6.2L119 -16.84M14.88 50.38L43.46 31.98M93.64 -0.33L131.31 -24.58M26.24 40.67L41.7 32.38M48.41 28.79L80.52 11.58M99.58 1.37L125.53 -12.53M-13.87 61.74L17.02 45.59M37.9 37.23L53.97 27.16M59.41 23.75L85.96 7.09M92.92 2.73L108.19 -6.85M-11.91 70.82L25.5 46.26M29.29 43.76L45.4 33.18M47.05 32.1L56.62 25.82M64.69 20.51L82.27 8.97M85.63 6.76L111.76 -10.41M19.08 45.08L46.13 32.19M54 28.44L93.35 9.68M101.54 5.78L141.57 -13.3M91 11L100.03 6.64M49.72 31.34L86.73 13.92M26.64 46.42L49.63 32.53M55.77 28.82L63.19 24.33M57.9 28.45L85.96 10.31M94 5.11L124.49 -14.6M17.6 52.65L51.61 32.71M60.21 27.67L80.47 15.79M83.14 14.23L95.04 7.25M96.13 6.61L134.38 -15.82M30.06 46.27L46.62 36.36M47.75 35.68L56.46 30.47M60.03 28.33L76.62 18.4M84.19 13.87L107.63 -0.16M10.88 58.02L28.43 47.65M35.23 43.63L68.84 23.76M70.81 22.6L108.86 0.11M7.19 55.16L26.21 46.14M33.4 42.74L52.41 33.73M56.04 32.01L93.74 14.15M-10.61 64.15L22.17 48.58M40.45 39.9L50.55 35.1M85.23 18.63L106.3 8.62M11.06 54.36L37.79 41.65M42.88 39.23L54.64 33.64M89.35 17.14L100.91 11.64M44.71 40.83L77.77 19.67M81.49 17.29L119.25 -6.89M0.62 66.99L35.06 46.86M42.69 42.4L69.69 26.62M72.9 25.11L90.76 14.5M97.98 10.21L118.22 -1.81M13.93 56.36L39.53 43.71M80.51 23.47L88.68 19.43M19.08 58.2L39.19 46.2M40.28 45.55L58.43 34.73M28.81 55.82L60.53 34.16M62.21 33.01L83.13 18.73M85.57 17.06L122.26 -7.99M89.34 14.87L115.78 -3.58M27.84 57.93L63.63 34.24M66.06 32.64L86.49 19.12M88.81 17.58L112.67 1.8M32.77 54.84L45.65 46.48M47.18 45.48L54.62 40.65M57.77 38.6L65.76 33.41M69.65 30.88L84.93 20.96M57.71 39.14L77.41 26.29M78.3 25.71L109.58 5.31M62.45 36.78L83.98 24.26M85.29 23.5L116.41 5.4M25.37 62.11L55.07 42.53M62.99 37.31L94.64 16.44M50.79 45.98L66.46 35.31M67.91 35.22L91.24 19.18M99.44 13.55L129.43 -7.06M25.77 65.42L57.86 42.83M65.96 37.12L100.85 12.56M42.87 53.77L69.66 35.29M98.16 15.62L117.03 2.6M91.54 21.28L121.6 1.12M39.53 54.28L75.47 35.02M96.38 23.82L135.4 2.91M48.55 50.21L58.02 45.74M65.59 42.17L94.97 28.3M101.14 25.39L134.21 9.78M52.81 49.27L88.6 32.2M59.33 47.47L97.02 23.2M102.43 19.72L122.65 6.69M45.76 56.82L80.93 34.13M87.96 29.59L112.68 13.64M68.36 42.74L100.72 21.23M34.25 60.63L65.24 45.94M31.8 68.95L62.14 48.97M84.64 34.14L99.03 24.67M46.61 59.85L69.37 44.66M98.12 30.95L109.21 25.07M60.03 51.73L71.67 45.51M78.37 41.93L103.74 28.37M62.78 51.17L80.18 41.58M70.89 47.36L94.82 32.17M102.54 27.26L132.86 8.01M92.91 37.15L114.82 26.1M66.54 51.11L102.31 31.27M68.91 50.23L103.82 30.38M93.52 37.24L118.26 23.67M61.03 56.32L94.42 35.4M100.1 31.83L107.18 27.4M62.12 56.14L84.56 41.96M88.65 39.37L119.71 19.75M74.78 48.64L110.6 26.2M71.45 51.61L101.99 35.72M71.59 52.22L78.45 47.93M84.37 44.23L98.83 35.17M83.29 48.29L103.36 37.4M75.63 52.58L90.22 43.14M94.81 40.16L109.78 30.47M57.84 64.63L84.21 47.78M89.68 44.28L112.68 29.59M93.72 45.49L116.42 33.68M103.53 41.96L115.86 35.65M103.59 42.14L114.42 36.48M96.74 50.09L113.91 41.55M93.19 53.05L107.08 45.96M98.16 50.32L122.76 35.95M102.72 51.05L122.16 41.04M101.3 48.98L111.33 42.07M82.38 64.03L118.92 46.18M3 -0.72L17.89 -0.87M4.83 1.22L9.74 1.07M37.51 0.25L44.67 0.04M56.89 -0.32L61.39 -0.45M67.84 -0.65L73.86 -0.82M77.53 -0.93L86.4 -1.19M14.4 1.22L18.45 1.13M49.41 0.39L56.46 0.22M68.97 -0.08L82.77 -0.41M31.46 1.6L35.37 1.45M74.04 2.05L82.72 2.23M101.15 2.6L111.17 2.8M86.51 1.84L94.3 1.76M25.33 3.39L32.11 3.51M37.26 3.6L41.4 3.67M75.5 4.24L87.76 4.45M7.96 6.34L20.2 5.9M31.85 5.47L35.83 5.32M-8.46 4.05L0.89 4.33M47.84 5.75L63.27 6.21M80.99 6.75L88.22 6.96M34.98 6.01L43.11 6.15M86.45 6.86L99.92 7.08M-5.1 6.68L8.11 6.76M23.22 6.85L34.27 6.91M89.03 7.22L96.05 7.26M-7.39 8.03L1.03 8.09M16.64 8.21L22.19 8.25M26.94 8.29L35.48 8.35M49.84 8.46L54.24 8.49M70.77 8.62L83.88 8.72M91.9 8.78L100.66 8.84M2.02 8.09L7.51 8.19M41.89 8.81L46.98 8.9M55.35 9.05L59.72 9.13M84.26 9.57L96.89 9.8M100.97 9.87L112.87 10.09M0.32 10.07L14.02 10.26M80.1 11.16L93.04 11.33M102.13 11.46L107.23 11.53M33.18 12.54L36.54 12.55M60.61 12.61L68.03 12.62M87.19 13.54L91.24 13.6M0.13 12.57L6.89 12.69M13.31 12.81L25.24 13.03M54.91 13.58L65.59 13.78M87.11 14.18L97.96 14.38M3.78 15.77L18.51 15.43M59.57 14.47L70.6 14.21M2.36 17.18L15.55 16.76M44.22 15.87L52.91 15.59M60.15 15.37L65.94 15.19M79.75 14.75L95.47 14.26M103.75 14L111.19 13.77M33.7 17.19L38.68 17.02M62.12 16.22L70.65 15.93M75.68 15.76L90.58 15.25M3.31 16.8L11.07 16.95M29.04 17.29L42 17.54M58.56 17.86L68.26 18.04M79.13 18.25L91.68 18.49M6.29 18.16L19.34 18.52M31.32 18.86L35.99 18.99M55.61 19.54L61.88 19.72M67.79 19.89L71.4 19.99M79.32 20.21L85.14 20.38M3.23 18.3L9.49 18.5M96.57 21.3L107.92 21.67M11.75 22.14L18.62 21.97M36.5 21.55L43.72 21.37M47 21.29L61.5 20.95M93.41 20.19L98.52 20.06M30.75 22.24L40.28 21.94M44.79 21.79L50.58 21.61M84.9 20.53L91.3 20.33M22.7 22.79L38.44 22.73M46.62 22.69L56.78 22.65M69.69 22.59L80.36 22.55M102.03 22.45L117.45 22.39M9.13 24.93L18.19 24.71M22.41 24.61L30.68 24.41M37.65 24.96L49 24.5M67.63 23.75L78.41 23.32M94.53 22.67L98.35 22.52M23.88 26.77L35.74 26.58M49 26.37L52.82 26.31M72.08 26.01L86.89 25.77M6.9 27.37L12.3 27.29M16.29 27.24L29.27 27.07M46.54 26.85L59.95 26.67M68.03 26.57L75.85 26.47M80.23 26.41L93.18 26.24M103.21 26.11L109.08 26.03M71.43 28.3L78.45 28.53M90.39 28.91L96.78 29.12M7.74 27.77L22.35 28.04M43.75 28.43L58.08 28.69M68.08 28.87L72.1 28.94M90.06 29.27L103.63 29.52M52.68 29.05L57.49 29.12M71.95 29.35L77 29.43M96.32 29.73L105.39 29.87M2.7 27.99L9.82 28.21M51.66 29.49L66.39 29.94M80.52 30.38L84.26 30.49M12.38 29.37L24.39 29.69M81.61 31.18L85.82 31.29M-9.12 32.11L4.32 31.97M12.91 31.89L25.33 31.76M47.13 31.55L57.25 31.45M72.57 31.3L79.14 31.23M86.93 31.15L99.81 31.03M27.6 32.47L30.75 32.41M69.79 31.68L79.11 31.51M82.39 31.45L89.01 31.32M93.83 31.23L107.37 30.98M66.46 33.77L71.01 33.81M87.91 33.93L92.51 33.97M102.56 34.04L111.51 34.11M24.02 33.18L34.52 33.61M86.87 35.75L102.76 36.4M0.22 36.3L10.41 36.19M86.99 35.4L98.89 35.28M30.96 36.94L41.82 37.07M53.13 37.21L58.41 37.27M96.74 37.73L103.82 37.81M48.57 37.69L61.52 37.71M79.25 37.73L88.11 37.74M-0.93 38.02L14.25 38.1M23.26 38.15L27.63 38.17M43.4 38.25L58.37 38.33M-2.07 38.42L12.99 38.51M54.92 38.75L70.8 38.84M5.67 38.86L13.79 38.91M23.75 38.97L37.7 39.06M51.79 39.15L56.24 39.18M66.81 39.25L82.57 39.35M5.34 41.42L14 41.23M25.31 40.97L29.59 40.88M37.23 40.71L47.31 40.49M59.42 40.22L64.01 40.11M76.67 39.83L90.85 39.52M31.24 41.11L35.67 41.05M64.13 40.69L71.34 40.6M74.55 40.56L84.94 40.43M1.99 42.05L12.46 41.89M29.61 41.64L35.53 41.55M40.51 41.47L54.64 41.26M96.37 40.64L104.64 40.52M67.18 43.55L74.44 43.7M31.95 43.08L35.18 43.18M47.12 43.55L50.47 43.65M68.52 44.21L75.84 44.43M60.92 45L71.82 45.37M95.85 46.18L106.93 46.56M12.98 46.42L28.02 46.13M46.21 45.78L56.29 45.59M20.85 45.65L30.72 45.86M47.66 46.23L62.31 46.55M71.8 46.75L84.82 47.03M100.91 47.38L112.49 47.63M25.49 47.9L29.97 47.84M39.37 47.72L46.9 47.62M71.9 47.31L84.73 47.14M-0.8 14L-0.7 11.94M1.66 29.01L1.61 25.34M1.29 4.02L1.25 1.34M2.44 43.78L2.38 40.32M1.99 15.97L1.94 12.89M3.29 46.01L3.23 43.96M3.08 38.73L3.02 36.55M2.15 6.63L2.1 4.62M7.52 13.99L7.19 10.74M11.82 17.75L12.12 14.63M9.87 49.5L10.16 46.96M13.86 33.46L14.07 31.4M16.95 2.36L17.33 -1.45M13.08 48.17L13.36 45.14M14.27 35.51L14.5 33.01M20.56 23.59L20.68 21.58M22.02 -0.4L22.24 -3.93M22 51.26L22.01 48.82M22.09 18.57L22.1 15.66M26.66 23.69L26.77 19.92M31.71 27.34L31.69 23.5M31.62 14.67L31.59 11.01M37.61 31.99L37.53 29.11M39.21 5.69L39.14 3.9M46.35 43.37L46.39 39.87M46.73 11.91L46.75 9.76M52.86 33.67L52.99 31.45M53.96 16.02L54.1 13.75M60.37 22.77L60.73 19.67M61.67 11.43L62.08 7.85M64.73 47.98L64.89 46.14M67.11 26.26L67.43 22.62M69.17 3.22L69.42 0.44M70.18 49.58L70.4 47.41M71.65 35.21L71.83 33.37M74.39 8.3L74.63 5.92M75.13 1.01L75.54 -2.94M74.4 13.82L74.66 11.32M73.94 23.14L74.2 20.77M75.19 11.58L75.57 8.04M78.28 49.2L78.17 46.24M78.79 48.55L78.69 46.04M78.2 34.16L78.1 31.76M78.62 34.81L78.5 30.85M77.83 9.46L77.72 6.21M83.92 31.11L83.99 28.71M84.12 24.16L84.18 22.05M84.58 7.95L84.62 6.45M84.7 18.69L84.77 16.69M85.06 7.46L85.15 4.56M86.77 46.34L86.59 43.67M84.78 16.78L84.53 13.11M93.2 38.66L92.98 35.66M91.32 13.07L91.18 11.08M91.64 9.13L91.52 7.29M94.14 41.71L93.94 38.52M93.15 26.11L92.99 23.52M92.71 19.17L92.6 17.39M96.61 35.52L96.87 33.34M97.36 29.19L97.63 27M98.98 15.69L99.18 14.05M102.52 25.46L102.45 21.6M103.16 35.77L103.13 33.05"/>
<path id="p3c" d="M86.71 0.41L122.42 22.17M89 5.49L120.56 27.53M64.57 -8.79L96.62 13.31M75.36 -1.07L92.16 7.88M97.37 12.23L124.68 26.98M70.83 0.34L80.43 5.11M96.97 17.31L123.85 33.52M91.88 15.16L123.12 33.87M78.02 7.26L111.61 23.68M44.35 -10.83L81.05 13.34M87.96 17.22L97.57 22.95M100.71 24.82L127.42 40.75M91.72 27.24L124.11 50.59M41.61 -3.7L58.77 4.8M31.18 -8.53L47.39 1.51M20.01 -13.62L50.55 4.81M99.23 34.46L108.67 39.97M22.3 -13.79L54.83 8.65M64.36 18.01L91.23 32.74M98.85 36.91L128.5 53.17M62.28 17.7L76.2 26.58M39.73 5.13L59.74 19.22M67.38 24.6L96.83 45.34M80.85 31.83L109.34 48.08M30 5.77L61.4 21.34M2.09 -13.84L26.87 1.93M75.66 32.97L90.26 42.26M78.1 35.14L103.05 51.05M-5.72 -16.6L23.08 2.21M54.25 23.1L62.92 28.62M74.76 36.22L112.05 55.66M7.15 -2.9L15.73 2.52M-16.08 -17.71L19.65 5.91M-11.6 -7.32L22.68 11.85M10.66 0.56L32.27 15.45M9.45 6.74L31.89 18.49M51.73 28.87L79.41 43.36M35.32 21.45L68.03 38.83M12.86 9.34L48.5 31.85M14.73 10.9L28.05 19.46M53.13 35.61L81.13 53.62M-16.25 -3.57L3.52 8.29M3.03 8.33L14.07 15.02M61.28 43.63L97.73 65.72M29.4 25.14L48.08 36.17M14.07 21.09L50.4 40.17M-25.04 1.11L0.18 14.45M35.83 33.31L60.55 46.4M-9.28 2.39L26.42 26.53M10.55 18.85L40.46 38.27M13.35 22.55L20.14 27.26M25.16 30.72L33.76 36.67M41.39 42.41L66.4 58.98M36.89 41L66.8 58.51M-23.11 2.21L11.98 25.54M23.9 40.81L57.57 63.09M-8.64 23.96L1.62 30.16M9.74 35.07L48.24 58.33M8.32 38.48L18.88 44.08M-7.01 32.06L25.1 48.05M14.86 43.71L32.93 52.53M6.04 36.81L24.45 49.98M-27.28 13.72L6.1 37.77M-15.44 26.34L0.41 37.63M3.21 39.63L20.61 52.03M-8.79 9.84L26.17 -9.49M30.18 -0.38L53.61 -15.17M11.99 14.26L38.25 0.06M32.73 4.38L63.37 -11.89M-1.45 30.18L34.03 5.2M40.04 0.97L74.91 -23.58M-0.97 23.38L7.21 19.07M-21.9 41.2L13.61 19.77M-21.09 39.08L15.5 18.44M46.92 1.71L62.56 -7.94M7.59 29L24.91 17.52M-17.79 50.37L10.5 32.27M21.05 22.34L31.27 17.57M58.33 4.94L80.05 -5.2M-23.43 46.44L10.08 29.62M-24.53 51.13L9.64 32.14M16.98 28.06L24.75 23.74M25.88 24.2L64.37 2.43M-24.04 52.74L6.32 35.76M53.22 9.53L85.03 -8.26M-8.63 40.92L3.55 34.91M-17.21 44.76L8.75 32.65M25.23 24.96L46.76 14.92M47.76 14.45L75.81 1.37M37.36 22.02L55.86 11.53M4.65 42.91L17.98 34.78M-10.23 61.5L17.78 43.64M44.14 29.18L53.39 22.76M47.45 29.42L66.54 17.12M61.23 22.48L90.66 7.09M96.46 4.06L131.27 -14.14M-0.34 61.22L35.87 38.51M-13.42 61.46L25.01 42.89M101.71 5.83L140.07 -12.71M15.49 47.45L43.54 34.25M30.86 45.93L50.88 32.99M27.65 45.98L34.92 42.53M63.55 31.67L88.97 16.51M95 12.91L107.13 5.67M40.8 49.36L59.79 38.32M36.94 54.11L53.86 42.8M87.33 21.11L96.18 15.08M99.12 13.08L121.63 -2.23M103.15 10.93L116.6 1.46M48.52 50.13L84.49 26.01M82.38 31.31L89.45 27.53M59.16 44.7L91.35 26.96M49.28 50.48L89.37 31.25M96.94 28.22L114.41 19.89M59.08 48.91L66.23 44.16M102.66 32.77L120.98 21.3M58.31 64.42L94.43 46.21M77.17 55.94L98.42 44.84M82.3 54.44L114.17 38.47M75.21 58.6L96.1 48.26M89.03 52L128.89 31.17M102.1 -0.88L112.43 -1.12M92.17 -0.73L99.37 -1M43.89 1.45L57.78 1.72M8.12 2.63L21.12 2.49M0.23 2.97L6.83 3.08M60.43 3.99L71.06 4.17M63.97 9.2L67.55 9.27M-3.16 9.15L12.78 9.5M25.26 9.77L32.63 9.94M69.03 10.74L83.26 11.05M87.83 11.15L101.49 11.45M34.26 10.53L42.93 10.65M-2.81 12.46L2.94 12.47M91.26 12.68L106.21 12.71M35.25 13.22L50.33 13.5M27.27 15.22L32.59 15.1M42.03 14.88L51.34 14.66M44.94 16.8L53.92 16.5M66.51 20.33L75.8 20.63M66.91 23.55L81.57 23.2M88.58 23.03L91.72 22.96M0.26 27.15L11 26.98M56.92 27.84L68.25 28.2M30.61 28.7L41.11 28.86M23.91 28.64L37.81 29.07M51.84 30.41L60.76 30.64M7.78 32.84L21.03 32.59M29.5 33.5L45.27 33.62M37.69 33.74L45.6 34.06M67.53 34.96L76.74 35.33M75.48 37.47L84.36 37.58M92.44 37.75L108.28 37.77M49.94 40.87L55.2 40.8M75.46 40.95L86.93 40.78M30.61 43.97L38.56 44.24M78.81 45.6L86.55 45.87M92.9 44.89L108.73 44.58M96.89 48.97L101.79 48.93M1.89 44.05L1.86 42.06M8.77 49.15L9.1 45.75M15.1 2.5L15.38 0M16.11 15.85L16.29 13.89M22.02 44.25L22.03 42.1M27.77 5.21L28.16 1.55M37.2 44.14L37.54 40.82M39.55 14.45L39.42 11.14M41.51 22.67L41.74 20.43M58.31 40.82L58.57 38.53M66.61 26.35L66.81 24.09M71.06 45.33L71.25 43.52M77.86 38.44L77.71 34.61M93.34 36.24L93.14 32.96M91.6 1.72L91.47 -0.33M103 22.33L102.96 18.92"/>
<path id="p3l" d="M59.04 -8.48L88.8 7.6M73.91 3.78L108.32 23.89M103.3 30.35L119.28 40.94M56.54 15.04L68.55 21.33M88.87 45.18L101.59 53.29M-17.89 -12.45L18.5 6.96M-14.91 -16.41L12.79 1.88M-4.67 -0.65L7.58 5.76M85.58 48.52L117.43 66.06M-20.29 -11L6.69 5.42M-4.54 -2.27L17.84 12.67M-24.94 0.54L14.57 20.73M35.22 36.77L48.61 45.89M7.95 38.1L45.66 57.59M-33.17 20.28L7.21 39.98M31.29 2.32L42.3 -4.06M-16.98 29.93L7.31 16.79M20.9 15.36L45.14 0.74M4.22 27.34L32.81 9.8M60.41 -0.57L96.8 -23.22M49.81 10.32L68.03 0.44M36.34 18.7L65.67 4.21M68.94 2.6L101.35 -13.42M42.08 20.64L55.26 12.54M27.54 41.67L47.42 32.06M70.53 19.91L103.35 0.08M-4.25 68.63L26.84 48.53M76.61 23.2L87.82 17.87M19.41 66.62L56.26 46.3M65.69 56.53L88.49 41.88M59.89 60.99L82.18 48.89M85.31 57.09L110.63 41.95M77.88 64.57L111.33 41.91M51.9 4.73L58.41 4.49M12.77 26.41L18.91 26.61M75.38 33.84L78.44 33.86M23.69 38.57L38.83 38.66M46.18 43.11L51.47 43.22M47.57 44.54L52.69 44.72M8.68 25.42L8.52 23.83M19.21 45.65L19.38 42.9M102.74 -0.64L102.72 -2.51"/>
<path id="p3e" d="M96.59 -5.52L119.07 5.87M84.05 -10.2L101.22 0.5M92.02 -1.02L104.35 5.76M75.43 -9.59L107.88 6.89M95.51 1.03L103.98 5.28M81.75 -3.29L121.18 16.12M78.39 -3.68L108.61 14.59M69.9 -3.91L106.39 20.53M74.81 0.61L93.13 12.35M76.68 3.2L93.42 12.95M79.14 5.21L107.54 21.73M82.17 11.51L93.66 17.58M26.88 -18.36L59.89 0.71M67.82 5.29L105.92 27.3M39.84 -6.24L67.92 7.77M94.05 28.55L124.38 49.32M40.84 -2.73L60.65 7.07M40.27 -4.34L63.44 10.81M100.87 35.28L117.69 46.28M17.77 -20.47L53.85 4.99M99.44 37.16L125.88 55.81M66.09 14.03L96.9 35.16M98.18 36.04L112.35 45.76M89.6 29.72L102.59 36.95M20.1 -11.71L42.67 2.75M32.07 -3.16L50.72 8.61M36.81 -1.02L49.04 7.47M52.06 9.57L81.04 29.7M86.14 33.25L119.56 56.46M87.83 31.52L114.15 45.71M102.9 40.37L131.03 55.69M64.69 20.15L91.22 33.32M67.18 21.98L74.74 25.76M10.63 -8.85L32.13 4.41M55.42 20.04L78.54 32.85M92.03 40.33L104.05 46.85M51.26 20.65L65.85 28.38M67.7 29.36L101.41 47.19M27.7 8.09L62.68 27.29M66.04 29.13L83.45 38.69M90.26 42.43L128.55 63.45M3.41 -10.75L18.5 -0.22M30.55 8.18L66.41 33.22M85.32 43.65L122.78 64.81M-12.62 -5.33L16.01 9.3M41.6 22.37L72.62 38.21M90.25 47.22L107.17 55.86M54.14 29.9L76.49 42.24M75.05 46.29L112.01 68.66M7.74 11.37L29.21 22.51M48.54 32.53L87.28 52.61M31.61 21.95L58.82 40.25M65 44.4L79.33 54.04M45.9 32.87L66.89 47.39M20.74 21.88L37.38 30.37M45.72 34.63L56.22 39.99M39.24 31.93L65.82 45.36M72.58 48.78L109.3 67.32M63.12 45.35L77.97 52.72M7.46 18.33L17.59 23.34M42.21 36.32L56.97 44.98M-18.27 -2.54L4.49 12.23M24.73 25.97L50.43 42.45M54.14 44.83L81.49 62.37M-19.46 -2.61L2.09 11.98M3.05 12.62L37.51 35.96M-24.25 3.52L5.1 19.84M7.94 21.42L41.01 39.8M31.02 36.94L47.64 46.39M-0.31 18.26L32.24 38.14M39.17 42.37L73.63 63.43M-0.5 23.73L20.5 34.47M36.39 43.06L62.18 56.03M-0.73 24.63L9.26 29.71M14.91 39.8L34.5 52.33M12.57 38.72L37.31 54.75M-28.98 11.66L4.56 33.79M24.95 47.25L35.75 54.37M-32.59 20.32L3.37 38.34M-27.3 15.89L10.08 39.49M-30.07 19.97L6.01 44.18M11.54 47.89L32.56 62M-16.99 28.47L5.74 44.16M10.98 47.78L39.21 67.27M-21.72 35.03L17.31 54.78M8.23 48.81L42.81 71.42M-0.44 46.72L17.31 57.94M-36.4 23.85L2.68 3.67M20.09 0.35L50.33 -19.29M-4.01 16.66L7.77 8.99M-2.2 14.31L34.59 -6.92M9.55 9.46L22.16 2.52M31.58 -0.2L65.13 -23.55M27.11 3.46L49.24 -11.93M7.81 14.52L34.76 -1.58M10.85 18.04L34.06 1.9M-3.02 23.68L28.69 7.08M-9.18 32.61L9.55 21.47M-9.53 33.01L-0.67 27.79M39.87 5.87L50.73 0.6M20.17 20.75L56.61 -3.48M-2.47 36.9L29.28 15.44M-3.44 38.32L12.02 27.82M1.69 28.43L16.69 21.49M19.21 20.33L39.81 10.8M-1.82 34.75L15.35 26.46M39.03 15.04L65.19 2.41M-22.88 45.88L16.27 26.72M18.94 25.41L56.15 7.2M-24.32 47.89L4.17 33.62M1.58 42.85L27.2 26.96M35.5 21.81L71.01 -0.21M-14.16 53.38L19.28 32.81M13.32 35.08L28.57 27.65M37.08 23.5L66.55 9.13M78.32 0.94L96.62 -11.09M90.32 4.07L110.22 -5.41M37.18 33.58L67.82 13.98M89.63 0.03L100.37 -6.84M60.97 19.7L84.58 6.4M24.76 40.6L62.16 19.57M-18.87 59.66L10.02 46.03M12.87 44.69L47.29 28.46M52.75 25.88L79.53 13.25M88.52 9.01L109.55 -0.91M15.52 45.85L51.37 27.35M-14.35 63.28L16.13 47.29M12.61 54.54L39.91 37.56M41.67 36.46L78.39 13.63M19.02 51.37L53.74 30.19M19.03 51.53L48.58 33.75M29.83 45.39L37.2 41.39M42.89 38.3L58.02 30.08M15.24 54.15L33.38 44.14M37.37 41.93L57.85 30.61M56.96 33.55L80.66 17.93M53.8 36.47L78.91 22.41M87.49 17.6L126.41 -4.2M63.38 31.63L73.98 25.81M78.54 23.31L93.63 15.03M74.07 27.62L97.8 16.12M102.45 13.87L141.8 -5.22M78.16 24.99L92.37 17.28M10.87 62.78L47.93 42.1M91.67 17.11L114.05 3.67M13.65 63.8L48.5 43.36M68.46 31.66L100.54 12.85M80.62 31.89L118.21 12.95M53.54 47.05L90.87 27.9M60.54 45.15L96.89 25.13M42.63 55.98L66.67 43.94M99.36 27.57L127.87 13.3M70.6 42.54L82.11 36.88M64.34 46.81L86.92 32.3M101.43 30.83L127.89 18.11M53.23 54.35L92.75 35.88M73.4 49.66L81.03 45.55M72.49 50.8L108.57 31.47M63.37 59.71L82.8 46.93M81.7 57.64L112.83 35.73M84.06 57.21L100.82 45.75M78.15 62.73L103.98 45.56M90.89 56.58L116.16 39.85M94.45 54.55L125.61 33.61M22.77 0.57L34.79 0.41M19.91 2.33L32.38 2.08M76.93 1.17L88.22 0.94M37.62 2.36L47.94 2.23M-11.08 2.64L4.15 2.85M21.95 3.1L26.99 3.17M81.82 3.93L84.88 3.97M3.18 6.26L8.82 6.36M22.78 6.6L29.79 6.72M4.27 9.87L10.22 9.93M44.22 10.29L53.98 10.39M2.86 10.46L12.22 10.53M45.25 10.77L49.36 10.8M79.54 13.35L85.07 13.22M-2.02 16.35L10.69 15.93M56.15 14.43L59.98 14.3M76.18 13.77L86.07 13.44M-0.51 16.31L13.03 16.44M42.42 16.71L51.22 16.79M87.1 17.13L93.65 17.19M5.78 19.47L19.46 19.73M48.81 20.28L60.07 20.49M98.72 21.21L107.04 21.36M20.49 22.07L26.15 21.97M43.37 21.66L59.32 21.38M64.95 21.28L70.47 21.18M17.69 23.67L23.1 23.55M90.06 22.07L99.48 21.86M-0.91 25.14L9.81 24.79M32.03 24.08L38.22 23.88M-7.29 25.04L3.51 24.85M48.23 24.04L61.94 23.79M66.05 23.71L82 23.43M102.48 23.05L116.84 22.79M-12.56 25.52L-0.75 25.6M63.74 26.03L73.3 26.09M54.64 26.37L62.97 26.34M-5.05 26.74L5.79 26.75M44.7 26.8L57.26 26.82M35.34 27.59L48.27 27.6M-0.45 28.1L10.17 28.1M54.21 29.51L60.69 29.58M99.24 29.97L109.29 30.07M89.29 30.19L95.71 30.22M100.32 30.24L113.36 30.3M26.93 33.09L32.71 32.95M73.59 31.98L80.29 31.82M73.66 32.22L77.94 32.07M31.15 34.15L35.89 34M73.2 32.84L79.14 32.66M83.51 32.52L87.61 32.4M0.75 34.19L15.45 34.77M56.13 36.37L71.83 36.99M71.05 37.78L75.12 37.92M62.38 40.31L68.52 40.21M99.67 39.73L110.49 39.56M59.13 40.76L73.27 40.57M29.09 43.2L43.18 43.43M79.67 44.02L90.66 44.2M61.61 46.25L75.66 46.84M50.4 48.71L56.87 48.79M7.7 40.12L7.55 36.63M6.85 20.05L6.77 18.04M17.83 46.14L17.87 44.61M18.45 40.43L18.48 38.7M18.81 22.45L18.86 19.89M26.18 32.64L26.18 28.96M26.74 27.12L26.72 24.31M26.67 10.69L26.65 7.21M38.24 13.52L38.49 9.82M37.86 27.34L38.05 23.65M47.89 51.44L48.02 47.5M51.11 11.84L50.95 9.7M60.92 37.04L60.84 34.24M67.88 47.48L67.78 45.25M77.32 25.04L77.53 22.27M79.19 50L79.62 46.57M81.17 34.2L81.54 31.3M92.69 14.65L92.58 11.55M92.74 4.13L92.61 0.4M92 -7.33L106.4 1.91M86.65 -10.93L113.1 2.62M94.03 -3L108.66 5.41M90.46 -2.77L119.6 15.32M66.95 -15.16L101.49 3.33M78.43 -7.53L92.59 -0.43M103.92 10.08L112.84 15.49M72.45 -8.51L105.21 11.92M65.99 -9.83L88.34 3.91M94.97 7.99L115.73 20.75M97.93 10.71L122.8 26.25M73 -2.96L104.85 19.48M101.39 17.65L110.89 23.74M70.94 -1.36L86.29 8.59M90.91 11.58L113.8 26.42M98.61 15.97L131.8 35.29M69.36 -0.48L77.86 4.47M52.71 -8.19L87.01 9.03M93.69 12.38L115.87 23.52M35.5 -18.1L73.01 3.95M80.82 8.55L102.57 21.33M59.72 -2L82.18 9.09M90.81 13.35L127.62 31.53M101.53 21.74L113.68 28.15M61.4 0.66L81.09 13.86M86.07 17.2L109.92 33.19M34.82 -14.56L57.73 0.84M59.18 1.82L82.77 17.67M72.2 11.28L79.02 16.02M82.79 18.63L116.57 42.07M71.02 9.32L91.42 19.49M94.83 21.2L129.73 38.62M55.48 2.13L91.28 26.65M35.43 -5.04L51.56 3.06M53.39 3.98L88.26 21.5M89.62 22.19L121.4 38.15M53.68 3.6L74.96 18.1M83.01 23.58L92.99 30.39M64.34 11.4L95.77 31.95M41.09 -3.11L63.09 11.97M45.61 1.54L73.2 20.45M77.7 23.53L94.44 35.01M98.91 38.08L106.26 43.11M13.92 -13.54L52.14 7.86M60.37 12.47L69.34 17.49M77.24 21.91L99.53 34.4M28.87 -4.11L56.94 11.52M59.84 13.13L69.19 18.34M71.39 19.57L83.17 26.13M103.5 37.46L136.02 55.57M46.08 4.94L59.54 13.56M57.39 12.81L89.23 32.91M91.69 34.45L116.29 49.98M4.56 -13.39L43.32 7.51M50.66 11.47L86.5 30.8M27.66 -0.61L62.25 18.23M63.68 19.01L79.1 27.41M82.64 29.34L95.52 36.35M29.56 1.73L58.9 16.72M93.96 34.62L110.49 43.07M33.93 4.86L55.81 15.73M94.38 34.89L117.16 46.21M24.08 0.5L32.94 4.92M38.73 7.8L65.74 21.27M81.81 29.28L111.93 44.29M65.75 24.02L82.67 35.58M83.77 36.33L103.85 50.04M36.58 7.16L73.17 29.73M78.69 33.14L111.35 53.29M17.29 -1.07L49.55 16.79M84.71 36.26L123.9 57.96M-8.61 -14.27L21.33 1.98M27.51 5.32L56.47 21.04M61.83 23.95L84.38 36.18M25.49 2.78L39.97 12.35M47.67 17.44L65.58 29.26M71.37 33.09L95.37 48.95M11.45 -0.4L46.37 18.07M102.94 48L135.14 65.03M6.13 -3.76L25.25 6.74M20.08 0.88L29.43 7.41M69.1 35.09L93.71 52.27M31.53 12.56L68.37 33.81M74.09 37.11L103.43 54.03M-11.07 -10.79L21.19 7.43M23.88 8.95L31.91 13.49M40.17 18.15L79.09 40.14M4.91 -5.67L31.98 12.78M35.18 14.96L68.91 37.95M71.08 39.43L89.58 52.04M20.46 11.57L33.66 18.31M8.93 4.96L17.12 9.48M19.23 10.65L49.36 27.27M85.03 46.94L122.71 67.73M-15.48 -6.52L0.21 2M6.43 5.38L18.73 12.06M19.88 12.68L35.57 21.2M38.39 22.73L73.02 41.53M77.01 43.7L115.42 64.55M-14.09 -9.07L11.83 6.98M13.16 7.8L30.63 18.61M35.86 21.85L50.87 31.14M55.08 33.74L83.4 51.27M-12.39 -6.62L23.21 14.92M30.19 19.14L68.13 42.1M49.96 32.72L78.08 46.76M-7.55 3.45L5.39 10.16M-18.53 -11.78L13.24 9.59M15.04 10.8L26.39 18.44M23.5 17.1L53.53 37.26M57.48 39.91L94.67 64.87M22.61 16.76L38.08 27.46M-20.44 0.87L12.09 17.47M-22.52 0.74L6.6 15.45M12.73 18.55L33.11 28.84M-27.35 0.47L5.97 17M7.93 17.97L21.22 24.56M-23.91 2.81L2.81 16.03M26.36 27.68L61.59 45.11M-17.22 1.46L5.84 14.99M9.88 17.36L33.63 31.29M9.73 15.63L41.64 36.33M42.61 36.96L63.38 50.43M-20.58 -3.09L9.29 16.07M13.72 18.91L21.79 24.08M-19.18 5.85L15.75 24.23M18.02 25.43L52.59 43.63M-12.08 8.61L27.01 30.23M28.71 31.16L61.25 49.16M41.23 38.47L71.76 59.15M49.59 44.57L71.35 56.67M11.16 21.27L27.81 32.26M35.88 37.59L68.45 59.08M25.9 31.94L60.98 54.35M50.06 47.77L89.1 69.97M25.75 37.16L53.59 51.41M-17.08 16.18L5.35 27.46M11.15 30.37L29.42 39.56M18.04 34.17L26.29 38.36M31.35 40.92L39.43 45.03M1.06 21.37L26.48 38.07M-29.99 11.9L9.57 32.93M13.67 35.1L40.74 49.49M-5.04 22.46L28.06 43.26M32.3 45.92L54.05 59.59M4.73 29.48L40.43 51.51M4.97 30.53L12.87 35.43M16.15 37.46L38.72 51.45M-5.2 30.28L13.95 40M16.52 41.3L53.88 60.26M-6.58 30L30.55 48.89M25.22 45.87L51.13 61.25M-17.28 19.22L12.11 38.01M-26.08 13.68L11.39 37.96M5.72 34.56L20.09 44.04M10.07 41.7L38.54 55.96M14.04 41.99L34.36 54.82M-17.3 23.37L10.66 40.71M14.49 43.09L21.55 47.47M-26.66 15.19L8.34 38.93M10.12 40.13L23.78 49.39M-4.15 36.1L16.22 48.13M-11.1 32.58L25.54 54.19M-36.56 17.68L0.72 40.55M7.44 44.67L32.55 60.07M-2.51 38.86L6.48 44.46M11.24 47.42L32.12 60.43M0.72 47.07L19.9 56.61M-16.72 38.86L11.27 52.78M-19.23 30.86L6.89 47.93M-11.48 36.66L11.72 51.67M-34.8 23.41L0.17 46.06M-18.59 39.22L1.99 50.96M-18.77 40.43L5.55 54.87M-37.88 29.69L-0.6 51.78M-10.65 5.26L25.74 -16.69M-10.24 3.85L17.44 -11.07M-4.13 1.28L21.56 -11.82M-2.81 3.09L20.61 -9.32M-30.76 27.68L6.31 2.64M-5.33 11.21L16.07 -2.53M-37.07 23.29L0.72 3.99M8.73 -0.11L36.06 -14.08M6.2 1.85L44.72 -18.03M-14.96 13.7L14.68 -0.93M3.81 10.92L12.66 5.18M-30.27 30.87L6.81 9.52M11.21 6.98L24.15 -0.46M-1.4 14.4L10.66 7.96M1.24 14.04L8.39 10.1M-8.5 27.71L0.42 21.39M1.74 20.45L24.49 4.33M31.06 -0.33L58.68 -19.9M-22.86 38.18L6.21 17.98M10.81 14.78L20.65 7.94M-29.57 36.84L5.1 16.14M1.25 16.08L10.74 11.22M-5.48 20.05L24.92 4.57M26.77 3.63L47.46 -6.91M-25.05 43.01L8.42 19.73M17.66 11.58L54.52 -9.95M-29.54 37.48L9.66 16.65M13.27 14.73L43.18 -1.17M-26.11 34.88L12.22 15.95M18.11 13.04L27.32 8.49M32.33 6.02L54.93 -5.14M11.54 20.28L44.84 0.48M0.94 26.84L16.79 17.5M-1.38 25.31L17.47 16.2M25.68 12.23L54.11 -1.51M24.86 15.39L55.53 -1.98M-22.2 48.92L12.46 25.88M35.79 11.04L56.13 -2.71M45.3 5.2L52.94 0.01M-8.13 32.66L14.52 22.06M48.89 5.98L64.11 -1.14M48.75 6.66L75.32 -5.63M-22.04 41.04L1.39 30.17M33.36 15.32L73.38 -3.25M-21.69 49.27L7.4 32.35M0.27 36.7L15.39 28.04M24 23.11L43.26 12.08M23.13 22.71L33.16 17.87M71.57 -0.66L103.12 -15.89M60.34 5.15L86.46 -7.64M12.86 29.26L52.38 9.46M54.93 8.19L95.07 -11.92M1.72 42.69L22.27 29.32M26.45 26.61L54.04 8.67M-6.69 47.41L13.22 35.47M18.39 32.38L51.87 12.3M57.2 9.11L95.64 -13.94M24.28 29.73L60.56 7.41M67.05 3.41L76.94 -2.67M-4.36 46.73L5.39 41.09M12.59 36.93L43.61 18.99M-21.11 51.87L8.62 37.37M70.85 7.04L97.45 -5.93M15.07 39.2L51.69 17.88M53.67 16.72L78.96 2M17.68 40.82L37.46 27.82M41.44 25.2L71.75 5.26M8.55 47.32L32.39 31.71M39.4 27.12L71.09 6.36M75.2 3.67L110.71 -19.58M-14.79 64.76L10.59 48.13M15.25 45.08L25.55 38.33M32.32 33.9L45.17 25.48M75.16 5.83L98.42 -9.4M-14.93 54.23L2.31 46.02M7.61 43.49L35.46 30.22M41.76 27.22L52.69 22.01M61.01 18.04L85.98 6.14M13.81 48.37L21.06 43.58M22.16 42.86L29.45 38.04M13.11 48.97L32.33 36.68M72.27 11.13L84.56 3.27M6.22 50.55L16.32 44.86M19.95 42.81L53.18 24.09M85.74 5.75L99.43 -1.97M67.32 16.67L76.74 11.37M80.07 9.5L89.75 4.05M93.73 1.81L129.85 -18.5M54.02 25.98L84.29 10.35M88.36 8.25L113.86 -4.92M22.14 44.14L48.13 30.51M50.71 29.15L79.11 14.25M86.55 8.56L105.4 -3.17M59.14 26.9L93.22 6.11M53.66 30.7L74.46 18.19M61.82 28.02L94.48 10.28M97.28 8.76L133.22 -10.76M61.43 28.63L91.42 12.06M34.62 47.86L42.04 42.79M87.3 11.85L114.39 -6.66M21.13 57.16L55.61 34.44M88.59 12.71L121.96 -9.28M8.25 61.99L46.11 40.78M35.35 47L56.4 35.46M31.01 48.51L71.13 29.05M9.44 62.3L37.8 46.9M40.36 45.51L49.09 40.77M55.74 37.16L70.97 28.89M95.01 15.84L116.13 4.37M52.59 39.5L86.36 20.67M25.32 56.95L53.36 40.11M59.86 36.21L83.29 22.14M50.44 42.22L59.94 36.66M78.54 25.78L104.16 10.17M43.62 48.78L77.18 28.67M81.15 26.29L98.96 15.61M82.2 29.73L112.93 14.5M22.45 60.18L46.11 48.29M50.61 46.03L72.83 34.87M80.21 31.16L111.7 15.34M27.48 58.36L55.64 44M58.54 42.51L73.24 35.02M74.51 34.36L98.52 22.12M47.41 48.62L77.46 33.47M11.16 68.79L51.06 48.32M22.5 66.11L55.19 48.1M97.83 24.6L125.57 9.32M68.03 43.26L98.23 28.14M89.98 33.01L99.37 28.4M92.76 28.54L100.48 23.58M65.96 46.32L91.7 29.26M48 55.67L69.67 45.68M34.73 62.9L72.04 44.96M97.46 33.67L118.14 24.01M64.24 51.41L99.98 26.16M71.28 47.06L92.94 31.91M80.72 41.22L95.27 31.22M99.69 28.19L117.97 15.64M65.72 53.16L89.13 39.57M94.67 36.35L111.76 26.42M88.79 41.37L101.12 34.73M59.25 58.26L89.8 42.41M75.32 50.43L107.15 33.87M75.43 51.71L93.92 40.47M90.11 42.13L98.29 36.75M100.56 35.25L124.77 19.33M78.48 52.17L98.85 41.24M82.45 50.64L93.08 44.98M53.71 66.56L89.65 47.25M94.3 44.75L113.52 34.42M90.31 50.71L128.66 32.34M95.85 48.02L117.26 37.28M90.39 49.84L126.65 26.58M78.33 58.17L102.59 42.51M103.58 41.86L113.83 35.25M72.42 64.69L99.78 45.45M96.44 51.58L128.46 30.82M-7.47 0.98L2.41 0.85M73.9 -0.12L85.57 -0.28M0.17 2.73L15.76 2.42M97.34 0.76L100.8 0.69M-3.26 2.89L2.46 2.82M12.15 2.69L16.06 2.64M22.87 2.55L30 2.46M89.04 1.69L99.93 1.55M35.63 3.29L46.19 3.43M55.46 3.56L69.54 3.76M94.29 4.1L100.03 4.18M45.08 6.98L60.04 7.24M81.65 7.61L88.77 7.73M17.94 10.01L23.97 10.07M68.6 10.55L79.19 10.66M99.84 10.88L110.04 10.99M21.05 10.6L25.54 10.63M67.3 10.93L79.9 11.03M13.09 15L23.59 14.74M44.86 14.21L57.75 13.89M99.35 12.86L115.29 12.47M28.27 15.35L37.09 15.06M42.42 14.88L50.79 14.61M92.65 13.22L101.7 12.92M20.78 16.51L24.32 16.54M28.91 19.9L43.85 20.18M79.43 20.85L84.33 20.94M79.69 21.02L87.9 20.87M101.38 20.64L108.46 20.51M33.38 23.33L49.23 22.97M64.82 22.63L72.77 22.45M16.72 24.57L25.48 24.29M51.57 23.45L65.59 23M84.8 22.38L100.02 21.89M10.9 25.68L21.63 25.75M39.13 25.87L54.95 25.97M81.28 26.15L94.43 26.23M97.73 26.25L104.43 26.3M8.07 26.53L16.69 26.5M20.04 26.49L24.6 26.47M32.97 26.44L43.2 26.41M13.52 26.76L22.31 26.77M35.2 26.79L38.93 26.79M103.19 26.87L117.95 26.89M-8.57 27.57L0.04 27.58M19.75 27.58L31.66 27.59M58.63 27.6L69.67 27.61M87.79 27.61L101.31 27.62M30.15 28.11L40.33 28.11M61.27 28.11L69.26 28.11M73.4 28.11L82.43 28.11M86.94 28.11L98.92 28.11M9.38 29.05L18.16 29.14M30.58 29.93L39.85 29.97M10.18 33.49L14.65 33.38M47.9 32.59L51.82 32.5M91.53 31.56L103.57 31.27M-11.06 35.25L2.73 34.76M24.06 33.99L32.52 33.69M43.64 33.29L53.13 32.95M81.54 31.94L89.87 31.64M-8.46 35.38L5.17 34.95M13.08 34.71L22.95 34.4M47.62 33.64L60.73 33.23M95.76 32.14L105.99 31.83M19.62 34.93L30.22 35.35M4.92 34.95L15.97 35.35M30.15 35.87L41.25 36.27M61.91 37.02L75.25 37.51M85.45 37.88L96.9 38.29M12.55 35.75L22.38 36.09M28.88 36.31L32.26 36.43M46.76 36.94L53.18 37.16M59.92 37.39L67.94 37.67M93.55 38.56L97.3 38.69M22.08 37.03L34.5 37.25M41.27 37.37L49.3 37.51M74.65 37.96L89.74 38.23M32.18 40.77L40.6 40.64M76.96 40.08L82.47 40M76.96 40.52L83.46 40.43M96.38 40.26L107.31 40.11M-6.7 42.62L-0.32 42.73M4.76 42.81L20.5 43.06M64.87 43.78L69.73 43.86M13.09 44.23L22.74 44.63M92.68 47.55L98.16 47.77M-1 47.44L10.47 47.6M28.88 47.87L38.21 48.01M5.8 48.15L14.77 48.26M80.65 49.13L93.02 48.92M91.38 49.29L106.38 48.99M6.41 9.46L6.32 7.41M7.53 23.97L7.43 22.02M7.01 13.67L6.84 10.15M18.23 30.32L18.33 26.5M18.78 8.27L18.86 5.47M25.8 37.56L25.55 34.45M24.99 27.49L24.71 24.02M26.17 19.86L26.17 16.17M36.78 47.52L36.98 43.86M38.93 7.18L39.04 5.18M47.83 44.03L47.92 40.19M48.29 25.56L48.36 22.48M48.88 21.71L48.97 19.19M49.3 9.44L49.4 6.27M51.4 42.89L51.29 41.08M53.23 41.67L53.06 39.18M51.74 20.66L51.55 18.01M50.42 2.15L50.3 0.48M60.14 9.5L60.04 5.97M66.6 18.88L66.44 15.26M79.11 1.52L79.24 -0.2M82.83 16.01L83.21 12.53M84.11 10.81L84.3 9.32M85.13 2.72L85.51 -0.35M82.78 25.53L83.02 23.64M93.88 45.87L93.73 41.89M94.31 47.84L94.18 44.35M93.22 17.35L93.11 14.44M101.41 37.99L101.62 35.78M101.68 41.91L101.89 39.48M103.02 31.32L103.28 28.68M98.78 -3.82L121.01 10.14M82.39 -2.98L95.62 5.04M76.02 -4.25L110.6 17.17M58.29 -14.07L95.63 9.27M50.73 -5.11L78.45 9.54M39.38 -11.5L68.82 8.93M100.46 26.76L122.44 37.63M94.55 31.45L118.21 47.57M58.04 7.94L76.41 20.91M81.2 24.29L93.12 32.7M63.47 19.05L88.99 32.08M-8.07 -16L26.35 1.1M26.73 -2.62L62.9 22.08M15.81 3.49L27.77 10.39M-16.16 -8.88L0.99 0.59M-24.1 -4.26L6.59 11.07M9.51 12.52L46.5 30.99M33.07 24.51L46.6 31.52M58.3 41.05L79.19 51.71M66.77 47.67L86.37 57.37M59.75 46.61L79.54 58.22M59.68 47.36L72.18 53.94M-8.8 8.11L4.62 16.96M-19.65 2.85L18.21 27.03M-3.55 17.28L25.61 33.86M31.33 41.26L41.2 47.74M5.26 28.1L43.14 50.02M14.83 39.7L23.72 44.98M-0.82 37.29L25.93 53.26M-0.5 38.62L32.44 61.33M-21.1 9.52L14.71 -10M-7.22 13.14L21.93 -3.2M15.42 5.41L26.7 -0.61M-12.53 21.62L-0.52 15.01M-6.87 26.56L24.75 4.55M15.04 9.02L46.61 -7.13M36.87 2.8L46.58 -2.29M24.67 12.86L45.77 0.42M-0.95 25.68L34.77 8.35M-5.56 28.76L34.71 8.92M36.05 8.26L51.79 0.51M2.57 28.02L23.37 16.24M20.77 19.14L43.87 8.33M4.19 28.87L28.4 17.63M39.85 13.47L77.12 -8.22M51.85 7.16L88.46 -13.81M59.89 4.87L86.3 -12.31M62.52 8.06L95.27 -10.87M-13.73 55.97L10.95 41.6M-14.53 62.01L15.49 42.27M50.57 21.94L66.91 11.24M-15.85 63.44L19.35 43.65M84.87 11.23L115.98 -5.1M-7.99 65.94L24.37 48.36M98.81 7.98L112.05 0.67M48.28 38.53L65.74 26.6M99.12 12.02L132.38 -6.22M103.24 11.26L139.35 -9.91M27.71 56.49L53.17 43.6M57.32 41.5L93.79 23.03M102.32 18.71L130.48 4.45M41.31 49.98L78.67 31.47M94.76 25.91L126.06 9.85M102.21 27L135.53 10.62M72.81 44.23L108.67 27.69M74.32 43.87L99.97 31.53M100.21 26.82L109.88 20.06M47.66 63.92L72.82 46.64M93.72 40.37L110.03 31.92M97.56 42.6L135.45 22.45M75.61 55.64L104.44 36.11M54.2 0.14L65.34 -0.01M103.97 -0.53L113.15 -0.66M47.91 1.76L57.96 1.56M66.18 1.99L76.66 1.86M84.25 11.06L96.94 11.15M-8.8 15.54L4.78 15.21M59.55 16.87L69.24 16.96M-0.65 22.44L2.73 22.38M77.4 22.35L85.46 22.17M22.27 24.51L30.83 24.35M1.56 26.55L4.76 26.54M73.1 26.3L76.16 26.29M92.58 26.24L103.98 26.2M31.13 29.27L45.27 29.42M9.38 29.83L18.95 29.87M60.3 30.06L67.29 30.09M82.27 37.4L93.32 37.83M1.53 36.67L15.23 36.91M62.43 37.75L67.11 37.83M9.83 41.12L13.48 41.06M22.75 40.92L28.89 40.82M29.54 41.16L42 41M-4.98 43.47L3.66 43.83M36.16 45.19L47.43 45.66M43.07 48.08L56.96 48.28M81.75 48.64L88.66 48.74M26.57 48.41L32.33 48.48M67.08 48.92L78.04 49.05M7.9 31.4L7.81 29.63M35.93 48.51L36.09 45.99M36.42 40.99L36.57 38.82M48.72 7.85L48.79 5.04M50.22 23.97L50.09 21.98M49.6 14.05L49.4 10.86M53.85 50.32L53.57 46.42M52.83 30.6L52.63 27.47M50.84 0.04L50.59 -3.74M76.54 35.25L76.67 33.54M80.69 35.21L81.02 32.25M84.15 18.6L114.49 39M65.29 9.36L97.81 25.45M65.66 17.49L102.34 40.99M73.82 38.83L88.69 46.43M-1.26 0.48L20.91 15.36M-12.04 -7.21L20.5 15.3M23.61 25.75L55.12 41.38M-5.84 27.43L7.55 35.38M13.97 4.96L35.19 -8.85M-4.4 24.46L9.21 16.51M16.37 24.86L44.48 5.76M9.11 31.36L38.79 14.09M46.46 17.34L54.9 12.46M37.06 33.02L69.42 11.66M75.47 7.66L102.5 -10.18M100.34 1.76L122.98 -12.05M79.63 15.08L116.82 -7.3M66.63 25.99L79.41 17.25M92.63 17.16L103.95 10.85M43.78 46.96L75.85 27.42M41.83 56.68L64.79 45.4M93.38 28.14L120.63 10.08M98.3 37.8L122.09 23.34M73.99 26.84L82.93 26.85M79.36 29.77L90.75 29.88M42.76 35.84L48.07 36.05M0.36 41.56L9.83 41.43M62.52 48.36L77.04 48.57"/>
<mask id="dp3" maskUnits="userSpaceOnUse" x="-5" y="-5" width="115" height="60">
<rect x="-5" y="-5" width="115" height="60" fill="#000"/>
<radialGradient id="p3d0"><stop offset="0" stop-color="#fff" stop-opacity="0.55"/><stop offset="0.5" stop-color="#fff" stop-opacity="0.44"/><stop offset="1" stop-color="#fff" stop-opacity="0"/></radialGradient>
<ellipse cx="50" cy="6" rx="35" ry="8" transform="rotate(0 50 6)" fill="url(#p3d0)"/>
<radialGradient id="p3d1"><stop offset="0" stop-color="#fff" stop-opacity="1.04"/><stop offset="0.5" stop-color="#fff" stop-opacity="0.84"/><stop offset="1" stop-color="#fff" stop-opacity="0"/></radialGradient>
<ellipse cx="15" cy="11" rx="9" ry="5" transform="rotate(0 15 11)" fill="url(#p3d1)"/>
<radialGradient id="p3d2"><stop offset="0" stop-color="#fff" stop-opacity="0.33"/><stop offset="0.5" stop-color="#fff" stop-opacity="0.26"/><stop offset="1" stop-color="#fff" stop-opacity="0"/></radialGradient>
<ellipse cx="65" cy="21" rx="25" ry="8" transform="rotate(15 65 21)" fill="url(#p3d2)"/>
<radialGradient id="p3d3"><stop offset="0" stop-color="#fff" stop-opacity="0.61"/><stop offset="0.5" stop-color="#fff" stop-opacity="0.48"/><stop offset="1" stop-color="#fff" stop-opacity="0"/></radialGradient>
<ellipse cx="33" cy="21" rx="12" ry="5" transform="rotate(0 33 21)" fill="url(#p3d3)"/>
</mask>
<mask id="mp3_0" maskUnits="userSpaceOnUse" x="-5" y="-5" width="115" height="60">
<rect x="-5" y="-5" width="115" height="60" fill="#000"/>
<radialGradient id="p3g0_0"><stop offset="0" stop-color="#fff" stop-opacity="1.00"/><stop offset="0.55" stop-color="#fff" stop-opacity="0.80"/><stop offset="1" stop-color="#fff" stop-opacity="0"/></radialGradient>
<ellipse cx="35" cy="4" rx="11.25" ry="5" transform="rotate(0 35 4)" fill="url(#p3g0_0)"/>
<radialGradient id="p3g0_1"><stop offset="0" stop-color="#fff" stop-opacity="1.00"/><stop offset="0.55" stop-color="#fff" stop-opacity="0.80"/><stop offset="1" stop-color="#fff" stop-opacity="0"/></radialGradient>
<ellipse cx="45" cy="4.5" rx="15" ry="5" transform="rotate(0 45 4.5)" fill="url(#p3g0_1)"/>
<radialGradient id="p3g0_2"><stop offset="0" stop-color="#fff" stop-opacity="1.00"/><stop offset="0.55" stop-color="#fff" stop-opacity="0.80"/><stop offset="1" stop-color="#fff" stop-opacity="0"/></radialGradient>
<ellipse cx="57" cy="5" rx="10" ry="3.75" transform="rotate(0 57 5)" fill="url(#p3g0_2)"/>
<radialGradient id="p3g0_3"><stop offset="0" stop-color="#fff" stop-opacity="1.00"/><stop offset="0.55" stop-color="#fff" stop-opacity="0.80"/><stop offset="1" stop-color="#fff" stop-opacity="0"/></radialGradient>
<ellipse cx="33" cy="0.5" rx="3.75" ry="1.25" transform="rotate(0 33 0.5)" fill="url(#p3g0_3)"/>
<radialGradient id="p3g0_4"><stop offset="0" stop-color="#fff" stop-opacity="1.00"/><stop offset="0.55" stop-color="#fff" stop-opacity="0.80"/><stop offset="1" stop-color="#fff" stop-opacity="0"/></radialGradient>
<ellipse cx="31.5" cy="5" rx="2.5" ry="1.5" transform="rotate(0 31.5 5)" fill="url(#p3g0_4)"/>
<radialGradient id="p3g0_5"><stop offset="0" stop-color="#fff" stop-opacity="1.00"/><stop offset="0.55" stop-color="#fff" stop-opacity="0.80"/><stop offset="1" stop-color="#fff" stop-opacity="0"/></radialGradient>
<ellipse cx="39" cy="3" rx="2.5" ry="1.25" transform="rotate(0 39 3)" fill="url(#p3g0_5)"/>
<radialGradient id="p3g0_6"><stop offset="0" stop-color="#fff" stop-opacity="1.00"/><stop offset="0.55" stop-color="#fff" stop-opacity="0.80"/><stop offset="1" stop-color="#fff" stop-opacity="0"/></radialGradient>
<ellipse cx="61.5" cy="4.5" rx="3.75" ry="2.5" transform="rotate(0 61.5 4.5)" fill="url(#p3g0_6)"/>
<radialGradient id="p3g0_7"><stop offset="0" stop-color="#fff" stop-opacity="1.00"/><stop offset="0.55" stop-color="#fff" stop-opacity="0.80"/><stop offset="1" stop-color="#fff" stop-opacity="0"/></radialGradient>
<ellipse cx="21" cy="11.5" rx="6.25" ry="3.75" transform="rotate(0 21 11.5)" fill="url(#p3g0_7)"/>
<radialGradient id="p3g0_8"><stop offset="0" stop-color="#fff" stop-opacity="0.75"/><stop offset="0.55" stop-color="#fff" stop-opacity="0.60"/><stop offset="1" stop-color="#fff" stop-opacity="0"/></radialGradient>
<ellipse cx="14" cy="11" rx="8.75" ry="5" transform="rotate(0 14 11)" fill="url(#p3g0_8)"/>
<radialGradient id="p3g0_9"><stop offset="0" stop-color="#fff" stop-opacity="1.00"/><stop offset="0.55" stop-color="#fff" stop-opacity="0.80"/><stop offset="1" stop-color="#fff" stop-opacity="0"/></radialGradient>
<ellipse cx="86" cy="18" rx="3.12" ry="5" transform="rotate(0 86 18)" fill="url(#p3g0_9)"/>
<radialGradient id="p3g0_10"><stop offset="0" stop-color="#fff" stop-opacity="1.00"/><stop offset="0.55" stop-color="#fff" stop-opacity="0.80"/><stop offset="1" stop-color="#fff" stop-opacity="0"/></radialGradient>
<ellipse cx="101.5" cy="39" rx="3.75" ry="3.12" transform="rotate(0 101.5 39)" fill="url(#p3g0_10)"/>
<radialGradient id="p3g0_11"><stop offset="0" stop-color="#fff" stop-opacity="1.00"/><stop offset="0.55" stop-color="#fff" stop-opacity="0.80"/><stop offset="1" stop-color="#fff" stop-opacity="0"/></radialGradient>
<ellipse cx="60" cy="32.5" rx="3.75" ry="2.5" transform="rotate(0 60 32.5)" fill="url(#p3g0_11)"/>
<radialGradient id="p3g0_12"><stop offset="0" stop-color="#fff" stop-opacity="0.75"/><stop offset="0.55" stop-color="#fff" stop-opacity="0.60"/><stop offset="1" stop-color="#fff" stop-opacity="0"/></radialGradient>
<ellipse cx="1" cy="26" rx="2.5" ry="6.25" transform="rotate(0 1 26)" fill="url(#p3g0_12)"/>
</mask>
<mask id="mp3_1" maskUnits="userSpaceOnUse" x="-5" y="-5" width="115" height="60">
<rect x="-5" y="-5" width="115" height="60" fill="#000"/>
<radialGradient id="p3g1_0"><stop offset="0" stop-color="#fff" stop-opacity="1.00"/><stop offset="0.55" stop-color="#fff" stop-opacity="0.80"/><stop offset="1" stop-color="#fff" stop-opacity="0"/></radialGradient>
<ellipse cx="35" cy="4" rx="8.31" ry="3.69" transform="rotate(0 35 4)" fill="url(#p3g1_0)"/>
<radialGradient id="p3g1_1"><stop offset="0" stop-color="#fff" stop-opacity="0.62"/><stop offset="0.55" stop-color="#fff" stop-opacity="0.50"/><stop offset="1" stop-color="#fff" stop-opacity="0"/></radialGradient>
<ellipse cx="45" cy="4.5" rx="10.52" ry="3.51" transform="rotate(0 45 4.5)" fill="url(#p3g1_1)"/>
<radialGradient id="p3g1_2"><stop offset="0" stop-color="#fff" stop-opacity="0.25"/><stop offset="0.55" stop-color="#fff" stop-opacity="0.20"/><stop offset="1" stop-color="#fff" stop-opacity="0"/></radialGradient>
<ellipse cx="57" cy="5" rx="6.38" ry="2.39" transform="rotate(0 57 5)" fill="url(#p3g1_2)"/>
<radialGradient id="p3g1_3"><stop offset="0" stop-color="#fff" stop-opacity="1.00"/><stop offset="0.55" stop-color="#fff" stop-opacity="0.80"/><stop offset="1" stop-color="#fff" stop-opacity="0"/></radialGradient>
<ellipse cx="33" cy="0.5" rx="2.84" ry="0.95" transform="rotate(0 33 0.5)" fill="url(#p3g1_3)"/>
<radialGradient id="p3g1_4"><stop offset="0" stop-color="#fff" stop-opacity="1.00"/><stop offset="0.55" stop-color="#fff" stop-opacity="0.80"/><stop offset="1" stop-color="#fff" stop-opacity="0"/></radialGradient>
<ellipse cx="31.5" cy="5" rx="1.89" ry="1.13" transform="rotate(0 31.5 5)" fill="url(#p3g1_4)"/>
<radialGradient id="p3g1_5"><stop offset="0" stop-color="#fff" stop-opacity="1.00"/><stop offset="0.55" stop-color="#fff" stop-opacity="0.80"/><stop offset="1" stop-color="#fff" stop-opacity="0"/></radialGradient>
<ellipse cx="39" cy="3" rx="1.87" ry="0.94" transform="rotate(0 39 3)" fill="url(#p3g1_5)"/>
<radialGradient id="p3g1_6"><stop offset="0" stop-color="#fff" stop-opacity="0.75"/><stop offset="0.55" stop-color="#fff" stop-opacity="0.60"/><stop offset="1" stop-color="#fff" stop-opacity="0"/></radialGradient>
<ellipse cx="61.5" cy="4.5" rx="2.67" ry="1.78" transform="rotate(0 61.5 4.5)" fill="url(#p3g1_6)"/>
<radialGradient id="p3g1_7"><stop offset="0" stop-color="#fff" stop-opacity="0.25"/><stop offset="0.55" stop-color="#fff" stop-opacity="0.20"/><stop offset="1" stop-color="#fff" stop-opacity="0"/></radialGradient>
<ellipse cx="21" cy="11.5" rx="3.99" ry="2.39" transform="rotate(0 21 11.5)" fill="url(#p3g1_7)"/>
<radialGradient id="p3g1_9"><stop offset="0" stop-color="#fff" stop-opacity="0.38"/><stop offset="0.55" stop-color="#fff" stop-opacity="0.30"/><stop offset="1" stop-color="#fff" stop-opacity="0"/></radialGradient>
<ellipse cx="86" cy="18" rx="2.09" ry="3.34" transform="rotate(0 86 18)" fill="url(#p3g1_9)"/>
<radialGradient id="p3g1_10"><stop offset="0" stop-color="#fff" stop-opacity="1.00"/><stop offset="0.55" stop-color="#fff" stop-opacity="0.80"/><stop offset="1" stop-color="#fff" stop-opacity="0"/></radialGradient>
<ellipse cx="101.5" cy="39" rx="2.73" ry="2.28" transform="rotate(0 101.5 39)" fill="url(#p3g1_10)"/>
<radialGradient id="p3g1_11"><stop offset="0" stop-color="#fff" stop-opacity="0.38"/><stop offset="0.55" stop-color="#fff" stop-opacity="0.30"/><stop offset="1" stop-color="#fff" stop-opacity="0"/></radialGradient>
<ellipse cx="60" cy="32.5" rx="2.5" ry="1.67" transform="rotate(0 60 32.5)" fill="url(#p3g1_11)"/>
</mask>
<mask id="mp3_2" maskUnits="userSpaceOnUse" x="-5" y="-5" width="115" height="60">
<rect x="-5" y="-5" width="115" height="60" fill="#000"/>
<radialGradient id="p3g2_0"><stop offset="0" stop-color="#fff" stop-opacity="0.25"/><stop offset="0.55" stop-color="#fff" stop-opacity="0.20"/><stop offset="1" stop-color="#fff" stop-opacity="0"/></radialGradient>
<ellipse cx="35" cy="4" rx="6.2" ry="2.76" transform="rotate(0 35 4)" fill="url(#p3g2_0)"/>
<radialGradient id="p3g2_3"><stop offset="0" stop-color="#fff" stop-opacity="1.00"/><stop offset="0.55" stop-color="#fff" stop-opacity="0.80"/><stop offset="1" stop-color="#fff" stop-opacity="0"/></radialGradient>
<ellipse cx="33" cy="0.5" rx="2.43" ry="0.81" transform="rotate(0 33 0.5)" fill="url(#p3g2_3)"/>
<radialGradient id="p3g2_4"><stop offset="0" stop-color="#fff" stop-opacity="0.88"/><stop offset="0.55" stop-color="#fff" stop-opacity="0.70"/><stop offset="1" stop-color="#fff" stop-opacity="0"/></radialGradient>
<ellipse cx="31.5" cy="5" rx="1.6" ry="0.96" transform="rotate(0 31.5 5)" fill="url(#p3g2_4)"/>
<radialGradient id="p3g2_5"><stop offset="0" stop-color="#fff" stop-opacity="0.62"/><stop offset="0.55" stop-color="#fff" stop-opacity="0.50"/><stop offset="1" stop-color="#fff" stop-opacity="0"/></radialGradient>
<ellipse cx="39" cy="3" rx="1.54" ry="0.77" transform="rotate(0 39 3)" fill="url(#p3g2_5)"/>
</mask>
<mask id="mp3_3" maskUnits="userSpaceOnUse" x="-5" y="-5" width="115" height="60">
<rect x="-5" y="-5" width="115" height="60" fill="#000"/>
<radialGradient id="p3g3_3"><stop offset="0" stop-color="#fff" stop-opacity="0.25"/><stop offset="0.55" stop-color="#fff" stop-opacity="0.20"/><stop offset="1" stop-color="#fff" stop-opacity="0"/></radialGradient>
<ellipse cx="33" cy="0.5" rx="1.87" ry="0.62" transform="rotate(0 33 0.5)" fill="url(#p3g3_3)"/>
<radialGradient id="p3g3_4"><stop offset="0" stop-color="#fff" stop-opacity="0.13"/><stop offset="0.55" stop-color="#fff" stop-opacity="0.10"/><stop offset="1" stop-color="#fff" stop-opacity="0"/></radialGradient>
<ellipse cx="31.5" cy="5" rx="1.13" ry="0.68" transform="rotate(0 31.5 5)" fill="url(#p3g3_4)"/>
</mask>
</defs>
<g clip-path="url(#cp3)">
<rect x="475" y="238" width="299" height="140" fill="#d5d5d5"/>
<g transform="translate(475 238) scale(2.90291 2.91667)" fill="none" stroke-width="0.293" shape-rendering="crispEdges">
<use href="#p3a" stroke="#0000c0"/><use href="#p3b" stroke="#0000f4"/><use href="#p3c" stroke="#0a30ff"/><use href="#p3l" stroke="#0070ff"/>
<use href="#p3e" stroke="#0000f0" mask="url(#dp3)"/>
<g stroke="#0050ff" mask="url(#mp3_0)"><use href="#p3a"/><use href="#p3b"/><use href="#p3c"/><use href="#p3l"/><use href="#p3e" mask="url(#dp3)"/></g>
<g stroke="#00d8ff" mask="url(#mp3_1)"><use href="#p3a"/><use href="#p3b"/><use href="#p3c"/><use href="#p3l"/><use href="#p3e" mask="url(#dp3)"/></g>
<g stroke="#70ff8f" mask="url(#mp3_2)"><use href="#p3a"/><use href="#p3b"/><use href="#p3c"/><use href="#p3l"/><use href="#p3e" mask="url(#dp3)"/></g>
<g stroke="#ffee00" mask="url(#mp3_3)"><use href="#p3a"/><use href="#p3b"/><use href="#p3c"/><use href="#p3l"/><use href="#p3e" mask="url(#dp3)"/></g>
<path d="M-5 -9 31 -9 29.1 -1 29.3 0 29.5 0.7 29 1.1 28.5 1.4 27.6 1.5 27.1 2.1 26.4 2.2 25.8 2.8 25 3.4 24.2 3.9 23.8 4.5 23.6 5.3 23.7 6.2 24.1 7 24.4 7.6 24.5 8.1 24.8 9 24.95 9.7 24.85 10.3 24.6 10.8 24.1 10.85 23.8 10.5 23.3 10.1 23.1 9.5 22.7 9 22.3 8.4 22.2 7.8 22.3 7.2 21.8 6.8 21.3 6.1 20.7 5.95 20.1 6.3 19.6 6.3 19.1 5.8 18.5 5.6 17.7 5.7 17 5.65 16.4 5.65 15.6 5.8 15.4 6.1 15.8 6.7 15.6 7 15 6.8 14.4 6.9 13.7 6.7 12.7 6.45 11.8 6.25 11 6.35 10.2 6.7 9.7 7.1 9 7.4 8.4 7.8 7.9 8.2 7.7 8.7 7.6 9.4 7.8 10.1 7.4 11.2 7.2 12.2 7.3 13.4 7.7 14.2 7.9 15 8.4 16.1 8.8 16.8 9.3 17.2 10 17.45 10.5 17.85 11.4 17.6 12.2 17.5 13 17.35 13.7 17.5 14.3 16.7 14.55 16 14.7 15.1 15.4 14.7 16.4 14.5 17.4 14.45 18 14.6 18.2 15.1 17.7 15.8 17.5 16.5 17.3 17.2 16.9 17.6 16.8 18.4 16.7 19.4 16.3 20.1 16.9 20.3 17.5 20.15 18.2 20.2 19 20.05 20 20.05 20.7 20.25 21.4 20.7 21.8 21.05 21.6 21.8 21.5 22.7 21.5 23.5 21.3 24.3 21.2 25 21.6 25.6 22.2 26.2 22.8 26.8 23.5 27.2 24.2 27.1 25 26.65 25.5 26.4 26.2 26.6 27 26.9 27.6 27.4 28.1 27.7 28.3 27.3 28.8 26.7 29.3 26.3 29.5 25.5 30 25 30.7 24.9 31.5 24.7 32.5 24.1 33.1 23.6 33.7 23.7 33.6 24.2 33.1 24.5 33.4 25.1 34 24.8 34.8 24.5 35 23.8 35.4 24.5 36.2 24.6 36.8 25.1 37 25.5 38 25.4 38.8 25.4 39.4 25.9 40.1 25.9 40.7 25.5 41.5 25.4 42.5 25.3 43 25.4 42.7 25.8 43.1 26.2 43.8 27 44.3 27.4 45 27.6 45.7 28.2 46.4 28.8 46.7 29.2 47.4 29.7 48 30.1 49 30.1 50 30 51 30.2 52 30.5 52.8 31.1 53.4 31.8 53.9 32.3 54.3 33.5 54.7 34.2 55.1 34.9 54.8 35.4 54.4 35.9 55 36.2 55.8 36.1 56.6 36.4 56.5 37.2 57.2 36.6 58.1 36.8 58.8 37 59.7 37.5 60.4 38.1 60.7 38.5 61.6 38.4 62.8 38.8 63.7 38.9 65 38.85 66 39.5 66.7 39.9 67.5 40.6 68.4 41.1 69.5 41.2 69.8 41.7 70.1 42.7 70.2 43.5 69.9 44.5 69.5 45.4 68.8 46.3 68 47 67.4 48 66.8 49 66.5 50 28.4 50 28.5 49 28.7 48 28 47.6 27.3 46.5 26.7 45.5 26 44.2 25.4 43.2 24.7 42.7 23.9 42.1 23.8 41.3 23.7 40.5 24.4 39.6 24.7 39.4 25.1 38.6 24.7 38.5 24.1 38.2 24.5 37.2 24.9 36.4 25 35.4 25.5 35 26.1 34.6 26.4 34 27.1 33.4 27.6 32.7 27.8 32 27.6 31.2 27.6 30.4 27.5 29.4 27.1 28.8 26.6 28 26.1 27.6 25.5 27.1 25 27.6 24.6 27.8 24.7 28.5 24.1 28.7 23.3 28 22.5 27.8 22 27.6 21.4 27.1 21 26.5 20.3 26.1 19.8 25.9 19.3 26 19.2 25.4 19.3 24.9 18.5 24.2 17.8 23.5 17.4 23 17.2 22.7 16.4 22.8 15.7 22.5 14.9 22.2 13.8 22.1 12.8 21.5 12 20.8 11.1 20.1 10.3 19.8 9.7 20.1 8.8 20.3 8 20.1 7.2 19.9 6.4 19.6 5.3 19.3 4.1 18.8 3.2 18.2 2.4 18 1.5 17.7 0.7 17 0 16.4 -0.6 15.6 -0.3 15 -0.7 13.6 -1.5 12.8 -5 12ZM20.05 14.15 20.6 14 21 13.3 21.8 13.05 22.7 12.85 23.6 12.85 24.4 12.95 25.3 13.25 26.2 13.6 27.1 14 27.9 14.4 28.7 14.8 29.4 15 30.1 15.35 30.85 15.75 30.3 15.95 29.5 16.1 28.5 16.05 27.5 16.15 27.3 15.7 27.8 15.35 26.9 15.1 26.3 14.4 25.1 14.25 24.4 13.95 23.6 13.85 22.8 13.7 23.1 13.35 22.2 13.35 21.5 13.8 21 14.1 20.5 14.25ZM30.55 17.65 31.6 17.75 32.5 17.8 33.3 18.2 33.6 18.4 34.3 17.7 35 17.75 35.7 17.55 36.3 17.8 36.65 17.4 36.1 17.05 35.6 16.8 35.1 16.35 34.2 16.1 33.3 16.25 32.2 16.05 31.6 16.35 32.3 16.6 32.2 17 32.6 17.35 32 17.55 30.8 17.35ZM26.65 17.75 27.4 17.5 28.1 17.6 28.8 18 28.2 18.1 27.8 18.3 27.2 18.1 26.8 17.8ZM37.75 17.6 39 17.55 39.4 17.75 39.2 18 37.8 18.05ZM110 2 104 0.9 102.8 0.9 102.1 0.7 102.05 0.55 101.5 0.8 100.7 0.8 100.1 0.6 99.7 0.1 99.1 0.2 98.7 1 98.2 1.9 97.4 2.4 96.5 2.75 96 3.4 95.7 3.8 95.2 4.6 95.3 5.4 95.35 5.9 95.1 6.4 94.7 6.9 94 7.4 93.3 7.9 92.4 8.1 91.7 8.4 91.1 9.2 90.5 9.9 90.2 10.7 89.7 11.4 89 12.2 88.7 12.9 88.3 13.6 88 14.6 87.95 15.2 88.5 15.8 88.8 16.4 88.5 16.9 88.8 18 88.9 19 88.5 19.8 88.2 20.5 87.8 21.1 87.5 21.3 87.9 21.5 88.2 22.1 88.3 22.8 88.2 23.5 88.5 23.8 88.9 24.2 89.4 24.7 89.8 25.2 90.2 25.7 90.7 26.4 91.3 26.9 91.6 27.6 92 28.3 92.8 28.7 93.6 29.2 94.3 29.7 95 30.3 95.7 30.9 96.7 31.4 97.5 31.65 98.4 31.3 99.2 31 100.4 30.8 101.5 30.9 102.2 31 103 31.25 104 31 105 30.5 110 30ZM97 -1.5 98 -1.2 98.7 -0.6 99 -0.2 99.4 0 100 -0.4 100.6 -0.7 102 -0.75 103 -0.8 105 -2 105 -4 97 -4ZM43.1 25.9 43.4 25.25 44.1 25.15 44 25.9Z" fill="#cccccc" stroke="none"/>
<path d="M33.4 25.05 33.6 25.4 34 25.7 33.9 26.4 33.5 26.9 33.1 26.7 33 26.1 33.2 25.5Z" fill="#1a1ab0" stroke="#000" stroke-width="0.310"/>
</g>
<path d="M489.51 238V378M547.57 238V378M605.63 238V378M663.69 238V378M721.75 238V378M475 255.5H774M475 284.67H774M475 313.83H774M475 343H774M475 372.17H774" stroke="#000" stroke-opacity="0.07" stroke-width="1" fill="none"/>
<g transform="translate(475 238) scale(2.90291 2.91667)"><path d="M-5 -9 31 -9 29.1 -1 29.3 0 29.5 0.7 29 1.1 28.5 1.4 27.6 1.5 27.1 2.1 26.4 2.2 25.8 2.8 25 3.4 24.2 3.9 23.8 4.5 23.6 5.3 23.7 6.2 24.1 7 24.4 7.6 24.5 8.1 24.8 9 24.95 9.7 24.85 10.3 24.6 10.8 24.1 10.85 23.8 10.5 23.3 10.1 23.1 9.5 22.7 9 22.3 8.4 22.2 7.8 22.3 7.2 21.8 6.8 21.3 6.1 20.7 5.95 20.1 6.3 19.6 6.3 19.1 5.8 18.5 5.6 17.7 5.7 17 5.65 16.4 5.65 15.6 5.8 15.4 6.1 15.8 6.7 15.6 7 15 6.8 14.4 6.9 13.7 6.7 12.7 6.45 11.8 6.25 11 6.35 10.2 6.7 9.7 7.1 9 7.4 8.4 7.8 7.9 8.2 7.7 8.7 7.6 9.4 7.8 10.1 7.4 11.2 7.2 12.2 7.3 13.4 7.7 14.2 7.9 15 8.4 16.1 8.8 16.8 9.3 17.2 10 17.45 10.5 17.85 11.4 17.6 12.2 17.5 13 17.35 13.7 17.5 14.3 16.7 14.55 16 14.7 15.1 15.4 14.7 16.4 14.5 17.4 14.45 18 14.6 18.2 15.1 17.7 15.8 17.5 16.5 17.3 17.2 16.9 17.6 16.8 18.4 16.7 19.4 16.3 20.1 16.9 20.3 17.5 20.15 18.2 20.2 19 20.05 20 20.05 20.7 20.25 21.4 20.7 21.8 21.05 21.6 21.8 21.5 22.7 21.5 23.5 21.3 24.3 21.2 25 21.6 25.6 22.2 26.2 22.8 26.8 23.5 27.2 24.2 27.1 25 26.65 25.5 26.4 26.2 26.6 27 26.9 27.6 27.4 28.1 27.7 28.3 27.3 28.8 26.7 29.3 26.3 29.5 25.5 30 25 30.7 24.9 31.5 24.7 32.5 24.1 33.1 23.6 33.7 23.7 33.6 24.2 33.1 24.5 33.4 25.1 34 24.8 34.8 24.5 35 23.8 35.4 24.5 36.2 24.6 36.8 25.1 37 25.5 38 25.4 38.8 25.4 39.4 25.9 40.1 25.9 40.7 25.5 41.5 25.4 42.5 25.3 43 25.4 42.7 25.8 43.1 26.2 43.8 27 44.3 27.4 45 27.6 45.7 28.2 46.4 28.8 46.7 29.2 47.4 29.7 48 30.1 49 30.1 50 30 51 30.2 52 30.5 52.8 31.1 53.4 31.8 53.9 32.3 54.3 33.5 54.7 34.2 55.1 34.9 54.8 35.4 54.4 35.9 55 36.2 55.8 36.1 56.6 36.4 56.5 37.2 57.2 36.6 58.1 36.8 58.8 37 59.7 37.5 60.4 38.1 60.7 38.5 61.6 38.4 62.8 38.8 63.7 38.9 65 38.85 66 39.5 66.7 39.9 67.5 40.6 68.4 41.1 69.5 41.2 69.8 41.7 70.1 42.7 70.2 43.5 69.9 44.5 69.5 45.4 68.8 46.3 68 47 67.4 48 66.8 49 66.5 50 28.4 50 28.5 49 28.7 48 28 47.6 27.3 46.5 26.7 45.5 26 44.2 25.4 43.2 24.7 42.7 23.9 42.1 23.8 41.3 23.7 40.5 24.4 39.6 24.7 39.4 25.1 38.6 24.7 38.5 24.1 38.2 24.5 37.2 24.9 36.4 25 35.4 25.5 35 26.1 34.6 26.4 34 27.1 33.4 27.6 32.7 27.8 32 27.6 31.2 27.6 30.4 27.5 29.4 27.1 28.8 26.6 28 26.1 27.6 25.5 27.1 25 27.6 24.6 27.8 24.7 28.5 24.1 28.7 23.3 28 22.5 27.8 22 27.6 21.4 27.1 21 26.5 20.3 26.1 19.8 25.9 19.3 26 19.2 25.4 19.3 24.9 18.5 24.2 17.8 23.5 17.4 23 17.2 22.7 16.4 22.8 15.7 22.5 14.9 22.2 13.8 22.1 12.8 21.5 12 20.8 11.1 20.1 10.3 19.8 9.7 20.1 8.8 20.3 8 20.1 7.2 19.9 6.4 19.6 5.3 19.3 4.1 18.8 3.2 18.2 2.4 18 1.5 17.7 0.7 17 0 16.4 -0.6 15.6 -0.3 15 -0.7 13.6 -1.5 12.8 -5 12ZM20.05 14.15 20.6 14 21 13.3 21.8 13.05 22.7 12.85 23.6 12.85 24.4 12.95 25.3 13.25 26.2 13.6 27.1 14 27.9 14.4 28.7 14.8 29.4 15 30.1 15.35 30.85 15.75 30.3 15.95 29.5 16.1 28.5 16.05 27.5 16.15 27.3 15.7 27.8 15.35 26.9 15.1 26.3 14.4 25.1 14.25 24.4 13.95 23.6 13.85 22.8 13.7 23.1 13.35 22.2 13.35 21.5 13.8 21 14.1 20.5 14.25ZM30.55 17.65 31.6 17.75 32.5 17.8 33.3 18.2 33.6 18.4 34.3 17.7 35 17.75 35.7 17.55 36.3 17.8 36.65 17.4 36.1 17.05 35.6 16.8 35.1 16.35 34.2 16.1 33.3 16.25 32.2 16.05 31.6 16.35 32.3 16.6 32.2 17 32.6 17.35 32 17.55 30.8 17.35ZM26.65 17.75 27.4 17.5 28.1 17.6 28.8 18 28.2 18.1 27.8 18.3 27.2 18.1 26.8 17.8ZM37.75 17.6 39 17.55 39.4 17.75 39.2 18 37.8 18.05ZM110 2 104 0.9 102.8 0.9 102.1 0.7 102.05 0.55 101.5 0.8 100.7 0.8 100.1 0.6 99.7 0.1 99.1 0.2 98.7 1 98.2 1.9 97.4 2.4 96.5 2.75 96 3.4 95.7 3.8 95.2 4.6 95.3 5.4 95.35 5.9 95.1 6.4 94.7 6.9 94 7.4 93.3 7.9 92.4 8.1 91.7 8.4 91.1 9.2 90.5 9.9 90.2 10.7 89.7 11.4 89 12.2 88.7 12.9 88.3 13.6 88 14.6 87.95 15.2 88.5 15.8 88.8 16.4 88.5 16.9 88.8 18 88.9 19 88.5 19.8 88.2 20.5 87.8 21.1 87.5 21.3 87.9 21.5 88.2 22.1 88.3 22.8 88.2 23.5 88.5 23.8 88.9 24.2 89.4 24.7 89.8 25.2 90.2 25.7 90.7 26.4 91.3 26.9 91.6 27.6 92 28.3 92.8 28.7 93.6 29.2 94.3 29.7 95 30.3 95.7 30.9 96.7 31.4 97.5 31.65 98.4 31.3 99.2 31 100.4 30.8 101.5 30.9 102.2 31 103 31.25 104 31 105 30.5 110 30ZM97 -1.5 98 -1.2 98.7 -0.6 99 -0.2 99.4 0 100 -0.4 100.6 -0.7 102 -0.75 103 -0.8 105 -2 105 -4 97 -4ZM43.1 25.9 43.4 25.25 44.1 25.15 44 25.9Z" fill="#111" fill-opacity="0" stroke="#000" stroke-width="0.362" stroke-linejoin="round"/><path d="M26.65 11.5a0.35 0.45 0 1 0 0.7 0a0.35 0.45 0 1 0 -0.7 0ZM26 9.35a0.6 0.15 0 1 0 1.2 0a0.6 0.15 0 1 0 -1.2 0ZM27.6 9.6a0.2 0.5 0 1 0 0.4 0a0.2 0.5 0 1 0 -0.4 0ZM28.55 10.9a0.15 0.45 0 1 0 0.3 0a0.15 0.45 0 1 0 -0.3 0ZM29.28 11.7a0.12 0.3 0 1 0 0.24 0a0.12 0.3 0 1 0 -0.24 0ZM29.78 12.7a0.12 0.35 0 1 0 0.24 0a0.12 0.35 0 1 0 -0.24 0ZM31.2 15a0.3 0.15 0 1 0 0.6 0a0.3 0.15 0 1 0 -0.6 0ZM32.6 14.2a0.4 0.12 0 1 0 0.8 0a0.4 0.12 0 1 0 -0.8 0ZM30.85 13.6a0.25 0.2 0 1 0 0.5 0a0.25 0.2 0 1 0 -0.5 0ZM43.15 19.8a0.25 0.2 0 1 0 0.5 0a0.25 0.2 0 1 0 -0.5 0ZM43.85 21.35a0.15 0.25 0 1 0 0.3 0a0.15 0.25 0 1 0 -0.3 0ZM45.33 22.85a0.12 0.15 0 1 0 0.24 0a0.12 0.15 0 1 0 -0.24 0ZM43.55 20.6a0.1 0.15 0 1 0 0.2 0a0.1 0.15 0 1 0 -0.2 0ZM43.7 22.75a0.1 0.15 0 1 0 0.2 0a0.1 0.15 0 1 0 -0.2 0ZM43.15 23.9a0.1 0.1 0 1 0 0.2 0a0.1 0.1 0 1 0 -0.2 0ZM42.1 18.7a0.1 0.1 0 1 0 0.2 0a0.1 0.1 0 1 0 -0.2 0ZM43.08 18.9a0.12 0.1 0 1 0 0.24 0a0.12 0.1 0 1 0 -0.24 0ZM35.8 23.8a0.2 0.1 0 1 0 0.4 0a0.2 0.1 0 1 0 -0.4 0ZM36.55 23.8a0.15 0.1 0 1 0 0.3 0a0.15 0.1 0 1 0 -0.3 0ZM34.88 23.5a0.12 0.1 0 1 0 0.24 0a0.12 0.1 0 1 0 -0.24 0ZM40.18 17.7a0.12 0.06 0 1 0 0.24 0a0.12 0.06 0 1 0 -0.24 0ZM23.55 16.7a0.15 0.08 0 1 0 0.3 0a0.15 0.08 0 1 0 -0.3 0ZM13.35 36.5a0.45 0.5 0 1 0 0.9 0a0.45 0.5 0 1 0 -0.9 0ZM14.4 36.7a0.2 0.2 0 1 0 0.4 0a0.2 0.2 0 1 0 -0.4 0ZM15.35 36.85a0.15 0.1 0 1 0 0.3 0a0.15 0.1 0 1 0 -0.3 0ZM88.25 7.7a0.25 0.15 0 1 0 0.5 0a0.25 0.15 0 1 0 -0.5 0ZM89.15 8a0.25 0.2 0 1 0 0.5 0a0.25 0.2 0 1 0 -0.5 0ZM90.6 7.6a0.4 0.2 0 1 0 0.8 0a0.4 0.2 0 1 0 -0.8 0ZM91 7a0.3 0.15 0 1 0 0.6 0a0.3 0.15 0 1 0 -0.6 0ZM87 7.3a0.1 0.15 0 1 0 0.2 0a0.1 0.15 0 1 0 -0.2 0ZM87.68 7.9a0.12 0.1 0 1 0 0.24 0a0.12 0.1 0 1 0 -0.24 0ZM87.85 3.25a0.25 0.1 0 1 0 0.5 0a0.25 0.1 0 1 0 -0.5 0ZM80.35 21.05a0.15 0.12 0 1 0 0.3 0a0.15 0.12 0 1 0 -0.3 0ZM81.2 20.9a0.2 0.25 0 1 0 0.4 0a0.2 0.25 0 1 0 -0.4 0ZM82.05 19.9a0.15 0.15 0 1 0 0.3 0a0.15 0.15 0 1 0 -0.3 0ZM82 19.3a0.1 0.1 0 1 0 0.2 0a0.1 0.1 0 1 0 -0.2 0ZM79.65 19a0.25 0.15 0 1 0 0.5 0a0.25 0.15 0 1 0 -0.5 0ZM80.55 19.4a0.15 0.1 0 1 0 0.3 0a0.15 0.1 0 1 0 -0.3 0ZM72.52 39.85a0.08 0.06 0 1 0 0.16 0a0.08 0.06 0 1 0 -0.16 0ZM17.87 30.45a0.08 0.06 0 1 0 0.16 0a0.08 0.06 0 1 0 -0.16 0ZM23.25 23.45a0.05 0.05 0 1 0 0.1 0a0.05 0.05 0 1 0 -0.1 0ZM88.6 24.8a0.4 0.25 0 1 0 0.8 0a0.4 0.25 0 1 0 -0.8 0ZM89.2 24.5a0.3 0.2 0 1 0 0.6 0a0.3 0.2 0 1 0 -0.6 0Z" fill="#000"/><path d="M26 9.3 27.1 9.4M27.8 9 28 9.6 27.9 10M26.7 10.9 27.1 11.4 27.3 12M27 10.8 27.3 11.7M28.3 10.5 28.8 11 28.8 11.4M28.2 11.4 29.1 12.4M29.4 11.4 29.6 11.9M29.7 12.4 30.1 13M30.7 13.2 31.1 13.8M31.8 13.6 32.1 13.7M31.3 14.9 32 15M32.6 14.2 33.3 14.3" fill="none" stroke="#000" stroke-width="0.448" stroke-linecap="round"/></g>
</g>
<rect x="475.5" y="238.5" width="298" height="139" fill="none" stroke="#262626" stroke-opacity="0.4" stroke-width="1"/>
<path d="M489.51 238v2.8M489.51 378v-2.8M547.57 238v2.8M547.57 378v-2.8M605.63 238v2.8M605.63 378v-2.8M663.69 238v2.8M663.69 378v-2.8M721.75 238v2.8M721.75 378v-2.8M475 255.5h2.8M774 255.5h-2.8M475 284.67h2.8M774 284.67h-2.8M475 313.83h2.8M774 313.83h-2.8M475 343h2.8M774 343h-2.8M475 372.17h2.8M774 372.17h-2.8" stroke="#262626" stroke-opacity="0.45" stroke-width="1" fill="none"/>
<g opacity="0.999">
<text x="624.5" y="233.9" text-anchor="middle" font-weight="bold" font-size="11.75" fill="#000">DDM Peak SNR on 7-Jul-2020</text>
<text x="470.9" y="259.1" text-anchor="end" font-size="10" fill="#262626">30</text>
<text x="470.9" y="288.27" text-anchor="end" font-size="10" fill="#262626">20</text>
<text x="470.9" y="317.43" text-anchor="end" font-size="10" fill="#262626">10</text>
<text x="470.9" y="346.6" text-anchor="end" font-size="10" fill="#262626">0</text>
<text x="470.9" y="375.77" text-anchor="end" font-size="10" fill="#262626">-10</text>
<text x="489.51" y="391.7" text-anchor="middle" font-size="10" fill="#262626">-100</text>
<text x="547.57" y="391.7" text-anchor="middle" font-size="10" fill="#262626">-80</text>
<text x="605.63" y="391.7" text-anchor="middle" font-size="10" fill="#262626">-60</text>
<text x="663.69" y="391.7" text-anchor="middle" font-size="10" fill="#262626">-40</text>
<text x="721.75" y="391.7" text-anchor="middle" font-size="10" fill="#262626">-20</text>
<text x="624.5" y="406" text-anchor="middle" font-size="11.4" fill="#262626">Longitude (°)</text>
<text x="0" y="0" transform="translate(447.4 308) rotate(-90)" text-anchor="middle" font-size="11.4" dominant-baseline="central" fill="#262626">Latitude (°)</text>
<rect x="780.6" y="238.6" width="11.9" height="139" fill="url(#jet)"/>
<rect x="780.6" y="375.38" width="11.9" height="2.22" fill="#cccccc"/>
<rect x="780.6" y="238.6" width="11.9" height="139" fill="none" stroke="#262626" stroke-opacity="0.45" stroke-width="0.8"/>
<text x="795.9" y="380.3" font-size="9" fill="#262626">0</text>
<text x="795.9" y="354.65" font-size="9" fill="#262626">5</text>
<text x="795.9" y="329.01" font-size="9" fill="#262626">10</text>
<text x="795.9" y="303.36" font-size="9" fill="#262626">15</text>
<text x="795.9" y="277.72" font-size="9" fill="#262626">20</text>
<text x="795.9" y="252.07" font-size="9" fill="#262626">25</text>
<text x="786.55" y="233" text-anchor="middle" font-size="8.5" fill="#262626">dB</text>
<text x="626.1" y="431.8" text-anchor="middle" font-family="Liberation Serif" font-size="15" fill="#000">(l)</text>
</g>
</svg></body></html>
